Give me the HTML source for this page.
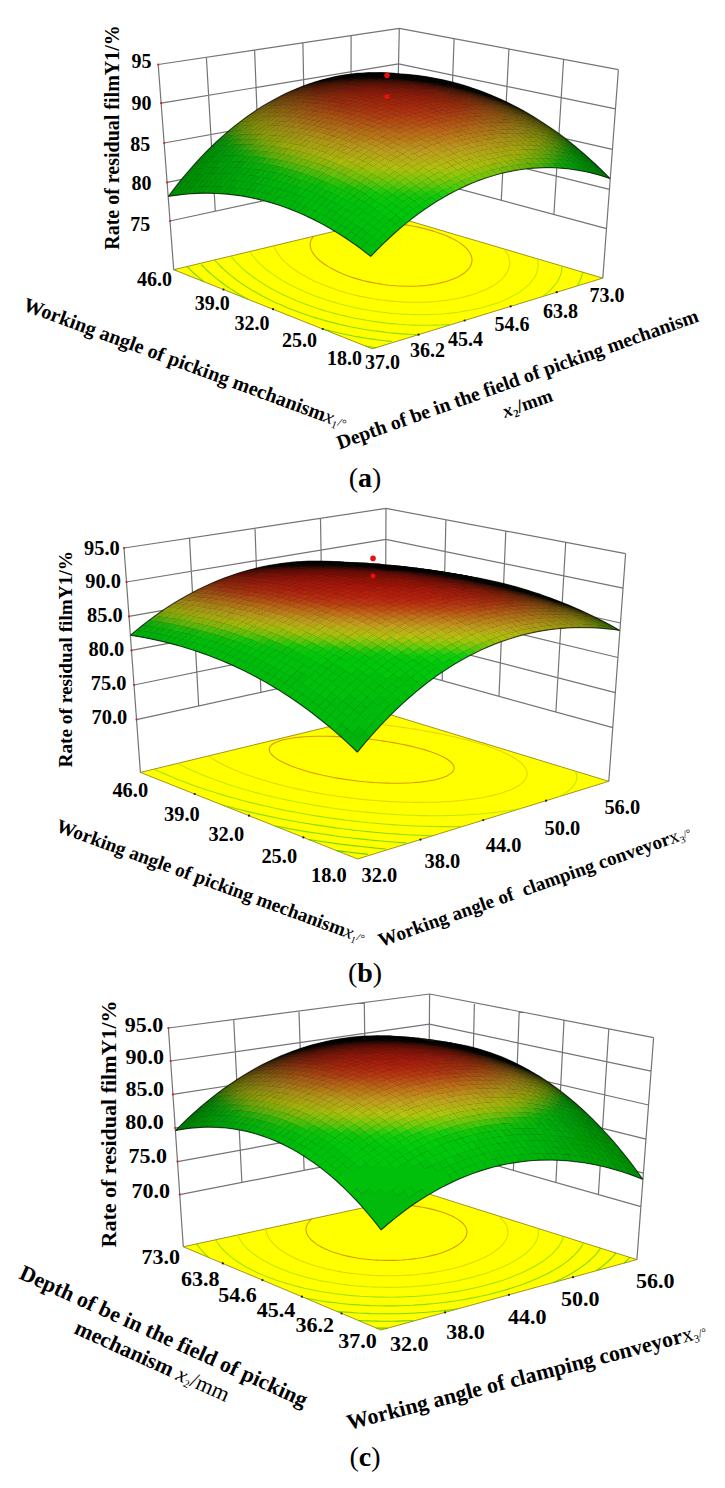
<!DOCTYPE html>
<html><head><meta charset="utf-8"><style>
html,body{margin:0;padding:0;background:#fff;}
svg{display:block;font-family:"Liberation Serif",serif;font-weight:bold;}
</style></head><body>
<svg width="725" height="1488" viewBox="0 0 725 1488">
<path d="M173.7 269.7L158.2 64.5M215.3 211.2L206.4 57.3M260.5 201.4L254.6 50.1M305.7 191.7L302.9 42.8M350.9 181.9L351.1 35.6M396.2 172.1L399.3 28.4M158.2 64.5L399.3 28.4M161.1 103.2L398.5 63.9M164.1 143L397.7 100.5M167.1 182.4L396.9 136.6M170 221L396.2 172.1M602.8 278.1L618.4 69.6M553.9 214.5L563.6 59.3M501.3 200.4L508.9 49M448.8 186.2L454.1 38.7M396.2 172.1L399.3 28.4M618.4 69.6L399.3 28.4M615.5 108.9L398.5 63.9M612.4 149.4L397.7 100.5M609.4 189.4L396.9 136.6M606.5 228.6L396.2 172.1" stroke="#747474" stroke-width="1.20" fill="none"/>
<path d="M372.4 348.8L173.7 269.7L395.2 216.8L602.8 278.1Z" fill="#ffff00" stroke="#8a7a00" stroke-width=".8"/>
<path d="M313.5 236.3L312.6 237.4L311.9 238.5L311.4 239.6L310.9 240.7L310.5 241.8L310.3 243.1L310.2 244.3L310.3 245.6L310.4 247L310.8 248.4L311.3 249.9L311.8 250.9L312.3 252L313 253.1L314.2 254.9L315.2 256.1L316.1 257.1L317.7 258.8L319.1 260L320.2 261L322.5 262.8L323.8 263.7L326.4 265.5L327.8 266.4L330.7 268.1L333.8 269.8L335.5 270.6L338.9 272.2L342.4 273.8L346.2 275.3L350.2 276.7L354.5 278.1L358.9 279.4L363.6 280.7L366.6 281.4L371.2 282.4L376.1 283.3L379.6 283.9L383.4 284.5L388.9 285.2L392.3 285.5L395.8 285.8L400 286L404.6 286.2L408.8 286.2L412.8 286.2L417.7 286L423.5 285.6L426.7 285.3L431.6 284.6L435.4 284L440.6 282.9L445.4 281.7L449.7 280.3L453.7 278.8L456.9 277.4L458.9 276.4L461.6 274.8L463.3 273.7L464.6 272.7L466.7 270.9L467.9 269.7L468.8 268.6L469.6 267.5L470.4 266.2L471.1 264.8L471.5 263.4L471.8 262.1L472 260.9L472 259.7L471.9 258.5L471.7 257.3L471.3 256L470.7 254.5L470 253L469.3 252L468.6 251L467.6 249.6L466.1 248.1L465.2 247.2L463.8 245.9L462 244.5L460.8 243.6L458.3 241.9L457 241.1L454.2 239.5L452.7 238.8L449.6 237.2L446.3 235.8L444.6 235.1L441 233.7L437.2 232.4L433.3 231.1L429.1 229.9L424.7 228.7L420 227.6L417.5 227L412.5 226L407.2 225.1L404.4 224.6L398.9 223.9L395.4 223.5L392.2 223.1L386.8 222.6L381.7 222.3L377.6 222.1L373.4 222" stroke="#cc7a00" stroke-width="1.1" stroke-opacity=".75" fill="none"/>
<path d="M274 245.7L274.4 246.8L274.8 247.9L275.3 249.2L276.1 250.8L277 252.2L277.6 253.3L278.3 254.3L279.6 256L280.7 257.4L281.6 258.4L283 259.9L284.4 261.4L285.4 262.4L287.6 264.3L288.7 265.2L290.6 266.8L292.3 268.1L294.2 269.5L296.2 270.8L298.7 272.5L300.3 273.5L303.3 275.3L304.8 276.1L307.9 277.8L311.2 279.5L314.2 280.9L316.3 281.9L319.9 283.5L323.7 285.1L327.5 286.6L331.6 288.1L335.7 289.5L340.1 290.9L344.5 292.3L347 293L351.6 294.2L356.6 295.4L359.5 296.1L364.4 297.1L368.6 297.9L372.8 298.7L376.1 299.2L381.8 300L385 300.4L388.8 300.9L394.3 301.4L398.7 301.7L402.5 301.9L406.4 302.1L410.5 302.2L414.8 302.3L419.3 302.3L424.2 302.2L429 301.9L432.6 301.7L436 301.5L442.1 300.8L445.6 300.4L450.4 299.7L454.3 299L459.7 298L464.3 296.9L467.2 296.1L471.9 294.8L476.2 293.4L478.3 292.6L482.2 291.1L485.9 289.5L487.7 288.6L491 286.8L492.6 285.9L495.5 284.1L496.9 283.1L498.8 281.7L500.6 280.1L501.8 279.1L502.8 278L504.3 276.3L505.6 274.7L506.3 273.6L507 272.4L507.6 271.3L508.2 270.1L508.7 268.8L509.1 267.5L509.4 266.2L509.6 264.9L509.7 263.7L509.7 262.4L509.6 261.1L509.4 259.7L509.1 258.3L508.7 256.8L508.2 255.6L507.7 254.6L507.2 253.5L506.5 252.3L505.5 250.7L504.6 249.5" stroke="#e0c800" stroke-width="1.1" stroke-opacity=".75" fill="none"/>
<path d="M250 251.5L250.6 252.5L251.5 254L252.8 255.7L253.5 256.7L254.4 257.7L256 259.6L257 260.8L257.9 261.8L259.9 263.8L261 264.8L262.4 266.1L264.2 267.7L265.4 268.6L267.7 270.5L268.9 271.5L271.5 273.4L272.8 274.3L275.5 276.1L276.8 277L279.7 278.8L282.6 280.6L284.1 281.5L287.2 283.2L290.4 285L292.1 285.8L295.4 287.5L298.9 289.1L302.5 290.8L305.5 292.1L308 293.2L311.9 294.7L315.9 296.2L320 297.7L324.2 299.2L326.3 299.9L330.8 301.3L335.3 302.6L340 304L343.2 304.8L347.4 305.8L352.5 307L355.1 307.6L360.5 308.7L363.2 309.3L368.9 310.3L371.9 310.8L377.5 311.6L381 312.1L384.2 312.5L389.6 313.1L394.3 313.5L397.9 313.8L401.6 314.1L405.3 314.3L409.9 314.5L414.4 314.6L418.8 314.7L422.9 314.7L427 314.6L431.5 314.5L436.7 314.3L441.9 314L445.3 313.7L448.7 313.4L455.1 312.6L458.2 312.2L464.1 311.3L467.1 310.8L472.6 309.8L476.2 309L480.5 308L485.4 306.7L490 305.3L494.5 303.9L498.7 302.4L501.1 301.5L504.7 300L508.4 298.3L510.1 297.4L513.5 295.6L515.5 294.5L518.2 292.9L519.7 291.9L522.5 289.9L523.8 288.9L525.3 287.7L527.4 285.8L528.5 284.8L529.6 283.7L530.9 282.3L532.2 280.6L533.2 279.2L534 278.1L534.7 276.9L535.4 275.7L536 274.5L536.6 273.1L537 271.7L537.4 270.4L537.7 269.1L537.9 267.8L538.1 266.5L538.1 265.3L538.1 264L538.1 262.8L537.9 261.6L537.7 260.2L537.3 258.8" stroke="#b0e000" stroke-width="1.1" stroke-opacity=".75" fill="none"/>
<path d="M230.9 256L232.1 257.6L233.4 259.1L234.2 260.2L235.5 261.6L237 263.2L238 264.2L239.7 265.9L241 267.2L242.2 268.2L244.3 270.1L245.5 271.1L247.8 273L249 274L251.5 275.9L252.8 276.8L255.4 278.7L256.8 279.6L259.5 281.5L261 282.4L263.9 284.2L266.8 286L268.4 286.9L271.5 288.7L274.7 290.4L276.3 291.3L279.7 293L283.1 294.7L286.6 296.3L290.3 298L292.1 298.8L295.9 300.4L299.7 301.9L303.7 303.5L307.8 305L312 306.5L314.9 307.5L318.4 308.7L322.9 310.1L327.5 311.5L332.2 312.8L334.6 313.4L339.5 314.7L344.6 315.9L347.2 316.5L352.5 317.7L355.2 318.3L360.7 319.3L363.6 319.8L369.4 320.8L372.4 321.3L376.4 321.9L381.8 322.6L385.1 323L388.5 323.4L394 323.9L398.8 324.3L402.5 324.5L406.2 324.8L410.1 325L414.1 325.1L418.3 325.2L422.6 325.3L426.9 325.3L431.5 325.2L436.4 325.1L441.5 324.9L446.1 324.6L449.6 324.4M562 266.1L562 267.4L561.9 268.7L561.7 270L561.5 271.3L561.2 272.6L560.9 273.9L560.5 275.1L560 276.4L559.5 277.6L558.8 278.9L558 280.4L557.1 282L556 283.5L555.2 284.7L554.3 285.8L553.4 286.9L551.8 288.6L550.3 290.2L549.1 291.3L547.9 292.4L545.5 294.4L544.2 295.4L542.7 296.6" stroke="#88d800" stroke-width="1.1" stroke-opacity=".75" fill="none"/>
<path d="M214.7 259.9L215.5 260.9L217.4 263L218.3 264L219.4 265.1L221.3 267L222.3 268L224.1 269.7L225.5 271L226.8 272.2L228.9 274L230.1 274.9L232.5 276.9L233.8 277.8L236.3 279.7L237.6 280.7L240.3 282.6L241.8 283.7L244.4 285.4L247.2 287.2L248.7 288.1L251.7 290L253.9 291.2L256.3 292.6L259.5 294.4L262.7 296.2L264.4 297L267.7 298.8L271.2 300.5L274.7 302.2L278.2 303.7L280.2 304.6L284 306.3L287.8 307.9L291.7 309.4L295.8 311L299.9 312.5L304.1 314L306.4 314.8L310.6 316.2L315.1 317.6L319.7 319L324.4 320.4L326.8 321.1L331.6 322.4L336.6 323.6L339.2 324.2L344.4 325.4L347.1 326L352.5 327.2L355.3 327.7L361 328.7L363.9 329.3L369.7 330.2L372.9 330.7L376.3 331.1L382.4 331.9L385.6 332.3L389 332.7L393.7 333.1L399 333.6L403.1 333.9L406.8 334.1L410.7 334.3L414.6 334.5L418.7 334.6M582.6 272.1L582.4 273.4L582.1 274.7L581.7 276L581.3 277.3L580.8 278.5L580.2 280L579.5 281.5L578.8 282.9L577.9 284.5L577.1 285.8" stroke="#66d000" stroke-width="1.1" stroke-opacity=".75" fill="none"/>
<path d="M321.5 328.5L325.5 329.6L330.4 330.9L333 331.5L338.2 332.7L342.4 333.7L346.2 334.5L350.9 335.5L354.5 336.2L358.6 336.9L363.2 337.7L366.2 338.2L372.3 339.1L375.4 339.5L378.6 340L384.5 340.7L388.4 341.1L391.8 341.4M600.7 277.5L600.7 277.5L600.3 278.7L600.2 278.9M247.7 299.2L245.7 298L242.6 296.2L239.5 294.4L238 293.5L235 291.7L232.9 290.3L230.7 288.9L227.9 287L226.6 286.1L223.9 284.2L222.6 283.2L220 281.3L218.7 280.3L216.3 278.4L215.1 277.4L212.7 275.4L211.6 274.4L209.4 272.5L208.3 271.5L206.7 270L205.1 268.4L204.1 267.4L202.2 265.5L201.2 264.4" stroke="#55cc00" stroke-width="1.1" stroke-opacity=".75" fill="none"/>
<path d="M365.3 346L367 346.3L370.1 346.7L371.9 347L373.2 347.2L376.4 347.6M203.9 281.7L202.4 280.5L200.4 278.9L198.9 277.6L197.3 276.2L195.5 274.6L194.4 273.6L192.2 271.6L191.2 270.6L189.5 268.9L188.1 267.5L187.2 266.5" stroke="#44c400" stroke-width="1.1" stroke-opacity=".75" fill="none"/>
<path d="M176.5 270.8L176.1 270.4L175.1 269.4" stroke="#33bc00" stroke-width="1.1" stroke-opacity=".75" fill="none"/>
<path d="M322.7 329.0h.1M273.0 309.2h.1M223.4 289.5h.1M418.5 334.7h.1M464.6 320.5h.1M510.6 306.4h.1M556.7 292.2h.1" stroke="#222" stroke-width="2.2" stroke-linecap="round"/>
<g><path fill="#1e2a10" d="M206 152L195 163.7L184.2 176.2L173.5 189.5L168.2 196.5L182.9 194.5L197.7 193.4L212.6 193.3L222.6 193.8L237.7 195.4L247.9 197.1L263.1 200.5L273.3 203.4L288.6 208.6L298.9 212.7L314.3 219.9L324.5 225.3L340 234.4L350.2 241.2L360.5 248.5L370.8 256.4L382.6 244.4L394.5 233.3L406.4 223.1L412.4 218.3L424.5 209.5L436.6 201.5L442.6 197.9L454.8 191.2L466.9 185.4L473 182.8L485.2 178.2L497.3 174.5L503.4 172.9L515.5 170.4L527.6 168.7L533.7 168.2L545.7 167.7L557.6 168L563.5 168.4L575.4 169.8L581.2 170.8L592.9 173.4L598.7 175L610.2 178.7L600.1 168.6L584.8 154.5L574.5 145.8L559 133.8L548.5 126.4L532.7 116.2L522.2 110.1L506.2 101.9L495.5 97L479.5 90.6L468.7 86.9L452.5 82.2L441.7 79.6L425.4 76.6L408.7 74.5L392 73.1L380.6 72.6L368.8 72.7L357 73.4L345.1 74.9L333.3 77.1L321.4 80.1L309.6 83.8L297.8 88.2L286 93.4L274.4 99.4L262.7 106.1L251.2 113.7L239.7 122.1L228.4 131.2L217.1 141.2Z"/><path fill="#000" d="M397.8 73.5l-5.5-.3 6.1 .7 5.5 .3zM391.8 73.1l-5.4-.3 6.2 .4 5.4 .4zM403.2 73.9l-5.5-.4 6.2 .7 5.4 .4zM385.9 72.8l-5.4-.2 6.2 .2 5.4 .3zM397.3 73.5l-5.5-.4 6.2 .4 5.4 .5zM408.6 74.5l-5.4-.5 6.1 .6 5.4 .6zM380 72.8l-5.4-.3 6.2 0 5.4 .3zM391.3 73.2l-5.4-.4 6.2 .3 5.4 .4zM414 75.1l-5.4-.6 6.1 .7 5.4 .7zM402.7 74l-5.4-.5 6.1 .5 5.4 .5zM374.1 72.9l-5.4-.2 6.1-.2 5.5 .3zM385.4 73.1l-5.4-.4 6.2 .1 5.4 .4zM419.4 75.9l-5.4-.8 6.1 .7 5.5 .9zM396.8 73.7l-5.5-.5 6.2 .3 5.4 .5zM408.1 74.6l-5.4-.6 6.1 .5 5.4 .7zM368.2 73.2l-5.4-.2 6.1-.4 5.4 .2zM379.5 73.2l-5.4-.4 6.1-.1 5.5 .4zM424.8 76.8l-5.4-.9 6.2 .7 5.4 .9zM390.9 73.6l-5.5-.5 6.2 0 5.4 .6zM413.5 75.4l-5.4-.8 6.1 .5 5.5 .8zM402.2 74.3l-5.4-.6 6.1 .2 5.4 .7zM362.3 73.6l-5.4-.2 6.1-.5 5.4 .2zM373.6 73.4l-5.4-.3 6.1-.3 5.4 .3zM384.9 73.6l-5.4-.5 6.1-.1 5.5 .5zM430.3 77.8l-5.5-1.1 6.2 .8 5.4 1zM396.3 74.1l-5.5-.6 6.2 .1 5.4 .6zM418.9 76.2l-5.4-.9 6.1 .5 5.5 1zM407.6 75l-5.4-.8 6.1 .3 5.4 .8zM356.3 74.3l-5.4-.2 6.1-.8 5.5 .2zM367.7 73.9l-5.5-.4 6.2-.5 5.4 .4zM379 73.8l-5.4-.4 6.1-.4 5.4 .5zM435.7 78.8l-5.4-1.1 6.1 .8 5.4 1.2zM390.3 74.1l-5.4-.6 6.1-.1 5.5 .7zM424.4 77.1l-5.5-1 6.2 .6 5.4 1zM401.7 74.8l-5.5-.8 6.2 .2 5.4 .7zM413 75.8l-5.4-.9 6.1 .3 5.5 1zM350.4 75.1l-5.4-.2 6.1-.9 5.4 .2zM361.7 74.5l-5.4-.3 6.1-.8 5.5 .4zM373.1 74.2l-5.5-.4 6.2-.5 5.4 .4zM441.1 80l-5.4-1.2 6.1 .8 5.4 1.3zM384.4 74.3l-5.4-.6 6.1-.3 5.4 .6zM429.8 78.2l-5.5-1.1 6.2 .5 5.4 1.2zM395.7 74.7l-5.4-.7 6.1 0 5.5 .7zM418.4 76.7l-5.4-1 6.1 .4 5.5 1zM407.1 75.5l-5.4-.8 6.1 .1 5.4 .9zM344.5 76.1l-5.4-.2 6.1-1.1 5.4 .2zM355.8 75.2l-5.4-.2 6.1-.9 5.4 .3zM367.1 74.8l-5.4-.4 6.1-.7 5.5 .4zM446.5 81.3l-5.4-1.3 6.1 .8 5.4 1.4zM378.5 74.6l-5.5-.5 6.1-.5 5.5 .6zM435.2 79.3l-5.4-1.2 6.1 .6 5.4 1.3zM389.8 74.9l-5.4-.7 6.1-.3 5.5 .8zM423.9 77.7l-5.5-1.1 6.1 .4 5.5 1.1zM401.2 75.5l-5.5-.9 6.1 0 5.5 .9zM412.5 76.4l-5.4-1 6.1 .2 5.4 1zM338.6 77.2l-5.5-.1 6.1-1.3 5.5 .1zM349.9 76.2l-5.5-.2 6.1-1.1 5.5 .2zM361.2 75.5l-5.5-.4 6.2-.8 5.4 .4zM451.9 82.8l-5.4-1.6 6.1 .9 5.4 1.6zM372.5 75.2l-5.4-.5 6.1-.7 5.4 .5zM440.6 80.6l-5.4-1.4 6.1 .7 5.4 1.4zM383.9 75.2l-5.5-.7 6.1-.4 5.5 .7zM429.3 78.8l-5.5-1.2 6.1 .4 5.5 1.3zM395.2 75.6l-5.4-.8 6.1-.3 5.5 .9zM417.9 77.4l-5.4-1.1 6.1 .2 5.5 1.1zM406.6 76.3l-5.5-.9 6.2 0 5.4 .9zM332.6 78.6l-5.4-.1 6.1-1.5 5.4 .1zM343.9 77.3l-5.4-.2 6.1-1.3 5.4 .3zM355.2 76.4l-5.4-.3 6.1-1.1 5.5 .4zM457.3 84.3l-5.4-1.6 6.1 .8 5.4 1.7zM366.6 75.9l-5.5-.5 6.1-.8 5.5 .5zM446 82l-5.4-1.5 6.1 .7 5.4 1.5zM377.9 75.7l-5.4-.6 6.1-.7 5.4 .7zM326.7 80.1l-5.4 0 6.1-1.7 5.4 0zM434.7 80.1l-5.5-1.4 6.1 .5 5.5 1.3zM389.3 75.8l-5.5-.7 6.1-.4 5.5 .8zM423.3 78.5l-5.4-1.2 6.1 .2 5.5 1.2zM400.6 76.4l-5.4-.9 6.1-.2 5.5 .9zM412 77.2l-5.5-1 6.2 0 5.4 1.1zM338 78.6l-5.4-.1 6.1-1.5 5.4 .2zM349.3 77.5l-5.5-.3 6.2-1.2 5.4 .3zM462.7 85.9l-5.4-1.7 6.1 .9 5.4 1.8zM360.6 76.8l-5.4-.5 6.1-1 5.4 .5z"/><path fill="#060000" d="M320.8 81.8l-5.4 0 6.1-1.8 5.4 0z"/><path fill="#000" d="M451.4 83.5l-5.4-1.6 6.1 .7 5.4 1.6zM371.9 76.4l-5.4-.6 6.1-.8 5.5 .6zM440.1 81.4l-5.5-1.5 6.1 .5 5.5 1.5zM383.3 76.3l-5.5-.7 6.2-.6 5.4 .7zM332 80.1l-5.4-.1 6.1-1.6 5.4 .1zM428.7 79.7l-5.4-1.3 6.1 .2 5.5 1.4zM394.7 76.6l-5.5-.9 6.1-.3 5.5 .9zM417.4 78.3l-5.5-1.2 6.2 .1 5.4 1.2zM406 77.3l-5.4-1 6.1-.2 5.5 1.1zM343.3 78.8l-5.4-.3 6.1-1.4 5.4 .3z"/><path fill="#180600" d="M314.9 83.7l-5.4 .1 6-2.1 5.4 0z"/><path fill="#000" d="M354.6 77.8l-5.4-.4 6.1-1.2 5.5 .4zM468.1 87.7l-5.4-1.9 6.1 1 5.4 1.9zM366 77.2l-5.5-.5 6.2-1 5.4 .5zM456.8 85.1l-5.4-1.7 6.1 .7 5.4 1.8z"/><path fill="#120600" d="M326.1 81.8l-5.4-.1 6.1-1.8 5.4 .1z"/><path fill="#000" d="M377.3 77l-5.4-.7 6.1-.8 5.5 .7zM445.5 82.9l-5.5-1.6 6.1 .5 5.5 1.6zM388.7 77l-5.5-.8 6.2-.6 5.4 .9zM434.1 81l-5.4-1.4 6.1 .3 5.5 1.4zM400 77.5l-5.4-1 6.1-.3 5.5 1zM422.8 79.5l-5.5-1.3 6.2 .1 5.4 1.3zM411.4 78.3l-5.4-1.1 6.1-.2 5.5 1.2z"/><path fill="#0c0000" d="M337.4 80.3l-5.4-.3 6.1-1.6 5.4 .3z"/><path fill="#2a1206" d="M308.9 85.8l-5.3 .1 6-2.3 5.4 0z"/><path fill="#000" d="M348.7 79.1l-5.4-.4 6.1-1.4 5.4 .4zM473.5 89.6l-5.4-2 6 1 5.5 2zM360 78.3l-5.4-.6 6.1-1.2 5.4 .6z"/><path fill="#240c06" d="M320.2 83.7l-5.4-.1 6.1-2 5.4 .1z"/><path fill="#000" d="M462.2 86.8l-5.4-1.8 6.1 .8 5.4 1.8zM371.4 77.8l-5.5-.7 6.1-1 5.5 .7zM450.9 84.4l-5.5-1.7 6.1 .6 5.5 1.7zM382.7 77.7l-5.4-.9 6.1-.7 5.5 .8zM439.5 82.4l-5.4-1.5 6.1 .3 5.5 1.6z"/><path fill="#1e0600" d="M331.4 81.9l-5.4-.2 6.1-1.8 5.4 .3z"/><path fill="#000" d="M394.1 77.9l-5.5-1 6.2-.5 5.4 1z"/><path fill="#361806" d="M303 88.1l-5.3 .1 6-2.4 5.4-.1z"/><path fill="#000" d="M428.2 80.7l-5.5-1.4 6.2 .2 5.4 1.4zM405.4 78.5l-5.4-1.1 6.1-.3 5.5 1.1zM416.8 79.4l-5.4-1.2 6.1-.1 5.5 1.3z"/><path fill="#180600" d="M342.7 80.5l-5.4-.3 6.1-1.6 5.4 .4z"/><path fill="#000" d="M478.9 91.6l-5.5-2.1 6.1 1 5.4 2.1z"/><path fill="#301206" d="M314.3 85.8l-5.4-.1 6-2.2 5.4 .1z"/><path fill="#120600" d="M354 79.5l-5.4-.5 6.1-1.4 5.5 .5z"/><path fill="#000" d="M467.6 88.7l-5.5-2 6.1 .8 5.5 2z"/><path fill="#060000" d="M365.4 78.8l-5.5-.6 6.2-1.2 5.4 .7z"/><path fill="#000" d="M456.3 86.1l-5.5-1.8 6.1 .6 5.5 1.9z"/><path fill="#421e06" d="M297.2 90.6l-5.4 .1 6-2.6 5.4-.1z"/><path fill="#300c06" d="M325.5 83.8l-5.4-.2 6.1-2 5.4 .2z"/><path fill="#000" d="M376.7 78.4l-5.4-.7 6.1-1 5.5 .8zM444.9 84l-5.4-1.7 6.1 .4 5.4 1.7zM388.1 78.5l-5.5-1 6.2-.7 5.4 1zM433.6 82.1l-5.5-1.5 6.1 .2 5.5 1.5zM399.5 78.8l-5.5-1 6.1-.5 5.5 1.1zM422.2 80.7l-5.5-1.4 6.2 0 5.4 1.4zM410.8 79.6l-5.4-1.2 6.1-.3 5.5 1.2z"/><path fill="#2a0c06" d="M336.8 82.2l-5.4-.4 6.1-1.7 5.4 .3z"/><path fill="#421806" d="M308.3 88l-5.3 0 6-2.4 5.4 0z"/><path fill="#000" d="M484.2 93.7l-5.4-2.3 6.1 1.1 5.4 2.3z"/><path fill="#240606" d="M348.1 80.9l-5.5-.5 6.2-1.5 5.4 .5z"/><path fill="#000" d="M472.9 90.6l-5.4-2.1 6.1 .9 5.4 2.1z"/><path fill="#4e2a0c" d="M291.3 93.3l-5.4 .1 6-2.8 5.4-.1z"/><path fill="#3c1206" d="M319.6 85.8l-5.4-.1 6-2.2 5.5 .2z"/><path fill="#1e0600" d="M359.4 80l-5.4-.6 6.1-1.4 5.4 .7z"/><path fill="#000" d="M461.6 87.9l-5.4-1.9 6.1 .6 5.4 2z"/><path fill="#180600" d="M370.7 79.4l-5.4-.7 6.1-1.1 5.5 .7z"/><path fill="#000" d="M450.3 85.6l-5.4-1.8 6.1 .4 5.4 1.9z"/><path fill="#120000" d="M382.1 79.2l-5.4-.9 6.1-.9 5.5 1z"/><path fill="#361206" d="M330.8 84l-5.4-.3 6.1-2 5.4 .3z"/><path fill="#4e2406" d="M302.4 90.5l-5.3 0 6-2.6 5.4 0z"/><path fill="#000" d="M439 83.6l-5.5-1.6 6.1 .2 5.5 1.7z"/><path fill="#060000" d="M393.5 79.4l-5.5-1 6.2-.7 5.4 1z"/><path fill="#000" d="M427.6 82l-5.5-1.4 6.2-.1 5.4 1.5zM404.9 79.9l-5.5-1.2 6.1-.4 5.5 1.2zM416.2 80.8l-5.4-1.3 6.1-.3 5.5 1.4zM489.6 95.9l-5.4-2.4 6 1.1 5.5 2.4z"/><path fill="#54360c" d="M285.4 96.1l-5.3 .2 6-3 5.3-.2z"/><path fill="#360c06" d="M342.1 82.5l-5.4-.4 6.1-1.8 5.4 .5z"/><path fill="#481806" d="M313.6 88.1l-5.3-.2 6-2.3 5.4 .1z"/><path fill="#000" d="M478.3 92.7l-5.4-2.2 6.1 .9 5.4 2.2z"/><path fill="#300c06" d="M353.4 81.4l-5.4-.6 6.1-1.5 5.5 .6z"/><path fill="#000" d="M467 89.9l-5.4-2.1 6.1 .7 5.4 2.1z"/><path fill="#542a0c" d="M296.5 93.1l-5.3 .1 6-2.8 5.4-.1z"/><path fill="#2a0606" d="M364.8 80.6l-5.5-.7 6.2-1.3 5.4 .7z"/><path fill="#481206" d="M324.9 86l-5.4-.3 6.1-2.1 5.4 .2z"/><path fill="#000" d="M455.7 87.4l-5.5-1.9 6.2 .4 5.4 2z"/><path fill="#240600" d="M376.1 80.2l-5.4-.9 6.1-1.1 5.5 .9z"/><path fill="#603c0c" d="M279.6 99.2l-5.4 .2 6-3.2 5.4-.2z"/><path fill="#000" d="M444.3 85.3l-5.4-1.8 6.1 .2 5.5 1.8zM494.9 98.3l-5.4-2.5 6.1 1.1 5.4 2.5z"/><path fill="#1e0600" d="M387.5 80.1l-5.5-1 6.2-.9 5.4 1.1z"/><path fill="#000" d="M433 83.5l-5.5-1.6 6.2 0 5.4 1.7z"/><path fill="#180600" d="M398.9 80.4l-5.5-1.1 6.2-.7 5.4 1.2z"/><path fill="#421206" d="M336.2 84.3l-5.5-.4 6.1-2 5.5 .5z"/><path fill="#060000" d="M421.6 82.1l-5.4-1.4 6.1-.2 5.5 1.4z"/><path fill="#0c0000" d="M410.2 81.1l-5.4-1.3 6.1-.4 5.5 1.3z"/><path fill="#541e0c" d="M307.7 90.5l-5.3-.1 6-2.6 5.4 .1z"/><path fill="#000" d="M483.7 94.9l-5.4-2.3 6 .9 5.5 2.3z"/><path fill="#3c0c06" d="M347.5 82.9l-5.5-.5 6.2-1.7 5.4 .5z"/><path fill="#60300c" d="M290.7 96l-5.4 .1 6-3.1 5.4 0z"/><path fill="#000" d="M472.4 91.9l-5.4-2.2 6.1 .7 5.4 2.2z"/><path fill="#4e1806" d="M318.9 88.2l-5.3-.2 6-2.4 5.4 .3z"/><path fill="#66480c" d="M273.7 102.4l-5.3 .3 6-3.4 5.3-.3z"/><path fill="#3c0c06" d="M358.8 81.9l-5.5-.6 6.2-1.5 5.4 .7z"/><path fill="#000" d="M461.1 89.3l-5.5-2 6.1 .4 5.5 2.1z"/><path fill="#360c06" d="M370.1 81.3l-5.4-.8 6.1-1.3 5.5 .9z"/><path fill="#000" d="M500.3 100.7l-5.4-2.6 6 1.2 5.4 2.6z"/><path fill="#5a2a0c" d="M301.8 93.1l-5.3-.1 6-2.7 5.4 0z"/><path fill="#4e1806" d="M330.2 86.3l-5.4-.4 6.1-2.1 5.4 .3z"/><path fill="#060000" d="M449.7 87l-5.4-1.9 6.1 .3 5.5 1.9z"/><path fill="#300606" d="M381.5 81l-5.5-.9 6.2-1.1 5.4 1z"/><path fill="#0c0600" d="M438.4 85.1l-5.5-1.7 6.2 0 5.4 1.8z"/><path fill="#2a0606" d="M392.9 81.1l-5.5-1.1 6.2-.8 5.4 1.1z"/><path fill="#180600" d="M427 83.6l-5.5-1.6 6.2-.2 5.5 1.6z"/><path fill="#240600" d="M404.2 81.6l-5.4-1.3 6.1-.6 5.5 1.3z"/><path fill="#663c0c" d="M284.8 99l-5.3 .1 6-3.2 5.3-.1z"/><path fill="#1e0600" d="M415.6 82.4l-5.4-1.4 6.1-.4 5.5 1.4z"/><path fill="#000" d="M489 97.2l-5.4-2.4 6.1 .9 5.4 2.5z"/><path fill="#481206" d="M341.5 84.7l-5.4-.5 6.1-1.9 5.4 .5z"/><path fill="#6c5412" d="M267.9 105.9l-5.3 .3 6-3.7 5.3-.2z"/><path fill="#5a1e0c" d="M313 90.6l-5.4-.2 6.1-2.6 5.4 .2z"/><path fill="#060000" d="M477.7 94.1l-5.4-2.3 6.1 .7 5.4 2.3z"/><path fill="#481206" d="M352.8 83.5l-5.4-.7 6.1-1.7 5.4 .7z"/><path fill="#66300c" d="M295.9 95.9l-5.3 0 6-3 5.4 0z"/><path fill="#0c0600" d="M466.4 91.3l-5.4-2.2 6.1 .5 5.5 2.2z"/><path fill="#060000" d="M505.6 103.3l-5.4-2.7 6.1 1.2 5.4 2.8z"/><path fill="#420c06" d="M364.1 82.6l-5.4-.8 6.1-1.4 5.5 .8z"/><path fill="#5a1806" d="M324.3 88.4l-5.4-.3 6-2.3 5.5 .3z"/><path fill="#6c4812" d="M279 102.2l-5.4 .2 6-3.4 5.3-.2z"/><path fill="#6c6012" d="M262.1 109.5l-5.3 .4 6-3.9 5.2-.3z"/><path fill="#120600" d="M455.1 88.9l-5.4-2 6.1 .3 5.4 2z"/><path fill="#3c0c06" d="M375.5 82.1l-5.4-.9 6.1-1.3 5.5 1z"/><path fill="#1e0600" d="M443.7 86.8l-5.4-1.8 6.1 0 5.5 1.9z"/><path fill="#3c0c06" d="M386.9 82l-5.5-1.1 6.2-1 5.4 1.1z"/><path fill="#0c0600" d="M494.4 99.7l-5.4-2.6 6 .9 5.4 2.7z"/><path fill="#541806" d="M335.5 86.6l-5.4-.4 6.1-2.2 5.4 .6z"/><path fill="#602a0c" d="M307.1 93.2l-5.4-.2 6.1-2.8 5.4 .2z"/><path fill="#240600" d="M432.4 85.1l-5.5-1.7 6.2-.1 5.4 1.7z"/><path fill="#360c06" d="M398.2 82.2l-5.4-1.2 6.1-.8 5.5 1.3z"/><path fill="#2a0606" d="M421 83.8l-5.5-1.5 6.2-.4 5.5 1.6z"/><path fill="#300c06" d="M409.6 82.8l-5.4-1.3 6.1-.6 5.5 1.4z"/><path fill="#541206" d="M346.8 85.2l-5.4-.6 6.1-1.9 5.5 .6z"/><path fill="#120c00" d="M483.1 96.4l-5.4-2.5 6.1 .8 5.4 2.4z"/><path fill="#6c3c0c" d="M290.1 98.9l-5.4 0 6-3.2 5.4 0z"/><path fill="#72660c" d="M256.3 113.4l-5.2 .3 5.9-4 5.2-.3z"/><path fill="#725412" d="M273.1 105.6l-5.3 .2 6-3.6 5.3-.1z"/><path fill="#601e0c" d="M318.3 90.8l-5.4-.3 6.1-2.5 5.4 .3z"/><path fill="#120c00" d="M510.9 106l-5.3-2.8 6 1.2 5.4 2.9z"/><path fill="#4e1206" d="M358.2 84.1l-5.5-.7 6.2-1.7 5.4 .8z"/><path fill="#1e0c00" d="M471.8 93.4l-5.4-2.3 6.1 .6 5.4 2.3z"/><path fill="#4e0c06" d="M369.5 83.4l-5.4-.9 6.1-1.4 5.5 .9z"/><path fill="#240c06" d="M460.5 90.8l-5.5-2.1 6.2 .4 5.4 2.1z"/><path fill="#6c300c" d="M301.2 95.9l-5.4-.1 6.1-2.9 5.4 .1z"/><path fill="#601806" d="M329.6 88.8l-5.4-.5 6.1-2.3 5.4 .5z"/><path fill="#181206" d="M499.7 102.2l-5.4-2.7 6.1 1 5.4 2.8z"/><path fill="#480c06" d="M380.9 83.1l-5.5-1.1 6.2-1.2 5.4 1.1z"/><path fill="#2a0c06" d="M449.1 88.6l-5.4-1.9 6.1 .1 5.5 2z"/><path fill="#724812" d="M284.2 102.1l-5.3 0 6-3.3 5.3-.1z"/><path fill="#72720c" d="M250.6 117.4l-5.3 .4 5.9-4.2 5.3-.4z"/><path fill="#420c06" d="M392.2 83.1l-5.4-1.2 6.1-1 5.5 1.2z"/><path fill="#300c06" d="M437.8 86.8l-5.5-1.8 6.2-.1 5.4 1.8z"/><path fill="#726012" d="M267.3 109.3l-5.3 .2 6-3.8 5.3-.2z"/><path fill="#420c06" d="M403.6 83.5l-5.4-1.4 6.1-.7 5.5 1.3z"/><path fill="#360c06" d="M426.4 85.3l-5.5-1.6 6.2-.4 5.4 1.7z"/><path fill="#3c0c06" d="M415 84.2l-5.5-1.5 6.2-.5 5.5 1.5z"/><path fill="#601806" d="M340.9 87.1l-5.5-.6 6.2-2 5.4 .6z"/><path fill="#241206" d="M488.4 98.8l-5.4-2.6 6.1 .8 5.4 2.6z"/><path fill="#66240c" d="M312.4 93.3l-5.4-.2 6.1-2.8 5.4 .3z"/><path fill="#1e1806" d="M516.3 108.9l-5.4-3 6 1.2 5.4 3.1z"/><path fill="#5a1206" d="M352.2 85.8l-5.5-.7 6.2-1.9 5.4 .8z"/><path fill="#2a1206" d="M477.2 95.7l-5.5-2.4 6.1 .5 5.5 2.5z"/><path fill="#723c0c" d="M295.3 98.9l-5.3-.1 6-3.1 5.3 .1z"/><path fill="#6c7e0c" d="M244.8 121.7l-5.2 .4 5.9-4.4 5.2-.4z"/><path fill="#661e0c" d="M323.6 91.1l-5.4-.4 6.1-2.5 5.4 .4z"/><path fill="#5a1206" d="M363.5 84.9l-5.4-.9 6.1-1.6 5.5 .9z"/><path fill="#724e12" d="M278.3 105.5l-5.3 .1 6-3.6 5.3-.1z"/><path fill="#786612" d="M261.5 113.1l-5.3 .2 6-4 5.2-.2z"/><path fill="#301206" d="M465.8 92.9l-5.4-2.2 6.1 .4 5.5 2.2z"/><path fill="#2a1806" d="M505 104.9l-5.4-2.8 6.1 1 5.4 2.9z"/><path fill="#541206" d="M374.9 84.3l-5.5-1 6.2-1.4 5.4 1.1z"/><path fill="#361206" d="M454.5 90.6l-5.5-2.1 6.2 .1 5.4 2.2z"/><path fill="#66180c" d="M334.9 89.2l-5.4-.5 6.1-2.3 5.4 .6z"/><path fill="#540c06" d="M386.2 84.1l-5.4-1.1 6.1-1.2 5.5 1.2z"/><path fill="#72300c" d="M306.5 96.1l-5.4-.3 6.1-2.9 5.3 .3z"/><path fill="#3c0c06" d="M443.1 88.6l-5.4-1.9 6.1-.1 5.5 1.9z"/><path fill="#301806" d="M493.8 101.3l-5.4-2.7 6.1 .8 5.4 2.7z"/><path fill="#4e0c06" d="M397.6 84.3l-5.4-1.3 6.1-1 5.5 1.4z"/><path fill="#420c06" d="M431.8 87l-5.5-1.8 6.2-.3 5.4 1.8z"/><path fill="#5a7e0c" d="M239.1 126.2l-5.2 .4 5.8-4.7 5.3-.4z"/><path fill="#480c06" d="M409 84.8l-5.5-1.4 6.2-.8 5.5 1.5z"/><path fill="#2a2406" d="M521.6 111.8l-5.4-3.1 6 1.3 5.4 3.2z"/><path fill="#420c06" d="M420.4 85.7l-5.5-1.6 6.2-.5 5.4 1.6z"/><path fill="#784212" d="M289.4 102.1l-5.3-.1 6-3.3 5.4 .1z"/><path fill="#661806" d="M346.2 87.7l-5.4-.7 6.1-2 5.4 .7z"/><path fill="#78720c" d="M255.7 117.1l-5.2 .3 5.9-4.2 5.3-.3z"/><path fill="#785a12" d="M272.5 109.1l-5.3 .1 6-3.8 5.3-.1z"/><path fill="#361806" d="M482.5 98l-5.4-2.5 6.1 .6 5.4 2.6z"/><path fill="#6c240c" d="M317.7 93.6l-5.4-.4 6.1-2.6 5.4 .4z"/><path fill="#601206" d="M357.5 86.6l-5.4-.9 6.1-1.8 5.5 .9z"/><path fill="#302406" d="M510.4 107.7l-5.4-3 6 1.1 5.4 3z"/><path fill="#3c1806" d="M471.2 95.2l-5.4-2.4 6.1 .4 5.4 2.4z"/><path fill="#48840c" d="M233.5 130.8l-5.2 .5 5.7-4.9 5.3-.4z"/><path fill="#78360c" d="M300.6 99l-5.4-.2 6.1-3.1 5.3 .2z"/><path fill="#601206" d="M368.9 85.8l-5.5-1 6.2-1.6 5.4 1z"/><path fill="#6c1e0c" d="M328.9 91.5l-5.4-.5 6.1-2.5 5.4 .6z"/><path fill="#421206" d="M459.9 92.6l-5.5-2.2 6.2 .2 5.4 2.3z"/><path fill="#787e0c" d="M250 121.3l-5.2 .3 5.8-4.4 5.3-.3z"/><path fill="#784e12" d="M283.6 105.4l-5.3 0 5.9-3.5 5.4 0z"/><path fill="#5a1206" d="M380.2 85.4l-5.4-1.2 6.1-1.4 5.5 1.2z"/><path fill="#362406" d="M499.1 103.9l-5.4-2.8 6.1 .9 5.4 2.8z"/><path fill="#303006" d="M526.8 114.9l-5.3-3.2 6 1.3 5.4 3.3z"/><path fill="#7e6612" d="M266.7 112.9l-5.3 .1 6-4 5.3-.1z"/><path fill="#421206" d="M448.5 90.5l-5.4-2 6.1-.1 5.5 2.1z"/><path fill="#5a1206" d="M391.6 85.3l-5.5-1.3 6.2-1.1 5.5 1.3z"/><path fill="#481206" d="M437.1 88.7l-5.4-1.9 6.1-.2 5.5 1.9z"/><path fill="#2a8a0c" d="M227.8 135.7l-5.2 .5 5.8-5.1 5.2-.5z"/><path fill="#541206" d="M403 85.6l-5.5-1.4 6.2-1 5.5 1.5z"/><path fill="#6c180c" d="M340.2 89.8l-5.4-.7 6.1-2.2 5.4 .7z"/><path fill="#4e1206" d="M425.8 87.3l-5.5-1.7 6.2-.5 5.4 1.8z"/><path fill="#541206" d="M414.4 86.3l-5.5-1.6 6.2-.7 5.4 1.6z"/><path fill="#722a0c" d="M311.8 96.3l-5.4-.3 6-2.9 5.4 .4z"/><path fill="#3c1e06" d="M487.8 100.5l-5.4-2.6 6.1 .6 5.4 2.7z"/><path fill="#3c3006" d="M515.7 110.6l-5.4-3.1 6 1.2 5.4 3.1z"/><path fill="#6c840c" d="M244.3 125.8l-5.3 .3 5.9-4.6 5.2-.3z"/><path fill="#6c1806" d="M351.5 88.4l-5.4-.8 6.1-2 5.5 .8z"/><path fill="#784212" d="M294.7 102.2l-5.4-.2 6.1-3.3 5.3 .2z"/><path fill="#421e06" d="M476.5 97.5l-5.4-2.5 6.1 .4 5.5 2.5z"/><path fill="#7e7212" d="M260.9 116.9l-5.2 .1 5.9-4.2 5.2-.1z"/><path fill="#0c8a0c" d="M222.2 140.7l-5.2 .6 5.7-5.3 5.2-.5z"/><path fill="#7e5a12" d="M277.7 109l-5.3 0 6-3.7 5.3 0z"/><path fill="#72240c" d="M323 94l-5.4-.5 6.1-2.6 5.4 .5z"/><path fill="#661206" d="M362.9 87.4l-5.5-.9 6.2-1.8 5.4 1z"/><path fill="#3c3606" d="M532.1 118.1l-5.3-3.3 6 1.3 5.3 3.4z"/><path fill="#481806" d="M465.2 94.8l-5.4-2.3 6.1 .2 5.4 2.4z"/><path fill="#422a0c" d="M504.4 106.7l-5.4-2.9 6.1 .9 5.4 2.9z"/><path fill="#661206" d="M374.2 86.8l-5.4-1.1 6.1-1.6 5.5 1.1z"/><path fill="#4e1806" d="M453.9 92.5l-5.5-2.1 6.2 0 5.4 2.2z"/><path fill="#78360c" d="M305.8 99.3l-5.3-.4 6-3 5.4 .3z"/><path fill="#5a8a0c" d="M238.6 130.4l-5.2 .3 5.8-4.8 5.2-.3z"/><path fill="#721e0c" d="M334.3 92.1l-5.5-.7 6.1-2.4 5.5 .7z"/><path fill="#661206" d="M385.6 86.5l-5.5-1.3 6.2-1.3 5.5 1.3z"/><path fill="#068a0c" d="M216.6 146l-5.2 .6 5.7-5.5 5.2-.5z"/><path fill="#541206" d="M442.5 90.6l-5.5-2 6.2-.2 5.5 2z"/><path fill="#601206" d="M397 86.6l-5.5-1.4 6.2-1.1 5.4 1.4z"/><path fill="#482a0c" d="M493.2 103.1l-5.4-2.7 6.1 .7 5.4 2.7z"/><path fill="#541206" d="M431.1 89.1l-5.4-1.9 6.1-.5 5.5 1.9z"/><path fill="#7e4e12" d="M288.8 105.5l-5.3-.1 6-3.6 5.3 .2z"/><path fill="#7e780c" d="M255.2 121.1l-5.3 .2 5.9-4.4 5.3-.2z"/><path fill="#601206" d="M408.3 87l-5.4-1.5 6.2-.9 5.4 1.6z"/><path fill="#5a1206" d="M419.7 87.9l-5.4-1.7 6.2-.7 5.4 1.7z"/><path fill="#42360c" d="M521 113.7l-5.4-3.2 6 1.1 5.4 3.3z"/><path fill="#7e6612" d="M271.9 112.8l-5.3 0 6-4 5.3 .1z"/><path fill="#72180c" d="M345.5 90.5l-5.4-.8 6.1-2.2 5.5 .8z"/><path fill="#782a0c" d="M317.1 96.7l-5.4-.4 6-2.9 5.4 .5z"/><path fill="#008a06" d="M211 151.5l-5.1 .6 5.7-5.7 5.1-.6z"/><path fill="#4e240c" d="M481.9 99.9l-5.4-2.6 6.1 .5 5.4 2.6z"/><path fill="#428a0c" d="M232.9 135.2l-5.2 .4 5.8-5 5.2-.4z"/><path fill="#424206" d="M537.4 121.5l-5.4-3.5 6.1 1.4 5.3 3.5z"/><path fill="#72180c" d="M356.9 89.2l-5.5-.9 6.2-2 5.4 1z"/><path fill="#48360c" d="M509.7 109.6l-5.3-3.1 6 1 5.4 3.1z"/><path fill="#7e4212" d="M299.9 102.4l-5.3-.3 6-3.3 5.4 .3z"/><path fill="#541e06" d="M470.6 97.1l-5.5-2.4 6.2 .2 5.4 2.5z"/><path fill="#78840c" d="M249.4 125.5l-5.2 .2 5.8-4.6 5.3-.2z"/><path fill="#721206" d="M368.2 88.4l-5.4-1.1 6.1-1.8 5.5 1.2z"/><path fill="#78240c" d="M328.3 94.5l-5.4-.6 6.1-2.6 5.4 .6z"/><path fill="#008a06" d="M205.5 157.2l-5.1 .6 5.6-5.9 5.1-.6z"/><path fill="#845a12" d="M283 109.1l-5.4-.2 6-3.7 5.4 .2z"/><path fill="#847212" d="M266.1 116.7l-5.3 .1 6-4.2 5.2 0z"/><path fill="#541806" d="M459.2 94.7l-5.4-2.3 6.1 0 5.5 2.3z"/><path fill="#1e8a0c" d="M227.3 140.3l-5.2 .4 5.7-5.3 5.2-.3z"/><path fill="#6c1206" d="M379.6 87.9l-5.5-1.2 6.2-1.6 5.4 1.3z"/><path fill="#4e300c" d="M498.5 105.9l-5.4-2.9 6.1 .7 5.4 2.9z"/><path fill="#48420c" d="M526.2 116.9l-5.3-3.4 6 1.2 5.4 3.4z"/><path fill="#5a1806" d="M447.9 92.6l-5.5-2.1 6.2-.2 5.4 2.1z"/><path fill="#6c1206" d="M390.9 87.8l-5.4-1.4 6.2-1.3 5.4 1.4z"/><path fill="#781e0c" d="M339.6 92.7l-5.4-.7 6.1-2.4 5.4 .7z"/><path fill="#008a06" d="M200 163.1l-5.1 .6 5.6-6.1 5.1-.6z"/><path fill="#601806" d="M436.5 90.9l-5.5-2 6.2-.4 5.5 2z"/><path fill="#7e360c" d="M311.1 99.6l-5.3-.4 6-3.1 5.4 .5z"/><path fill="#661206" d="M402.3 88l-5.4-1.5 6.1-1.1 5.5 1.5z"/><path fill="#601206" d="M425.1 89.6l-5.4-1.9 6.1-.6 5.5 1.9z"/><path fill="#661206" d="M413.7 88.6l-5.4-1.7 6.1-.8 5.5 1.7z"/><path fill="#668a0c" d="M243.7 130.1l-5.2 .2 5.8-4.8 5.2-.2z"/><path fill="#424806" d="M542.6 124.9l-5.3-3.6 6 1.4 5.3 3.7z"/><path fill="#542a0c" d="M487.2 102.5l-5.4-2.7 6.1 .5 5.4 2.8z"/><path fill="#0c900c" d="M221.6 145.5l-5.1 .5 5.7-5.5 5.2-.4z"/><path fill="#844812" d="M294.1 105.7l-5.4-.3 6-3.5 5.4 .3z"/><path fill="#78180c" d="M350.9 91.3l-5.4-.9 6.1-2.2 5.4 .9z"/><path fill="#7e7812" d="M260.3 120.9l-5.2 .1 5.9-4.4 5.2 0z"/><path fill="#008a06" d="M194.5 169.2l-5 .7 5.5-6.3 5.1-.7z"/><path fill="#4e3c0c" d="M515 112.6l-5.3-3.2 6 1 5.4 3.2z"/><path fill="#846012" d="M277.1 112.8l-5.3-.1 6-3.9 5.3 .1z"/><path fill="#7e2a0c" d="M322.3 97.2l-5.3-.6 6-2.8 5.4 .6z"/><path fill="#5a240c" d="M475.9 99.6l-5.4-2.6 6.1 .3 5.4 2.6z"/><path fill="#78180c" d="M362.2 90.2l-5.4-1.1 6.1-1.9 5.5 1.1z"/><path fill="#008a06" d="M189.1 175.6l-5 .6 5.5-6.5 5-.7z"/><path fill="#4e900c" d="M238 134.9l-5.2 .3 5.8-5 5.2-.3z"/><path fill="#00900c" d="M216.1 151l-5.2 .4 5.7-5.6 5.2-.5z"/><path fill="#4e480c" d="M531.5 120.2l-5.3-3.5 6 1.2 5.3 3.5z"/><path fill="#601e0c" d="M464.6 97l-5.5-2.5 6.2 .1 5.4 2.4z"/><path fill="#5a360c" d="M503.8 108.7l-5.4-3 6.1 .8 5.4 3z"/><path fill="#72180c" d="M373.6 89.5l-5.5-1.2 6.2-1.8 5.4 1.3z"/><path fill="#843c12" d="M305.2 102.7l-5.3-.4 6-3.3 5.4 .5z"/><path fill="#7e240c" d="M333.6 95.2l-5.4-.8 6.1-2.6 5.4 .8z"/><path fill="#008a06" d="M183.7 182.1l-5 .7 5.5-6.7 5-.7z"/><path fill="#601806" d="M453.2 94.7l-5.4-2.2 6.1-.2 5.5 2.3z"/><path fill="#7e840c" d="M254.6 125.3l-5.3 .1 5.9-4.6 5.3 0z"/><path fill="#425406" d="M547.9 128.5l-5.3-3.7 6 1.4 5.3 3.8z"/><path fill="#721206" d="M384.9 89.1l-5.4-1.3 6.1-1.5 5.5 1.3z"/><path fill="#845412" d="M288.2 109.2l-5.3-.2 6-3.7 5.3 .2z"/><path fill="#847212" d="M271.3 116.7l-5.3 0 6-4.2 5.3 .1z"/><path fill="#661806" d="M441.8 92.9l-5.4-2.1 6.2-.4 5.4 2.1z"/><path fill="#721206" d="M396.3 89.1l-5.4-1.5 6.1-1.2 5.5 1.5z"/><path fill="#009006" d="M210.5 156.7l-5.1 .4 5.6-5.8 5.2-.5z"/><path fill="#008a06" d="M178.4 188.9l-5 .7 5.4-7 5-.7z"/><path fill="#6c1806" d="M430.5 91.4l-5.5-2 6.2-.6 5.4 2z"/><path fill="#60300c" d="M492.5 105.2l-5.4-2.8 6.1 .5 5.4 2.9z"/><path fill="#6c1206" d="M407.7 89.5l-5.5-1.6 6.2-1.1 5.5 1.7zM419.1 90.3l-5.5-1.8 6.2-.9 5.5 1.9z"/><path fill="#30900c" d="M232.3 139.9l-5.1 .3 5.7-5.2 5.2-.3z"/><path fill="#7e1e0c" d="M344.9 93.5l-5.4-.9 6.1-2.4 5.4 .9z"/><path fill="#54480c" d="M520.3 115.8l-5.3-3.3 6 .9 5.4 3.4z"/><path fill="#84300c" d="M316.4 100.1l-5.4-.6 6.1-3 5.4 .6z"/><path fill="#008a06" d="M173 195.9l-4.9 .7 5.4-7.2 5-.7z"/><path fill="#602a0c" d="M481.2 102.1l-5.4-2.7 6.2 .3 5.4 2.7z"/><path fill="#009006" d="M205 162.5l-5.1 .6 5.6-6.1 5.1-.5z"/><path fill="#7e180c" d="M356.2 92.2l-5.4-1 6.1-2.2 5.5 1.1z"/><path fill="#728a0c" d="M248.8 129.9l-5.2 .1 5.8-4.8 5.3-.1z"/><path fill="#54540c" d="M536.8 123.6l-5.4-3.6 6.1 1.3 5.3 3.6z"/><path fill="#844812" d="M299.3 106l-5.3-.4 6-3.5 5.4 .4z"/><path fill="#60420c" d="M509.1 111.7l-5.4-3.1 6.1 .8 5.4 3.1z"/><path fill="#0c900c" d="M226.7 145.1l-5.2 .4 5.8-5.5 5.2-.3z"/><path fill="#847812" d="M265.5 120.9l-5.3-.1 5.9-4.3 5.3 .1z"/><path fill="#8a6012" d="M282.3 112.9l-5.3-.2 6-3.9 5.3 .2z"/><path fill="#842a0c" d="M327.6 97.8l-5.4-.7 6.1-2.8 5.4 .7z"/><path fill="#66240c" d="M469.9 99.4l-5.4-2.6 6.1 .1 5.5 2.6z"/><path fill="#3c5a06" d="M553.1 132.3l-5.3-3.9 6 1.5 5.3 3.9z"/><path fill="#7e180c" d="M367.5 91.2l-5.4-1.1 6.2-2 5.4 1.2z"/><path fill="#009006" d="M199.5 168.6l-5.1 .6 5.6-6.3 5.1-.5z"/><path fill="#661e0c" d="M458.6 97l-5.5-2.4 6.2-.1 5.4 2.4z"/><path fill="#78180c" d="M378.9 90.7l-5.4-1.4 6.1-1.6 5.5 1.3z"/><path fill="#663c0c" d="M497.9 108.1l-5.4-3 6.1 .5 5.4 3.1z"/><path fill="#5a4e0c" d="M525.6 119l-5.3-3.4 6 1 5.4 3.5z"/><path fill="#60900c" d="M243.1 134.7l-5.2 .1 5.8-5 5.3-.1z"/><path fill="#8a3c12" d="M310.5 103.1l-5.4-.5 6.1-3.2 5.3 .5z"/><path fill="#6c1e0c" d="M447.2 95l-5.4-2.3 6.1-.3 5.5 2.2z"/><path fill="#84240c" d="M338.9 95.9l-5.4-.8 6.1-2.6 5.4 .8z"/><path fill="#78180c" d="M390.3 90.4l-5.5-1.4 6.2-1.5 5.5 1.5z"/><path fill="#06900c" d="M221.1 150.6l-5.1 .3 5.7-5.6 5.1-.3z"/><path fill="#009006" d="M194 175l-5 .5 5.5-6.5 5.1-.5z"/><path fill="#72180c" d="M435.8 93.3l-5.4-2.1 6.2-.5 5.4 2.1z"/><path fill="#78180c" d="M401.7 90.6l-5.5-1.6 6.2-1.2 5.4 1.6z"/><path fill="#72180c" d="M424.4 92l-5.4-1.9 6.2-.8 5.4 2zM413 91.1l-5.4-1.7 6.2-1 5.4 1.8z"/><path fill="#8a5412" d="M293.4 109.5l-5.3-.4 6-3.6 5.4 .3z"/><path fill="#84840c" d="M259.7 125.2l-5.2 0 5.9-4.5 5.2 0z"/><path fill="#545a06" d="M542 127.2l-5.3-3.8 6 1.3 5.3 3.8z"/><path fill="#8a6c12" d="M276.5 116.8l-5.3-.1 6-4.1 5.3 .2z"/><path fill="#009006" d="M188.6 181.5l-5 .6 5.5-6.8 5.1-.5z"/><path fill="#66300c" d="M486.6 104.8l-5.4-2.8 6.1 .3 5.4 2.9z"/><path fill="#841e0c" d="M350.2 94.4l-5.4-1 6.1-2.4 5.4 1z"/><path fill="#366006" d="M558.3 136.1l-5.3-4 6 1.5 5.3 4.1z"/><path fill="#8a300c" d="M321.7 100.6l-5.4-.6 6.1-3 5.4 .6z"/><path fill="#009006" d="M215.5 156.2l-5.1 .4 5.7-5.9 5.1-.3z"/><path fill="#60480c" d="M514.4 114.8l-5.4-3.2 6.1 .8 5.4 3.3z"/><path fill="#42900c" d="M237.4 139.7l-5.1 .1 5.7-5.1 5.3-.2z"/><path fill="#009006" d="M183.3 188.2l-5 .6 5.4-6.9 5-.6z"/><path fill="#6c2a0c" d="M475.2 101.9l-5.4-2.7 6.2 .1 5.4 2.7z"/><path fill="#84180c" d="M361.5 93.2l-5.4-1.1 6.2-2.2 5.4 1.2z"/><path fill="#009006" d="M177.9 195.2l-4.9 .6 5.4-7.2 5-.6z"/><path fill="#8a4812" d="M304.6 106.4l-5.4-.5 6.1-3.4 5.3 .5z"/><path fill="#7e900c" d="M254 129.8l-5.3 0 5.9-4.7 5.3 0z"/><path fill="#60540c" d="M530.9 122.4l-5.4-3.5 6.1 1 5.3 3.6z"/><path fill="#72240c" d="M463.9 99.3l-5.4-2.5 6.1-.1 5.5 2.6z"/><path fill="#84180c" d="M372.9 92.4l-5.4-1.3 6.1-1.9 5.5 1.3z"/><path fill="#009006" d="M210 162.1l-5.1 .4 5.6-6.1 5.1-.4z"/><path fill="#8a2a0c" d="M332.9 98.5l-5.4-.8 6.1-2.8 5.5 .9z"/><path fill="#66420c" d="M503.2 111l-5.4-3.1 6.1 .6 5.4 3.1z"/><path fill="#8a6012" d="M287.6 113.1l-5.4-.3 6-3.8 5.4 .3z"/><path fill="#8a7812" d="M270.7 120.9l-5.3-.1 5.9-4.3 5.3 .2z"/><path fill="#1e960c" d="M231.8 144.9l-5.2 .2 5.8-5.4 5.2-.2z"/><path fill="#721e0c" d="M452.5 97.2l-5.4-2.4 6.2-.3 5.4 2.4z"/><path fill="#7e180c" d="M384.2 92l-5.4-1.5 6.2-1.6 5.4 1.4z"/><path fill="#546006" d="M547.2 130.9l-5.3-3.9 6 1.3 5.3 3.9z"/><path fill="#2a6006" d="M563.5 140.1l-5.3-4.1 6 1.5 5.3 4.2z"/><path fill="#7e180c" d="M395.6 91.9l-5.4-1.6 6.2-1.4 5.4 1.6z"/><path fill="#781e0c" d="M441.2 95.4l-5.5-2.2 6.2-.6 5.5 2.3z"/><path fill="#009006" d="M204.5 168.2l-5.1 .4 5.6-6.3 5.1-.4z"/><path fill="#7e180c" d="M407 92.2l-5.4-1.7 6.1-1.2 5.5 1.7z"/><path fill="#78180c" d="M429.8 93.9l-5.5-2 6.2-.8 5.5 2.1z"/><path fill="#8a240c" d="M344.2 96.7l-5.4-.9 6.1-2.6 5.5 1z"/><path fill="#78180c" d="M418.4 92.9l-5.4-1.9 6.1-1 5.5 1.9z"/><path fill="#6c3c0c" d="M491.9 107.6l-5.4-3 6.1 .4 5.4 3z"/><path fill="#8a3612" d="M315.8 103.6l-5.4-.6 6.1-3.2 5.3 .7z"/><path fill="#665412" d="M519.7 118.1l-5.4-3.4 6.1 .8 5.3 3.5z"/><path fill="#6c900c" d="M248.3 134.5l-5.3 .1 5.9-5 5.2 0z"/><path fill="#0c960c" d="M226.2 150.3l-5.2 .2 5.7-5.6 5.2-.2z"/><path fill="#904e12" d="M298.7 109.8l-5.4-.4 6.1-3.7 5.3 .5z"/><path fill="#009006" d="M199 174.4l-5 .5 5.5-6.5 5.1-.4z"/><path fill="#8a1e0c" d="M355.5 95.3l-5.4-1 6.2-2.4 5.4 1.2z"/><path fill="#72300c" d="M480.6 104.5l-5.4-2.8 6.1 .2 5.4 2.8z"/><path fill="#8a8412" d="M264.9 125.3l-5.3-.2 5.9-4.5 5.3 .2z"/><path fill="#906c12" d="M281.7 117l-5.3-.3 6-4 5.3 .3z"/><path fill="#60600c" d="M536.1 126l-5.3-3.7 6 1.1 5.4 3.7z"/><path fill="#8a300c" d="M327 101.3l-5.4-.8 6.1-2.9 5.4 .8z"/><path fill="#6c4812" d="M508.5 114.1l-5.4-3.2 6.1 .6 5.3 3.3z"/><path fill="#841e0c" d="M366.9 94.3l-5.5-1.2 6.2-2.1 5.4 1.3z"/><path fill="#009006" d="M193.6 180.9l-5.1 .5 5.6-6.7 5-.4z"/><path fill="#782a0c" d="M469.2 101.8l-5.4-2.6 6.2-.1 5.4 2.7z"/><path fill="#486606" d="M552.5 134.7l-5.3-4 6 1.3 5.3 4.1z"/><path fill="#186606" d="M568.7 144.2l-5.3-4.3 6 1.6 5.2 4.4z"/><path fill="#00960c" d="M220.6 155.9l-5.2 .3 5.7-5.9 5.2-.2z"/><path fill="#54960c" d="M242.6 139.5l-5.2 .1 5.8-5.2 5.2 0z"/><path fill="#84180c" d="M378.2 93.7l-5.4-1.4 6.2-1.9 5.4 1.4z"/><path fill="#78240c" d="M457.9 99.5l-5.4-2.5 6.1-.3 5.5 2.5z"/><path fill="#904212" d="M309.8 106.9l-5.3-.6 6-3.4 5.4 .6z"/><path fill="#009006" d="M188.2 187.7l-5 .5 5.5-7 5-.4z"/><path fill="#8a2a0c" d="M338.2 99.3l-5.4-.9 6.2-2.7 5.4 .9z"/><path fill="#84180c" d="M389.6 93.4l-5.4-1.6 6.1-1.6 5.5 1.6z"/><path fill="#724212" d="M497.2 110.5l-5.4-3.1 6.1 .4 5.4 3.1z"/><path fill="#781e0c" d="M446.5 97.5l-5.4-2.3 6.2-.5 5.4 2.4z"/><path fill="#6c5a12" d="M524.9 121.4l-5.3-3.5 6.1 .9 5.3 3.6z"/><path fill="#848a0c" d="M259.1 129.8l-5.2-.1 5.9-4.7 5.2 .1z"/><path fill="#905a12" d="M292.8 113.5l-5.3-.4 6-3.9 5.3 .5z"/><path fill="#84180c" d="M401 93.5l-5.5-1.7 6.2-1.4 5.5 1.7z"/><path fill="#009006" d="M182.8 194.6l-5 .5 5.5-7.1 5-.5z"/><path fill="#7e1e0c" d="M435.1 96l-5.4-2.2 6.2-.7 5.4 2.2z"/><path fill="#907818" d="M275.9 121.1l-5.3-.2 5.9-4.3 5.4 .3z"/><path fill="#009606" d="M215 161.7l-5.1 .3 5.7-6 5.1-.3z"/><path fill="#84180c" d="M412.4 93.9l-5.5-1.8 6.2-1.2 5.5 1.9z"/><path fill="#7e180c" d="M423.8 94.8l-5.5-2 6.2-1 5.4 2z"/><path fill="#30960c" d="M236.9 144.7l-5.2 .1 5.8-5.4 5.2-.1z"/><path fill="#8a240c" d="M349.5 97.7l-5.4-1.1 6.2-2.5 5.4 1.1z"/><path fill="#60660c" d="M541.4 129.6l-5.4-3.8 6.1 1.1 5.3 3.9z"/><path fill="#78360c" d="M485.9 107.3l-5.4-2.9 6.1 .1 5.4 3z"/><path fill="#903612" d="M321 104.3l-5.3-.7 6-3.2 5.4 .8z"/><path fill="#0c6c06" d="M573.9 148.5l-5.3-4.4 6 1.6 5.2 4.5z"/><path fill="#426c06" d="M557.7 138.6l-5.3-4.1 6 1.4 5.2 4.1z"/><path fill="#725412" d="M513.7 117.3l-5.3-3.4 6.1 .7 5.3 3.4z"/><path fill="#009606" d="M209.5 167.8l-5.1 .3 5.6-6.3 5.1-.3z"/><path fill="#8a1e0c" d="M360.9 96.5l-5.5-1.3 6.2-2.2 5.4 1.2z"/><path fill="#78960c" d="M253.4 134.5l-5.2 0 5.8-5 5.3 .1z"/><path fill="#78300c" d="M474.6 104.4l-5.4-2.7 6.1-.1 5.4 2.8z"/><path fill="#904e12" d="M303.9 110.3l-5.3-.6 6-3.6 5.4 .6z"/><path fill="#0c960c" d="M231.3 150.1l-5.2 .1 5.7-5.6 5.2-.1z"/><path fill="#908412" d="M270.1 125.4l-5.3-.2 5.9-4.5 5.3 .3z"/><path fill="#902a0c" d="M332.3 102.1l-5.4-.9 6.1-2.9 5.4 .9z"/><path fill="#906618" d="M286.9 117.3l-5.3-.4 6-4 5.3 .4z"/><path fill="#8a1e0c" d="M372.2 95.6l-5.4-1.4 6.1-2 5.5 1.3z"/><path fill="#009606" d="M204 174l-5.1 .4 5.6-6.5 5.1-.3z"/><path fill="#6c600c" d="M530.2 124.9l-5.3-3.6 6 .9 5.4 3.7z"/><path fill="#7e2a0c" d="M463.2 101.9l-5.4-2.5 6.2-.3 5.4 2.6z"/><path fill="#784812" d="M502.5 113.5l-5.4-3.2 6.1 .5 5.4 3.2z"/><path fill="#8a180c" d="M383.6 95.1l-5.5-1.5 6.2-1.9 5.4 1.6z"/><path fill="#7e240c" d="M451.9 99.8l-5.5-2.4 6.2-.5 5.4 2.5z"/><path fill="#606c06" d="M546.6 133.4l-5.3-3.9 6 1.1 5.3 4z"/><path fill="#066c06" d="M579 152.9l-5.2-4.6 5.9 1.7 5.2 4.6z"/><path fill="#8a180c" d="M394.9 94.9l-5.4-1.6 6.2-1.6 5.4 1.7z"/><path fill="#009006" d="M198.6 180.5l-5.1 .4 5.5-6.7 5.1-.3z"/><path fill="#60960c" d="M247.7 139.5l-5.2-.1 5.8-5.1 5.2 .1z"/><path fill="#841e0c" d="M440.5 98.1l-5.4-2.3 6.1-.7 5.5 2.3z"/><path fill="#307206" d="M562.8 142.7l-5.2-4.2 6 1.4 5.2 4.3z"/><path fill="#902a0c" d="M343.6 100.2l-5.5-1 6.2-2.7 5.4 1.1z"/><path fill="#904212" d="M315.1 107.5l-5.4-.7 6.1-3.4 5.4 .8z"/><path fill="#06960c" d="M225.6 155.7l-5.1 .1 5.7-5.8 5.2-.1z"/><path fill="#8a180c" d="M406.3 95.2l-5.4-1.8 6.2-1.4 5.4 1.8z"/><path fill="#841e0c" d="M429.1 96.8l-5.4-2.2 6.2-.9 5.4 2.2z"/><path fill="#84180c" d="M417.7 95.8l-5.4-2 6.2-1.1 5.4 2z"/><path fill="#784212" d="M491.2 110.2l-5.4-3.1 6.1 .2 5.4 3.1z"/><path fill="#725a12" d="M519 120.6l-5.3-3.5 6 .7 5.4 3.6z"/><path fill="#009006" d="M193.1 187.2l-5 .4 5.5-6.9 5.1-.4z"/><path fill="#8a8a0c" d="M264.3 129.9l-5.3-.2 5.9-4.7 5.3 .3z"/><path fill="#965a12" d="M298 113.9l-5.3-.5 6-3.8 5.4 .6z"/><path fill="#967818" d="M281.1 121.4l-5.3-.4 6-4.2 5.3 .4z"/><path fill="#90240c" d="M354.9 98.8l-5.5-1.2 6.2-2.5 5.4 1.2z"/><path fill="#7e360c" d="M479.9 107.2l-5.4-2.9 6.1 0 5.4 2.9z"/><path fill="#00960c" d="M220.1 161.5l-5.2 .2 5.7-6 5.2-.2z"/><path fill="#009006" d="M187.8 194.1l-5 .4 5.4-7.1 5.1-.4z"/><path fill="#903612" d="M326.3 105.1l-5.4-.9 6.1-3.1 5.4 .8z"/><path fill="#429c0c" d="M242 144.6l-5.2 0 5.8-5.3 5.2 0z"/><path fill="#6c6c0c" d="M535.4 128.6l-5.3-3.8 6.1 .9 5.3 3.8z"/><path fill="#901e0c" d="M366.2 97.7l-5.4-1.4 6.1-2.2 5.4 1.3z"/><path fill="#007206" d="M584.1 157.4l-5.2-4.7 5.9 1.7 5.2 4.7z"/><path fill="#785412" d="M507.8 116.7l-5.4-3.3 6.1 .5 5.4 3.3z"/><path fill="#84300c" d="M468.6 104.5l-5.5-2.7 6.2-.2 5.4 2.7z"/><path fill="#547206" d="M551.8 137.3l-5.3-4.1 6 1.2 5.3 4.2z"/><path fill="#1e7206" d="M568 146.9l-5.2-4.4 5.9 1.5 5.3 4.4z"/><path fill="#964e12" d="M309.2 110.9l-5.4-.7 6.1-3.6 5.3 .7z"/><path fill="#009606" d="M214.5 167.5l-5.1 .2 5.6-6.2 5.2-.2z"/><path fill="#901e0c" d="M377.5 96.9l-5.4-1.4 6.2-2.1 5.4 1.5z"/><path fill="#84960c" d="M258.6 134.6l-5.3-.1 5.9-4.9 5.2 .2z"/><path fill="#962a0c" d="M337.6 103l-5.4-1 6.1-2.9 5.4 1z"/><path fill="#84240c" d="M457.2 102.3l-5.4-2.6 6.2-.4 5.4 2.6z"/><path fill="#966618" d="M292.2 117.8l-5.4-.5 6-4.1 5.4 .6z"/><path fill="#907e12" d="M275.3 125.7l-5.3-.4 5.9-4.4 5.3 .3z"/><path fill="#901e0c" d="M388.9 96.6l-5.4-1.6 6.1-1.8 5.5 1.6z"/><path fill="#189c0c" d="M236.3 150l-5.1 0 5.7-5.6 5.2 0z"/><path fill="#84240c" d="M445.8 100.4l-5.4-2.4 6.2-.7 5.4 2.4z"/><path fill="#7e4812" d="M496.5 113.2l-5.4-3.2 6.2 .3 5.3 3.2z"/><path fill="#786612" d="M524.3 124.1l-5.4-3.6 6.1 .7 5.3 3.7z"/><path fill="#901e0c" d="M400.3 96.6l-5.5-1.8 6.2-1.6 5.5 1.9z"/><path fill="#8a1e0c" d="M434.4 98.9l-5.4-2.3 6.2-.9 5.4 2.3z"/><path fill="#009606" d="M209 173.7l-5.1 .3 5.6-6.5 5.1-.2z"/><path fill="#8a1e0c" d="M411.7 97l-5.5-2 6.2-1.3 5.5 2zM423.1 97.7l-5.5-2 6.2-1.2 5.5 2.2z"/><path fill="#962a0c" d="M348.9 101.3l-5.4-1.2 6.1-2.6 5.4 1.1z"/><path fill="#007206" d="M589.2 162l-5.1-4.8 5.9 1.8 5.1 4.8z"/><path fill="#964212" d="M320.4 108.2l-5.4-.8 6.1-3.3 5.4 .8z"/><path fill="#6c720c" d="M540.7 132.3l-5.3-3.9 6 1 5.3 3.9z"/><path fill="#843c12" d="M485.2 110l-5.4-3 6.2 0 5.4 3.1z"/><path fill="#6c960c" d="M252.8 139.5l-5.2-.1 5.8-5.1 5.3 .2z"/><path fill="#0c7806" d="M573.2 151.3l-5.3-4.5 6 1.5 5.2 4.5z"/><path fill="#487806" d="M557 141.4l-5.3-4.2 6 1.2 5.3 4.3z"/><path fill="#069c0c" d="M230.7 155.6l-5.2 0 5.8-5.8 5.2 0z"/><path fill="#009606" d="M203.5 180.2l-5 .3 5.5-6.7 5.1-.2z"/><path fill="#7e5a12" d="M513.1 120l-5.4-3.4 6.1 .5 5.4 3.5z"/><path fill="#96240c" d="M360.2 100l-5.4-1.3 6.1-2.5 5.4 1.3z"/><path fill="#965a12" d="M303.3 114.5l-5.4-.7 6.1-3.7 5.3 .6z"/><path fill="#908a12" d="M269.5 130.2l-5.3-.4 5.9-4.6 5.3 .3z"/><path fill="#967218" d="M286.3 121.8l-5.3-.5 6-4.2 5.3 .5z"/><path fill="#84360c" d="M473.9 107.2l-5.4-2.8 6.1-.2 5.4 2.9z"/><path fill="#963612" d="M331.6 105.9l-5.4-.9 6.1-3.2 5.4 1.1z"/><path fill="#009606" d="M198.1 186.9l-5 .3 5.5-6.9 5-.3z"/><path fill="#961e0c" d="M371.5 99l-5.4-1.4 6.2-2.3 5.4 1.5z"/><path fill="#009c0c" d="M225.1 161.3l-5.1 .1 5.7-6 5.1 0z"/><path fill="#007206" d="M594.3 166.8l-5.1-4.9 5.9 1.7 5.1 5.1z"/><path fill="#786c12" d="M529.5 127.7l-5.3-3.8 6.1 .8 5.3 3.8z"/><path fill="#8a2a0c" d="M462.5 104.8l-5.4-2.7 6.2-.4 5.4 2.7z"/><path fill="#4e9c0c" d="M247.1 144.7l-5.2-.1 5.8-5.4 5.2 .2z"/><path fill="#845412" d="M501.8 116.3l-5.4-3.3 6.1 .3 5.4 3.3z"/><path fill="#009606" d="M192.7 193.8l-5 .3 5.5-7.1 5-.3z"/><path fill="#961e0c" d="M382.9 98.4l-5.5-1.6 6.2-2 5.5 1.7z"/><path fill="#8a240c" d="M451.2 102.8l-5.5-2.6 6.2-.6 5.4 2.6z"/><path fill="#964812" d="M314.4 111.6l-5.3-.8 6-3.5 5.4 .8z"/><path fill="#66780c" d="M545.9 136.2l-5.3-4 6 1 5.3 4.1z"/><path fill="#067806" d="M578.3 155.8l-5.2-4.7 6 1.5 5.2 4.7z"/><path fill="#962a0c" d="M342.9 104l-5.4-1.1 6.1-2.9 5.4 1.2z"/><path fill="#901e0c" d="M394.2 98.2l-5.4-1.7 6.2-1.8 5.4 1.8z"/><path fill="#90240c" d="M439.8 101.1l-5.4-2.4 6.1-.8 5.5 2.4z"/><path fill="#367806" d="M562.2 145.6l-5.3-4.4 6 1.3 5.3 4.4z"/><path fill="#8a960c" d="M263.7 134.8l-5.2-.2 5.8-4.9 5.3 .3z"/><path fill="#901e0c" d="M405.6 98.4l-5.4-1.9 6.2-1.6 5.4 2zM428.4 99.8l-5.4-2.2 6.2-1.1 5.4 2.3zM417 98.9l-5.4-2 6.2-1.4 5.4 2.1z"/><path fill="#009c0c" d="M219.6 167.3l-5.2 .1 5.7-6.2 5.1 0z"/><path fill="#966618" d="M297.4 118.3l-5.3-.6 6-4 5.3 .6z"/><path fill="#844812" d="M490.5 113l-5.4-3.1 6.2 0 5.4 3.2z"/><path fill="#967e18" d="M280.5 126l-5.3-.4 5.9-4.4 5.3 .4z"/><path fill="#7e6612" d="M518.3 123.5l-5.3-3.6 6.1 .5 5.3 3.6z"/><path fill="#2a9c0c" d="M241.4 150l-5.2-.1 5.8-5.5 5.2 .1z"/><path fill="#962a0c" d="M354.2 102.5l-5.4-1.3 6.1-2.7 5.4 1.3z"/><path fill="#007806" d="M599.4 171.8l-5.1-5.1 5.9 1.8 5.1 5.1z"/><path fill="#9c3c12" d="M325.7 109.1l-5.4-1 6.1-3.3 5.3 1z"/><path fill="#8a3c12" d="M479.2 110l-5.4-2.9 6.2-.2 5.4 3z"/><path fill="#009606" d="M214 173.6l-5.1 .1 5.6-6.4 5.2-.1z"/><path fill="#78720c" d="M534.8 131.4l-5.4-3.9 6.1 .8 5.3 4z"/><path fill="#96240c" d="M365.5 101.3l-5.4-1.4 6.1-2.5 5.5 1.5z"/><path fill="#007806" d="M583.4 160.4l-5.2-4.8 6 1.6 5.2 4.8z"/><path fill="#789c0c" d="M258 139.7l-5.3-.2 5.9-5.1 5.2 .3z"/><path fill="#9c5412" d="M308.5 115.2l-5.3-.8 6-3.7 5.4 .8z"/><path fill="#845a12" d="M507.1 119.6l-5.4-3.4 6.1 .3 5.4 3.4z"/><path fill="#5a7e0c" d="M551.1 140.2l-5.3-4.2 6 1.1 5.3 4.2z"/><path fill="#8a300c" d="M467.9 107.5l-5.5-2.8 6.2-.4 5.4 2.8z"/><path fill="#0c9c0c" d="M235.8 155.6l-5.2-.1 5.8-5.8 5.2 .1z"/><path fill="#1e7e0c" d="M567.3 149.9l-5.2-4.5 6 1.3 5.2 4.5z"/><path fill="#009606" d="M208.5 180l-5.1 .1 5.6-6.6 5.1-.1z"/><path fill="#96240c" d="M376.8 100.5l-5.4-1.6 6.2-2.2 5.4 1.6z"/><path fill="#968a12" d="M274.7 130.5l-5.3-.4 5.9-4.7 5.3 .5z"/><path fill="#9c3012" d="M336.9 106.9l-5.4-1.1 6.1-3 5.4 1.1z"/><path fill="#9c7218" d="M291.5 122.3l-5.3-.6 6-4.2 5.3 .7z"/><path fill="#007806" d="M604.5 176.8l-5.2-5.2 5.9 1.8 5.1 5.3z"/><path fill="#902a0c" d="M456.5 105.3l-5.4-2.7 6.2-.6 5.4 2.7z"/><path fill="#961e0c" d="M388.2 100l-5.4-1.7 6.2-1.9 5.4 1.7z"/><path fill="#90240c" d="M445.1 103.5l-5.4-2.5 6.2-.8 5.4 2.5z"/><path fill="#009606" d="M203.1 186.6l-5.1 .2 5.6-6.8 5-.2z"/><path fill="#8a4e12" d="M495.8 116.1l-5.4-3.3 6.2 .1 5.3 3.3z"/><path fill="#7e6c12" d="M523.6 127l-5.4-3.7 6.1 .6 5.4 3.7z"/><path fill="#961e0c" d="M399.6 100l-5.5-1.9 6.2-1.7 5.5 1.9z"/><path fill="#90240c" d="M433.7 102l-5.4-2.3 6.2-1.1 5.4 2.4z"/><path fill="#5a9c0c" d="M252.2 144.8l-5.2-.2 5.8-5.3 5.3 .3z"/><path fill="#009c0c" d="M230.2 161.3l-5.2 0 5.7-6 5.2 .1z"/><path fill="#961e0c" d="M411 100.3l-5.5-2 6.2-1.5 5.5 2z"/><path fill="#9c2a0c" d="M348.2 105.1l-5.4-1.2 6.1-2.8 5.4 1.2z"/><path fill="#961e0c" d="M422.4 101l-5.5-2.2 6.2-1.3 5.4 2.2z"/><path fill="#9c4812" d="M319.7 112.4l-5.4-.9 6.1-3.5 5.4 .9z"/><path fill="#007e06" d="M588.5 165.2l-5.1-5 5.9 1.6 5.2 5z"/><path fill="#009606" d="M197.7 193.5l-5.1 .2 5.5-7.1 5.1-.1z"/><path fill="#787e0c" d="M540 135.3l-5.3-4 6 .8 5.3 4z"/><path fill="#90960c" d="M268.9 135.2l-5.3-.4 5.9-4.9 5.3 .4z"/><path fill="#8a4812" d="M484.5 113l-5.4-3.1 6.2-.1 5.4 3.1z"/><path fill="#9c6018" d="M302.6 119l-5.3-.8 6-3.9 5.4 .7z"/><path fill="#0c7e0c" d="M572.5 154.3l-5.2-4.6 5.9 1.4 5.3 4.6z"/><path fill="#4e7e0c" d="M556.3 144.4l-5.3-4.3 6 1 5.3 4.4z"/><path fill="#9c2a0c" d="M359.5 103.7l-5.4-1.3 6.1-2.7 5.4 1.4z"/><path fill="#9c7e18" d="M285.7 126.5l-5.3-.5 5.9-4.4 5.4 .6z"/><path fill="#009c0c" d="M224.6 167.3l-5.1 0 5.6-6.2 5.2 0z"/><path fill="#846612" d="M512.3 123l-5.3-3.6 6.1 .4 5.4 3.6z"/><path fill="#9c3c12" d="M330.9 110l-5.3-1 6-3.3 5.4 1.1z"/><path fill="#36a20c" d="M246.6 150.1l-5.3-.2 5.8-5.5 5.3 .3z"/><path fill="#903c12" d="M473.2 110.3l-5.4-3 6.1-.3 5.4 3z"/><path fill="#9c240c" d="M370.8 102.7l-5.4-1.5 6.2-2.4 5.4 1.5z"/><path fill="#007e06" d="M593.6 170.1l-5.1-5.1 5.9 1.6 5.1 5.1z"/><path fill="#90300c" d="M461.8 107.9l-5.4-2.7 6.2-.6 5.4 2.8z"/><path fill="#7e7812" d="M528.8 130.7l-5.3-3.8 6.1 .6 5.3 3.8z"/><path fill="#009c0c" d="M219.1 173.5l-5.2 0 5.7-6.4 5.1 0z"/><path fill="#9c240c" d="M382.2 102l-5.5-1.6 6.2-2.2 5.4 1.7z"/><path fill="#9c5412" d="M313.8 116l-5.4-.9 6.1-3.7 5.3 .9z"/><path fill="#8a5a12" d="M501.1 119.3l-5.4-3.3 6.2 .1 5.3 3.4z"/><path fill="#849c0c" d="M263.1 140l-5.2-.3 5.8-5.1 5.3 .4z"/><path fill="#9c3012" d="M342.2 108l-5.4-1.2 6.1-3 5.4 1.2z"/><path fill="#962a0c" d="M450.5 106l-5.5-2.7 6.2-.8 5.4 2.7z"/><path fill="#9c240c" d="M393.5 101.8l-5.4-1.9 6.2-1.9 5.4 1.9z"/><path fill="#068406" d="M577.6 158.9l-5.2-4.7 6 1.3 5.2 4.8z"/><path fill="#6c840c" d="M545.2 139.3l-5.3-4.2 6.1 .9 5.2 4.2z"/><path fill="#9c7218" d="M296.8 122.9l-5.4-.7 6-4.1 5.4 .7z"/><path fill="#12a20c" d="M240.9 155.7l-5.2-.2 5.8-5.7 5.2 .2z"/><path fill="#968a12" d="M279.9 131l-5.3-.6 5.9-4.6 5.3 .6z"/><path fill="#962a0c" d="M439.1 104.4l-5.5-2.5 6.2-1 5.5 2.5z"/><path fill="#36840c" d="M561.5 148.7l-5.3-4.5 6 1.1 5.3 4.5z"/><path fill="#9c240c" d="M404.9 101.8l-5.4-1.9 6.2-1.8 5.4 2.1z"/><path fill="#96240c" d="M427.7 103.1l-5.4-2.3 6.2-1.2 5.4 2.3z"/><path fill="#009c06" d="M213.5 179.9l-5.1 0 5.6-6.6 5.2 0z"/><path fill="#96240c" d="M416.3 102.3l-5.4-2.1 6.2-1.5 5.4 2.2z"/><path fill="#904e12" d="M489.8 116.1l-5.4-3.2 6.2-.1 5.3 3.2z"/><path fill="#9c300c" d="M353.5 106.4l-5.4-1.4 6.1-2.8 5.4 1.4z"/><path fill="#8a6c12" d="M517.6 126.5l-5.3-3.7 6.1 .4 5.3 3.7z"/><path fill="#9c4812" d="M325 113.4l-5.4-1.1 6.1-3.5 5.4 1.1z"/><path fill="#007e06" d="M598.7 175.1l-5.1-5.2 5.9 1.6 5.1 5.3z"/><path fill="#66a20c" d="M257.4 145.1l-5.3-.3 5.9-5.3 5.2 .4z"/><path fill="#009606" d="M208.1 186.5l-5.1 .1 5.6-6.8 5.1-.1z"/><path fill="#06a20c" d="M235.3 161.4l-5.2-.1 5.7-6 5.2 .2z"/><path fill="#964212" d="M478.5 113.2l-5.4-3.1 6.1-.3 5.4 3.1z"/><path fill="#9c2a0c" d="M364.8 105.1l-5.4-1.5 6.1-2.6 5.5 1.6z"/><path fill="#9c6018" d="M307.9 119.7l-5.4-.8 6.1-4 5.3 .9z"/><path fill="#7e7e0c" d="M534 134.5l-5.3-4 6.1 .7 5.3 4z"/><path fill="#969612" d="M274.1 135.6l-5.3-.5 5.9-4.8 5.3 .5z"/><path fill="#008406" d="M582.7 163.7l-5.2-4.9 6 1.4 5.2 4.9z"/><path fill="#009606" d="M202.6 193.4l-5 .1 5.5-7.1 5.1-.1z"/><path fill="#9c7e18" d="M290.9 127.1l-5.3-.6 6-4.4 5.3 .7z"/><path fill="#8a6012" d="M506.4 122.7l-5.4-3.5 6.1 .2 5.4 3.5z"/><path fill="#a23c12" d="M336.2 111.1l-5.4-1.2 6.1-3.2 5.4 1.2z"/><path fill="#60840c" d="M550.4 143.4l-5.3-4.3 6.1 .9 5.2 4.3z"/><path fill="#963612" d="M467.1 110.7l-5.4-2.9 6.2-.6 5.4 3z"/><path fill="#1e840c" d="M566.6 153.1l-5.2-4.6 6 1.2 5.2 4.6z"/><path fill="#9c240c" d="M376.1 104.3l-5.4-1.7 6.2-2.4 5.4 1.7z"/><path fill="#009c0c" d="M229.7 167.4l-5.2-.2 5.7-6.1 5.2 .1z"/><path fill="#48a20c" d="M251.7 150.4l-5.2-.3 5.8-5.5 5.2 .3z"/><path fill="#96300c" d="M455.8 108.6l-5.4-2.8 6.1-.7 5.5 2.7z"/><path fill="#9c240c" d="M387.5 103.7l-5.4-1.8 6.2-2.1 5.4 1.8z"/><path fill="#9c2a0c" d="M444.4 106.8l-5.4-2.6 6.2-1 5.4 2.7z"/><path fill="#9c240c" d="M398.9 103.6l-5.5-2 6.2-1.9 5.5 2z"/><path fill="#a25412" d="M319 116.9l-5.3-1 6-3.7 5.4 1z"/><path fill="#905a12" d="M495.1 119.3l-5.4-3.4 6.2 0 5.3 3.4z"/><path fill="#8a7812" d="M522.9 130.2l-5.4-3.8 6.1 .4 5.4 3.8z"/><path fill="#a23012" d="M347.5 109.3l-5.4-1.4 6.1-3 5.4 1.4z"/><path fill="#9c2a0c" d="M433 105.4l-5.4-2.4 6.2-1.2 5.4 2.5z"/><path fill="#9c240c" d="M410.2 103.8l-5.4-2.1 6.2-1.6 5.4 2.1zM421.6 104.5l-5.4-2.3 6.2-1.5 5.4 2.3z"/><path fill="#8a9c0c" d="M268.3 140.4l-5.3-.5 5.9-5 5.3 .5z"/><path fill="#009c0c" d="M224.1 173.5l-5.1-.1 5.6-6.3 5.2 .1z"/><path fill="#008406" d="M587.8 168.5l-5.2-5 6 1.4 5.2 5.1z"/><path fill="#a26c18" d="M302 123.7l-5.3-.8 6-4.2 5.3 .9z"/><path fill="#9c8a18" d="M285.1 131.5l-5.3-.6 5.9-4.6 5.3 .7z"/><path fill="#7e840c" d="M539.3 138.5l-5.3-4.1 6 .6 5.3 4.2z"/><path fill="#1ea20c" d="M246 155.9l-5.2-.3 5.8-5.7 5.2 .3z"/><path fill="#964e12" d="M483.8 116.2l-5.4-3.1 6.2-.3 5.3 3.2z"/><path fill="#a2300c" d="M358.8 107.8l-5.4-1.5 6.1-2.8 5.4 1.5z"/><path fill="#0c8a0c" d="M571.8 157.7l-5.3-4.8 6 1.2 5.2 4.8z"/><path fill="#4e8a0c" d="M555.6 147.6l-5.3-4.4 6 .9 5.3 4.5z"/><path fill="#a24812" d="M330.3 114.4l-5.4-1.1 6.1-3.5 5.4 1.2z"/><path fill="#009c06" d="M218.6 179.9l-5.2-.1 5.7-6.6 5.1 .1z"/><path fill="#906c12" d="M511.6 126.2l-5.3-3.6 6.1 .2 5.3 3.6z"/><path fill="#a22a0c" d="M370.1 106.7l-5.4-1.7 6.2-2.5 5.4 1.6z"/><path fill="#9c4212" d="M472.4 113.6l-5.4-3.1 6.2-.5 5.4 3.1z"/><path fill="#72a20c" d="M262.5 145.5l-5.2-.5 5.8-5.2 5.3 .5z"/><path fill="#a26018" d="M313.1 120.6l-5.3-1 6-3.9 5.4 1z"/><path fill="#0ca20c" d="M240.3 161.6l-5.1-.3 5.7-5.9 5.2 .3z"/><path fill="#009c06" d="M213.1 186.5l-5.1 0 5.6-6.8 5.1 0z"/><path fill="#008406" d="M592.9 173.5l-5.2-5.2 6 1.5 5.1 5.2z"/><path fill="#a22a0c" d="M381.5 105.9l-5.5-1.8 6.2-2.3 5.4 1.8z"/><path fill="#9c3612" d="M461.1 111.3l-5.4-2.9 6.2-.7 5.4 2.9z"/><path fill="#847e12" d="M528.1 134l-5.3-4 6.1 .5 5.3 4z"/><path fill="#969612" d="M279.2 136.1l-5.2-.6 5.9-4.8 5.3 .7z"/><path fill="#a23c12" d="M341.5 112.3l-5.4-1.3 6.1-3.2 5.4 1.3z"/><path fill="#a27e18" d="M296.1 127.9l-5.3-.8 6-4.4 5.3 .8z"/><path fill="#906012" d="M500.4 122.6l-5.4-3.5 6.1 0 5.4 3.5z"/><path fill="#a2240c" d="M392.8 105.6l-5.4-2 6.2-2.1 5.4 2z"/><path fill="#9c300c" d="M449.7 109.4l-5.4-2.7 6.2-1 5.4 2.8z"/><path fill="#068a0c" d="M576.9 162.3l-5.2-4.8 6 1.2 5.2 4.9z"/><path fill="#009c06" d="M207.6 193.3l-5.1 0 5.6-7 5.1 0z"/><path fill="#728a0c" d="M544.5 142.6l-5.3-4.3 6 .7 5.3 4.3z"/><path fill="#a2240c" d="M404.2 105.6l-5.4-2.1 6.2-1.9 5.4 2.1z"/><path fill="#9c2a0c" d="M438.3 107.9l-5.4-2.6 6.2-1.2 5.4 2.6z"/><path fill="#368a0c" d="M560.7 152l-5.2-4.5 6 .9 5.2 4.6z"/><path fill="#a2240c" d="M415.6 106l-5.4-2.3 6.1-1.6 5.5 2.2z"/><path fill="#a22a0c" d="M427 106.7l-5.5-2.4 6.2-1.4 5.5 2.4z"/><path fill="#00a20c" d="M234.7 167.5l-5.1-.2 5.7-6.1 5.2 .2z"/><path fill="#54a20c" d="M256.8 150.7l-5.2-.4 5.8-5.4 5.2 .4z"/><path fill="#a23612" d="M352.8 110.6l-5.4-1.4 6.1-3 5.4 1.4z"/><path fill="#a25412" d="M324.3 117.9l-5.4-1.1 6.1-3.7 5.4 1.2z"/><path fill="#965412" d="M489.1 119.4l-5.4-3.3 6.1-.3 5.4 3.4z"/><path fill="#907818" d="M516.9 129.8l-5.4-3.7 6.2 .2 5.3 3.8z"/><path fill="#909c0c" d="M273.4 141l-5.2-.6 5.9-5 5.3 .6z"/><path fill="#a26c18" d="M307.2 124.5l-5.3-.9 6-4.1 5.4 1z"/><path fill="#a23012" d="M364.1 109.3l-5.4-1.6 6.1-2.8 5.4 1.6z"/><path fill="#9c8a18" d="M290.3 132.2l-5.3-.7 5.9-4.6 5.3 .8z"/><path fill="#00a20c" d="M229.1 173.7l-5.1-.2 5.7-6.4 5.1 .2z"/><path fill="#9c4812" d="M477.7 116.6l-5.4-3.2 6.2-.4 5.4 3.2z"/><path fill="#84840c" d="M533.3 137.9l-5.3-4.1 6.1 .5 5.3 4.1z"/><path fill="#008a06" d="M582 167.2l-5.2-5 6 1.2 5.2 5.1z"/><path fill="#2aa20c" d="M251.1 156.2l-5.2-.4 5.8-5.7 5.2 .5z"/><path fill="#a24812" d="M335.5 115.6l-5.3-1.3 6.1-3.4 5.3 1.3z"/><path fill="#a22a0c" d="M375.4 108.3l-5.4-1.8 6.2-2.5 5.4 1.8z"/><path fill="#966c18" d="M505.6 126.1l-5.3-3.6 6.1 0 5.4 3.6z"/><path fill="#60900c" d="M549.6 146.8l-5.2-4.4 6 .8 5.3 4.4z"/><path fill="#18900c" d="M565.9 156.6l-5.3-4.7 6.1 1 5.2 4.7z"/><path fill="#9c4212" d="M466.4 114.2l-5.4-3 6.2-.7 5.4 3z"/><path fill="#009c0c" d="M223.6 180l-5.1-.2 5.6-6.5 5.2 .2z"/><path fill="#a22a0c" d="M386.8 107.7l-5.4-1.9 6.1-2.3 5.5 1.9z"/><path fill="#a23612" d="M455 112.1l-5.4-2.8 6.2-1 5.4 2.9z"/><path fill="#a26018" d="M318.4 121.6l-5.4-1.1 6.1-3.9 5.3 1.2z"/><path fill="#7ea20c" d="M267.7 146l-5.3-.6 5.9-5.2 5.3 .6z"/><path fill="#a23c12" d="M346.8 113.6l-5.4-1.4 6.1-3.2 5.4 1.5z"/><path fill="#a22a0c" d="M398.1 107.5l-5.4-2.1 6.2-2 5.4 2z"/><path fill="#a23012" d="M443.7 110.4l-5.5-2.7 6.2-1.1 5.5 2.7z"/><path fill="#0ca20c" d="M245.4 161.9l-5.2-.4 5.8-5.9 5.2 .4z"/><path fill="#966018" d="M494.3 122.7l-5.3-3.4 6.1-.2 5.4 3.4z"/><path fill="#907e12" d="M522.1 133.6l-5.3-3.9 6.1 .2 5.3 4z"/><path fill="#a27818" d="M301.3 128.7l-5.3-.9 6-4.4 5.3 1z"/><path fill="#9c9012" d="M284.4 136.8l-5.3-.7 6-4.8 5.3 .8z"/><path fill="#a22a0c" d="M409.5 107.7l-5.4-2.3 6.2-1.8 5.4 2.2zM432.3 109.1l-5.4-2.5 6.2-1.4 5.4 2.6z"/><path fill="#009c06" d="M218.1 186.6l-5.1-.1 5.6-6.8 5.1 .2z"/><path fill="#a22a0c" d="M420.9 108.2l-5.4-2.4 6.2-1.6 5.4 2.4z"/><path fill="#008a06" d="M587.1 172.1l-5.2-5.1 6 1.3 5.1 5.2z"/><path fill="#a83612" d="M358.1 112.1l-5.4-1.6 6.1-3 5.4 1.6z"/><path fill="#84900c" d="M538.5 142l-5.3-4.3 6.1 .6 5.3 4.2z"/><path fill="#0c900c" d="M571 161.2l-5.2-4.8 6 1 5.2 4.9z"/><path fill="#009c06" d="M212.6 193.4l-5.1-.1 5.6-7 5.1 .1z"/><path fill="#a85412" d="M329.6 119.1l-5.4-1.3 6.1-3.6 5.4 1.2z"/><path fill="#9c5412" d="M483 119.7l-5.4-3.2 6.2-.5 5.4 3.3z"/><path fill="#4e900c" d="M554.8 151.2l-5.2-4.6 6 .8 5.3 4.6z"/><path fill="#60a80c" d="M261.9 151.2l-5.2-.5 5.9-5.5 5.2 .6z"/><path fill="#00a20c" d="M239.8 167.8l-5.2-.3 5.8-6.1 5.2 .3z"/><path fill="#967218" d="M510.9 129.7l-5.4-3.8 6.2 .1 5.3 3.8z"/><path fill="#a83012" d="M369.4 110.9l-5.4-1.7 6.1-2.8 5.5 1.8z"/><path fill="#a26c18" d="M312.5 125.5l-5.4-1 6.1-4.1 5.3 1.1z"/><path fill="#a24812" d="M471.7 117.1l-5.4-3.1 6.2-.7 5.4 3.2z"/><path fill="#969c0c" d="M278.6 141.6l-5.3-.7 6-5 5.3 .7z"/><path fill="#a28a18" d="M295.5 133l-5.3-.9 5.9-4.5 5.4 .9z"/><path fill="#a84812" d="M340.8 116.9l-5.4-1.4 6.1-3.4 5.4 1.4z"/><path fill="#a83012" d="M380.7 110.1l-5.4-1.9 6.2-2.5 5.4 1.9z"/><path fill="#00a20c" d="M234.2 173.9l-5.2-.3 5.7-6.3 5.2 .3z"/><path fill="#a23c12" d="M460.3 114.9l-5.4-2.9 6.2-.9 5.4 3z"/><path fill="#8a8412" d="M527.3 137.5l-5.3-4.1 6.1 .3 5.3 4.1z"/><path fill="#9c6618" d="M499.6 126.2l-5.4-3.6 6.2-.2 5.4 3.6z"/><path fill="#36a80c" d="M256.2 156.7l-5.2-.5 5.8-5.7 5.3 .5z"/><path fill="#a82a0c" d="M392.1 109.6l-5.4-2 6.2-2.3 5.4 2.1z"/><path fill="#06900c" d="M576.1 166l-5.2-5 6 1.1 5.2 5z"/><path fill="#a23612" d="M449 113.1l-5.4-2.8 6.2-1.1 5.4 2.8z"/><path fill="#72900c" d="M543.7 146.1l-5.3-4.3 6.1 .5 5.3 4.4z"/><path fill="#a82a0c" d="M403.5 109.5l-5.5-2.1 6.2-2.1 5.5 2.2z"/><path fill="#30900c" d="M560 155.7l-5.3-4.7 6.1 .8 5.2 4.7z"/><path fill="#a23012" d="M437.6 111.6l-5.4-2.6 6.2-1.4 5.4 2.7z"/><path fill="#a86018" d="M323.6 122.7l-5.3-1.2 6-3.8 5.4 1.2z"/><path fill="#a82a0c" d="M414.8 109.9l-5.4-2.4 6.2-1.8 5.4 2.4z"/><path fill="#a83012" d="M426.2 110.6l-5.4-2.5 6.2-1.6 5.4 2.5z"/><path fill="#a83c12" d="M352.1 115.1l-5.4-1.6 6.1-3.1 5.4 1.5z"/><path fill="#00a20c" d="M228.6 180.3l-5.1-.3 5.7-6.6 5.1 .4z"/><path fill="#84a20c" d="M272.8 146.6l-5.2-.7 5.9-5.2 5.2 .7z"/><path fill="#9c6018" d="M488.3 123l-5.4-3.4 6.2-.4 5.4 3.4z"/><path fill="#a27818" d="M306.6 129.6l-5.4-1 6-4.3 5.4 1.1z"/><path fill="#967e18" d="M516.1 133.4l-5.3-3.9 6.1 .1 5.3 3.9z"/><path fill="#9c9012" d="M289.6 137.6l-5.3-.9 6-4.7 5.3 .9z"/><path fill="#12a80c" d="M250.5 162.3l-5.2-.5 5.8-5.8 5.2 .5z"/><path fill="#a83612" d="M363.4 113.6l-5.4-1.6 6.1-3 5.4 1.7z"/><path fill="#00a206" d="M223.1 186.8l-5.1-.2 5.6-6.8 5.1 .3z"/><path fill="#a25412" d="M477 120.3l-5.4-3.3 6.2-.6 5.4 3.3z"/><path fill="#a85412" d="M334.8 120.3l-5.3-1.3 6.1-3.7 5.3 1.4z"/><path fill="#009006" d="M581.2 171l-5.2-5.2 6 1.1 5.2 5.2z"/><path fill="#8a900c" d="M532.5 141.5l-5.3-4.2 6.2 .4 5.2 4.2z"/><path fill="#a83012" d="M374.7 112.6l-5.4-1.8 6.2-2.7 5.4 1.8z"/><path fill="#66a80c" d="M267.1 151.8l-5.3-.7 5.9-5.4 5.3 .7z"/><path fill="#12960c" d="M565.1 160.3l-5.2-4.8 6 .8 5.2 4.9z"/><path fill="#009c06" d="M217.6 193.6l-5.1-.2 5.6-7 5.1 .2z"/><path fill="#60960c" d="M548.9 150.5l-5.3-4.5 6.1 .6 5.3 4.5z"/><path fill="#9c7218" d="M504.9 129.7l-5.4-3.7 6.2-.1 5.3 3.7z"/><path fill="#a24812" d="M465.6 117.9l-5.4-3.1 6.2-.9 5.4 3.2z"/><path fill="#06a80c" d="M244.9 168.2l-5.2-.4 5.8-6.1 5.2 .5z"/><path fill="#a86c18" d="M317.7 126.6l-5.3-1.2 6-4 5.4 1.2z"/><path fill="#a83012" d="M386 111.9l-5.4-2 6.2-2.4 5.4 2z"/><path fill="#969c12" d="M283.8 142.3l-5.3-.8 6-4.9 5.3 .8z"/><path fill="#a83c12" d="M454.3 115.9l-5.4-2.9 6.2-1.1 5.4 2.9z"/><path fill="#a84812" d="M346.1 118.3l-5.4-1.5 6.1-3.4 5.4 1.5z"/><path fill="#a28a18" d="M300.7 133.9l-5.3-1 6-4.5 5.3 1.1z"/><path fill="#a83012" d="M397.4 111.6l-5.4-2.1 6.2-2.2 5.4 2.1z"/><path fill="#a83612" d="M442.9 114.3l-5.4-2.8 6.2-1.3 5.4 2.8z"/><path fill="#a83012" d="M408.8 111.7l-5.4-2.3 6.2-2 5.4 2.4z"/><path fill="#968412" d="M521.3 137.3l-5.3-4 6.2 .1 5.3 4z"/><path fill="#9c6618" d="M493.6 126.4l-5.4-3.5 6.2-.4 5.3 3.6z"/><path fill="#a83012" d="M431.5 113.1l-5.4-2.7 6.2-1.5 5.4 2.6zM420.2 112.2l-5.5-2.5 6.2-1.7 5.5 2.5z"/><path fill="#00a20c" d="M239.3 174.3l-5.2-.4 5.7-6.3 5.2 .4z"/><path fill="#42a80c" d="M261.4 157.2l-5.3-.6 5.9-5.6 5.2 .6z"/><path fill="#a84212" d="M357.4 116.6l-5.4-1.6 6.1-3.2 5.4 1.7z"/><path fill="#a86018" d="M328.9 124l-5.4-1.4 6.1-3.8 5.4 1.4z"/><path fill="#84960c" d="M537.7 145.7l-5.2-4.3 6.1 .3 5.2 4.4z"/><path fill="#0c960c" d="M570.2 165l-5.2-4.9 6.1 .9 5.2 5z"/><path fill="#a25a18" d="M482.3 123.5l-5.4-3.4 6.2-.6 5.4 3.4z"/><path fill="#48960c" d="M554 154.9l-5.2-4.6 6.1 .6 5.2 4.7z"/><path fill="#8aa80c" d="M278 147.3l-5.3-.8 5.9-5.1 5.3 .8z"/><path fill="#a87818" d="M311.8 130.7l-5.3-1.2 6-4.2 5.3 1.2z"/><path fill="#00a20c" d="M233.7 180.6l-5.2-.4 5.7-6.5 5.2 .4z"/><path fill="#a83612" d="M368.7 115.4l-5.4-1.9 6.1-2.9 5.4 1.9z"/><path fill="#9c7e18" d="M510.1 133.4l-5.3-3.8 6.1-.1 5.4 3.8z"/><path fill="#a29018" d="M294.8 138.5l-5.3-1 6-4.7 5.3 1z"/><path fill="#a84e12" d="M470.9 121l-5.4-3.3 6.2-.8 5.4 3.3z"/><path fill="#12a80c" d="M255.7 162.9l-5.3-.6 5.8-5.9 5.3 .7z"/><path fill="#a85418" d="M340.1 121.7l-5.4-1.5 6.1-3.6 5.4 1.5z"/><path fill="#a83612" d="M380 114.5l-5.4-2 6.2-2.7 5.4 2z"/><path fill="#00a20c" d="M228.1 187.2l-5.1-.4 5.6-6.8 5.2 .4z"/><path fill="#a84812" d="M459.6 118.8l-5.4-3 6.2-1.1 5.4 3.1z"/><path fill="#909012" d="M526.6 141.3l-5.3-4.2 6.1 .2 5.3 4.1z"/><path fill="#ae3012" d="M391.4 113.9l-5.5-2.1 6.2-2.4 5.4 2.1z"/><path fill="#a27218" d="M498.8 130l-5.3-3.7 6.2-.4 5.3 3.7z"/><path fill="#00960c" d="M575.3 170l-5.1-5.1 6 .9 5.2 5.1z"/><path fill="#a83c12" d="M448.2 117.1l-5.4-3 6.2-1.2 5.4 2.9z"/><path fill="#72a80c" d="M272.2 152.5l-5.2-.8 5.9-5.3 5.2 .8z"/><path fill="#a86c18" d="M322.9 127.8l-5.3-1.3 6.1-4 5.3 1.3z"/><path fill="#72960c" d="M542.9 150l-5.2-4.5 6.1 .4 5.2 4.5z"/><path fill="#ae3012" d="M402.7 113.8l-5.4-2.3 6.2-2.2 5.4 2.3z"/><path fill="#ae4812" d="M351.4 119.8l-5.4-1.6 6.1-3.4 5.4 1.7z"/><path fill="#2a960c" d="M559.2 159.5l-5.2-4.7 6 .6 5.2 4.8z"/><path fill="#a83612" d="M436.8 115.7l-5.4-2.8 6.2-1.5 5.5 2.8z"/><path fill="#00a206" d="M222.6 193.9l-5.1-.3 5.6-7 5.1 .4z"/><path fill="#06a80c" d="M250 168.7l-5.2-.5 5.8-6.1 5.2 .6z"/><path fill="#ae3012" d="M414.1 114l-5.4-2.4 6.2-2 5.4 2.5z"/><path fill="#a83612" d="M425.5 114.7l-5.4-2.6 6.2-1.8 5.4 2.6z"/><path fill="#9c9c12" d="M289 143.2l-5.3-.9 6-5 5.3 1z"/><path fill="#a88a18" d="M305.9 135l-5.3-1.1 6-4.5 5.3 1.1z"/><path fill="#a26618" d="M487.5 126.9l-5.3-3.5 6.2-.6 5.3 3.5z"/><path fill="#9c8418" d="M515.3 137.3l-5.3-4 6.2-.1 5.3 4z"/><path fill="#ae4212" d="M362.7 118.3l-5.4-1.8 6.1-3.1 5.4 1.8z"/><path fill="#a86018" d="M334.1 125.3l-5.3-1.4 6.1-3.8 5.3 1.5z"/><path fill="#00a80c" d="M244.3 174.8l-5.1-.6 5.7-6.2 5.2 .6z"/><path fill="#4ea80c" d="M266.5 157.9l-5.2-.7 5.8-5.6 5.3 .7z"/><path fill="#a85a18" d="M476.2 124.2l-5.4-3.4 6.2-.8 5.4 3.4z"/><path fill="#90960c" d="M531.8 145.4l-5.3-4.3 6.1 .2 5.3 4.3z"/><path fill="#ae3c12" d="M374 117.2l-5.4-2 6.1-2.8 5.4 1.9z"/><path fill="#a87818" d="M317 131.9l-5.3-1.3 6-4.2 5.4 1.3z"/><path fill="#0c9c0c" d="M564.3 164.3l-5.2-4.9 6.1 .6 5.2 5z"/><path fill="#96a80c" d="M283.2 148.2l-5.3-1 5.9-5.1 5.3 1z"/><path fill="#5a9c0c" d="M548.1 154.4l-5.3-4.6 6.1 .4 5.3 4.7z"/><path fill="#a27e18" d="M504.1 133.6l-5.4-3.8 6.2-.3 5.3 3.8z"/><path fill="#a84e12" d="M464.9 121.9l-5.4-3.2 6.2-1 5.4 3.2z"/><path fill="#a29018" d="M300 139.5l-5.3-1.1 6-4.7 5.3 1.1z"/><path fill="#ae3612" d="M385.3 116.4l-5.4-2.1 6.2-2.6 5.4 2.1z"/><path fill="#00a80c" d="M238.7 181.1l-5.1-.5 5.7-6.5 5.2 .5z"/><path fill="#ae5418" d="M345.4 123.2l-5.4-1.6 6.1-3.6 5.4 1.7z"/><path fill="#ae4812" d="M453.5 120l-5.4-3.1 6.2-1.2 5.4 3z"/><path fill="#1ea80c" d="M260.8 163.5l-5.2-.7 5.8-5.8 5.2 .7z"/><path fill="#ae3612" d="M396.7 116.1l-5.4-2.3 6.1-2.4 5.5 2.3z"/><path fill="#ae4212" d="M442.1 118.4l-5.4-2.9 6.3-1.5 5.4 2.9z"/><path fill="#ae3612" d="M408 116.1l-5.4-2.4 6.2-2.2 5.4 2.4z"/><path fill="#969012" d="M520.6 141.2l-5.3-4.1 6.1-.1 5.3 4.2z"/><path fill="#ae3c12" d="M430.8 117.2l-5.4-2.7 6.2-1.7 5.4 2.8z"/><path fill="#a27218" d="M492.8 130.4l-5.4-3.7 6.2-.5 5.4 3.7z"/><path fill="#ae3612" d="M419.4 116.5l-5.4-2.6 6.2-1.9 5.4 2.5z"/><path fill="#00a20c" d="M233.2 187.6l-5.2-.5 5.7-6.7 5.2 .5z"/><path fill="#ae6c18" d="M328.2 129.1l-5.4-1.4 6.1-4 5.4 1.5z"/><path fill="#ae4e12" d="M356.7 121.5l-5.4-1.8 6.1-3.3 5.4 1.8z"/><path fill="#78a80c" d="M277.4 153.3l-5.3-.9 5.9-5.3 5.3 .9z"/><path fill="#7e9c0c" d="M537 149.7l-5.3-4.5 6.1 .2 5.3 4.5z"/><path fill="#069c0c" d="M569.4 169.1l-5.2-5 6.1 .7 5.2 5.1z"/><path fill="#a88a18" d="M311.1 136.1l-5.3-1.2 6-4.4 5.4 1.2z"/><path fill="#0ca80c" d="M255.1 169.4l-5.2-.7 5.8-6.1 5.2 .8z"/><path fill="#9c9c12" d="M294.2 144.2l-5.3-1.1 6-4.9 5.3 1.1z"/><path fill="#429c0c" d="M553.3 159l-5.3-4.8 6.1 .5 5.2 4.8z"/><path fill="#a86618" d="M481.5 127.5l-5.4-3.5 6.2-.7 5.4 3.5z"/><path fill="#00a206" d="M227.6 194.3l-5.1-.4 5.6-7 5.2 .5z"/><path fill="#ae4212" d="M367.9 120.1l-5.3-1.9 6.1-3.1 5.4 1.9z"/><path fill="#a28a18" d="M509.3 137.4l-5.3-3.9 6.2-.3 5.3 4z"/><path fill="#ae6018" d="M339.4 126.8l-5.4-1.6 6.1-3.7 5.4 1.6z"/><path fill="#ae5a18" d="M470.2 125.1l-5.4-3.4 6.2-1 5.4 3.4z"/><path fill="#ae3c12" d="M379.3 119.1l-5.4-2 6.1-2.9 5.4 2.1z"/><path fill="#5aae0c" d="M271.6 158.7l-5.2-.9 5.9-5.5 5.2 .9z"/><path fill="#00a80c" d="M249.4 175.4l-5.1-.7 5.7-6.2 5.2 .7z"/><path fill="#ae4e12" d="M458.8 123l-5.4-3.2 6.2-1.2 5.4 3.2z"/><path fill="#969612" d="M525.8 145.3l-5.3-4.2 6.1-.1 5.3 4.3z"/><path fill="#ae7818" d="M322.3 133.2l-5.4-1.4 6.1-4.2 5.3 1.4z"/><path fill="#ae3c12" d="M390.6 118.5l-5.4-2.2 6.2-2.6 5.4 2.2z"/><path fill="#a27818" d="M498.1 134l-5.4-3.8 6.2-.5 5.3 3.8z"/><path fill="#9ca80c" d="M288.4 149.1l-5.3-1 5.9-5.1 5.3 1z"/><path fill="#ae5418" d="M350.7 124.8l-5.4-1.7 6.1-3.5 5.4 1.7z"/><path fill="#ae4812" d="M447.4 121.3l-5.3-3 6.2-1.5 5.4 3z"/><path fill="#a89618" d="M305.2 140.6l-5.3-1.2 6-4.7 5.4 1.3z"/><path fill="#ae3c12" d="M402 118.3l-5.4-2.4 6.2-2.3 5.4 2.4z"/><path fill="#6c9c0c" d="M542.1 154.1l-5.2-4.6 6.1 .2 5.2 4.6z"/><path fill="#1e9c0c" d="M558.4 163.7l-5.2-4.9 6 .5 5.3 4.9z"/><path fill="#ae4212" d="M436.1 120l-5.4-2.9 6.2-1.7 5.4 2.9z"/><path fill="#ae3c12" d="M413.3 118.5l-5.4-2.5 6.2-2.2 5.4 2.6zM424.7 119l-5.4-2.7 6.2-1.9 5.4 2.7z"/><path fill="#00a80c" d="M243.8 181.7l-5.2-.7 5.8-6.4 5.2 .6z"/><path fill="#2aae0c" d="M265.9 164.3l-5.2-.8 5.8-5.8 5.3 .8z"/><path fill="#a87218" d="M486.8 131l-5.4-3.6 6.2-.8 5.3 3.7z"/><path fill="#ae4e12" d="M361.9 123.2l-5.4-1.8 6.2-3.3 5.4 1.9z"/><path fill="#9c9012" d="M514.6 141.4l-5.4-4.1 6.2-.3 5.3 4.1z"/><path fill="#ae6c18" d="M333.5 130.6l-5.4-1.6 6.1-3.9 5.3 1.5z"/><path fill="#00a80c" d="M238.2 188.2l-5.1-.7 5.7-6.6 5.1 .6z"/><path fill="#7ea80c" d="M282.6 154.3l-5.3-1 5.9-5.4 5.3 1.1z"/><path fill="#ae6618" d="M475.4 128.4l-5.3-3.5 6.2-.9 5.3 3.4z"/><path fill="#ae8a18" d="M316.4 137.4l-5.4-1.3 6.1-4.5 5.3 1.4z"/><path fill="#ae4812" d="M373.2 122l-5.4-2 6.2-3.1 5.4 2.1z"/><path fill="#90a20c" d="M531 149.6l-5.3-4.4 6.1 0 5.3 4.4z"/><path fill="#a29c12" d="M299.4 145.3l-5.3-1.2 6-4.8 5.3 1.2z"/><path fill="#0cae0c" d="M260.2 170.1l-5.2-.8 5.8-6 5.2 .8z"/><path fill="#0c9c0c" d="M563.5 168.5l-5.2-5 6.1 .5 5.2 5.1z"/><path fill="#54a20c" d="M547.3 158.6l-5.2-4.7 6.1 .3 5.2 4.7z"/><path fill="#a28418" d="M503.3 137.8l-5.3-3.9 6.1-.5 5.4 3.9z"/><path fill="#ae6618" d="M344.7 128.4l-5.4-1.7 6.1-3.7 5.4 1.7z"/><path fill="#ae5a18" d="M464.1 126.1l-5.4-3.3 6.2-1.2 5.4 3.4z"/><path fill="#00a20c" d="M232.7 194.9l-5.2-.6 5.7-6.9 5.1 .6z"/><path fill="#ae4212" d="M384.6 121.2l-5.4-2.2 6.1-2.8 5.4 2.2z"/><path fill="#ae5412" d="M452.7 124.3l-5.4-3.2 6.3-1.4 5.3 3.2z"/><path fill="#b44212" d="M395.9 120.7l-5.4-2.3 6.2-2.6 5.4 2.4z"/><path fill="#60ae0c" d="M276.8 159.6l-5.3-1 5.9-5.5 5.3 1z"/><path fill="#ae4812" d="M441.4 122.8l-5.4-3 6.2-1.6 5.4 3z"/><path fill="#b44212" d="M407.3 120.7l-5.4-2.5 6.2-2.4 5.4 2.6z"/><path fill="#ae7818" d="M327.5 134.6l-5.3-1.5 6-4.2 5.4 1.5z"/><path fill="#00a80c" d="M254.5 176.1l-5.2-.8 5.8-6.2 5.2 .8z"/><path fill="#b44212" d="M430 121.7l-5.4-2.8 6.2-1.9 5.4 2.9zM418.6 121l-5.4-2.6 6.2-2.2 5.4 2.7z"/><path fill="#9c9612" d="M519.8 145.4l-5.3-4.2 6.1-.2 5.3 4.2z"/><path fill="#ae5a18" d="M355.9 126.6l-5.3-1.9 6.1-3.5 5.4 1.9z"/><path fill="#a87818" d="M492 134.6l-5.3-3.7 6.1-.7 5.4 3.7z"/><path fill="#9ca80c" d="M293.5 150.2l-5.2-1.1 5.9-5.1 5.3 1.2z"/><path fill="#a89618" d="M310.5 141.9l-5.4-1.4 6.1-4.6 5.3 1.4z"/><path fill="#78a20c" d="M536.2 153.9l-5.3-4.5 6.1 0 5.3 4.6z"/><path fill="#36a20c" d="M552.4 163.3l-5.2-4.9 6.1 .3 5.2 4.9z"/><path fill="#b45412" d="M367.2 125.1l-5.4-2 6.2-3.2 5.4 2z"/><path fill="#ae6c18" d="M480.7 131.8l-5.4-3.6 6.2-.9 5.4 3.6z"/><path fill="#00a80c" d="M248.9 182.4l-5.2-.8 5.8-6.4 5.2 .8z"/><path fill="#ae7218" d="M338.7 132.2l-5.4-1.7 6.1-3.9 5.4 1.6z"/><path fill="#30ae0c" d="M271 165.2l-5.2-1 5.9-5.7 5.2 1z"/><path fill="#a29018" d="M508.5 141.7l-5.3-4.1 6.2-.4 5.3 4.1z"/><path fill="#b44e12" d="M378.5 124.1l-5.4-2.2 6.2-3 5.4 2.2z"/><path fill="#ae6618" d="M469.4 129.4l-5.4-3.4 6.2-1.2 5.4 3.5z"/><path fill="#ae8a18" d="M321.6 138.8l-5.3-1.5 6-4.4 5.3 1.5z"/><path fill="#84ae0c" d="M287.7 155.3l-5.2-1.1 5.9-5.3 5.3 1.2z"/><path fill="#00a80c" d="M243.3 188.9l-5.2-.8 5.7-6.7 5.2 .8z"/><path fill="#a29c12" d="M304.6 146.5l-5.3-1.3 6-4.8 5.3 1.3z"/><path fill="#b44812" d="M389.9 123.4l-5.4-2.3 6.1-2.8 5.4 2.3z"/><path fill="#b45a18" d="M458 127.4l-5.4-3.3 6.3-1.4 5.3 3.3z"/><path fill="#96a20c" d="M525 149.6l-5.3-4.3 6.1-.2 5.3 4.4z"/><path fill="#ae6618" d="M349.9 130.1l-5.3-1.8 6.1-3.7 5.4 1.8z"/><path fill="#a88418" d="M497.3 138.4l-5.4-3.9 6.2-.7 5.3 3.9z"/><path fill="#0cae0c" d="M265.3 171l-5.2-1 5.8-5.9 5.3 .9z"/><path fill="#b44812" d="M401.2 123.1l-5.4-2.5 6.2-2.5 5.4 2.5z"/><path fill="#b45418" d="M446.7 125.8l-5.4-3.1 6.2-1.7 5.4 3.2z"/><path fill="#66a20c" d="M541.3 158.4l-5.2-4.6 6.1 0 5.2 4.7z"/><path fill="#12a20c" d="M557.6 168.1l-5.2-5 6 .3 5.3 5.1z"/><path fill="#b44812" d="M412.6 123.2l-5.4-2.6 6.2-2.4 5.4 2.7z"/><path fill="#b44e12" d="M435.3 124.5l-5.4-2.9 6.2-1.9 5.4 3z"/><path fill="#b44812" d="M423.9 123.7l-5.4-2.8 6.2-2.1 5.4 2.8z"/><path fill="#00a80c" d="M237.7 195.5l-5.1-.7 5.6-6.9 5.2 .8z"/><path fill="#b45a18" d="M361.2 128.4l-5.4-1.9 6.2-3.5 5.4 2z"/><path fill="#ae7e18" d="M332.8 136.1l-5.4-1.6 6.1-4.1 5.3 1.6z"/><path fill="#ae7818" d="M486 135.4l-5.4-3.7 6.2-.9 5.4 3.7z"/><path fill="#66ae0c" d="M281.9 160.7l-5.2-1.2 5.9-5.5 5.3 1.2z"/><path fill="#a29612" d="M513.7 145.7l-5.3-4.2 6.2-.4 5.3 4.3z"/><path fill="#06ae0c" d="M259.6 177l-5.2-.9 5.8-6.2 5.2 .9z"/><path fill="#a89618" d="M315.7 143.2l-5.3-1.4 6-4.6 5.3 1.5z"/><path fill="#9ca80c" d="M298.7 151.4l-5.3-1.3 6-5 5.3 1.3z"/><path fill="#b45418" d="M372.5 127.1l-5.4-2.1 6.2-3.2 5.4 2.1z"/><path fill="#ae7218" d="M474.6 132.8l-5.3-3.5 6.2-1.2 5.3 3.6z"/><path fill="#8aa20c" d="M530.2 154l-5.3-4.5 6.1-.2 5.3 4.5z"/><path fill="#b47218" d="M344 133.8l-5.4-1.7 6.1-4 5.4 1.9z"/><path fill="#48a80c" d="M546.5 163.1l-5.3-4.8 6.1 .1 5.3 4.8z"/><path fill="#b44e12" d="M383.8 126.2l-5.4-2.3 6.2-2.9 5.4 2.3z"/><path fill="#a89018" d="M502.5 142.2l-5.3-4 6.1-.6 5.4 4z"/><path fill="#b46618" d="M463.3 130.7l-5.4-3.4 6.2-1.4 5.4 3.4z"/><path fill="#00a80c" d="M254 183.2l-5.2-.9 5.8-6.4 5.2 .9z"/><path fill="#3cae0c" d="M276.2 166.2l-5.3-1.1 5.9-5.7 5.3 1.1z"/><path fill="#b44e12" d="M395.2 125.7l-5.4-2.4 6.1-2.8 5.4 2.5z"/><path fill="#b45a18" d="M451.9 128.9l-5.3-3.3 6.2-1.6 5.4 3.3z"/><path fill="#ae8a18" d="M326.8 140.3l-5.3-1.6 6-4.3 5.4 1.6z"/><path fill="#8aae0c" d="M292.9 156.5l-5.3-1.3 6-5.2 5.3 1.3z"/><path fill="#b44e12" d="M406.5 125.6l-5.4-2.6 6.2-2.6 5.4 2.7z"/><path fill="#b46618" d="M355.2 131.9l-5.4-1.9 6.2-3.7 5.3 2z"/><path fill="#b45418" d="M440.6 127.5l-5.4-3.1 6.2-1.8 5.4 3.1z"/><path fill="#a8a212" d="M309.8 147.9l-5.3-1.4 6-4.9 5.3 1.5z"/><path fill="#b44e12" d="M417.9 125.8l-5.4-2.7 6.2-2.3 5.4 2.7zM429.2 126.4l-5.4-2.9 6.2-2 5.4 2.9z"/><path fill="#9ca212" d="M519 149.9l-5.3-4.3 6.1-.4 5.3 4.4z"/><path fill="#ae8418" d="M491.2 139.1l-5.3-3.8 6.2-.9 5.3 3.9z"/><path fill="#00a80c" d="M248.4 189.6l-5.2-.8 5.7-6.7 5.2 .9z"/><path fill="#12ae0c" d="M270.5 172l-5.3-1.1 5.9-5.9 5.2 1z"/><path fill="#72a80c" d="M535.3 158.4l-5.2-4.6 6.1-.1 5.3 4.7z"/><path fill="#b46018" d="M366.5 130.4l-5.4-2.1 6.2-3.4 5.3 2.1z"/><path fill="#24a80c" d="M551.6 167.9l-5.2-5 6.1 .1 5.2 5z"/><path fill="#ae7e18" d="M338 137.8l-5.3-1.8 6-4.1 5.4 1.8z"/><path fill="#ae7818" d="M479.9 136.4l-5.4-3.7 6.2-1.1 5.4 3.7z"/><path fill="#00a80c" d="M242.8 196.3l-5.2-.8 5.7-6.9 5.2 .9z"/><path fill="#66ae0c" d="M287.1 161.8l-5.3-1.2 6-5.5 5.2 1.2z"/><path fill="#a29618" d="M507.7 146.2l-5.3-4.1 6.2-.6 5.3 4.2z"/><path fill="#b45a18" d="M377.8 129.3l-5.4-2.3 6.2-3.2 5.4 2.3z"/><path fill="#ae9618" d="M320.9 144.7l-5.3-1.5 6-4.6 5.4 1.6z"/><path fill="#a2a812" d="M303.9 152.7l-5.3-1.4 6-5 5.3 1.4z"/><path fill="#b47218" d="M468.6 134l-5.4-3.5 6.2-1.3 5.4 3.5z"/><path fill="#06ae0c" d="M264.8 177.9l-5.3-1 5.8-6.2 5.3 1.1z"/><path fill="#b47218" d="M349.2 135.7l-5.3-1.9 6.1-3.9 5.3 1.9z"/><path fill="#b45418" d="M389.1 128.5l-5.4-2.4 6.2-3 5.4 2.5z"/><path fill="#b46618" d="M457.2 132.1l-5.4-3.4 6.3-1.5 5.3 3.4z"/><path fill="#96a80c" d="M524.1 154.2l-5.2-4.5 6.1-.3 5.3 4.5z"/><path fill="#ae9018" d="M496.4 143l-5.3-4 6.2-.9 5.3 4z"/><path fill="#b45418" d="M400.4 128.1l-5.4-2.5 6.2-2.7 5.4 2.5z"/><path fill="#b46018" d="M445.9 130.5l-5.4-3.2 6.2-1.8 5.4 3.3z"/><path fill="#5aa80c" d="M540.5 163.1l-5.3-4.8 6.2-.1 5.2 4.8z"/><path fill="#b45418" d="M411.8 128.2l-5.4-2.8 6.2-2.5 5.4 2.8z"/><path fill="#42b40c" d="M281.3 167.3l-5.2-1.2 5.9-5.7 5.2 1.2z"/><path fill="#b45a18" d="M434.5 129.4l-5.4-3.1 6.2-2 5.4 3.1z"/><path fill="#00ae0c" d="M259.1 184.1l-5.2-1 5.8-6.4 5.2 1.1z"/><path fill="#b45418" d="M423.1 128.6l-5.3-2.9 6.2-2.3 5.4 2.9z"/><path fill="#ae8a18" d="M332.1 142l-5.4-1.8 6.1-4.3 5.3 1.8z"/><path fill="#b46c18" d="M360.5 133.9l-5.4-2.1 6.1-3.6 5.4 2.1z"/><path fill="#8aae0c" d="M298.1 157.8l-5.3-1.4 6-5.2 5.3 1.4z"/><path fill="#a8a212" d="M315 149.3l-5.3-1.5 6-4.8 5.3 1.6z"/><path fill="#ae8418" d="M485.1 140.1l-5.3-3.9 6.2-1 5.3 3.8z"/><path fill="#a2a212" d="M512.9 150.4l-5.3-4.3 6.2-.6 5.3 4.3z"/><path fill="#00a80c" d="M253.4 190.6l-5.1-1 5.7-6.6 5.2 1z"/><path fill="#b46618" d="M371.8 132.5l-5.4-2.2 6.1-3.4 5.4 2.2z"/><path fill="#12ae0c" d="M275.6 173.1l-5.2-1.2 5.8-5.9 5.3 1.2z"/><path fill="#b47818" d="M473.8 137.6l-5.3-3.7 6.2-1.3 5.3 3.7z"/><path fill="#b47e18" d="M343.3 139.6l-5.4-1.9 6.1-4.1 5.4 1.9z"/><path fill="#7ea80c" d="M529.3 158.7l-5.2-4.6 6.1-.4 5.3 4.7z"/><path fill="#b46018" d="M383.1 131.5l-5.4-2.3 6.2-3.2 5.3 2.4z"/><path fill="#36a80c" d="M545.6 167.8l-5.2-4.9 6.1-.1 5.3 5z"/><path fill="#a89618" d="M501.7 146.9l-5.4-4.1 6.2-.8 5.3 4.2z"/><path fill="#00a80c" d="M247.8 197.2l-5.1-.9 5.7-6.9 5.2 1z"/><path fill="#b47218" d="M462.5 135.4l-5.4-3.4 6.2-1.6 5.4 3.5z"/><path fill="#6cb40c" d="M292.3 163.1l-5.3-1.4 5.9-5.4 5.3 1.3z"/><path fill="#ae9618" d="M326.1 146.3l-5.3-1.7 6-4.5 5.4 1.7z"/><path fill="#b45a18" d="M394.4 130.9l-5.4-2.5 6.2-2.9 5.4 2.5z"/><path fill="#a2a812" d="M309.1 154.2l-5.3-1.6 6-5 5.3 1.6z"/><path fill="#b46c18" d="M451.1 133.7l-5.3-3.3 6.2-1.8 5.4 3.4z"/><path fill="#b47818" d="M354.5 137.6l-5.4-2 6.1-3.9 5.4 2.1z"/><path fill="#06ae0c" d="M269.9 179l-5.2-1.1 5.8-6.2 5.2 1.2z"/><path fill="#ba5a18" d="M405.7 130.7l-5.4-2.7 6.2-2.7 5.4 2.7z"/><path fill="#ba6018" d="M439.8 132.4l-5.4-3.2 6.2-2 5.4 3.2z"/><path fill="#ba5a18" d="M417.1 130.9l-5.4-2.9 6.2-2.4 5.4 2.9z"/><path fill="#ba6018" d="M428.4 131.4l-5.4-3 6.3-2.2 5.3 3z"/><path fill="#9ca80c" d="M518.1 154.7l-5.3-4.5 6.2-.5 5.3 4.4z"/><path fill="#ae9018" d="M490.4 143.9l-5.4-4 6.2-1 5.4 4z"/><path fill="#b47218" d="M365.7 136l-5.3-2.2 6.1-3.6 5.4 2.2z"/><path fill="#b49018" d="M337.3 143.7l-5.3-1.8 6-4.3 5.4 1.8z"/><path fill="#66ae0c" d="M534.5 163.2l-5.3-4.7 6.2-.3 5.2 4.8z"/><path fill="#48b40c" d="M286.5 168.6l-5.3-1.3 5.9-5.7 5.3 1.3z"/><path fill="#00ae0c" d="M264.2 185.2l-5.2-1.1 5.8-6.4 5.2 1.2z"/><path fill="#b48418" d="M479.1 141.2l-5.4-3.8 6.2-1.3 5.4 3.9z"/><path fill="#a8a212" d="M320.2 150.9l-5.3-1.6 6-4.8 5.4 1.7z"/><path fill="#90ae0c" d="M303.3 159.2l-5.3-1.5 6-5.2 5.3 1.5z"/><path fill="#b46c18" d="M377 134.8l-5.3-2.4 6.1-3.4 5.4 2.4z"/><path fill="#a2a212" d="M506.9 151l-5.3-4.2 6.2-.8 5.3 4.3z"/><path fill="#b47e18" d="M467.7 138.9l-5.3-3.6 6.2-1.5 5.4 3.7z"/><path fill="#b48418" d="M348.5 141.5l-5.4-2 6.2-4.1 5.3 2.1z"/><path fill="#00ae0c" d="M258.5 191.6l-5.2-1.1 5.8-6.6 5.2 1.1z"/><path fill="#ba6618" d="M388.3 133.9l-5.3-2.5 6.1-3.1 5.4 2.5z"/><path fill="#18b40c" d="M280.7 174.3l-5.2-1.3 5.9-5.9 5.2 1.3z"/><path fill="#8aae0c" d="M523.3 159.1l-5.3-4.6 6.2-.5 5.3 4.6z"/><path fill="#ba7218" d="M456.4 137.1l-5.4-3.5 6.3-1.7 5.3 3.4z"/><path fill="#ba6018" d="M399.7 133.5l-5.4-2.7 6.2-2.9 5.4 2.7z"/><path fill="#ae9618" d="M495.6 147.8l-5.3-4.1 6.2-1 5.3 4.1z"/><path fill="#ae9c18" d="M331.4 148.1l-5.4-1.8 6.1-4.6 5.3 1.9z"/><path fill="#ba6c18" d="M445.1 135.6l-5.4-3.3 6.2-2 5.4 3.3z"/><path fill="#48ae0c" d="M539.6 168l-5.2-4.9 6.1-.3 5.3 4.9z"/><path fill="#ba6018" d="M411 133.4l-5.4-2.8 6.2-2.7 5.4 2.9z"/><path fill="#72b40c" d="M297.5 164.5l-5.3-1.5 5.9-5.4 5.3 1.5z"/><path fill="#ba6618" d="M433.7 134.5l-5.4-3.2 6.2-2.2 5.4 3.2zM422.4 133.7l-5.4-2.9 6.2-2.5 5.4 3z"/><path fill="#b47818" d="M359.7 139.7l-5.3-2.2 6.1-3.8 5.4 2.2z"/><path fill="#00a80c" d="M252.9 198.2l-5.2-1.1 5.8-6.8 5.2 1.1z"/><path fill="#a2ae12" d="M314.3 155.7l-5.3-1.6 6-5 5.4 1.7z"/><path fill="#06b40c" d="M275 180.2l-5.2-1.2 5.8-6.2 5.3 1.3z"/><path fill="#b49018" d="M484.3 145l-5.3-3.9 6.2-1.3 5.3 4z"/><path fill="#a2a812" d="M512.1 155.3l-5.3-4.4 6.2-.8 5.3 4.5z"/><path fill="#ba7218" d="M371 138.2l-5.4-2.3 6.2-3.6 5.4 2.3z"/><path fill="#b49018" d="M342.5 145.6l-5.3-2 6.1-4.2 5.3 2z"/><path fill="#b48418" d="M473 142.6l-5.3-3.8 6.2-1.5 5.3 3.8z"/><path fill="#48b40c" d="M291.7 169.9l-5.3-1.4 5.9-5.7 5.3 1.5z"/><path fill="#72ae0c" d="M528.5 163.6l-5.3-4.7 6.2-.5 5.2 4.8z"/><path fill="#ba6c18" d="M382.3 137.1l-5.4-2.4 6.2-3.4 5.4 2.5z"/><path fill="#a8a212" d="M325.4 152.6l-5.3-1.8 6.1-4.7 5.3 1.8z"/><path fill="#00ae0c" d="M269.3 186.4l-5.2-1.3 5.8-6.3 5.2 1.3z"/><path fill="#90b40c" d="M308.5 160.8l-5.3-1.7 6-5.2 5.3 1.7z"/><path fill="#a8a212" d="M500.8 151.9l-5.3-4.2 6.2-1 5.3 4.3z"/><path fill="#ba7e18" d="M461.7 140.5l-5.4-3.6 6.2-1.7 5.4 3.6z"/><path fill="#ba6c18" d="M393.6 136.4l-5.4-2.6 6.2-3.1 5.4 2.7z"/><path fill="#b48418" d="M353.8 143.5l-5.4-2.1 6.1-4 5.4 2.1z"/><path fill="#ba7818" d="M450.3 138.9l-5.3-3.5 6.2-1.9 5.3 3.5z"/><path fill="#ba6c18" d="M404.9 136.2l-5.3-2.8 6.2-2.9 5.3 2.8z"/><path fill="#ba7218" d="M439 137.6l-5.4-3.3 6.2-2.1 5.4 3.3z"/><path fill="#ba6c18" d="M416.3 136.2l-5.4-2.9 6.2-2.6 5.4 2.9z"/><path fill="#00ae0c" d="M263.6 192.8l-5.2-1.3 5.8-6.5 5.2 1.2z"/><path fill="#ba6c18" d="M427.6 136.7l-5.3-3.1 6.2-2.4 5.3 3.1z"/><path fill="#18b40c" d="M285.9 175.6l-5.3-1.4 5.9-5.9 5.3 1.5z"/><path fill="#90ae0c" d="M517.3 159.7l-5.3-4.6 6.2-.7 5.2 4.6z"/><path fill="#ae9c18" d="M489.5 148.9l-5.3-4.1 6.2-1.2 5.3 4.1zM336.6 149.9l-5.3-1.9 6-4.5 5.4 2z"/><path fill="#b47e18" d="M365 141.8l-5.4-2.2 6.2-3.8 5.3 2.3z"/><path fill="#72b40c" d="M302.6 166l-5.2-1.6 5.9-5.4 5.3 1.6z"/><path fill="#5aae0c" d="M533.6 168.3l-5.2-4.8 6.1-.5 5.3 4.9z"/><path fill="#a2ae12" d="M319.5 157.4l-5.3-1.7 6.1-5 5.3 1.8z"/><path fill="#00ae0c" d="M258 199.4l-5.2-1.2 5.8-6.8 5.1 1.2z"/><path fill="#b4901e" d="M478.2 146.3l-5.3-3.9 6.2-1.4 5.4 3.9z"/><path fill="#ba7818" d="M376.3 140.5l-5.4-2.4 6.2-3.6 5.3 2.5z"/><path fill="#0cb40c" d="M280.1 181.6l-5.2-1.4 5.9-6.1 5.2 1.4z"/><path fill="#a2a812" d="M506 156.1l-5.3-4.3 6.2-1 5.3 4.4z"/><path fill="#b4961e" d="M347.8 147.6l-5.4-2.1 6.1-4.2 5.4 2.1z"/><path fill="#ba8a18" d="M466.9 144.1l-5.3-3.7 6.2-1.7 5.3 3.8z"/><path fill="#ba7218" d="M387.6 139.6l-5.4-2.6 6.2-3.3 5.3 2.6z"/><path fill="#4eb40c" d="M296.8 171.4l-5.2-1.5 5.9-5.7 5.3 1.6z"/><path fill="#78ae0c" d="M522.4 164.2l-5.2-4.7 6.1-.7 5.3 4.7z"/><path fill="#a8a812" d="M330.7 154.5l-5.4-1.9 6.1-4.8 5.3 2z"/><path fill="#ba8418" d="M455.6 142.3l-5.4-3.6 6.2-1.9 5.4 3.6z"/><path fill="#ba7218" d="M398.9 139.1l-5.4-2.8 6.2-3.1 5.4 2.8z"/><path fill="#90b40c" d="M313.7 162.4l-5.3-1.7 6-5.2 5.3 1.8z"/><path fill="#aea218" d="M494.8 153l-5.4-4.2 6.2-1.2 5.4 4.2z"/><path fill="#00b40c" d="M274.4 187.7l-5.2-1.4 5.8-6.3 5.3 1.4z"/><path fill="#ba7818" d="M444.2 140.9l-5.3-3.4 6.2-2.2 5.4 3.5z"/><path fill="#b48a18" d="M359 145.7l-5.4-2.3 6.2-4 5.3 2.3z"/><path fill="#ba7218" d="M410.2 139l-5.4-3 6.2-2.8 5.4 2.9z"/><path fill="#ba7818" d="M432.9 139.8l-5.4-3.2 6.2-2.4 5.4 3.3z"/><path fill="#ba7218" d="M421.6 139.2l-5.4-3.1 6.2-2.6 5.4 3.1z"/><path fill="#b49c18" d="M483.5 150.2l-5.4-4 6.3-1.4 5.3 4z"/><path fill="#ba8418" d="M370.3 144.2l-5.4-2.5 6.1-3.7 5.4 2.4z"/><path fill="#ae9c18" d="M341.8 151.9l-5.3-2.1 6.1-4.4 5.3 2.1z"/><path fill="#1eb40c" d="M291 177.1l-5.2-1.5 5.9-5.9 5.2 1.6z"/><path fill="#9cae0c" d="M511.2 160.5l-5.3-4.5 6.2-.9 5.3 4.5z"/><path fill="#00ae0c" d="M268.7 194l-5.2-1.3 5.8-6.6 5.2 1.4z"/><path fill="#a8ae12" d="M324.8 159.2l-5.4-1.9 6.1-4.9 5.3 1.9z"/><path fill="#72b40c" d="M307.8 167.6l-5.3-1.7 6-5.4 5.3 1.8z"/><path fill="#ba961e" d="M472.2 147.8l-5.4-3.8 6.2-1.7 5.4 3.9z"/><path fill="#60b40c" d="M527.6 168.9l-5.2-4.9 6.1-.6 5.3 4.8z"/><path fill="#ba7e18" d="M381.5 143l-5.3-2.6 6.1-3.5 5.4 2.6z"/><path fill="#00ae0c" d="M263.1 200.6l-5.2-1.3 5.7-6.8 5.3 1.4z"/><path fill="#b4961e" d="M353 149.8l-5.3-2.3 6.1-4.2 5.3 2.3z"/><path fill="#a8a812" d="M500 157.2l-5.3-4.4 6.2-1.1 5.3 4.3z"/><path fill="#ba8a1e" d="M460.8 145.9l-5.3-3.7 6.2-1.9 5.4 3.7z"/><path fill="#ba7818" d="M392.8 142.2l-5.3-2.7 6.1-3.3 5.4 2.8z"/><path fill="#0cb40c" d="M285.3 183l-5.3-1.5 5.9-6.1 5.3 1.5z"/><path fill="#ba841e" d="M449.5 144.3l-5.4-3.6 6.3-2.1 5.3 3.6z"/><path fill="#ba7818" d="M404.2 141.9l-5.4-2.9 6.2-3.1 5.4 2.9z"/><path fill="#ba7e18" d="M438.2 143.1l-5.4-3.4 6.2-2.3 5.4 3.4z"/><path fill="#ba7818" d="M415.5 141.9l-5.4-3.1 6.2-2.8 5.4 3.1z"/><path fill="#aea812" d="M335.9 156.4l-5.3-2 6-4.7 5.4 2.1z"/><path fill="#ba7e18" d="M426.8 142.3l-5.3-3.2 6.2-2.6 5.3 3.2z"/><path fill="#4eba0c" d="M302 173.1l-5.3-1.7 6-5.6 5.2 1.7z"/><path fill="#84b40c" d="M516.4 165l-5.3-4.7 6.2-.9 5.3 4.7z"/><path fill="#ba901e" d="M364.3 148l-5.4-2.4 6.1-4 5.4 2.4z"/><path fill="#aea218" d="M488.7 154.2l-5.3-4.1 6.2-1.4 5.3 4.2z"/><path fill="#90b40c" d="M318.9 164.2l-5.3-1.9 6-5.1 5.3 1.9z"/><path fill="#00b40c" d="M279.5 189.1l-5.2-1.5 5.9-6.3 5.2 1.5z"/><path fill="#ba8a1e" d="M375.5 146.6l-5.3-2.6 6.1-3.7 5.4 2.6z"/><path fill="#b49c18" d="M477.4 151.7l-5.3-4 6.2-1.6 5.3 4z"/><path fill="#b4a218" d="M347.1 154l-5.4-2.2 6.1-4.4 5.4 2.2z"/><path fill="#a2b40c" d="M505.2 161.5l-5.3-4.5 6.2-1.1 5.3 4.5z"/><path fill="#1eb40c" d="M296.2 178.7l-5.3-1.7 5.9-5.8 5.3 1.7z"/><path fill="#00ae0c" d="M273.8 195.4l-5.2-1.4 5.8-6.6 5.3 1.5z"/><path fill="#ba8418" d="M386.8 145.6l-5.4-2.7 6.2-3.5 5.4 2.7z"/><path fill="#ba961e" d="M466.1 149.6l-5.4-3.9 6.3-1.8 5.3 3.8z"/><path fill="#a8b412" d="M330 161.2l-5.3-2.1 6-4.9 5.3 2.1z"/><path fill="#72ba0c" d="M313 169.4l-5.3-1.9 6-5.3 5.3 1.8z"/><path fill="#6cb40c" d="M521.6 169.6l-5.3-4.8 6.2-.8 5.2 4.8z"/><path fill="#ba8418" d="M398.1 145l-5.4-2.9 6.2-3.2 5.4 2.8z"/><path fill="#ba901e" d="M454.8 147.8l-5.4-3.7 6.2-2 5.4 3.7z"/><path fill="#b49c18" d="M358.3 152l-5.4-2.3 6.1-4.2 5.4 2.3z"/><path fill="#a8ae12" d="M493.9 158.4l-5.3-4.3 6.2-1.4 5.3 4.4z"/><path fill="#ba7e18" d="M409.4 144.8l-5.3-3.1 6.1-3 5.4 3.1z"/><path fill="#ba8a1e" d="M443.4 146.5l-5.3-3.5 6.2-2.4 5.3 3.6z"/><path fill="#00ae0c" d="M268.2 202l-5.2-1.5 5.8-6.7 5.2 1.5z"/><path fill="#ba8418" d="M420.7 144.9l-5.3-3.1 6.2-2.8 5.4 3.2z"/><path fill="#ba841e" d="M432.1 145.5l-5.4-3.3 6.2-2.6 5.4 3.4z"/><path fill="#0cb40c" d="M290.4 184.6l-5.2-1.7 5.9-6 5.2 1.6z"/><path fill="#aea812" d="M341.1 158.5l-5.3-2.2 6.1-4.6 5.3 2.2z"/><path fill="#ba961e" d="M369.5 150.4l-5.4-2.5 6.2-4 5.3 2.6z"/><path fill="#aea818" d="M482.6 155.7l-5.3-4.1 6.2-1.6 5.3 4.1z"/><path fill="#4eba0c" d="M307.2 174.8l-5.3-1.8 5.9-5.6 5.3 1.8z"/><path fill="#8ab40c" d="M510.4 166l-5.3-4.7 6.2-1.1 5.2 4.7z"/><path fill="#90b40c" d="M324.1 166.1l-5.3-2 6-5.1 5.3 2z"/><path fill="#ba901e" d="M380.8 149.2l-5.4-2.7 6.2-3.7 5.3 2.7z"/><path fill="#00b40c" d="M284.7 190.6l-5.3-1.6 5.9-6.2 5.2 1.6z"/><path fill="#b4a218" d="M471.3 153.4l-5.3-4 6.2-1.8 5.3 4zM352.3 156.3l-5.3-2.4 6-4.4 5.4 2.4z"/><path fill="#ba8a1e" d="M392.1 148.3l-5.4-2.8 6.2-3.5 5.3 2.9z"/><path fill="#a2b40c" d="M499.1 162.7l-5.3-4.5 6.2-1.3 5.3 4.5z"/><path fill="#ba9c1e" d="M460 151.5l-5.3-3.8 6.2-2.1 5.3 3.9z"/><path fill="#1eba0c" d="M301.4 180.4l-5.3-1.8 5.9-5.8 5.3 1.8z"/><path fill="#a8b40c" d="M335.2 163.2l-5.3-2.1 6-4.9 5.3 2.2z"/><path fill="#ba8a1e" d="M403.4 147.9l-5.4-3 6.2-3.3 5.4 3z"/><path fill="#ba961e" d="M448.7 150l-5.4-3.7 6.2-2.3 5.4 3.7z"/><path fill="#00b40c" d="M279 197l-5.3-1.6 5.9-6.5 5.2 1.6z"/><path fill="#72ba0c" d="M318.2 171.3l-5.3-2 6-5.3 5.3 2z"/><path fill="#ba8a1e" d="M414.7 147.8l-5.4-3.2 6.2-3 5.4 3.2z"/><path fill="#ba901e" d="M437.3 148.9l-5.3-3.5 6.2-2.5 5.4 3.5z"/><path fill="#b4a218" d="M363.5 154.4l-5.3-2.5 6.1-4.2 5.3 2.6z"/><path fill="#ba8a1e" d="M426 148.1l-5.4-3.3 6.3-2.7 5.3 3.3z"/><path fill="#72b40c" d="M515.5 170.6l-5.2-4.8 6.1-1.1 5.3 4.8z"/><path fill="#aeae12" d="M487.8 159.8l-5.3-4.2 6.2-1.6 5.3 4.3z"/><path fill="#00ae0c" d="M273.3 203.5l-5.2-1.6 5.8-6.7 5.2 1.6z"/><path fill="#0cb40c" d="M295.6 186.3l-5.3-1.8 5.9-6 5.3 1.7z"/><path fill="#ba9c1e" d="M374.7 152.9l-5.3-2.6 6.1-3.9 5.4 2.6z"/><path fill="#aeae12" d="M346.3 160.7l-5.3-2.3 6.1-4.6 5.3 2.3z"/><path fill="#b4a818" d="M476.5 157.4l-5.3-4.1 6.2-1.8 5.4 4.1z"/><path fill="#48ba0c" d="M312.3 176.7l-5.2-2 5.9-5.6 5.3 2z"/><path fill="#8aba0c" d="M329.3 168.1l-5.3-2.1 6-5.1 5.3 2.2z"/><path fill="#90ba0c" d="M504.3 167.1l-5.3-4.6 6.2-1.2 5.3 4.6z"/><path fill="#ba961e" d="M386 151.9l-5.3-2.9 6.1-3.6 5.4 2.8z"/><path fill="#baa218" d="M465.2 155.3l-5.3-3.9 6.2-2.1 5.4 4z"/><path fill="#b4a818" d="M357.5 158.6l-5.3-2.4 6.1-4.4 5.3 2.5z"/><path fill="#ba901e" d="M397.3 151.2l-5.4-3 6.2-3.5 5.4 3z"/><path fill="#00b40c" d="M289.8 192.3l-5.2-1.7 5.8-6.3 5.3 1.8z"/><path fill="#ba9c1e" d="M453.9 153.6l-5.3-3.8 6.2-2.2 5.3 3.8z"/><path fill="#ba901e" d="M408.6 150.9l-5.3-3.2 6.2-3.2 5.3 3.2z"/><path fill="#a8b40c" d="M493 164.1l-5.3-4.4 6.2-1.5 5.3 4.4z"/><path fill="#ba961e" d="M442.6 152.3l-5.4-3.6 6.3-2.5 5.3 3.7z"/><path fill="#ba901e" d="M419.9 151l-5.3-3.3 6.2-3 5.3 3.3z"/><path fill="#c0961e" d="M431.3 151.5l-5.4-3.5 6.2-2.7 5.4 3.4z"/><path fill="#a8ba0c" d="M340.4 165.4l-5.3-2.3 6-4.8 5.4 2.3z"/><path fill="#18ba0c" d="M306.5 182.3l-5.2-2 5.9-5.7 5.3 1.9z"/><path fill="#b4a218" d="M368.7 156.9l-5.3-2.6 6.1-4.1 5.4 2.6z"/><path fill="#6cba0c" d="M323.4 173.3l-5.3-2.1 6-5.3 5.3 2.1z"/><path fill="#00b40c" d="M284.1 198.6l-5.2-1.7 5.8-6.5 5.2 1.7z"/><path fill="#aeae12" d="M481.8 161.5l-5.4-4.3 6.3-1.7 5.3 4.2z"/><path fill="#72ba0c" d="M509.5 171.7l-5.3-4.7 6.2-1.3 5.3 4.8z"/><path fill="#baa218" d="M380 155.6l-5.4-2.8 6.2-3.9 5.4 2.8z"/><path fill="#aeb412" d="M351.6 163.1l-5.4-2.5 6.1-4.6 5.4 2.5z"/><path fill="#b4ae18" d="M470.5 159.2l-5.4-4 6.3-2 5.3 4.1z"/><path fill="#0cba0c" d="M300.7 188.1l-5.2-1.9 5.9-6 5.2 1.9z"/><path fill="#00b40c" d="M278.4 205.1l-5.2-1.7 5.8-6.7 5.2 1.7z"/><path fill="#ba9c1e" d="M391.3 154.7l-5.4-3 6.2-3.6 5.3 2.9z"/><path fill="#8aba0c" d="M334.5 170.3l-5.3-2.2 6-5.1 5.3 2.3z"/><path fill="#90ba0c" d="M498.2 168.5l-5.3-4.5 6.2-1.5 5.3 4.5z"/><path fill="#48ba0c" d="M317.5 178.6l-5.3-2 6-5.6 5.3 2.1z"/><path fill="#baa818" d="M459.1 157.4l-5.3-3.9 6.2-2.2 5.4 3.9z"/><path fill="#ba9c1e" d="M402.6 154.1l-5.4-3.1 6.2-3.4 5.4 3.1z"/><path fill="#baa21e" d="M447.8 156l-5.3-3.8 6.2-2.5 5.3 3.8z"/><path fill="#aeae12" d="M362.8 161.1l-5.4-2.6 6.1-4.3 5.4 2.6z"/><path fill="#ba9c1e" d="M413.9 154l-5.4-3.3 6.2-3.1 5.4 3.2z"/><path fill="#c09c1e" d="M436.5 154.9l-5.3-3.6 6.2-2.7 5.3 3.6zM425.2 154.3l-5.4-3.5 6.2-2.9 5.4 3.4z"/><path fill="#00b40c" d="M295 194.1l-5.3-1.9 5.9-6.2 5.2 1.9z"/><path fill="#a8ba0c" d="M487 165.7l-5.3-4.4 6.2-1.7 5.3 4.4z"/><path fill="#a2ba0c" d="M345.6 167.7l-5.3-2.4 6.1-4.8 5.3 2.4z"/><path fill="#b4a818" d="M374 159.6l-5.4-2.8 6.2-4.1 5.3 2.8z"/><path fill="#18ba0c" d="M311.7 184.2l-5.3-2 6-5.8 5.3 2.1z"/><path fill="#6cba0c" d="M328.6 175.4l-5.3-2.2 6-5.3 5.3 2.3z"/><path fill="#aeb412" d="M475.7 163.3l-5.3-4.2 6.2-2 5.3 4.3z"/><path fill="#00b40c" d="M289.2 200.4l-5.2-1.9 5.8-6.4 5.3 1.8z"/><path fill="#baa218" d="M385.2 158.4l-5.3-2.9 6.1-3.9 5.4 2.9z"/><path fill="#78ba0c" d="M503.4 173.1l-5.3-4.7 6.2-1.5 5.3 4.7z"/><path fill="#b4ae18" d="M464.4 161.3l-5.4-4 6.3-2.2 5.3 4z"/><path fill="#aeb412" d="M356.8 165.5l-5.3-2.5 6.1-4.6 5.3 2.6z"/><path fill="#baa218" d="M396.5 157.6l-5.3-3 6.1-3.7 5.4 3.1z"/><path fill="#baa818" d="M453.1 159.7l-5.4-3.9 6.2-2.4 5.4 3.9z"/><path fill="#0cba0c" d="M305.9 190l-5.3-2 5.9-6 5.3 2.1z"/><path fill="#baa21e" d="M407.8 157.3l-5.3-3.3 6.1-3.4 5.4 3.3z"/><path fill="#00b40c" d="M283.5 206.9l-5.2-1.9 5.8-6.6 5.2 1.8z"/><path fill="#84ba0c" d="M339.7 172.6l-5.3-2.4 6-5 5.3 2.4z"/><path fill="#90ba0c" d="M492.1 170.1l-5.2-4.5 6.2-1.7 5.3 4.5z"/><path fill="#baa818" d="M441.7 158.5l-5.3-3.7 6.2-2.7 5.4 3.8z"/><path fill="#baa21e" d="M419.1 157.3l-5.3-3.4 6.2-3.2 5.3 3.4z"/><path fill="#42ba0c" d="M322.7 180.8l-5.3-2.2 6-5.6 5.3 2.3z"/><path fill="#baa218" d="M430.4 157.7l-5.3-3.6 6.2-2.9 5.3 3.6z"/><path fill="#aeae12" d="M368 163.7l-5.3-2.7 6.1-4.3 5.3 2.7z"/><path fill="#a8ba0c" d="M480.9 167.5l-5.3-4.3 6.2-2 5.3 4.4z"/><path fill="#00ba0c" d="M300.1 196l-5.3-2 5.9-6.2 5.3 2z"/><path fill="#b4ae18" d="M379.2 162.3l-5.3-2.8 6.1-4.1 5.4 2.9z"/><path fill="#9cba0c" d="M350.8 170.2l-5.3-2.6 6.1-4.8 5.3 2.6z"/><path fill="#12ba0c" d="M316.9 186.3l-5.3-2.2 5.9-5.7 5.3 2.2z"/><path fill="#aeb412" d="M469.6 165.4l-5.3-4.2 6.2-2.2 5.3 4.2z"/><path fill="#66c00c" d="M333.8 177.7l-5.3-2.4 6-5.2 5.3 2.3z"/><path fill="#b4a818" d="M390.5 161.3l-5.4-3 6.2-3.9 5.3 3.1z"/><path fill="#78c00c" d="M497.3 174.6l-5.3-4.7 6.3-1.6 5.2 4.7z"/><path fill="#b4b412" d="M458.3 163.6l-5.3-4 6.2-2.4 5.3 4z"/><path fill="#00b40c" d="M294.3 202.3l-5.2-2 5.9-6.4 5.2 2z"/><path fill="#baa818" d="M401.8 160.7l-5.4-3.2 6.2-3.6 5.3 3.2z"/><path fill="#a8ba0c" d="M362 168.1l-5.3-2.7 6.1-4.5 5.3 2.7z"/><path fill="#baae18" d="M447 162.2l-5.4-3.8 6.3-2.7 5.3 3.9z"/><path fill="#baa818" d="M413 160.5l-5.3-3.4 6.2-3.3 5.3 3.4zM435.7 161.3l-5.4-3.7 6.2-2.9 5.4 3.7zM424.4 160.7l-5.4-3.5 6.2-3.2 5.4 3.6z"/><path fill="#06ba0c" d="M311 192.1l-5.2-2.2 5.9-5.9 5.3 2.1z"/><path fill="#7eba0c" d="M344.9 175l-5.3-2.5 6-5 5.4 2.5z"/><path fill="#90c00c" d="M486.1 171.9l-5.3-4.5 6.2-1.9 5.3 4.5z"/><path fill="#aeb412" d="M373.2 166.5l-5.3-2.9 6.1-4.3 5.4 2.9z"/><path fill="#3cc00c" d="M327.9 183l-5.3-2.3 6-5.5 5.3 2.3z"/><path fill="#00b40c" d="M288.6 208.7l-5.2-1.9 5.8-6.7 5.3 2z"/><path fill="#a8c00c" d="M474.8 169.6l-5.3-4.4 6.2-2.1 5.3 4.3z"/><path fill="#b4b412" d="M384.5 165.2l-5.4-3 6.2-4 5.3 3z"/><path fill="#96ba0c" d="M356 172.7l-5.3-2.6 6.1-4.8 5.3 2.7z"/><path fill="#00ba0c" d="M305.2 198.1l-5.2-2.2 5.9-6.1 5.3 2.1z"/><path fill="#aeba12" d="M463.5 167.6l-5.3-4.1 6.2-2.4 5.3 4.2z"/><path fill="#b4ae18" d="M395.7 164.4l-5.3-3.2 6.1-3.8 5.4 3.2z"/><path fill="#60c00c" d="M339 180.1l-5.3-2.5 6-5.2 5.3 2.5z"/><path fill="#12ba0c" d="M322 188.5l-5.2-2.3 5.9-5.7 5.3 2.3z"/><path fill="#b4b412" d="M452.2 166.1l-5.3-4 6.2-2.6 5.3 4z"/><path fill="#b4ae18" d="M407 163.9l-5.3-3.3 6.1-3.6 5.4 3.4z"/><path fill="#b4b412" d="M440.9 165l-5.3-3.9 6.2-2.8 5.3 3.8z"/><path fill="#78c00c" d="M491.3 176.4l-5.3-4.7 6.2-1.8 5.3 4.6z"/><path fill="#b4ae18" d="M418.3 163.9l-5.4-3.5 6.2-3.4 5.4 3.6z"/><path fill="#a2ba0c" d="M367.2 170.9l-5.3-2.9 6.1-4.5 5.4 2.9z"/><path fill="#b4ae18" d="M429.6 164.2l-5.4-3.6 6.3-3.1 5.3 3.6z"/><path fill="#00b40c" d="M299.5 204.3l-5.3-2.1 5.9-6.4 5.3 2.1z"/><path fill="#78c00c" d="M350.1 177.6l-5.3-2.7 6.1-5 5.3 2.7z"/><path fill="#90c00c" d="M480 173.9l-5.3-4.5 6.2-2.1 5.3 4.5z"/><path fill="#aeba12" d="M378.4 169.4l-5.3-3 6.1-4.3 5.4 3z"/><path fill="#06ba0c" d="M316.2 194.3l-5.3-2.3 6-5.9 5.3 2.3z"/><path fill="#36c00c" d="M333.1 185.4l-5.3-2.5 6-5.5 5.3 2.5z"/><path fill="#00b40c" d="M293.7 210.7l-5.2-2 5.9-6.7 5.2 2.1z"/><path fill="#a2c00c" d="M468.7 171.8l-5.3-4.3 6.2-2.4 5.3 4.4z"/><path fill="#aeba12" d="M389.7 168.3l-5.3-3.2 6.1-4 5.4 3.2z"/><path fill="#8ac00c" d="M361.3 175.4l-5.4-2.8 6.1-4.7 5.4 2.8z"/><path fill="#aec012" d="M457.4 170.1l-5.3-4.1 6.2-2.6 5.3 4.1z"/><path fill="#b4b412" d="M400.9 167.6l-5.3-3.3 6.2-3.8 5.3 3.3z"/><path fill="#00ba0c" d="M310.4 200.2l-5.3-2.2 6-6.2 5.2 2.3z"/><path fill="#b4ba12" d="M446.1 168.8l-5.3-4 6.2-2.8 5.3 4z"/><path fill="#b4b412" d="M412.2 167.3l-5.3-3.5 6.2-3.5 5.3 3.5z"/><path fill="#5ac00c" d="M344.2 182.6l-5.3-2.6 6-5.2 5.3 2.6z"/><path fill="#b4ba12" d="M434.8 167.9l-5.3-3.8 6.2-3.1 5.3 3.8z"/><path fill="#b4b412" d="M423.5 167.4l-5.3-3.6 6.2-3.4 5.3 3.7z"/><path fill="#12c00c" d="M327.2 190.9l-5.3-2.5 6-5.6 5.3 2.4z"/><path fill="#9cc00c" d="M372.5 173.7l-5.4-2.9 6.1-4.5 5.4 2.9z"/><path fill="#78c00c" d="M485.2 178.3l-5.3-4.6 6.2-2.1 5.3 4.7z"/><path fill="#00ba0c" d="M304.6 206.4l-5.2-2.2 5.9-6.4 5.2 2.3z"/><path fill="#a8c00c" d="M383.7 172.4l-5.4-3.1 6.2-4.3 5.3 3.1z"/><path fill="#8ac00c" d="M473.9 176.1l-5.3-4.5 6.2-2.3 5.3 4.5z"/><path fill="#72c00c" d="M355.3 180.2l-5.3-2.7 6.1-5 5.3 2.8z"/><path fill="#06ba0c" d="M321.4 196.6l-5.3-2.4 6-5.9 5.2 2.4z"/><path fill="#2ac00c" d="M338.3 187.9l-5.3-2.6 6-5.5 5.3 2.7z"/><path fill="#aec012" d="M394.9 171.4l-5.3-3.2 6.1-4 5.4 3.3z"/><path fill="#9cc00c" d="M462.6 174.2l-5.3-4.3 6.2-2.5 5.3 4.3z"/><path fill="#00b40c" d="M298.9 212.9l-5.3-2.2 5.9-6.7 5.2 2.3z"/><path fill="#aeba12" d="M406.2 170.9l-5.4-3.4 6.2-3.8 5.4 3.5z"/><path fill="#a8c00c" d="M451.3 172.8l-5.3-4.1 6.2-2.8 5.3 4.1z"/><path fill="#84c00c" d="M366.5 178.3l-5.3-3 6.1-4.7 5.3 3z"/><path fill="#aeba12" d="M417.5 170.8l-5.4-3.6 6.2-3.6 5.4 3.7z"/><path fill="#aec012" d="M440 171.7l-5.3-3.9 6.2-3.1 5.4 4zM428.7 171l-5.3-3.7 6.2-3.3 5.4 3.8z"/><path fill="#00ba0c" d="M315.5 202.5l-5.2-2.3 5.9-6.2 5.3 2.4z"/><path fill="#4ec00c" d="M349.4 185.3l-5.3-2.8 6-5.2 5.3 2.8z"/><path fill="#0cc00c" d="M332.4 193.3l-5.3-2.5 6-5.7 5.3 2.6z"/><path fill="#90c00c" d="M377.7 176.7l-5.4-3.1 6.2-4.5 5.3 3.1z"/><path fill="#72c60c" d="M479.1 180.5l-5.3-4.6 6.2-2.3 5.3 4.6z"/><path fill="#9cc00c" d="M388.9 175.5l-5.3-3.2 6.1-4.3 5.3 3.3z"/><path fill="#84c60c" d="M467.8 178.5l-5.3-4.4 6.2-2.6 5.3 4.5z"/><path fill="#00ba0c" d="M309.8 208.7l-5.3-2.3 5.9-6.4 5.3 2.4z"/><path fill="#66c00c" d="M360.5 183l-5.3-2.9 6.1-4.9 5.3 2.9z"/><path fill="#a2c00c" d="M400.1 174.7l-5.3-3.4 6.2-4 5.3 3.5z"/><path fill="#96c60c" d="M456.5 176.9l-5.3-4.3 6.2-2.8 5.4 4.3z"/><path fill="#06ba0c" d="M326.5 199l-5.2-2.5 5.9-5.9 5.3 2.6z"/><path fill="#1ec00c" d="M343.5 190.5l-5.3-2.7 6-5.4 5.3 2.7z"/><path fill="#a8c00c" d="M411.4 174.4l-5.3-3.6 6.2-3.8 5.3 3.7z"/><path fill="#a2c00c" d="M445.2 175.6l-5.3-4 6.2-3.1 5.4 4.1z"/><path fill="#a8c00c" d="M422.7 174.4l-5.3-3.7 6.1-3.5 5.4 3.7zM434 174.8l-5.4-3.9 6.2-3.2 5.4 3.9z"/><path fill="#78c00c" d="M371.7 181.2l-5.3-3 6.1-4.7 5.3 3.1z"/><path fill="#00b40c" d="M304 215.1l-5.2-2.3 5.8-6.6 5.3 2.4z"/><path fill="#42c00c" d="M354.6 188l-5.3-2.8 6-5.2 5.3 2.9z"/><path fill="#84c00c" d="M382.9 179.8l-5.3-3.2 6.1-4.5 5.3 3.3z"/><path fill="#00ba0c" d="M320.7 205l-5.3-2.5 6-6.1 5.3 2.5z"/><path fill="#6cc60c" d="M473 182.9l-5.3-4.6 6.2-2.5 5.3 4.6z"/><path fill="#0cc00c" d="M337.6 195.9l-5.3-2.6 6-5.7 5.3 2.7z"/><path fill="#90c00c" d="M394.1 178.8l-5.3-3.4 6.1-4.2 5.4 3.4z"/><path fill="#7ec60c" d="M461.7 181.1l-5.3-4.4 6.3-2.7 5.3 4.4z"/><path fill="#5ac00c" d="M365.7 186l-5.3-3.1 6.1-4.9 5.3 3.1z"/><path fill="#96c00c" d="M405.4 178.2l-5.4-3.6 6.2-3.9 5.3 3.5z"/><path fill="#8ac60c" d="M450.5 179.7l-5.4-4.2 6.3-3 5.3 4.3z"/><path fill="#00ba0c" d="M314.9 211.1l-5.2-2.5 5.9-6.3 5.2 2.5z"/><path fill="#96c00c" d="M416.6 178l-5.3-3.7 6.2-3.8 5.3 3.8z"/><path fill="#90c60c" d="M439.2 178.7l-5.3-4 6.2-3.2 5.3 4z"/><path fill="#96c60c" d="M427.9 178.1l-5.3-3.8 6.2-3.5 5.3 3.9z"/><path fill="#12c00c" d="M348.6 193.2l-5.2-2.8 6-5.4 5.3 2.9z"/><path fill="#00c00c" d="M331.7 201.6l-5.3-2.6 6-5.9 5.3 2.7z"/><path fill="#6cc60c" d="M376.9 184.3l-5.3-3.2 6.1-4.6 5.3 3.2z"/><path fill="#00ba0c" d="M309.1 217.5l-5.2-2.5 5.9-6.5 5.2 2.5z"/><path fill="#78c60c" d="M388.1 183.1l-5.3-3.4 6.1-4.4 5.3 3.4z"/><path fill="#30c00c" d="M359.8 190.9l-5.3-3 6-5.1 5.3 3z"/><path fill="#66c60c" d="M466.9 185.5l-5.3-4.5 6.2-2.7 5.3 4.5z"/><path fill="#00ba0c" d="M325.9 207.5l-5.3-2.6 6-6.1 5.2 2.7z"/><path fill="#0cc00c" d="M342.7 198.7l-5.2-2.8 6-5.7 5.3 2.9z"/><path fill="#7ec60c" d="M399.3 182.2l-5.3-3.5 6.2-4.2 5.3 3.6z"/><path fill="#72c60c" d="M455.6 183.9l-5.3-4.3 6.3-3 5.3 4.4z"/><path fill="#84c60c" d="M410.6 181.7l-5.3-3.6 6.1-4 5.4 3.7z"/><path fill="#7ec60c" d="M444.4 182.8l-5.3-4.2 6.2-3.2 5.3 4.2z"/><path fill="#48c60c" d="M370.9 189l-5.3-3.1 6.1-4.9 5.3 3.2z"/><path fill="#84c60c" d="M421.8 181.7l-5.3-3.9 6.2-3.6 5.3 3.8zM433.1 182l-5.3-4 6.2-3.4 5.3 4z"/><path fill="#00ba0c" d="M320 213.7l-5.2-2.7 5.9-6.3 5.3 2.7z"/><path fill="#12c00c" d="M353.8 196.1l-5.3-2.9 6.1-5.4 5.3 3z"/><path fill="#00c00c" d="M336.9 204.3l-5.3-2.8 6-5.8 5.3 2.8z"/><path fill="#5ac60c" d="M382.1 187.5l-5.3-3.3 6.1-4.6 5.3 3.3z"/><path fill="#66c60c" d="M393.3 186.4l-5.3-3.4 6.1-4.4 5.4 3.5z"/><path fill="#00ba0c" d="M314.3 220l-5.3-2.6 5.9-6.5 5.3 2.6z"/><path fill="#1ec00c" d="M365 194l-5.3-3.2 6-5.1 5.3 3.2z"/><path fill="#5ac60c" d="M460.8 188.3l-5.3-4.5 6.3-2.9 5.3 4.5z"/><path fill="#72c60c" d="M404.5 185.7l-5.3-3.6 6.2-4.2 5.3 3.7z"/><path fill="#00ba0c" d="M331 210.2l-5.2-2.8 5.9-6 5.3 2.8z"/><path fill="#66c60c" d="M449.6 187l-5.3-4.3 6.2-3.2 5.3 4.3z"/><path fill="#06c00c" d="M347.9 201.5l-5.3-2.9 6.1-5.6 5.3 3z"/><path fill="#72c60c" d="M415.8 185.5l-5.3-3.9 6.1-3.9 5.4 3.9zM438.3 186.1l-5.3-4.2 6.2-3.4 5.3 4.2zM427 185.6l-5.3-4 6.2-3.7 5.3 4z"/><path fill="#36c60c" d="M376.1 192.2l-5.3-3.3 6.1-4.8 5.3 3.3z"/><path fill="#00ba0c" d="M325.2 216.3l-5.3-2.7 6-6.3 5.2 2.8z"/><path fill="#0cc00c" d="M359 199.2l-5.3-3.2 6.1-5.3 5.3 3.2z"/><path fill="#48c60c" d="M387.3 190.9l-5.3-3.5 6.1-4.6 5.3 3.5z"/><path fill="#00c00c" d="M342 207.2l-5.2-3 6-5.8 5.3 3z"/><path fill="#54c60c" d="M398.5 190l-5.3-3.7 6.2-4.3 5.3 3.6z"/><path fill="#48cc0c" d="M454.8 191.3l-5.3-4.5 6.2-3.1 5.3 4.5z"/><path fill="#5ac60c" d="M409.7 189.4l-5.3-3.8 6.2-4.1 5.3 3.8z"/><path fill="#12c60c" d="M370.2 197.2l-5.3-3.3 6-5.1 5.3 3.3z"/><path fill="#00ba0c" d="M319.4 222.7l-5.2-2.8 5.9-6.5 5.2 2.8z"/><path fill="#54cc0c" d="M443.5 190.2l-5.3-4.3 6.2-3.4 5.3 4.4z"/><path fill="#60c60c" d="M421 189.3l-5.3-4 6.2-3.8 5.3 3.9z"/><path fill="#5ac60c" d="M432.2 189.6l-5.3-4.2 6.2-3.6 5.3 4.2z"/><path fill="#06c00c" d="M353.1 204.5l-5.3-3 6.1-5.6 5.2 3.1z"/><path fill="#00ba0c" d="M336.2 213l-5.3-2.9 6-6 5.3 2.9z"/><path fill="#24c60c" d="M381.3 195.6l-5.3-3.5 6.1-4.8 5.3 3.5z"/><path fill="#30c60c" d="M392.5 194.4l-5.3-3.6 6.1-4.6 5.3 3.6z"/><path fill="#0cc00c" d="M364.2 202.3l-5.3-3.2 6.1-5.3 5.3 3.2z"/><path fill="#00ba0c" d="M330.3 219.1l-5.2-2.9 5.9-6.2 5.3 2.9z"/><path fill="#00c00c" d="M347.2 210.2l-5.3-3.1 6-5.8 5.3 3.1z"/><path fill="#3cc60c" d="M403.7 193.6l-5.3-3.7 6.2-4.4 5.3 3.8z"/><path fill="#36cc0c" d="M448.7 194.5l-5.3-4.4 6.2-3.4 5.3 4.5z"/><path fill="#42c60c" d="M414.9 193.2l-5.3-3.9 6.2-4.1 5.3 4z"/><path fill="#3cc60c" d="M437.4 193.7l-5.3-4.3 6.2-3.6 5.3 4.3z"/><path fill="#42c60c" d="M426.2 193.3l-5.3-4.1 6.2-3.9 5.3 4.1z"/><path fill="#0cc60c" d="M375.3 200.5l-5.3-3.4 6.1-5.1 5.3 3.4z"/><path fill="#00ba0c" d="M324.5 225.4l-5.2-2.8 5.9-6.5 5.3 2.9z"/><path fill="#00c00c" d="M358.3 207.7l-5.3-3.2 6-5.6 5.3 3.3zM341.3 216l-5.2-3 6-6.1 5.2 3.1z"/><path fill="#12c60c" d="M386.5 199.1l-5.3-3.6 6.1-4.8 5.3 3.6z"/><path fill="#18c60c" d="M397.7 198l-5.3-3.7 6.1-4.6 5.3 3.8z"/><path fill="#06c00c" d="M369.4 205.6l-5.3-3.4 6.1-5.3 5.3 3.4z"/><path fill="#24c60c" d="M408.9 197.4l-5.3-3.9 6.2-4.3 5.3 3.9z"/><path fill="#00ba0c" d="M335.5 222.1l-5.3-3.1 6-6.2 5.3 3z"/><path fill="#00c00c" d="M352.4 213.3l-5.3-3.2 6-5.8 5.3 3.2z"/><path fill="#24c60c" d="M420.1 197.2l-5.3-4.1 6.2-4 5.3 4.1z"/><path fill="#1ecc12" d="M442.6 198l-5.3-4.4 6.2-3.6 5.3 4.4z"/><path fill="#24c60c" d="M431.4 197.4l-5.3-4.3 6.2-3.8 5.3 4.3z"/><path fill="#0cc60c" d="M380.5 203.9l-5.3-3.5 6.1-5.1 5.3 3.6z"/><path fill="#00ba0c" d="M329.7 228.3l-5.3-3 6-6.4 5.2 3z"/><path fill="#00c00c" d="M363.5 210.9l-5.3-3.3 6-5.5 5.3 3.4z"/><path fill="#0cc60c" d="M391.7 202.7l-5.3-3.8 6.1-4.7 5.3 3.7z"/><path fill="#00c00c" d="M346.5 219.1l-5.3-3.2 6-6 5.3 3.2z"/><path fill="#12c60c" d="M402.9 201.8l-5.3-3.9 6.1-4.5 5.3 3.9zM414.1 201.3l-5.3-4 6.2-4.3 5.3 4.1z"/><path fill="#00c60c" d="M374.6 209l-5.3-3.5 6.1-5.3 5.3 3.6z"/><path fill="#12c60c" d="M425.3 201.3l-5.3-4.2 6.2-4.1 5.3 4.3zM436.6 201.6l-5.3-4.3 6.2-3.8 5.2 4.4z"/><path fill="#00ba0c" d="M340.6 225.1l-5.2-3.1 6-6.2 5.2 3.1z"/><path fill="#00c00c" d="M357.5 216.5l-5.2-3.3 6-5.8 5.3 3.4z"/><path fill="#06c60c" d="M385.7 207.5l-5.3-3.7 6.1-5 5.3 3.7zM396.9 206.4l-5.3-3.8 6.1-4.8 5.3 3.9z"/><path fill="#00c00c" d="M368.6 214.3l-5.3-3.5 6.1-5.4 5.3 3.5z"/><path fill="#00ba0c" d="M334.8 231.4l-5.2-3.1 5.9-6.5 5.3 3.2z"/><path fill="#00c00c" d="M351.7 222.3l-5.3-3.3 6-6 5.3 3.4z"/><path fill="#0cc60c" d="M408.1 205.7l-5.3-4 6.1-4.5 5.3 4zM419.3 205.4l-5.3-4.2 6.2-4.2 5.3 4.2zM430.5 205.5l-5.3-4.3 6.2-4 5.3 4.3z"/><path fill="#00c60c" d="M379.7 212.6l-5.2-3.7 6.1-5.2 5.2 3.7z"/><path fill="#00c00c" d="M362.7 219.9l-5.3-3.5 6.1-5.7 5.3 3.5z"/><path fill="#00ba0c" d="M345.8 228.3l-5.3-3.3 6-6.2 5.3 3.4z"/><path fill="#00c60c" d="M390.9 211.2l-5.3-3.8 6.1-5 5.3 3.9z"/><path fill="#06c60c" d="M402.1 210.3l-5.3-4 6.1-4.7 5.3 4z"/><path fill="#00c00c" d="M373.8 217.9l-5.3-3.7 6.1-5.4 5.3 3.7z"/><path fill="#06c60c" d="M413.3 209.8l-5.3-4.2 6.1-4.5 5.3 4.2z"/><path fill="#00ba0c" d="M339.9 234.6l-5.2-3.3 6-6.4 5.2 3.3z"/><path fill="#06c60c" d="M424.5 209.6l-5.3-4.3 6.1-4.2 5.3 4.3z"/><path fill="#00c00c" d="M356.8 225.7l-5.3-3.5 6.1-5.9 5.2 3.4z"/><path fill="#00c60c" d="M384.9 216.3l-5.3-3.8 6.1-5.2 5.3 3.8z"/><path fill="#00c00c" d="M367.9 223.4l-5.3-3.6 6-5.7 5.3 3.6z"/><path fill="#00c60c" d="M396.1 215.1l-5.3-4 6.1-4.9 5.3 4z"/><path fill="#00ba0c" d="M350.9 231.7l-5.2-3.5 6-6.1 5.2 3.4z"/><path fill="#00c60c" d="M407.2 214.3l-5.2-4.1 6.1-4.7 5.3 4.1zM418.4 213.9l-5.3-4.3 6.2-4.4 5.3 4.3z"/><path fill="#00c00c" d="M379 221.6l-5.3-3.8 6.1-5.5 5.2 3.8z"/><path fill="#00ba0c" d="M345.1 237.9l-5.3-3.4 6-6.4 5.3 3.4z"/><path fill="#00c00c" d="M362 229.1l-5.3-3.5 6-5.9 5.3 3.6z"/><path fill="#00c60c" d="M390.1 220.1l-5.3-3.9 6.1-5.2 5.3 4zM401.2 219.1l-5.2-4.1 6.1-4.9 5.3 4.1z"/><path fill="#00c00c" d="M373 227.1l-5.2-3.8 6-5.7 5.3 3.8z"/><path fill="#00ba0c" d="M356.1 235.1l-5.3-3.5 6-6.2 5.3 3.6z"/><path fill="#00c60c" d="M412.4 218.5l-5.3-4.3 6.2-4.7 5.3 4.3z"/><path fill="#00c00c" d="M384.1 225.4l-5.2-3.9 6-5.5 5.3 4zM367.1 232.8l-5.2-3.7 6-5.9 5.3 3.7z"/><path fill="#00ba0c" d="M350.2 241.3l-5.2-3.5 6-6.4 5.2 3.6z"/><path fill="#00c00c" d="M395.3 224.1l-5.3-4.1 6.1-5.1 5.3 4.1z"/><path fill="#00c60c" d="M406.4 223.2l-5.3-4.2 6.2-4.9 5.2 4.2z"/><path fill="#00c00c" d="M378.2 230.8l-5.3-3.8 6.1-5.7 5.3 3.9z"/><path fill="#00ba0c" d="M361.2 238.7l-5.2-3.7 6-6.1 5.2 3.7z"/><path fill="#00c00c" d="M389.3 229.3l-5.3-4 6.1-5.4 5.3 4.1zM372.3 236.5l-5.3-3.8 6-5.9 5.3 3.9zM400.4 228.2l-5.3-4.2 6.2-5.1 5.2 4.2z"/><path fill="#00ba0c" d="M355.4 244.9l-5.3-3.7 6-6.3 5.3 3.7z"/><path fill="#00c00c" d="M383.3 234.8l-5.2-4.1 6-5.6 5.3 4.1z"/><path fill="#00ba0c" d="M366.4 242.5l-5.3-3.9 6-6.1 5.3 3.9z"/><path fill="#00c00c" d="M394.4 233.4l-5.2-4.2 6.1-5.3 5.2 4.2zM377.4 240.4l-5.2-4 6-5.8 5.3 4z"/><path fill="#00ba0c" d="M360.5 248.6l-5.3-3.8 6-6.3 5.3 3.8z"/><path fill="#00c00c" d="M388.5 238.8l-5.3-4.1 6.1-5.6 5.3 4.2z"/><path fill="#00ba0c" d="M371.5 246.4l-5.2-4 6-6.1 5.2 4z"/><path fill="#00c00c" d="M382.6 244.5l-5.3-4.2 6.1-5.8 5.2 4.2z"/><path fill="#00ba0c" d="M365.6 252.5l-5.2-4 6-6.3 5.2 4zM376.6 250.4l-5.2-4.1 6-6.1 5.3 4.2zM370.8 256.5l-5.3-4.1 6-6.3 5.3 4.1z"/><path d="M370.8 256.4L365.6 252.4L360.5 248.5L355.4 244.8L350.2 241.2L345.1 237.8L340 234.4L334.8 231.3L329.7 228.2L324.5 225.3L319.4 222.5L314.3 219.9L309.1 217.4L304 215L298.9 212.7L293.7 210.6L288.6 208.6L283.5 206.7L278.4 205L273.3 203.4L268.2 201.9L263.1 200.5L258 199.2L252.9 198.1L247.9 197.1L242.8 196.2L237.7 195.4L232.7 194.8L227.7 194.2L222.6 193.8L217.6 193.5L212.6 193.3L207.6 193.2L202.6 193.2L197.7 193.4L192.7 193.6L187.8 194L182.9 194.5L177.9 195.1L173.1 195.7L168.2 196.5M168.2 196.5L173.5 189.5L178.8 182.7L184.2 176.2L189.6 169.8L195 163.7L200.5 157.7L206 152L211.5 146.5L217.1 141.2L222.7 136.1L228.4 131.2L234 126.5L239.7 122.1L245.4 117.8L251.2 113.7L256.9 109.8L262.7 106.1L268.5 102.7L274.4 99.4L280.2 96.3L286 93.4L291.9 90.7L297.8 88.2L303.7 85.9L309.6 83.8L315.5 81.8L321.4 80.1L327.3 78.5L333.3 77.1L339.2 75.9L345.1 74.9L351 74.1L357 73.4L362.9 73L368.8 72.7L374.7 72.5L380.6 72.6L386.5 72.8L392.4 73.2L398.3 73.8M398.3 73.8L403.7 74.2L409.2 74.6L414.6 75.2L420 75.9L425.4 76.6L430.9 77.5L436.3 78.5L441.7 79.6L447.1 80.9L452.5 82.2L457.9 83.6L463.3 85.2L468.7 86.9L474.1 88.7L479.5 90.6L484.8 92.6L490.2 94.7L495.5 97L500.9 99.4L506.2 101.9L511.6 104.5L516.9 107.3L522.2 110.1L527.5 113.1L532.7 116.2L538 119.5L543.3 122.9L548.5 126.4L553.8 130L559 133.8L564.2 137.6L569.4 141.7L574.5 145.8L579.7 150.1L584.8 154.5L589.9 159.1L595 163.8L600.1 168.6L605.2 173.6L610.2 178.7M610.2 178.7L604.5 176.7L598.7 175L592.9 173.4L587.1 172L581.2 170.8L575.4 169.8L569.5 169L563.5 168.4L557.6 168L551.6 167.7L545.7 167.7L539.7 167.8L533.7 168.2L527.6 168.7L521.6 169.5L515.5 170.4L509.5 171.6L503.4 172.9L497.3 174.5L491.3 176.3L485.2 178.2L479.1 180.4L473 182.8L466.9 185.4L460.9 188.2L454.8 191.2L448.7 194.4L442.6 197.9L436.6 201.5L430.5 205.4L424.5 209.5L418.4 213.8L412.4 218.3L406.4 223.1L400.4 228.1L394.5 233.3L388.5 238.7L382.6 244.4L376.6 250.3L370.8 256.4" fill="none" stroke="#000" stroke-width="1.20" stroke-opacity="0.60"/></g>
<path d="M158.2 64.5h.1M161.1 103.2h.1M164.1 143.0h.1M167.1 182.4h.1M170.0 221.0h.1" stroke="#d22" stroke-width="2.2" stroke-linecap="round"/>
<circle cx="387.0" cy="75.5" r="2.8" fill="#e81010"/>
<circle cx="387.0" cy="96.5" r="2.6" fill="#e81010"/>
<text x="131.6" y="67.7" font-size="20.0">95</text>
<text x="131.6" y="110.0" font-size="20.0">90</text>
<text x="130.3" y="150.5" font-size="20.0">85</text>
<text x="131.6" y="190.2" font-size="20.0">80</text>
<text x="130.3" y="231.2" font-size="20.0">75</text>
<text x="172.0" y="285.5" font-size="20.0" text-anchor="end">46.0</text>
<text x="229.7" y="309.8" font-size="20.0" text-anchor="end">39.0</text>
<text x="269.6" y="329.8" font-size="20.0" text-anchor="end">32.0</text>
<text x="317.0" y="347.3" font-size="20.0" text-anchor="end">25.0</text>
<text x="362.0" y="364.8" font-size="20.0" text-anchor="end">18.0</text>
<text x="365.0" y="369.0" font-size="20.0">37.0</text>
<text x="410.0" y="357.0" font-size="20.0">36.2</text>
<text x="448.0" y="346.0" font-size="20.0">45.4</text>
<text x="494.5" y="331.0" font-size="20.0">54.6</text>
<text x="543.0" y="318.0" font-size="20.0">63.8</text>
<text x="589.5" y="302.0" font-size="20.0">73.0</text>
<text x="119.2" y="249.8" font-size="20.0" transform="rotate(-90.00 119.2 249.8)">Rate of residual filmY1/%</text>
<text x="22.0" y="310.0" font-size="20.2" transform="rotate(20.30 22.0 310.0)">Working angle of picking mechanism<tspan font-style="italic" font-weight="normal">x</tspan><tspan font-size="11" font-weight="normal" dy="3">1</tspan><tspan font-size="12" font-weight="normal" dy="-4">/°</tspan></text>
<text x="339.5" y="449.5" font-size="19.8" transform="rotate(-19.60 339.5 449.5)">Depth of be in the field of picking mechanism</text>
<text x="505.0" y="418.0" font-size="19.0" transform="rotate(-19.60 505.0 418.0)"><tspan font-style="italic">x</tspan><tspan font-size="11" dy="3">2</tspan><tspan dy="-3">/mm</tspan></text>
<text x="365" y="487" font-size="28" text-anchor="middle" font-weight="normal">(<tspan font-weight="bold">a</tspan>)</text>
<path d="M140.4 772.4L124 548M198.7 705.9L189.5 538.1M260.9 692.3L255 528.2M323.1 678.6L320.5 518.3M385.3 664.9L386 508.4M124 548L386 508.4M126.5 582L385.9 539.4M129 616.4L385.7 570.8M131.5 650.4L385.6 601.8M134 685L385.5 633.4M136.5 719.6L385.3 664.9M608.8 781.3L625.6 553.6M555.9 712L565.7 542.3M499 696.3L505.8 531M442.2 680.6L445.9 519.7M385.3 664.9L386 508.4M625.6 553.6L386 508.4M623.1 588.1L385.9 539.4M620.5 623L385.7 570.8M617.9 657.5L385.6 601.8M615.3 692.6L385.5 633.4M612.8 727.7L385.3 664.9" stroke="#747474" stroke-width="1.20" fill="none"/>
<path d="M357.6 859L140.4 772.4L385.1 713.1L608.8 781.3Z" fill="#ffff00" stroke="#8a7a00" stroke-width=".8"/>
<path d="M429.6 780.8L435.3 779.7L440.5 778.3L445 776.7L446.9 775.9L450.3 773.9L451.6 772.8L452.9 771.5L453.8 769.9L454.1 768.4L454 767.1L453.7 765.8L452.7 764.1L451.3 762.5L450.2 761.5L447.6 759.5L446.1 758.6L442.9 756.8L441.1 755.9L437.5 754.3L433.5 752.8L429.2 751.3L424.8 749.9L420 748.5L415.1 747.2L410.7 746.1L407.3 745.4L401.7 744.2L397.9 743.5L393.1 742.6L388.2 741.8L383.8 741.1L379.9 740.5L374 739.7L370.6 739.3L365.7 738.7L359.9 738.2L356.2 737.8L352.3 737.5L347.8 737.2L342.5 736.9L337.5 736.6L332.6 736.4L328 736.3L323.6 736.3L319.4 736.3L315.3 736.3L309.5 736.5L304.1 736.8L300.7 737.1L294.3 737.8L291.3 738.2L285.8 739.2L281 740.4L276.8 741.9L275 742.7L272.3 744.3L270.9 745.6L270 746.8L269.5 748L269.3 749.4L269.5 751L270.3 752.8L271.2 753.9L272.1 755L274.4 757.1L275.8 758.1L278.7 760L280.4 761L283.9 762.8L287.7 764.5L291.7 766.2L296 767.8L300.6 769.3L305.4 770.8L310.4 772.2L315.6 773.6L318.3 774.2L323.9 775.5L327.9 776.3L332.7 777.3L337.1 778.1L342 778.9L345.2 779.4L352 780.3L355.4 780.7L359 781.2L365 781.8L370.2 782.2L374.2 782.5L378.3 782.7L382.5 783L386.9 783.1L391.5 783.2L396.4 783.2L401.5 783.2L407.1 783L412.5 782.7L416.2 782.4L420.2 782.1L426.4 781.3L429.6 780.8" stroke="#cc7a00" stroke-width="1.1" stroke-opacity=".75" fill="none"/>
<path d="M208.5 755.9L211.4 757.9L212.9 758.9L216 760.8L219.4 762.7L221.1 763.6L224.7 765.5L228.5 767.2L232.4 769L235.3 770.2L238.6 771.6L242.9 773.2L247.3 774.9L251.9 776.4L254.2 777.2L258.9 778.8L263.8 780.3L268.8 781.8L273.9 783.2L276.5 783.9L281.8 785.3L287.3 786.7L290 787.3L295.7 788.6L299.3 789.4L304.4 790.5L309 791.4L313.4 792.3L317.8 793.1L322.7 793.9L325.9 794.5L332.3 795.5L335.6 796L340.8 796.8L345.8 797.4L349.2 797.9L354.3 798.5L359.9 799.1L363.6 799.5L367.3 799.9L372.7 800.3L378.4 800.8L382.8 801.1L386.9 801.4L391 801.6L395.2 801.8L399.7 802L404.7 802.2L409.6 802.3L414.3 802.4L419 802.4L423.5 802.4L427.9 802.3L432.9 802.2L438.3 802.1L444 801.8L448.6 801.5L452.4 801.2L456.6 800.9L463.5 800.2L467 799.8L471.7 799.2L477 798.5L481.7 797.7L486.3 796.8L492 795.6L497.4 794.2L502.5 792.7L507.1 791.1L511.4 789.4L514.8 787.8L517.1 786.5L519.5 785L521.7 783.4L522.9 782.2L524.2 780.8L525.5 779.1L526.3 777.5L526.8 776L527.1 774.5L527.1 773.2L526.9 771.9L526.5 770.6L526.1 769.4L525.1 767.7L523.9 766L523 764.9L521.7 763.6L519.7 761.9L518.5 760.9L515.8 759L514.4 758.1L511.3 756.3L509.7 755.4L506.4 753.7L502.9 752.1L501 751.3L497.3 749.7L493.3 748.2L489.2 746.7L485 745.3L480.6 743.9L476.1 742.5L471.4 741.2L466.7 739.9L461.8 738.7L456.7 737.5L452.8 736.5L449 735.7L443.6 734.5L438.2 733.4L435.4 732.9L429.7 731.8L426.2 731.2L421 730.3L416.1 729.4L412 728.8L407 728L402.7 727.4L398.6 726.8L393 726L389.8 725.6L383.3 724.8L379.7 724.3L376.2 723.9L369.6 723.2L365.6 722.8L362 722.4L356.9 722L350.9 721.4" stroke="#e0c800" stroke-width="1.1" stroke-opacity=".75" fill="none"/>
<path d="M177.8 763.3L180.4 764.8L183.1 766.2L186.8 768L190.6 769.8L194.6 771.6L198 773.1L200.7 774.2L204.9 775.9L209.2 777.6L213.6 779.3L218.2 780.9L220.5 781.7L225.2 783.3L229.9 784.9L234.8 786.5L239.8 788L244.2 789.3L247.4 790.2L252.6 791.7L257.9 793.1L260.6 793.8L266.1 795.2L271.1 796.4L274.4 797.2L280.1 798.5L283 799.1L288.9 800.4L291.9 801L297.9 802.2L300.9 802.8L307.1 803.9L310.3 804.5L316.6 805.6L319.8 806.1L324.4 806.9L329.7 807.7L333.1 808.2L338.7 809L343.3 809.6L346.8 810L352 810.7L357.5 811.3L361.1 811.7L364.8 812.1L370.6 812.6L376.1 813.1L380 813.4L383.9 813.7L387.9 814L393.3 814.4L398.7 814.7L403.9 815L408.6 815.2L412.9 815.3L417.3 815.5L421.8 815.6L426.4 815.6L431.1 815.7L435.9 815.7L440.8 815.7L445.8 815.6L451 815.5L455.5 815.3L459.7 815.2L463.8 815L467.9 814.8L473.6 814.4L479.6 814L483.4 813.6L487.1 813.3L493.6 812.6L497.9 812.1L501.5 811.6L508.1 810.7L511.3 810.1L517.6 809L521.7 808.2M575.3 771.1L576 772.8L576.5 774.5L576.7 776L576.8 777.4L576.7 778.8L576.4 780.3L575.9 781.8L575.2 783.3L574.4 784.6L573.5 785.9L572.5 787.1L570.7 788.9L568.7 790.6L567.3 791.7L564.4 793.6L562.3 794.9L558.5 796.8M381.5 714L384.7 714.3L385 714.4L388.4 714.8L391.8 715.2L391.9 715.2" stroke="#b0e000" stroke-width="1.1" stroke-opacity=".75" fill="none"/>
<path d="M154.3 769L158.1 770.9L162 772.7L166 774.5L170.1 776.3L172.2 777.1L176.4 778.9L180.7 780.6L185.1 782.3L189.1 783.8L191.9 784.8L196.5 786.5L201.2 788.1L206 789.7L210.9 791.3L215.8 792.8L218.3 793.6L223.4 795.1L228.5 796.6L233.5 798L236.4 798.8L241.8 800.3L246.6 801.5L249.9 802.4L255.5 803.7L258.3 804.4L264 805.8L268.4 806.8L272.7 807.7L278 808.8L281.6 809.6L287 810.7L290.7 811.4L295.6 812.3L300 813.2L303.7 813.8L309.6 814.8L312.8 815.4L319 816.4L322.6 816.9L326.3 817.5L332.7 818.4L336.1 818.9L340.1 819.4L346.6 820.3L350.1 820.7L353.7 821.1L359.5 821.8L364.6 822.3L368.4 822.7L372.1 823L377.6 823.5L383.4 824L387.5 824.3L391.5 824.6L395.5 824.9L400.1 825.2L405.4 825.5L410.7 825.8L415.8 826L420.6 826.2L425 826.3L429.4 826.4L434 826.5L438.6 826.6L443.2 826.6L448 826.6L452.9 826.6L457.9 826.5L462.9 826.4" stroke="#88d800" stroke-width="1.1" stroke-opacity=".75" fill="none"/>
<path d="M222 804.9L225.8 806L231.3 807.4L234.5 808.2L239.5 809.5L245.2 810.9L248 811.6L253.7 812.9L256.6 813.6L262.4 814.9L265.6 815.6L271.4 816.8L274.7 817.5L280.5 818.7L283.5 819.3L289.7 820.5L292.9 821L299.2 822.2L302.4 822.7L307.2 823.5L312.2 824.4L315.4 824.9L321.9 825.9L325.5 826.4L328.9 826.9L335.7 827.9L339.2 828.3L342.7 828.8L349 829.5L353.4 830.1L357 830.5L361.6 831L367.7 831.6L371.7 832L375.5 832.4L379.6 832.7L385.4 833.2L391 833.7L394.9 833.9L398.9 834.2L403 834.5L407.5 834.8L412.9 835L418.1 835.3L423.3 835.5L428.2 835.7L432.6 835.8" stroke="#66d000" stroke-width="1.1" stroke-opacity=".75" fill="none"/>
<path d="M274.4 825.8L278.4 826.6L282.7 827.4L287.8 828.4L291 829L297.4 830.1L300.6 830.7L306 831.6L310.4 832.3L313.7 832.8L320.4 833.8L323.8 834.3L327.4 834.8L334.1 835.8L337.6 836.2L341.1 836.7L347.4 837.5L351.7 838L355.4 838.4L360 838.9L366.2 839.6L370.1 840L373.8 840.4L378.2 840.8L384 841.3L389.1 841.7L393 842L397 842.3L401 842.6L406.4 842.9" stroke="#55cc00" stroke-width="1.1" stroke-opacity=".75" fill="none"/>
<path d="M308.9 839.6L313.6 840.3L317 840.8L323 841.7L327.2 842.3L330.7 842.8L336.5 843.6L341.1 844.2L344.7 844.6L349.5 845.2L355.4 845.9L359.1 846.3L362.7 846.7L368.2 847.3L373.9 847.9L377.7 848.2L381.5 848.6L385.9 849" stroke="#44c400" stroke-width="1.1" stroke-opacity=".75" fill="none"/>
<path d="M336.6 850.6L342.5 851.4L346 851.8L349.6 852.3L355.8 853L360.5 853.5L364.2 853.9L368.2 854.3" stroke="#33bc00" stroke-width="1.1" stroke-opacity=".75" fill="none"/>
<path d="M303.3 837.4h.1M249.0 815.7h.1M194.7 794.0h.1M420.4 839.6h.1M483.2 820.1h.1M546.0 800.7h.1" stroke="#222" stroke-width="2.2" stroke-linecap="round"/>
<g><path fill="#1e2a10" d="M161.1 611.5L148.8 620.4L142.6 625.2L130.4 635.2L147.3 638.2L164.4 641.9L181.4 646.5L192.8 650L209.9 656L221.3 660.5L238.5 668.1L249.9 673.7L267 683L278.4 689.8L295.4 701L306.7 709L323.7 722.2L335 731.6L346.2 741.6L357.4 752.2L370.3 736.8L383.3 722.6L396.3 709.5L402.8 703.4L416 691.9L429.1 681.4L435.7 676.6L448.9 667.7L462.2 659.7L468.8 656.1L482.1 649.5L495.3 643.9L502 641.4L515.2 637.1L528.5 633.6L535.1 632.2L548.3 629.9L561.4 628.4L568 627.9L581.1 627.5L587.6 627.6L600.6 628.2L607 628.8L619.9 630.4L608.5 624.1L591.2 615.3L579.6 609.9L562.2 602.5L550.6 598.1L533 592L521.3 588.4L503.6 583.6L479.5 578.2L461.3 574.6L443 571.5L424.8 568.7L400 565.7L381.8 563.9L363.5 562.6L345.3 561.7L314.7 561.1L301.7 561.5L295.3 561.9L282.3 563.3L269.4 565.4L256.4 568.2L250 569.8L237.1 573.6L224.3 578.1L211.5 583.3L205.2 586.2L192.5 592.5L179.9 599.5L167.4 607.3Z"/><path fill="#060600" d="M385.2 568.3l-6 .1 6.6 1.8 5.9-.2z"/><path fill="#000" d="M391 568.4l-5.9 0 6.5 1.7 6 0zM378.7 566.9l-5.9 .1 6.6 1.6 5.9-.1zM396.9 568.5l-5.9 0 6.5 1.7 6 0zM372.3 565.6l-6 .1 6.6 1.4 6-.1zM384.6 567l-6 0 6.6 1.6 6-.1zM365.8 564.5l-5.9 .1 6.6 1.2 5.9 0zM402.8 568.7l-6-.1 6.6 1.7 6 .1zM378.2 565.7l-6 0 6.6 1.4 6 0zM390.5 567.1l-6 0 6.6 1.5 6 0zM359.4 563.5l-6 .1 6.7 1.1 5.9-.1zM408.7 569l-6-.2 6.6 1.7 6 .1zM371.7 564.6l-5.9 0 6.6 1.2 5.9 0zM396.4 567.3l-6-.1 6.6 1.5 6 .1zM384 565.8l-5.9 0 6.6 1.4 5.9 0zM352.9 562.7l-5.9 .1 6.6 .9 5.9 0zM414.6 569.3l-6-.2 6.6 1.6 6 .3zM365.2 563.6l-5.9 0 6.6 1.1 6 0zM402.3 567.6l-6-.2 6.6 1.5 6 .2zM377.6 564.7l-6 0 6.7 1.2 5.9 .1zM389.9 566.1l-5.9-.2 6.6 1.4 5.9 .1zM346.4 562.1l-5.9 0 6.7 .8 5.9-.1zM420.5 569.7l-6-.3 6.6 1.6 6 .4zM358.8 562.8l-6 0 6.7 .9 5.9 0zM408.1 567.9l-5.9-.2 6.6 1.5 6 .2zM371.1 563.8l-5.9-.1 6.6 1.1 6 .1zM395.8 566.3l-5.9-.2 6.6 1.4 5.9 .2zM383.5 565l-6-.2 6.7 1.3 5.9 .1zM339.9 561.6l-5.9 0 6.7 .6 5.9 0zM352.3 562.2l-5.9 0 6.6 .7 6 0zM426.4 570.2l-6-.4 6.6 1.6 6 .4zM364.6 563l-5.9-.1 6.7 .9 5.9 .1zM414 568.4l-5.9-.4 6.6 1.5 6 .3zM377 564l-5.9-.1 6.6 1 5.9 .2zM401.7 566.7l-6-.3 6.7 1.4 5.9 .2zM389.3 565.3l-5.9-.2 6.6 1.2 6 .2zM333.4 561.3l-5.8 0 6.7 .4 5.8 0zM345.8 561.7l-5.9 0 6.7 .5 5.9 .1zM432.3 570.8l-6-.5 6.6 1.6 6 .5zM358.1 562.4l-5.9-.1 6.7 .7 5.9 .1zM419.9 568.9l-5.9-.5 6.6 1.5 6 .4zM370.5 563.3l-5.9-.2 6.7 .9 5.9 .1zM407.6 567.1l-6-.3 6.7 1.3 5.9 .4zM382.9 564.4l-6-.3 6.7 1.1 5.9 .2zM395.2 565.6l-5.9-.2 6.6 1.1 6 .3zM326.9 561.1l-5.8 0 6.7 .2 5.9 0zM339.3 561.4l-5.9-.1 6.7 .4 5.9 .1zM438.2 571.4l-6-.5 6.6 1.6 6 .5zM351.6 561.9l-5.8-.1 6.7 .5 5.8 .2zM425.8 569.4l-5.9-.5 6.6 1.5 6 .5zM364 562.7l-5.9-.2 6.7 .7 5.9 .2zM413.5 567.7l-6-.5 6.7 1.4 5.9 .4zM376.4 563.6l-5.9-.3 6.6 .9 6 .2zM401.1 566.1l-5.9-.4 6.6 1.2 6 .4zM388.7 564.7l-5.9-.3 6.7 1 5.9 .3zM320.4 561.1l-5.8-.1 6.7 .1 5.9 .1zM332.8 561.3l-5.9-.1 6.8 .1 5.8 .2zM444.1 572.1l-6-.6 6.6 1.6 6 .6zM345.1 561.7l-5.8-.2 6.7 .3 5.9 .2zM431.7 570.1l-5.9-.6 6.6 1.5 6 .5zM357.5 562.2l-5.9-.2 6.7 .5 5.9 .2zM419.4 568.2l-6-.5 6.7 1.3 5.9 .5zM369.9 563l-5.9-.3 6.7 .7 5.9 .3zM407 566.6l-5.9-.4 6.6 1.1 6 .5zM382.2 564l-5.9-.3 6.7 .8 5.9 .3zM394.6 565.2l-5.9-.4 6.7 1 5.9 .4zM314 561.3l-5.9-.1 6.7-.2 5.9 .1zM326.3 561.3l-5.9-.2 6.8 0 5.8 .2zM338.7 561.5l-5.9-.2 6.7 .2 5.9 .2zM450 572.9l-6-.7 6.6 1.6 6 .7zM351 561.9l-5.9-.2 6.8 .3 5.8 .3zM437.6 570.8l-5.9-.6 6.6 1.4 6 .7zM363.4 562.6l-5.9-.3 6.7 .5 5.9 .3zM425.3 568.9l-6-.6 6.7 1.3 5.9 .6zM375.8 563.4l-5.9-.4 6.7 .7 5.9 .4zM412.9 567.2l-5.9-.5 6.6 1.1 6 .6zM388.1 564.5l-5.9-.5 6.7 .9 5.9 .4zM400.5 565.7l-5.9-.4 6.7 .9 5.9 .5zM307.5 561.6l-5.9-.1 6.7-.4 5.9 .2zM319.8 561.5l-5.8-.2 6.7-.2 5.8 .2zM332.2 561.6l-5.9-.3 6.7 0 5.9 .2zM455.9 573.8l-6-.8 6.7 1.6 5.9 .8zM344.5 561.8l-5.8-.3 6.7 .2 5.9 .3zM443.5 571.6l-5.9-.7 6.6 1.4 6 .7zM356.9 562.3l-5.9-.4 6.7 .4 5.9 .3zM431.1 569.7l-5.9-.7 6.7 1.3 5.9 .6zM369.3 563l-5.9-.4 6.7 .5 5.9 .4zM418.8 567.9l-5.9-.6 6.6 1.1 6 .6zM381.6 563.9l-5.9-.5 6.8 .7 5.9 .4zM406.4 566.4l-5.9-.6 6.7 1 5.9 .5zM394 565l-5.9-.5 6.7 .8 5.9 .5zM301 562.1l-5.9-.2 6.7-.5 5.9 .2zM313.3 561.8l-5.8-.2 6.7-.4 5.8 .2zM325.7 561.8l-5.9-.4 6.7-.2 5.9 .3zM461.8 574.8l-6-.9 6.7 1.5 5.9 .9zM338 561.9l-5.8-.4 6.7 0 5.9 .3zM449.4 572.5l-5.9-.8 6.6 1.4 6 .8zM350.4 562.2l-5.9-.4 6.7 .1 5.9 .4zM437 570.5l-5.9-.8 6.7 1.3 5.9 .7zM362.8 562.8l-5.9-.5 6.7 .3 5.9 .4zM424.7 568.7l-5.9-.7 6.6 1.1 6 .7zM375.1 563.5l-5.8-.5 6.7 .4 5.9 .5zM412.3 567.1l-5.9-.7 6.7 .9 5.9 .7zM387.5 564.5l-5.9-.6 6.8 .6 5.8 .6zM399.9 565.7l-5.9-.6 6.7 .7 5.9 .6zM294.5 562.8l-5.8-.2 6.6-.8 5.9 .2zM306.9 562.3l-5.9-.2 6.7-.6 5.9 .3zM319.2 562.1l-5.9-.3 6.7-.4 5.9 .3zM467.6 575.8l-5.9-1 6.7 1.6 5.9 .9zM331.5 562.1l-5.8-.4 6.7-.3 5.9 .4zM455.3 573.5l-5.9-.9 6.6 1.4 6 .9zM343.9 562.3l-5.9-.5 6.7-.1 5.9 .5zM442.9 571.4l-5.9-.9 6.7 1.3 5.9 .8zM356.3 562.7l-5.9-.5 6.7 .1 5.9 .4zM288.1 563.6l-5.9-.3 6.7-.8 5.8 .2zM430.6 569.5l-5.9-.8 6.7 1.1 5.9 .8zM368.6 563.3l-5.8-.6 6.7 .3 5.9 .5zM418.2 567.8l-5.9-.7 6.7 .9 5.9 .7zM381 564.1l-5.9-.6 6.8 .4 5.9 .6zM405.8 566.4l-5.9-.7 6.7 .7 5.9 .7zM393.4 565.1l-5.9-.6 6.7 .6 5.9 .6zM300.4 563l-5.9-.3 6.7-.7 5.9 .2zM312.7 562.6l-5.9-.3 6.7-.6 5.9 .3zM325.1 562.4l-5.9-.4 6.7-.4 5.9 .4zM473.5 576.9l-5.9-1 6.7 1.5 5.9 1zM337.4 562.5l-5.9-.5 6.7-.3 5.9 .5zM461.2 574.6l-5.9-1.1 6.7 1.4 5.9 1zM281.6 564.6l-5.9-.3 6.7-1.1 5.9 .3zM349.8 562.7l-5.9-.5 6.7-.1 5.9 .5zM448.8 572.4l-5.9-1 6.7 1.2 5.9 1zM362.2 563.2l-5.9-.6 6.7 .1 5.9 .5zM436.5 570.4l-5.9-.9 6.7 1.1 5.9 .9zM374.5 563.9l-5.9-.7 6.8 .3 5.9 .6zM424.1 568.7l-5.9-.8 6.7 .8 5.9 .9zM386.9 564.8l-5.9-.7 6.8 .4 5.8 .6zM293.9 563.8l-5.9-.3 6.7-.9 5.9 .3zM411.7 567.2l-5.9-.8 6.7 .7 5.9 .8zM399.3 565.9l-5.9-.8 6.7 .6 5.9 .7zM306.2 563.3l-5.9-.4 6.7-.7 5.9 .3zM318.6 563l-5.9-.5 6.7-.6 5.9 .5zM479.4 578.1l-5.9-1.1 6.7 1.5 5.9 1.1zM330.9 562.8l-5.9-.4 6.7-.5 5.9 .5zM275.1 565.7l-5.9-.3 6.7-1.2 5.9 .3zM467.1 575.7l-5.9-1.1 6.7 1.3 5.9 1.1zM343.3 563l-5.9-.6 6.7-.3 5.9 .6zM454.7 573.5l-5.9-1.1 6.7 1.2 5.9 1zM355.7 563.3l-5.9-.6 6.7-.2 5.9 .6zM287.4 564.8l-5.9-.3 6.7-1.1 5.9 .3zM442.3 571.5l-5.8-1.1 6.7 1.1 5.9 1zM368 563.8l-5.9-.7 6.8 .1 5.9 .6zM430 569.7l-5.9-1 6.7 .8 5.9 1zM380.4 564.5l-5.9-.7 6.7 .2 5.9 .7zM417.6 568.1l-5.9-.9 6.7 .6 5.9 .9zM392.8 565.5l-5.9-.8 6.7 .4 5.9 .7zM405.2 566.7l-5.9-.9 6.7 .5 5.9 .9zM299.7 564.1l-5.9-.4 6.7-.9 5.9 .4zM312.1 563.7l-5.9-.5 6.7-.8 5.9 .5zM268.7 567l-5.9-.3 6.6-1.4 5.9 .3zM485.3 579.4l-5.9-1.2 6.7 1.4 5.9 1.3zM324.4 563.4l-5.9-.5 6.7-.6 5.9 .5zM473 576.9l-5.9-1.2 6.7 1.3 5.9 1.2zM336.8 563.3l-5.9-.5 6.7-.5 5.9 .6zM281 566l-5.9-.4 6.6-1.2 5.9 .3zM460.6 574.6l-5.9-1.1 6.7 1.1 5.9 1.2zM349.2 563.5l-6-.6 6.8-.3 5.9 .6zM448.2 572.5l-5.9-1.1 6.8 1 5.9 1.1zM361.5 563.9l-5.9-.7 6.7-.2 6 .7zM435.9 570.7l-5.9-1.1 6.7 .8 5.9 1.1zM293.3 565.1l-5.9-.4 6.6-1.1 5.9 .4zM373.9 564.5l-5.9-.8 6.7 0 5.9 .8zM423.5 569l-5.9-1 6.7 .7 5.9 .9zM386.3 565.3l-5.9-.8 6.7 .1 5.9 .9zM411.1 567.6l-5.9-1 6.7 .5 5.9 .9zM398.7 566.3l-5.9-.9 6.7 .4 5.9 .8zM305.6 564.5l-5.9-.5 6.7-.9 5.9 .4z"/><path fill="#120000" d="M262.2 568.5l-5.9-.3 6.6-1.6 5.9 .3z"/><path fill="#000" d="M491.2 580.8l-5.9-1.4 6.7 1.5 5.9 1.3zM317.9 564.1l-5.9-.5 6.7-.8 5.9 .5z"/><path fill="#060000" d="M274.5 567.3l-5.9-.4 6.6-1.4 5.9 .4z"/><path fill="#000" d="M478.9 578.2l-5.9-1.3 6.7 1.3 5.9 1.3zM330.3 563.9l-5.9-.6 6.7-.6 5.9 .5zM466.5 575.9l-5.9-1.3 6.7 1.1 5.9 1.3zM342.7 563.9l-6-.7 6.7-.4 6 .6zM286.8 566.3l-5.9-.4 6.6-1.3 5.9 .4zM454.1 573.7l-5.9-1.2 6.8 1 5.9 1.2zM355 564.1l-5.9-.7 6.7-.3 5.9 .7zM441.8 571.8l-5.9-1.2 6.7 .8 5.9 1.1zM367.4 564.6l-5.9-.8 6.7-.2 5.9 .8zM429.4 570l-5.9-1.1 6.7 .7 5.9 1.1zM379.8 565.2l-5.9-.8 6.7 0 5.9 .8z"/><path fill="#2a0606" d="M255.8 570.2l-5.9-.4 6.6-1.7 5.9 .3z"/><path fill="#000" d="M417 568.5l-5.9-1 6.7 .5 5.9 1zM392.2 566.1l-5.9-.9 6.7 .2 5.9 .9zM299.1 565.5l-5.9-.5 6.7-1.1 5.9 .5zM404.6 567.2l-5.9-1 6.7 .3 5.9 1zM311.4 565l-5.9-.6 6.7-1 5.9 .6zM497.1 582.3l-5.9-1.5 6.7 1.4 5.9 1.4z"/><path fill="#240600" d="M268 568.8l-5.9-.4 6.7-1.6 5.8 .4z"/><path fill="#000" d="M323.8 564.6l-5.9-.6 6.7-.8 5.9 .6zM484.8 579.6l-5.9-1.4 6.7 1.2 5.8 1.4z"/><path fill="#180000" d="M280.3 567.7l-5.9-.5 6.6-1.4 5.9 .4z"/><path fill="#000" d="M336.2 564.5l-6-.7 6.7-.7 5.9 .7zM472.4 577.2l-5.9-1.4 6.7 1.1 5.9 1.4zM348.5 564.5l-5.9-.7 6.7-.5 5.9 .7z"/><path fill="#420c06" d="M249.3 572l-5.9-.4 6.6-1.9 5.9 .3z"/><path fill="#000" d="M460 575l-5.9-1.3 6.7 .9 5.9 1.3zM360.9 564.8l-5.9-.8 6.7-.3 5.9 .8z"/><path fill="#060000" d="M292.6 566.7l-5.9-.5 6.7-1.3 5.9 .5z"/><path fill="#000" d="M447.7 573l-5.9-1.3 6.7 .8 5.9 1.2zM373.3 565.3l-5.9-.8 6.7-.2 5.9 .9zM435.3 571.1l-5.9-1.1 6.7 .6 5.9 1.1zM385.7 566.1l-5.9-1 6.7 0 5.9 .9zM422.9 569.6l-5.9-1.2 6.7 .5 5.9 1.1zM398.1 567l-5.9-1 6.7 .2 5.9 .9zM410.5 568.2l-5.9-1.1 6.7 .3 5.9 1.1z"/><path fill="#360606" d="M261.6 570.5l-5.9-.4 6.6-1.8 5.9 .4z"/><path fill="#000" d="M304.9 566l-5.9-.6 6.7-1.1 5.9 .5zM503 583.8l-5.9-1.6 6.7 1.4 5.8 1.5zM317.3 565.5l-5.9-.6 6.6-1 6 .6zM490.6 581.1l-5.8-1.5 6.6 1.2 5.9 1.5z"/><path fill="#300600" d="M273.8 569.2l-5.9-.5 6.7-1.6 5.9 .4z"/><path fill="#000" d="M329.6 565.2l-5.9-.7 6.7-.8 5.9 .7z"/><path fill="#540c06" d="M242.9 574l-5.9-.4 6.6-2.1 5.9 .4z"/><path fill="#000" d="M478.3 578.6l-5.9-1.5 6.7 1.1 5.9 1.4zM342 565.1l-5.9-.7 6.7-.7 5.9 .7z"/><path fill="#240600" d="M286.1 568.1l-5.9-.5 6.7-1.5 5.9 .5z"/><path fill="#000" d="M465.9 576.3l-5.9-1.4 6.7 .9 5.9 1.4zM354.4 565.3l-5.9-.9 6.7-.5 5.9 .8zM453.6 574.2l-5.9-1.3 6.7 .7 5.9 1.3z"/><path fill="#480c06" d="M255.1 572.4l-5.9-.5 6.6-2 5.9 .5z"/><path fill="#000" d="M366.8 565.6l-5.9-.9 6.7-.3 5.9 .9zM441.2 572.3l-5.9-1.2 6.7 .5 5.9 1.3z"/><path fill="#180000" d="M298.5 567.2l-6-.6 6.7-1.3 5.9 .6z"/><path fill="#000" d="M379.2 566.2l-5.9-1 6.7-.2 5.9 1zM428.8 570.7l-5.9-1.2 6.7 .4 5.9 1.2zM391.6 567l-5.9-1 6.7-.1 5.9 1zM416.4 569.2l-5.9-1.1 6.7 .3 5.9 1.1zM404 568l-5.9-1.1 6.7 .1 5.9 1.1zM508.9 585.4l-5.9-1.6 6.6 1.3 5.9 1.6z"/><path fill="#0c0000" d="M310.8 566.6l-5.9-.7 6.6-1.2 6 .7z"/><path fill="#420c06" d="M267.4 570.9l-5.9-.5 6.6-1.8 5.9 .5z"/><path fill="#601206" d="M236.5 576.2l-5.9-.4 6.6-2.3 5.8 .4z"/><path fill="#000" d="M496.5 582.7l-5.9-1.7 6.7 1.2 5.9 1.6zM323.1 566.1l-5.9-.7 6.7-1 5.9 .7zM484.2 580.1l-5.9-1.6 6.7 1 5.9 1.6z"/><path fill="#3c0606" d="M279.7 569.6l-5.9-.5 6.6-1.7 5.9 .6z"/><path fill="#000" d="M335.5 565.9l-5.9-.8 6.7-.8 5.9 .7z"/><path fill="#5a0c06" d="M248.7 574.4l-5.9-.5 6.6-2.1 5.9 .4z"/><path fill="#000" d="M471.8 577.7l-5.9-1.5 6.7 .9 5.9 1.5zM347.9 565.9l-5.9-.9 6.6-.7 6 .9z"/><path fill="#300600" d="M292 568.6l-5.9-.6 6.6-1.5 5.9 .6z"/><path fill="#000" d="M459.5 575.6l-6-1.5 6.7 .7 6 1.5zM360.3 566.1l-6-.9 6.7-.6 6 .9zM447.1 573.6l-5.9-1.4 6.7 .6 5.9 1.4zM372.7 566.5l-6-1 6.7-.4 6 1zM434.7 571.9l-5.9-1.3 6.7 .4 5.9 1.3zM385.1 567.1l-6-1 6.7-.2 6 1z"/><path fill="#540c06" d="M260.9 572.8l-5.9-.5 6.6-2 5.9 .5z"/><path fill="#6c1806" d="M230 578.6l-5.8-.5 6.5-2.4 5.9 .4z"/><path fill="#000" d="M514.7 587.2l-5.8-1.8 6.6 1.2 5.9 1.8zM422.3 570.4l-5.9-1.3 6.7 .3 5.9 1.2zM397.5 568l-6-1.1 6.8-.1 5.9 1.1zM409.9 569.1l-5.9-1.2 6.7 .1 5.9 1.2z"/><path fill="#2a0600" d="M304.3 567.8l-5.9-.7 6.6-1.3 6 .6z"/><path fill="#000" d="M502.4 584.3l-5.9-1.7 6.7 1.1 5.9 1.7z"/><path fill="#1e0600" d="M316.6 567.2l-5.9-.8 6.7-1.1 5.9 .7z"/><path fill="#4e0c06" d="M273.2 571.4l-5.9-.6 6.6-1.8 5.9 .5z"/><path fill="#661206" d="M242.2 576.6l-5.8-.5 6.5-2.3 5.9 .5z"/><path fill="#000" d="M490.1 581.6l-5.9-1.6 6.6 1 6 1.6z"/><path fill="#120000" d="M329 566.8l-5.9-.8 6.6-1 6 .8z"/><path fill="#000" d="M477.7 579.2l-5.9-1.6 6.7 .9 5.9 1.5z"/><path fill="#480606" d="M285.5 570.2l-5.9-.7 6.6-1.6 5.9 .6z"/><path fill="#000" d="M341.4 566.6l-6-.8 6.7-.9 6 .8z"/><path fill="#781e0c" d="M223.7 581.1l-5.9-.4 6.5-2.7 5.9 .4z"/><path fill="#000" d="M465.4 577l-6-1.5 6.7 .6 5.9 1.6zM353.8 566.7l-6-1 6.7-.7 6 1z"/><path fill="#601206" d="M254.5 574.8l-5.9-.5 6.6-2.2 5.9 .5z"/><path fill="#000" d="M453 575l-6-1.5 6.7 .5 6 1.5zM366.2 566.9l-6-1 6.7-.5 6 1z"/><path fill="#3c0606" d="M297.8 569.2l-5.9-.7 6.6-1.5 6 .7z"/><path fill="#000" d="M520.6 588.9l-5.9-1.8 6.7 1.2 5.9 1.9zM440.6 573.2l-6-1.4 6.7 .4 6 1.3zM378.6 567.4l-6-1 6.7-.4 6 1zM428.2 571.6l-6-1.3 6.7 .2 6 1.3zM391 568.1l-6-1.1 6.7-.2 6 1.1zM415.8 570.2l-6-1.2 6.7 0 6 1.3zM403.4 569.1l-6-1.2 6.7-.1 6 1.2z"/><path fill="#5a0c06" d="M266.7 573.3l-5.9-.6 6.6-2 5.9 .5z"/><path fill="#360600" d="M310.1 568.4l-5.9-.7 6.7-1.4 5.9 .8z"/><path fill="#72180c" d="M235.8 579l-5.8-.5 6.5-2.5 5.9 .5z"/><path fill="#000" d="M508.3 586l-5.9-1.8 6.7 1.1 5.9 1.8z"/><path fill="#2a0600" d="M322.5 567.9l-5.9-.8 6.6-1.2 6 .8z"/><path fill="#000" d="M496 583.3l-5.9-1.8 6.6 1 5.9 1.7z"/><path fill="#7e240c" d="M217.3 583.8l-5.9-.4 6.5-2.9 5.9 .5z"/><path fill="#540c06" d="M279 571.9l-5.9-.6 6.6-1.9 5.9 .6z"/><path fill="#1e0600" d="M334.9 567.6l-6-.9 6.7-1.1 5.9 .9z"/><path fill="#6c1206" d="M248 577.1l-5.8-.6 6.5-2.3 5.9 .5z"/><path fill="#000" d="M483.6 580.8l-5.9-1.7 6.7 .8 5.9 1.7z"/><path fill="#120000" d="M347.2 567.5l-5.9-1 6.7-.9 5.9 1z"/><path fill="#000" d="M471.2 578.5l-5.9-1.6 6.7 .6 5.9 1.6z"/><path fill="#4e0c06" d="M291.3 570.8l-5.9-.7 6.6-1.7 6 .7z"/><path fill="#000" d="M526.5 590.8l-5.9-2 6.6 1.3 5.9 1.9z"/><path fill="#060000" d="M359.6 567.6l-5.9-1 6.7-.8 5.9 1z"/><path fill="#000" d="M458.9 576.4l-6-1.5 6.7 .5 6 1.5z"/><path fill="#7e1e0c" d="M229.4 581.6l-5.8-.6 6.5-2.7 5.9 .5z"/><path fill="#6c1206" d="M260.3 575.3l-5.9-.6 6.6-2.2 5.9 .6z"/><path fill="#000" d="M372 567.9l-5.9-1.1 6.7-.5 5.9 1zM446.5 574.5l-6-1.4 6.7 .3 6 1.5z"/><path fill="#480606" d="M303.6 569.9l-5.9-.8 6.7-1.5 5.9 .7z"/><path fill="#000" d="M384.4 568.5l-5.9-1.2 6.7-.4 5.9 1.1zM434.1 572.9l-6-1.4 6.7 .2 6 1.4zM396.8 569.2l-5.9-1.2 6.7-.2 6 1.2zM421.7 571.4l-6-1.3 6.7 .1 6 1.3zM409.3 570.2l-6-1.2 6.7-.1 6 1.2zM514.2 587.8l-5.9-1.9 6.6 1.1 5.9 1.9z"/><path fill="#84300c" d="M210.9 586.7l-5.8-.5 6.5-3 5.8 .5z"/><path fill="#420606" d="M316 569.2l-5.9-.9 6.6-1.3 6 .8z"/><path fill="#660c06" d="M272.5 573.8l-5.9-.6 6.7-2.1 5.9 .7z"/><path fill="#78180c" d="M241.6 579.5l-5.9-.6 6.6-2.5 5.9 .5z"/><path fill="#000" d="M501.8 585l-5.9-1.8 6.7 .9 5.9 1.9z"/><path fill="#360606" d="M328.3 568.7l-5.9-.9 6.7-1.2 5.9 .8z"/><path fill="#000" d="M489.5 582.5l-5.9-1.8 6.6 .8 6 1.7z"/><path fill="#600c06" d="M284.8 572.5l-5.9-.7 6.7-1.9 5.9 .8z"/><path fill="#84240c" d="M223 584.3l-5.8-.6 6.5-2.8 5.9 .5z"/><path fill="#300600" d="M340.7 568.4l-5.9-.9 6.7-1.1 5.9 .9z"/><path fill="#721206" d="M253.8 577.6l-5.9-.6 6.6-2.4 5.9 .6z"/><path fill="#000" d="M477.1 580.1l-5.9-1.7 6.7 .6 5.9 1.7zM532.4 592.8l-5.9-2.1 6.6 1.2 5.9 2.1z"/><path fill="#240600" d="M353.1 568.4l-5.9-1.1 6.7-.9 5.9 1.1z"/><path fill="#8a3c12" d="M204.5 589.8l-5.8-.5 6.5-3.2 5.8 .5z"/><path fill="#000" d="M464.8 577.9l-6-1.6 6.7 .5 5.9 1.6z"/><path fill="#5a0c06" d="M297.1 571.5l-5.9-.8 6.7-1.7 5.9 .7z"/><path fill="#180000" d="M365.5 568.5l-5.9-1 6.7-.8 5.9 1.1z"/><path fill="#000" d="M452.4 576l-6-1.6 6.7 .4 6 1.5z"/><path fill="#0c0000" d="M377.9 568.9l-5.9-1.1 6.7-.6 5.9 1.2z"/><path fill="#000" d="M520 589.7l-5.9-2 6.7 1.1 5.9 2zM440 574.3l-6-1.5 6.7 .2 6 1.4z"/><path fill="#7e1e0c" d="M235.2 582.1l-5.9-.6 6.6-2.7 5.9 .5z"/><path fill="#721206" d="M266.1 575.9l-5.9-.7 6.6-2.2 5.9 .7z"/><path fill="#000" d="M390.3 569.6l-5.9-1.3 6.7-.4 5.9 1.2zM427.6 572.8l-6-1.5 6.7 .1 6 1.4zM402.7 570.4l-5.9-1.3 6.7-.2 5.9 1.2zM415.1 571.5l-5.9-1.4 6.7-.1 5.9 1.4z"/><path fill="#540c06" d="M309.5 570.6l-5.9-.8 6.6-1.6 5.9 .8z"/><path fill="#000" d="M507.7 586.8l-5.9-1.9 6.7 .9 5.9 2z"/><path fill="#8a300c" d="M216.7 587.2l-5.9-.5 6.5-3.1 5.9 .6z"/><path fill="#4e0606" d="M321.8 570l-5.9-.9 6.7-1.4 5.9 .9z"/><path fill="#6c0c06" d="M278.4 574.5l-5.9-.8 6.6-2 5.9 .7z"/><path fill="#7e180c" d="M247.4 580l-5.9-.6 6.6-2.6 5.9 .7z"/><path fill="#000" d="M495.4 584.2l-5.9-1.9 6.6 .8 5.9 1.9z"/><path fill="#904e12" d="M198.2 593.1l-5.8-.6 6.4-3.4 5.9 .6z"/><path fill="#420606" d="M334.2 569.5l-5.9-.9 6.6-1.3 6 1z"/><path fill="#000" d="M538.2 594.8l-5.9-2.2 6.6 1.2 5.9 2.2zM483 581.8l-5.9-1.8 6.7 .6 5.9 1.8z"/><path fill="#660c06" d="M290.7 573.3l-6-.9 6.7-1.8 5.9 .7z"/><path fill="#3c0606" d="M346.6 569.3l-6-1 6.7-1.1 6 1.1z"/><path fill="#8a240c" d="M228.8 584.9l-5.9-.7 6.6-2.9 5.8 .6z"/><path fill="#000" d="M470.6 579.5l-5.9-1.7 6.7 .5 5.9 1.7z"/><path fill="#781206" d="M259.6 578.2l-5.9-.7 6.6-2.4 5.9 .7z"/><path fill="#300600" d="M359 569.4l-6-1.1 6.7-1 6 1.1z"/><path fill="#000" d="M525.9 591.7l-5.9-2.1 6.6 1 5.9 2.1zM458.2 577.5l-5.9-1.6 6.7 .3 5.9 1.6z"/><path fill="#2a0600" d="M371.4 569.6l-6-1.2 6.7-.7 6 1.1z"/><path fill="#600c06" d="M303 572.2l-5.9-.8 6.6-1.8 5.9 .9z"/><path fill="#903c12" d="M210.3 590.4l-5.9-.7 6.5-3.2 5.9 .6z"/><path fill="#000" d="M445.8 575.7l-5.9-1.6 6.7 .2 5.9 1.6z"/><path fill="#1e0600" d="M383.8 570.1l-6-1.3 6.7-.6 6 1.3z"/><path fill="#000" d="M433.4 574.2l-5.9-1.6 6.7 .1 5.9 1.5z"/><path fill="#120000" d="M396.2 570.8l-6-1.3 6.8-.5 5.9 1.3z"/><path fill="#966012" d="M191.9 596.6l-5.8-.6 6.4-3.6 5.8 .6z"/><path fill="#000" d="M421 572.8l-5.9-1.4 6.7-.2 5.9 1.5z"/><path fill="#060000" d="M408.6 571.7l-5.9-1.4 6.7-.3 5.9 1.4z"/><path fill="#000" d="M513.6 588.8l-5.9-2.1 6.6 .9 5.9 2z"/><path fill="#781206" d="M271.9 576.6l-5.9-.8 6.6-2.2 5.9 .8z"/><path fill="#841e0c" d="M241 582.7l-5.9-.7 6.6-2.8 5.8 .7z"/><path fill="#5a0c06" d="M315.3 571.4l-5.9-.9 6.7-1.6 5.9 .9z"/><path fill="#000" d="M501.2 586l-5.9-1.9 6.7 .7 5.9 2z"/><path fill="#540c06" d="M327.7 570.9l-5.9-1 6.6-1.5 6 1z"/><path fill="#902a0c" d="M222.4 587.8l-5.8-.6 6.5-3.1 5.8 .6z"/><path fill="#720c06" d="M284.2 575.2l-5.9-.8 6.6-2.1 5.9 .8z"/><path fill="#000" d="M544.1 596.9l-5.9-2.2 6.6 1.2 5.9 2.2z"/><path fill="#84180c" d="M253.2 580.7l-5.9-.8 6.6-2.5 5.9 .7z"/><path fill="#000" d="M488.9 583.5l-5.9-1.9 6.6 .7 6 1.8z"/><path fill="#4e0606" d="M340.1 570.5l-6-1.1 6.7-1.2 5.9 1z"/><path fill="#964e12" d="M204 593.7l-5.9-.7 6.5-3.4 5.8 .6z"/><path fill="#967218" d="M185.6 600.2l-5.8-.6 6.4-3.8 5.8 .6z"/><path fill="#000" d="M476.5 581.2l-5.9-1.8 6.7 .5 5.9 1.8z"/><path fill="#480606" d="M352.4 570.4l-5.9-1.2 6.7-1.1 5.9 1.2z"/><path fill="#6c0c06" d="M296.5 574l-5.9-.8 6.6-2 5.9 .9z"/><path fill="#000" d="M531.8 593.7l-5.9-2.1 6.6 1 5.9 2.2zM464.1 579.2l-5.9-1.8 6.7 .3 5.9 1.8z"/><path fill="#3c0606" d="M364.8 570.4l-5.9-1.1 6.7-1 5.9 1.2z"/><path fill="#8a240c" d="M234.6 585.5l-5.9-.7 6.5-3 5.9 .7z"/><path fill="#7e1206" d="M265.4 578.9l-5.9-.8 6.6-2.4 5.9 .8z"/><path fill="#000" d="M451.7 577.3l-5.9-1.7 6.7 .2 5.9 1.6z"/><path fill="#360600" d="M377.3 570.8l-6-1.3 6.7-.8 6 1.3z"/><path fill="#6c0c06" d="M308.8 573.1l-5.9-1 6.6-1.7 6 .9z"/><path fill="#000" d="M439.3 575.6l-5.9-1.6 6.7 .1 5.9 1.5z"/><path fill="#2a0600" d="M389.7 571.3l-6-1.3 6.7-.7 6 1.4z"/><path fill="#000" d="M519.4 590.8l-5.9-2.2 6.7 .9 5.9 2.1z"/><path fill="#0c0000" d="M426.9 574.2l-5.9-1.5 6.7-.2 5.9 1.6z"/><path fill="#240600" d="M402.1 572l-6-1.4 6.7-.4 6 1.4z"/><path fill="#180000" d="M414.5 573l-6-1.4 6.7-.3 6 1.4z"/><path fill="#903c12" d="M216.1 591l-5.9-.7 6.5-3.3 5.9 .7z"/><path fill="#966018" d="M197.6 597.2l-5.8-.7 6.4-3.6 5.9 .6z"/><path fill="#660c06" d="M321.2 572.4l-6-1.1 6.7-1.6 5.9 1z"/><path fill="#7e1206" d="M277.7 577.4l-5.9-.9 6.6-2.2 5.9 .8z"/><path fill="#000" d="M507.1 588l-5.9-2.1 6.6 .7 6 2.1z"/><path fill="#968418" d="M179.3 604.1l-5.8-.7 6.4-4 5.8 .7z"/><path fill="#8a180c" d="M246.8 583.3l-5.9-.7 6.6-2.8 5.8 .8z"/><path fill="#000" d="M549.9 599.2l-5.9-2.4 6.6 1.2 5.9 2.3z"/><path fill="#600c06" d="M333.5 571.8l-5.9-1.1 6.7-1.4 5.9 1.1z"/><path fill="#000" d="M494.8 585.4l-6-2 6.7 .6 5.9 2z"/><path fill="#902a0c" d="M228.2 588.5l-5.9-.8 6.5-3.1 5.9 .7z"/><path fill="#780c06" d="M290 576l-5.9-.9 6.6-2.1 5.9 .9z"/><path fill="#5a0c06" d="M345.9 571.5l-5.9-1.1 6.7-1.3 5.9 1.1z"/><path fill="#000" d="M537.6 595.9l-5.9-2.3 6.6 1 5.9 2.3zM482.4 583l-6-1.9 6.7 .5 6 1.8z"/><path fill="#8a180c" d="M259 581.4l-5.9-.8 6.6-2.6 5.9 .8z"/><path fill="#964e12" d="M209.7 594.3l-5.8-.7 6.4-3.5 5.9 .7z"/><path fill="#540606" d="M358.3 571.5l-5.9-1.3 6.7-1.1 5.9 1.2z"/><path fill="#000" d="M470 580.9l-5.9-1.9 6.6 .3 6 1.8z"/><path fill="#780c06" d="M302.3 574.9l-5.9-1 6.6-1.9 6 1z"/><path fill="#9c7218" d="M191.3 600.8l-5.8-.7 6.4-3.8 5.9 .7z"/><path fill="#969012" d="M173.1 608.1l-5.8-.7 6.3-4.2 5.8 .7z"/><path fill="#480606" d="M370.7 571.6l-5.9-1.3 6.7-.9 5.9 1.2z"/><path fill="#060000" d="M457.6 578.9l-5.9-1.7 6.7 .1 5.9 1.8z"/><path fill="#000" d="M525.3 592.8l-5.9-2.2 6.6 .9 5.9 2.2z"/><path fill="#420606" d="M383.1 572l-5.9-1.4 6.7-.7 5.9 1.3z"/><path fill="#120000" d="M445.2 577.2l-5.9-1.7 6.6 0 6 1.7z"/><path fill="#90240c" d="M240.4 586.2l-5.9-.8 6.5-3 5.9 .8z"/><path fill="#841206" d="M271.3 579.7l-5.9-.9 6.6-2.4 5.9 .8z"/><path fill="#3c0606" d="M395.5 572.6l-5.9-1.4 6.7-.7 5.9 1.4z"/><path fill="#1e0600" d="M432.8 575.7l-6-1.6 6.7-.2 6 1.7z"/><path fill="#300600" d="M408 573.4l-6-1.5 6.7-.4 6 1.4z"/><path fill="#2a0600" d="M420.4 574.5l-6-1.6 6.7-.3 6 1.5z"/><path fill="#720c06" d="M314.7 574l-6-1 6.7-1.8 5.9 1z"/><path fill="#000" d="M513 590l-6-2.2 6.7 .7 5.9 2.2zM555.7 601.5l-5.9-2.5 6.7 1.2 5.8 2.4z"/><path fill="#963612" d="M221.8 591.7l-5.8-.8 6.5-3.3 5.8 .7z"/><path fill="#6c0c06" d="M327 573.3l-5.9-1.1 6.7-1.6 5.9 1.1z"/><path fill="#841206" d="M283.5 578.2l-5.9-.9 6.6-2.3 6 .9z"/><path fill="#9c5a18" d="M203.4 597.8l-5.9-.7 6.5-3.7 5.8 .8z"/><path fill="#000" d="M500.6 587.3l-5.9-2 6.7 .5 5.9 2.1z"/><path fill="#90a20c" d="M166.8 612.3l-5.8-.8 6.4-4.3 5.8 .7z"/><path fill="#90180c" d="M252.6 584.1l-5.9-.9 6.5-2.7 5.9 .8z"/><path fill="#9c8418" d="M185 604.7l-5.8-.7 6.4-4 5.9 .7z"/><path fill="#660c06" d="M339.4 572.9l-5.9-1.2 6.6-1.4 6 1.1z"/><path fill="#000" d="M543.4 598.1l-5.8-2.3 6.6 .9 5.9 2.4zM488.2 584.9l-5.9-2 6.7 .4 5.9 2z"/><path fill="#7e0c06" d="M295.8 576.9l-5.9-1 6.7-2.1 5.9 1z"/><path fill="#600c06" d="M351.8 572.7l-6-1.3 6.7-1.3 6 1.3z"/><path fill="#962a0c" d="M234 589.2l-5.9-.8 6.5-3.2 5.9 .8z"/><path fill="#0c0000" d="M475.9 582.7l-6-2 6.7 .3 6 1.9z"/><path fill="#90180c" d="M264.8 582.2l-5.9-.9 6.6-2.6 5.9 .9z"/><path fill="#000" d="M531.1 595l-5.9-2.3 6.7 .8 5.9 2.3z"/><path fill="#5a0c06" d="M364.2 572.7l-6-1.4 6.7-1.1 6 1.3z"/><path fill="#180600" d="M463.5 580.7l-6-1.9 6.7 .1 6 1.9z"/><path fill="#9c4812" d="M215.5 595l-5.9-.8 6.5-3.5 5.9 .8z"/><path fill="#540c06" d="M376.6 572.9l-6-1.4 6.7-1 6 1.4z"/><path fill="#7e0c06" d="M308.2 575.9l-6-1.1 6.7-1.9 5.9 1z"/><path fill="#72a20c" d="M160.6 616.7l-5.8-.8 6.4-4.5 5.8 .7z"/><path fill="#240600" d="M451.1 578.9l-6-1.8 6.7 0 6 1.7z"/><path fill="#9c6c18" d="M197.1 601.6l-5.9-.8 6.5-3.9 5.8 .8z"/><path fill="#4e0606" d="M389 573.3l-6-1.4 6.7-.8 6 1.4z"/><path fill="#969012" d="M178.8 608.8l-5.8-.8 6.3-4.2 5.9 .8z"/><path fill="#2a0600" d="M438.7 577.3l-6-1.7 6.7-.2 6 1.7z"/><path fill="#000" d="M561.5 603.9l-5.8-2.6 6.6 1.1 5.9 2.6z"/><path fill="#480606" d="M401.4 574l-5.9-1.5 6.7-.7 5.9 1.5z"/><path fill="#360600" d="M426.2 576l-5.9-1.7 6.7-.3 6 1.6z"/><path fill="#000" d="M518.8 592.1l-5.9-2.3 6.7 .7 5.9 2.3z"/><path fill="#3c0606" d="M413.8 574.9l-5.9-1.6 6.7-.5 5.9 1.6z"/><path fill="#96240c" d="M246.2 587l-5.9-.9 6.5-3 5.9 .9z"/><path fill="#8a120c" d="M277.1 580.6l-5.9-1 6.6-2.5 5.9 1z"/><path fill="#780c06" d="M320.5 575l-5.9-1.1 6.6-1.8 6 1.1z"/><path fill="#0c0000" d="M506.5 589.4l-5.9-2.2 6.6 .5 5.9 2.2z"/><path fill="#9c3612" d="M227.6 592.4l-5.9-.8 6.5-3.4 5.9 .9z"/><path fill="#000" d="M549.3 600.5l-5.9-2.5 6.6 1 5.9 2.4z"/><path fill="#720c06" d="M332.9 574.4l-6-1.2 6.7-1.6 5.9 1.2z"/><path fill="#48a80c" d="M154.4 621.3l-5.8-.8 6.3-4.8 5.8 .8z"/><path fill="#8a1206" d="M289.4 579.1l-6-1 6.7-2.3 5.9 1z"/><path fill="#120600" d="M494.1 586.9l-5.9-2.1 6.7 .4 5.9 2z"/><path fill="#96180c" d="M258.4 584.9l-5.9-.9 6.5-2.8 5.9 .9z"/><path fill="#9c5a18" d="M209.1 598.6l-5.8-.8 6.4-3.7 5.9 .8z"/><path fill="#96a20c" d="M172.5 613l-5.8-.8 6.4-4.4 5.8 .8z"/><path fill="#6c0c06" d="M345.3 574l-6-1.2 6.7-1.5 5.9 1.2z"/><path fill="#a28418" d="M190.8 605.5l-5.9-.9 6.5-4 5.8 .8z"/><path fill="#1e0600" d="M481.7 584.6l-5.9-2.1 6.7 .3 5.9 2z"/><path fill="#060600" d="M537 597.3l-5.9-2.4 6.6 .8 5.9 2.4z"/><path fill="#6c0c06" d="M357.6 573.9l-5.9-1.4 6.7-1.3 5.9 1.3z"/><path fill="#841206" d="M301.7 577.9l-6-1.1 6.7-2.1 5.9 1.1z"/><path fill="#2a0600" d="M469.3 582.5l-5.9-2 6.7 .1 5.9 2z"/><path fill="#9c2a0c" d="M239.7 590l-5.8-.9 6.5-3.1 5.9 .8z"/><path fill="#660c06" d="M370 573.9l-5.9-1.4 6.7-1.1 5.9 1.4z"/><path fill="#060600" d="M567.4 606.4l-5.9-2.7 6.6 1.1 5.9 2.6z"/><path fill="#90180c" d="M270.6 583.1l-5.9-1 6.6-2.6 5.9 .9z"/><path fill="#300606" d="M456.9 580.6l-5.9-1.8 6.7-.1 5.9 1.9z"/><path fill="#12a80c" d="M148.3 626.1l-5.8-.9 6.3-4.9 5.7 .8z"/><path fill="#600c06" d="M382.4 574.2l-5.9-1.4 6.7-1 6 1.4z"/><path fill="#120600" d="M524.7 594.3l-5.9-2.4 6.6 .7 5.9 2.3z"/><path fill="#3c0606" d="M444.5 579l-5.9-1.8 6.7-.2 5.9 1.8z"/><path fill="#840c06" d="M314 576.9l-5.9-1.1 6.6-2 6 1.1z"/><path fill="#5a0c06" d="M394.9 574.7l-6-1.5 6.7-.8 6 1.5z"/><path fill="#9c4812" d="M221.2 595.8l-5.8-.9 6.5-3.5 5.8 .9z"/><path fill="#420606" d="M432.1 577.6l-5.9-1.7 6.7-.4 5.9 1.7z"/><path fill="#540c06" d="M407.3 575.5l-6-1.6 6.7-.7 6 1.6z"/><path fill="#480606" d="M419.7 576.4l-6-1.7 6.8-.5 5.9 1.7z"/><path fill="#78a80c" d="M166.3 617.5l-5.8-.9 6.3-4.5 5.9 .8z"/><path fill="#a26c18" d="M202.8 602.4l-5.8-.9 6.4-3.9 5.8 .9z"/><path fill="#9c9012" d="M184.5 609.6l-5.8-.9 6.4-4.2 5.8 .8z"/><path fill="#1e0600" d="M512.3 591.5l-5.9-2.3 6.7 .6 5.9 2.2z"/><path fill="#120c00" d="M555.1 602.9l-5.9-2.6 6.6 1 5.9 2.5z"/><path fill="#90120c" d="M282.9 581.5l-5.9-1 6.6-2.5 5.9 1z"/><path fill="#7e0c06" d="M326.4 576.1l-6-1.2 6.7-1.8 5.9 1.2z"/><path fill="#9c240c" d="M251.9 587.8l-5.8-.9 6.5-3 5.9 .9z"/><path fill="#06a80c" d="M142.1 631.1l-5.7-1 6.2-5.1 5.8 .9z"/><path fill="#240c06" d="M500 588.9l-6-2.2 6.7 .4 5.9 2.2z"/><path fill="#780c06" d="M338.7 575.6l-5.9-1.3 6.7-1.6 5.9 1.2z"/><path fill="#9c3612" d="M233.4 593.3l-5.9-1 6.5-3.3 5.9 .9z"/><path fill="#901206" d="M295.2 580.2l-5.9-1.2 6.6-2.3 5.9 1.1z"/><path fill="#181206" d="M542.8 599.6l-5.9-2.5 6.6 .8 5.9 2.5z"/><path fill="#300c06" d="M487.6 586.5l-5.9-2.1 6.6 .3 6 2.1z"/><path fill="#4ea80c" d="M160.1 622.1l-5.8-.9 6.3-4.7 5.8 .8z"/><path fill="#780c06" d="M351.1 575.3l-5.9-1.4 6.6-1.5 6 1.4z"/><path fill="#961e0c" d="M264.2 585.9l-5.9-1.1 6.5-2.8 6 1z"/><path fill="#a25a18" d="M214.9 599.4l-5.9-.9 6.5-3.7 5.9 .9z"/><path fill="#181806" d="M573.2 609l-5.9-2.8 6.6 1.1 5.9 2.7z"/><path fill="#96a20c" d="M178.2 613.9l-5.8-.9 6.4-4.5 5.8 .9z"/><path fill="#360c06" d="M475.2 584.4l-5.9-2 6.7 .1 5.9 2z"/><path fill="#a28418" d="M196.5 606.3l-5.8-.9 6.4-4.1 5.8 .9z"/><path fill="#720c06" d="M363.5 575.2l-5.9-1.4 6.6-1.4 6 1.4z"/><path fill="#00a80c" d="M136 636.3l-5.7-1 6.2-5.3 5.7 .9z"/><path fill="#8a1206" d="M307.5 579l-5.9-1.2 6.6-2.2 5.9 1.2z"/><path fill="#241206" d="M530.5 596.6l-5.9-2.5 6.6 .7 5.9 2.4z"/><path fill="#420c06" d="M462.8 582.5l-5.9-2 6.7-.1 5.9 2z"/><path fill="#6c0c06" d="M375.9 575.3l-5.9-1.5 6.7-1.2 5.9 1.5z"/><path fill="#9c2a0c" d="M245.5 590.9l-5.9-1 6.6-3.2 5.9 1z"/><path fill="#480c06" d="M450.4 580.8l-5.9-1.9 6.7-.2 5.9 1.8z"/><path fill="#660c06" d="M388.3 575.6l-5.9-1.5 6.7-1 5.9 1.5z"/><path fill="#96180c" d="M276.4 584.1l-5.9-1.1 6.6-2.7 5.9 1.1z"/><path fill="#4e0c06" d="M438 579.3l-6-1.8 6.7-.4 6 1.8z"/><path fill="#600c06" d="M400.7 576.2l-5.9-1.6 6.7-.8 5.9 1.5z"/><path fill="#540c06" d="M425.6 578.1l-6-1.8 6.7-.5 6 1.7z"/><path fill="#5a0c06" d="M413.2 577l-6-1.7 6.7-.7 6 1.7z"/><path fill="#241806" d="M560.9 605.4l-5.9-2.6 6.6 .9 5.9 2.6z"/><path fill="#8a1206" d="M319.8 578.1l-5.9-1.3 6.7-2 5.9 1.2z"/><path fill="#18ae0c" d="M153.9 627l-5.7-1 6.2-4.9 5.8 .9z"/><path fill="#2a1206" d="M518.2 593.7l-5.9-2.4 6.6 .6 5.9 2.3z"/><path fill="#a24812" d="M227 596.7l-5.9-1 6.5-3.5 5.9 .9z"/><path fill="#7ea80c" d="M172 618.4l-5.8-1 6.3-4.6 5.9 .9z"/><path fill="#a26c18" d="M208.5 603.2l-5.8-.9 6.4-3.9 5.9 .9z"/><path fill="#840c06" d="M332.2 577.3l-5.9-1.3 6.6-1.8 6 1.3z"/><path fill="#360c06" d="M505.8 591.1l-5.9-2.3 6.7 .3 5.9 2.3z"/><path fill="#96180c" d="M288.7 582.6l-5.9-1.2 6.6-2.5 5.9 1.1z"/><path fill="#a29012" d="M190.2 610.4l-5.8-.9 6.4-4.3 5.8 1z"/><path fill="#9c240c" d="M257.7 588.8l-5.9-1.1 6.6-3 5.9 1z"/><path fill="#2a1806" d="M548.6 602.1l-5.9-2.6 6.7 .8 5.9 2.5z"/><path fill="#7e0c06" d="M344.6 576.9l-6-1.4 6.7-1.7 6 1.4z"/><path fill="#3c0c06" d="M493.4 588.6l-5.9-2.2 6.7 .2 5.9 2.2z"/><path fill="#2a2406" d="M579 611.6l-5.9-2.8 6.6 1 5.8 2.8z"/><path fill="#06ae0c" d="M147.8 632l-5.8-1 6.3-5.1 5.8 .9z"/><path fill="#901206" d="M301 581.2l-5.9-1.2 6.6-2.3 5.9 1.2z"/><path fill="#a23612" d="M239.1 594.2l-5.8-1 6.5-3.4 5.9 1z"/><path fill="#7e0c06" d="M357 576.6l-6-1.4 6.7-1.6 6 1.5z"/><path fill="#420c06" d="M481.1 586.4l-6-2.1 6.7 0 6 2.2z"/><path fill="#301806" d="M536.3 598.9l-5.9-2.5 6.7 .6 5.9 2.5z"/><path fill="#9c1e0c" d="M270 586.9l-5.9-1.1 6.6-2.9 5.9 1.1z"/><path fill="#54ae0c" d="M165.8 623.1l-5.8-1 6.3-4.8 5.8 .9z"/><path fill="#780c06" d="M369.4 576.6l-6-1.5 6.7-1.4 6 1.5z"/><path fill="#4e0c06" d="M468.7 584.4l-6-2 6.7-.1 6 2z"/><path fill="#a25a18" d="M220.6 600.4l-5.8-1.1 6.5-3.7 5.8 1z"/><path fill="#9ca212" d="M183.9 614.8l-5.8-1 6.4-4.5 5.8 1z"/><path fill="#a28418" d="M202.2 607.2l-5.8-1 6.4-4.1 5.9 1z"/><path fill="#720c06" d="M381.8 576.7l-6-1.5 6.7-1.2 6 1.5z"/><path fill="#901206" d="M313.3 580.1l-5.9-1.2 6.7-2.2 5.9 1.2z"/><path fill="#302a06" d="M566.7 608l-5.9-2.7 6.7 .9 5.8 2.7z"/><path fill="#540c06" d="M456.3 582.6l-6-1.9 6.7-.3 6 2z"/><path fill="#3c1806" d="M524 596l-5.9-2.4 6.7 .4 5.9 2.5z"/><path fill="#720c06" d="M394.2 577.2l-6-1.7 6.7-1 6 1.6z"/><path fill="#5a0c06" d="M443.9 581.1l-6-1.9 6.7-.4 6 1.9z"/><path fill="#00ae0c" d="M141.7 637.3l-5.8-1.1 6.2-5.4 5.8 1.1z"/><path fill="#6c0c06" d="M406.6 577.8l-6-1.7 6.8-.9 5.9 1.7z"/><path fill="#600c06" d="M431.4 579.8l-5.9-1.9 6.7-.5 5.9 1.8z"/><path fill="#660c06" d="M419 578.7l-5.9-1.8 6.7-.7 5.9 1.7z"/><path fill="#a22a0c" d="M251.3 591.9l-5.9-1.1 6.6-3.2 5.9 1.1z"/><path fill="#9c180c" d="M282.2 585.2l-5.9-1.2 6.6-2.7 5.9 1.1z"/><path fill="#8a1206" d="M325.7 579.3l-6-1.4 6.7-2 5.9 1.3z"/><path fill="#421206" d="M511.7 593.3l-6-2.4 6.7 .4 5.9 2.3z"/><path fill="#362406" d="M554.4 604.6l-5.8-2.7 6.6 .8 5.9 2.6z"/><path fill="#1eae0c" d="M159.6 627.9l-5.8-1 6.3-5 5.8 1z"/><path fill="#a24812" d="M232.8 597.7l-5.9-1.1 6.5-3.6 5.9 1.1z"/><path fill="#363606" d="M584.7 614.4l-5.8-2.9 6.6 1 5.8 2.9z"/><path fill="#8a1206" d="M338 578.6l-5.9-1.4 6.7-1.8 5.9 1.3z"/><path fill="#96180c" d="M294.5 583.7l-5.9-1.2 6.6-2.6 6 1.2z"/><path fill="#7ea80c" d="M177.7 619.3l-5.8-1 6.4-4.7 5.8 1z"/><path fill="#481206" d="M499.3 590.8l-5.9-2.3 6.7 .2 5.9 2.3z"/><path fill="#a86c18" d="M214.3 604.2l-5.9-1.1 6.5-3.9 5.9 1z"/><path fill="#a2240c" d="M263.5 589.8l-5.9-1.1 6.6-3.1 5.9 1.1z"/><path fill="#a29618" d="M195.9 611.4l-5.8-1 6.4-4.3 5.9 1z"/><path fill="#840c06" d="M350.4 578.2l-5.9-1.5 6.7-1.7 5.9 1.5z"/><path fill="#422406" d="M542.1 601.4l-5.8-2.6 6.6 .6 5.9 2.6z"/><path fill="#4e1206" d="M486.9 588.5l-5.9-2.2 6.7 0 5.9 2.2z"/><path fill="#840c06" d="M362.8 578l-5.9-1.5 6.7-1.6 5.9 1.5z"/><path fill="#96120c" d="M306.8 582.4l-5.9-1.3 6.6-2.3 6 1.2z"/><path fill="#06ae0c" d="M153.5 633l-5.8-1.1 6.3-5.2 5.7 1.1z"/><path fill="#3c3606" d="M572.5 610.7l-5.9-2.8 6.6 .8 5.9 2.9z"/><path fill="#540c06" d="M474.5 586.4l-5.9-2.1 6.7-.1 5.9 2.1z"/><path fill="#a23612" d="M244.9 595.2l-5.9-1.1 6.6-3.4 5.9 1.1z"/><path fill="#7e0c06" d="M375.2 578l-5.9-1.6 6.7-1.3 5.9 1.5z"/><path fill="#a21e0c" d="M275.8 588l-5.9-1.2 6.6-2.9 5.9 1.1z"/><path fill="#481e06" d="M529.8 598.4l-5.9-2.5 6.7 .4 5.9 2.5z"/><path fill="#5a0c06" d="M462.1 584.6l-5.9-2.1 6.7-.2 5.9 2z"/><path fill="#780c06" d="M387.6 578.3l-5.9-1.7 6.7-1.2 5.9 1.6z"/><path fill="#5aae0c" d="M171.5 624.1l-5.8-1.1 6.3-4.9 5.8 1.1z"/><path fill="#a85a18" d="M226.4 601.4l-5.9-1.1 6.5-3.8 5.9 1.1z"/><path fill="#600c06" d="M449.7 583l-5.9-2 6.7-.4 5.9 1.9z"/><path fill="#961206" d="M319.2 581.4l-6-1.4 6.7-2.2 5.9 1.3z"/><path fill="#780c06" d="M400 578.8l-5.9-1.8 6.7-1 6 1.7z"/><path fill="#660c06" d="M437.3 581.6l-5.9-2 6.7-.5 5.9 1.9z"/><path fill="#720c06" d="M412.5 579.5l-6-1.8 6.7-.9 6 1.8z"/><path fill="#6c0c06" d="M424.9 580.4l-6-1.8 6.7-.8 6 1.9z"/><path fill="#9ca212" d="M189.7 615.8l-5.9-1.1 6.4-4.5 5.9 1.1z"/><path fill="#a88418" d="M208 608.2l-5.9-1.1 6.5-4.1 5.8 1z"/><path fill="#42300c" d="M560.2 607.2l-5.8-2.7 6.6 .7 5.9 2.7z"/><path fill="#4e1806" d="M517.5 595.6l-5.9-2.4 6.6 .3 6 2.4z"/><path fill="#3c4206" d="M590.5 617.3l-5.8-3 6.6 .9 5.8 3z"/><path fill="#00ae0c" d="M147.3 638.3l-5.7-1.1 6.2-5.4 5.8 1.1z"/><path fill="#a22a0c" d="M257.1 593l-5.9-1.2 6.6-3.2 5.9 1.1z"/><path fill="#9c180c" d="M288 586.3l-5.9-1.2 6.6-2.8 6 1.3z"/><path fill="#901206" d="M331.5 580.6l-5.9-1.4 6.7-2.1 5.9 1.4z"/><path fill="#541806" d="M505.1 593.1l-5.9-2.4 6.7 .1 5.9 2.4z"/><path fill="#901206" d="M343.9 580l-5.9-1.5 6.6-1.9 6 1.5z"/><path fill="#4e300c" d="M548 604l-5.9-2.7 6.6 .5 5.9 2.7z"/><path fill="#1eae0c" d="M165.3 629l-5.8-1.1 6.3-5.1 5.8 1.1z"/><path fill="#a84812" d="M238.5 598.8l-5.9-1.2 6.6-3.6 5.8 1.1z"/><path fill="#9c180c" d="M300.3 584.9l-5.9-1.3 6.7-2.6 5.9 1.3z"/><path fill="#5a1206" d="M492.8 590.7l-6-2.3 6.7 0 5.9 2.3z"/><path fill="#484206" d="M578.3 613.5l-5.9-2.9 6.6 .8 5.9 2.9z"/><path fill="#a87218" d="M220 605.2l-5.8-1.1 6.5-4 5.8 1.1z"/><path fill="#a2240c" d="M269.3 591l-5.9-1.3 6.6-3.1 5.9 1.2z"/><path fill="#84ae0c" d="M183.4 620.4l-5.8-1.2 6.4-4.7 5.8 1.1z"/><path fill="#8a1206" d="M356.3 579.6l-6-1.5 6.7-1.7 6 1.5z"/><path fill="#a29618" d="M201.7 612.4l-5.9-1.1 6.5-4.3 5.8 1.1z"/><path fill="#601206" d="M480.4 588.6l-6-2.3 6.7-.1 6 2.2z"/><path fill="#542a0c" d="M535.6 600.9l-5.9-2.6 6.7 .4 5.9 2.6z"/><path fill="#8a1206" d="M368.7 579.5l-6-1.6 6.7-1.6 6 1.6z"/><path fill="#9c120c" d="M312.7 583.7l-6-1.4 6.7-2.4 5.9 1.4z"/><path fill="#661206" d="M468 586.7l-6-2.2 6.7-.3 6 2.1z"/><path fill="#840c06" d="M381.1 579.6l-6-1.7 6.7-1.4 6 1.7z"/><path fill="#a83612" d="M250.7 596.3l-5.9-1.2 6.6-3.4 5.8 1.2z"/><path fill="#06ae0c" d="M159.1 634.1l-5.7-1.1 6.2-5.3 5.8 1.1z"/><path fill="#6c1206" d="M455.6 585l-6-2.1 6.7-.5 6 2.1z"/><path fill="#4e420c" d="M566 610l-5.8-2.9 6.6 .7 5.9 2.8z"/><path fill="#424e06" d="M596.3 620.2l-5.9-3.1 6.6 1 5.8 3z"/><path fill="#840c06" d="M393.5 579.9l-6-1.7 6.7-1.3 6 1.8z"/><path fill="#a21e0c" d="M281.6 589.2l-5.9-1.3 6.6-3 5.9 1.3z"/><path fill="#720c06" d="M443.2 583.5l-6-2 6.7-.6 6 2z"/><path fill="#5a240c" d="M523.3 598l-5.9-2.5 6.7 .3 5.9 2.5z"/><path fill="#7e0c06" d="M405.9 580.5l-5.9-1.9 6.7-1 5.9 1.8z"/><path fill="#780c06" d="M430.7 582.3l-5.9-2 6.7-.8 6 2zM418.3 581.3l-5.9-1.9 6.7-1 5.9 1.9z"/><path fill="#961206" d="M325 582.7l-5.9-1.4 6.6-2.3 6 1.5z"/><path fill="#a86018" d="M232.2 602.5l-5.9-1.2 6.5-3.8 5.9 1.1z"/><path fill="#5aae0c" d="M177.2 625.2l-5.8-1.2 6.3-4.9 5.8 1.1z"/><path fill="#a88418" d="M213.7 609.3l-5.8-1.2 6.4-4.1 5.9 1.1z"/><path fill="#9ca212" d="M195.4 616.9l-5.8-1.2 6.4-4.5 5.8 1.1z"/><path fill="#601e06" d="M511 595.4l-5.9-2.5 6.6 .2 5.9 2.4z"/><path fill="#543c0c" d="M553.8 606.6l-5.9-2.8 6.6 .6 5.9 2.8z"/><path fill="#961206" d="M337.4 582l-6-1.5 6.7-2.1 5.9 1.5z"/><path fill="#a2180c" d="M293.9 587.6l-5.9-1.4 6.6-2.7 5.9 1.3z"/><path fill="#a82a12" d="M262.9 594.2l-5.9-1.3 6.6-3.3 5.9 1.2z"/><path fill="#00ae0c" d="M153 639.5l-5.8-1.3 6.3-5.4 5.8 1.2z"/><path fill="#4e4e06" d="M584.1 616.4l-5.9-3 6.6 .8 5.9 3z"/><path fill="#661806" d="M498.6 593l-5.9-2.4 6.7 0 5.9 2.4z"/><path fill="#961206" d="M349.7 581.5l-5.9-1.6 6.7-1.9 5.9 1.5z"/><path fill="#a84812" d="M244.3 599.9l-5.9-1.2 6.5-3.7 5.9 1.2z"/><path fill="#5a360c" d="M541.5 603.5l-5.9-2.7 6.6 .4 5.9 2.7z"/><path fill="#a2180c" d="M306.2 586.2l-6-1.4 6.7-2.6 5.9 1.4z"/><path fill="#1eb40c" d="M171 630.1l-5.8-1.2 6.3-5.1 5.8 1.2z"/><path fill="#6c1206" d="M486.2 590.8l-5.9-2.4 6.7-.1 5.9 2.3z"/><path fill="#901206" d="M362.1 581.2l-5.9-1.7 6.7-1.7 5.9 1.6z"/><path fill="#a8240c" d="M275.1 592.2l-5.9-1.3 6.6-3.2 5.9 1.3z"/><path fill="#425a06" d="M602 623.3l-5.8-3.2 6.6 .9 5.8 3.2z"/><path fill="#a87218" d="M225.8 606.4l-5.9-1.3 6.5-4 5.9 1.2z"/><path fill="#84ae0c" d="M189.1 621.5l-5.8-1.2 6.4-4.8 5.8 1.2z"/><path fill="#6c1206" d="M473.8 588.8l-5.9-2.3 6.7-.3 5.9 2.3z"/><path fill="#5a4e0c" d="M571.8 612.8l-5.8-3 6.6 .7 5.8 2.9z"/><path fill="#901206" d="M374.5 581.1l-5.9-1.7 6.7-1.6 5.9 1.7z"/><path fill="#a89618" d="M207.4 613.6l-5.8-1.2 6.4-4.4 5.8 1.2z"/><path fill="#721206" d="M461.4 587l-5.9-2.2 6.7-.4 5.9 2.2z"/><path fill="#602a0c" d="M529.1 600.6l-5.9-2.7 6.7 .3 5.9 2.6z"/><path fill="#9c180c" d="M318.5 585.1l-5.9-1.5 6.6-2.4 5.9 1.4z"/><path fill="#8a1206" d="M386.9 581.3l-5.9-1.8 6.7-1.4 5.9 1.7z"/><path fill="#781206" d="M449 585.5l-5.9-2.1 6.7-.6 5.9 2.1z"/><path fill="#8a1206" d="M399.3 581.6l-5.9-1.8 6.7-1.3 5.9 1.9z"/><path fill="#7e1206" d="M436.6 584.2l-5.9-2.1 6.7-.7 5.9 2z"/><path fill="#841206" d="M411.8 582.3l-6-2 6.7-1 6 1.8z"/><path fill="#a83c12" d="M256.5 597.5l-5.9-1.2 6.5-3.5 5.9 1.2z"/><path fill="#7e0c06" d="M424.2 583.1l-6-2 6.7-.9 6 2z"/><path fill="#a81e0c" d="M287.4 590.4l-5.9-1.3 6.6-3 5.9 1.3z"/><path fill="#06b40c" d="M164.8 635.3l-5.8-1.2 6.3-5.3 5.8 1.2z"/><path fill="#60480c" d="M559.5 609.4l-5.8-2.9 6.6 .5 5.9 2.9z"/><path fill="#9c120c" d="M330.8 584.2l-5.9-1.6 6.7-2.3 5.9 1.6z"/><path fill="#66240c" d="M516.8 597.9l-5.9-2.6 6.7 .1 5.9 2.6z"/><path fill="#545a06" d="M589.8 619.4l-5.8-3.1 6.6 .7 5.8 3.1z"/><path fill="#ae6018" d="M237.9 603.6l-5.9-1.2 6.6-3.9 5.8 1.3z"/><path fill="#60b40c" d="M182.9 626.3l-5.8-1.2 6.3-5 5.9 1.2z"/><path fill="#9c1206" d="M343.2 583.5l-5.9-1.6 6.6-2.1 6 1.5z"/><path fill="#a88418" d="M219.5 610.5l-5.9-1.3 6.5-4.2 5.8 1.2z"/><path fill="#6c1e0c" d="M504.4 595.4l-5.9-2.6 6.7 0 5.9 2.5z"/><path fill="#a2a812" d="M201.1 618l-5.8-1.2 6.4-4.6 5.8 1.2z"/><path fill="#a2180c" d="M299.7 588.9l-5.9-1.4 6.6-2.8 5.9 1.4z"/><path fill="#a83012" d="M268.7 595.4l-5.9-1.3 6.6-3.4 5.9 1.4z"/><path fill="#663c0c" d="M547.3 606.2l-5.9-2.9 6.6 .4 5.9 2.8z"/><path fill="#3c6006" d="M607.7 626.4l-5.8-3.3 6.6 .9 5.8 3.3z"/><path fill="#00ae0c" d="M158.7 640.7l-5.8-1.3 6.3-5.5 5.7 1.3z"/><path fill="#961206" d="M355.6 583l-6-1.7 6.7-1.9 6 1.6z"/><path fill="#72180c" d="M492 593.1l-5.9-2.5 6.7-.1 5.9 2.4z"/><path fill="#605a0c" d="M577.6 615.7l-5.9-3.1 6.7 .7 5.8 3z"/><path fill="#961206" d="M368 582.8l-6-1.8 6.7-1.7 6 1.7z"/><path fill="#a2180c" d="M312 587.6l-5.9-1.5 6.6-2.6 5.9 1.4z"/><path fill="#78180c" d="M479.7 591l-6-2.3 6.7-.4 6 2.4z"/><path fill="#ae4e12" d="M250.1 601.1l-5.9-1.3 6.5-3.7 5.9 1.3z"/><path fill="#6c360c" d="M534.9 603.2l-5.9-2.8 6.7 .3 5.9 2.7z"/><path fill="#24b40c" d="M176.7 631.4l-5.8-1.3 6.3-5.2 5.8 1.3z"/><path fill="#a8240c" d="M280.9 593.5l-5.9-1.4 6.6-3.2 5.9 1.4z"/><path fill="#901206" d="M380.4 582.8l-6-1.8 6.7-1.6 6 1.7z"/><path fill="#781206" d="M467.3 589.2l-6-2.3 6.7-.5 6 2.3z"/><path fill="#ae7218" d="M231.6 607.6l-5.9-1.3 6.5-4.1 5.9 1.3z"/><path fill="#901206" d="M392.8 583l-6-1.9 6.7-1.4 6 1.8z"/><path fill="#8aae0c" d="M194.9 622.7l-5.9-1.3 6.4-4.8 5.8 1.3z"/><path fill="#7e1206" d="M454.9 587.6l-6-2.2 6.7-.7 6 2.2z"/><path fill="#a89618" d="M213.1 614.8l-5.8-1.3 6.4-4.4 5.9 1.2z"/><path fill="#546606" d="M595.6 622.5l-5.9-3.3 6.6 .8 5.9 3.2z"/><path fill="#665412" d="M565.3 612.2l-5.8-3 6.6 .5 5.9 3z"/><path fill="#a2180c" d="M324.3 586.5l-5.9-1.5 6.6-2.5 6 1.5z"/><path fill="#901206" d="M405.2 583.5l-6-2 6.8-1.3 5.9 2z"/><path fill="#841206" d="M442.4 586.2l-5.9-2.1 6.7-.8 6 2.1z"/><path fill="#8a1206" d="M417.6 584.2l-5.9-2.1 6.7-1.1 5.9 2z"/><path fill="#841206" d="M430 585.1l-5.9-2.1 6.7-1 5.9 2.1z"/><path fill="#6c2a0c" d="M522.6 600.4l-5.9-2.7 6.7 .1 5.9 2.7z"/><path fill="#ae3c12" d="M262.3 598.8l-5.9-1.4 6.5-3.5 5.9 1.4z"/><path fill="#a81e0c" d="M293.2 591.8l-5.9-1.5 6.6-3 5.9 1.5z"/><path fill="#a2120c" d="M336.7 585.7l-6-1.7 6.7-2.3 5.9 1.6z"/><path fill="#06b40c" d="M170.5 636.6l-5.8-1.4 6.3-5.3 5.8 1.3z"/><path fill="#72240c" d="M510.2 597.8l-5.9-2.6 6.7 0 5.9 2.6z"/><path fill="#306c06" d="M613.5 629.7l-5.8-3.4 6.5 .8 5.8 3.4z"/><path fill="#6c4812" d="M553 609l-5.8-3 6.6 .4 5.9 2.9z"/><path fill="#ae6018" d="M243.7 604.9l-5.9-1.4 6.5-3.8 5.9 1.3z"/><path fill="#66600c" d="M583.3 618.7l-5.8-3.1 6.6 .6 5.9 3.1z"/><path fill="#9c1206" d="M349 585l-5.9-1.7 6.7-2.1 5.9 1.7z"/><path fill="#60b40c" d="M188.6 627.6l-5.8-1.4 6.4-4.9 5.8 1.3z"/><path fill="#781e0c" d="M497.9 595.5l-5.9-2.6 6.7-.1 5.9 2.5z"/><path fill="#a81e0c" d="M305.5 590.3l-5.9-1.5 6.6-2.8 5.9 1.5z"/><path fill="#ae8a18" d="M225.2 611.7l-5.8-1.3 6.4-4.3 5.9 1.3z"/><path fill="#a2a812" d="M206.9 619.3l-5.9-1.3 6.4-4.7 5.9 1.3z"/><path fill="#ae3012" d="M274.5 596.8l-5.9-1.5 6.6-3.3 5.9 1.4z"/><path fill="#9c1206" d="M361.4 584.6l-5.9-1.7 6.7-2 5.9 1.8z"/><path fill="#724212" d="M540.7 605.9l-5.8-2.9 6.6 .3 5.9 2.8z"/><path fill="#7e180c" d="M485.5 593.4l-5.9-2.5 6.7-.4 5.9 2.5z"/><path fill="#00b40c" d="M164.4 642.1l-5.8-1.5 6.2-5.5 5.8 1.3z"/><path fill="#9c1206" d="M373.8 584.5l-5.9-1.8 6.7-1.8 5.9 1.8z"/><path fill="#4e6c06" d="M601.3 625.6l-5.8-3.3 6.6 .7 5.8 3.3z"/><path fill="#84180c" d="M473.1 591.5l-5.9-2.4 6.7-.5 5.9 2.3z"/><path fill="#a8180c" d="M317.8 589.1l-5.9-1.6 6.6-2.7 6 1.6z"/><path fill="#6c6012" d="M571.1 615.2l-5.9-3.1 6.7 .5 5.8 3z"/><path fill="#ae4e12" d="M255.9 602.5l-5.9-1.5 6.5-3.7 5.9 1.4z"/><path fill="#961206" d="M386.2 584.6l-5.9-1.9 6.7-1.7 5.9 1.9z"/><path fill="#84120c" d="M460.7 589.8l-5.9-2.3 6.7-.7 5.9 2.3z"/><path fill="#78360c" d="M528.4 603l-5.9-2.7 6.7 0 5.9 2.8z"/><path fill="#ae2a0c" d="M286.7 594.9l-5.9-1.5 6.6-3.2 5.9 1.5z"/><path fill="#961206" d="M398.6 584.8l-5.9-1.9 6.7-1.5 5.9 2z"/><path fill="#1eb40c" d="M182.4 632.7l-5.8-1.4 6.3-5.2 5.8 1.3z"/><path fill="#8a1206" d="M448.3 588.3l-5.9-2.2 6.7-.8 5.9 2.2z"/><path fill="#901206" d="M411 585.4l-5.9-2.1 6.7-1.3 6 2z"/><path fill="#8a1206" d="M435.9 587.1l-6-2.2 6.8-.9 5.9 2.1z"/><path fill="#901206" d="M423.5 586.1l-6-2.1 6.7-1.1 6 2.1z"/><path fill="#ae7818" d="M237.3 608.9l-5.8-1.4 6.4-4.1 5.9 1.4z"/><path fill="#a8180c" d="M330.2 588.1l-6-1.7 6.7-2.5 5.9 1.6z"/><path fill="#8aae0c" d="M200.6 624l-5.9-1.4 6.4-4.8 5.9 1.4z"/><path fill="#a89c18" d="M218.9 616.1l-5.9-1.4 6.5-4.5 5.8 1.4z"/><path fill="#725412" d="M558.8 611.8l-5.8-3 6.6 .3 5.9 3z"/><path fill="#782a0c" d="M516.1 600.4l-5.9-2.7 6.7-.1 5.9 2.7z"/><path fill="#666c0c" d="M589.1 621.8l-5.8-3.2 6.6 .6 5.8 3.2z"/><path fill="#ae3c12" d="M268.1 600.2l-5.9-1.5 6.5-3.5 5.9 1.4z"/><path fill="#ae1e0c" d="M299 593.3l-5.9-1.6 6.6-3 5.9 1.5z"/><path fill="#a2180c" d="M342.5 587.3l-5.9-1.7 6.6-2.4 6 1.7z"/><path fill="#7e240c" d="M503.7 598l-5.9-2.6 6.7-.3 5.9 2.6z"/><path fill="#06b40c" d="M176.2 638l-5.8-1.5 6.3-5.4 5.8 1.4z"/><path fill="#a2120c" d="M354.9 586.7l-6-1.8 6.7-2.1 6 1.7z"/><path fill="#784812" d="M546.5 608.7l-5.8-3 6.6 .2 5.9 3z"/><path fill="#ae6618" d="M249.5 606.3l-5.9-1.5 6.5-3.9 5.9 1.4z"/><path fill="#427206" d="M607 628.9l-5.8-3.4 6.6 .7 5.8 3.4z"/><path fill="#841e0c" d="M491.3 595.8l-5.9-2.6 6.7-.3 5.9 2.5z"/><path fill="#a81e0c" d="M311.3 591.8l-5.9-1.6 6.6-2.8 6 1.6z"/><path fill="#60b40c" d="M194.3 628.9l-5.8-1.4 6.4-5 5.8 1.4z"/><path fill="#72660c" d="M576.9 618.2l-5.9-3.2 6.7 .5 5.8 3.1z"/><path fill="#a2120c" d="M367.3 586.4l-6-1.9 6.7-2 6 1.9z"/><path fill="#ae8a18" d="M231 613.1l-5.9-1.5 6.5-4.2 5.9 1.4z"/><path fill="#ae3012" d="M280.3 598.2l-5.9-1.5 6.6-3.4 5.9 1.5z"/><path fill="#a2a812" d="M212.6 620.7l-5.9-1.5 6.5-4.6 5.8 1.3z"/><path fill="#8a180c" d="M478.9 593.8l-5.9-2.5 6.7-.5 5.9 2.5z"/><path fill="#9c1206" d="M379.7 586.3l-6-1.9 6.7-1.9 6 1.9z"/><path fill="#7e4212" d="M534.2 605.8l-5.9-2.9 6.7 0 5.9 2.9z"/><path fill="#8a180c" d="M466.5 592.1l-5.9-2.4 6.7-.7 5.9 2.4z"/><path fill="#a8180c" d="M323.6 590.7l-5.9-1.7 6.7-2.7 5.9 1.6z"/><path fill="#9c1206" d="M392.1 586.4l-6-2 6.7-1.6 6 1.9z"/><path fill="#00b40c" d="M170 643.5l-5.8-1.5 6.3-5.6 5.8 1.4z"/><path fill="#90180c" d="M454.1 590.6l-5.9-2.4 6.7-.8 5.9 2.3z"/><path fill="#9c1206" d="M404.5 586.8l-6-2.1 6.7-1.5 6 2.1z"/><path fill="#ae5412" d="M261.6 603.9l-5.8-1.5 6.5-3.8 5.9 1.5z"/><path fill="#90120c" d="M441.7 589.3l-5.9-2.3 6.7-1 5.9 2.2z"/><path fill="#961206" d="M416.9 587.4l-6-2.1 6.8-1.4 5.9 2.1z"/><path fill="#607806" d="M594.8 625l-5.8-3.3 6.6 .5 5.8 3.4z"/><path fill="#786012" d="M564.6 614.8l-5.9-3.1 6.7 .3 5.8 3.1z"/><path fill="#96120c" d="M429.3 588.2l-5.9-2.2 6.7-1.2 5.9 2.2z"/><path fill="#ae2a12" d="M292.5 596.4l-5.9-1.6 6.6-3.2 6 1.5z"/><path fill="#7e360c" d="M521.9 603.1l-5.9-2.8 6.7-.1 5.9 2.7z"/><path fill="#1eb40c" d="M188.1 634.1l-5.8-1.5 6.3-5.2 5.9 1.4z"/><path fill="#a8180c" d="M336 589.7l-5.9-1.7 6.6-2.6 6 1.7z"/><path fill="#ae7818" d="M243.1 610.3l-5.9-1.5 6.5-4.1 5.9 1.4z"/><path fill="#84b40c" d="M206.3 625.4l-5.8-1.5 6.4-4.8 5.8 1.4z"/><path fill="#a89c18" d="M224.6 617.5l-5.8-1.5 6.4-4.5 5.9 1.4z"/><path fill="#842a0c" d="M509.5 600.6l-5.9-2.7 6.7-.3 5.9 2.7z"/><path fill="#a8180c" d="M348.3 589l-5.9-1.8 6.7-2.4 5.9 1.8z"/><path fill="#7e5412" d="M552.3 611.6l-5.9-3 6.7 .1 5.9 3z"/><path fill="#ae240c" d="M304.8 594.8l-5.9-1.6 6.6-3.1 6 1.6z"/><path fill="#ae4212" d="M273.9 601.7l-5.9-1.6 6.5-3.6 5.9 1.5z"/><path fill="#72720c" d="M582.6 621.4l-5.8-3.3 6.6 .4 5.8 3.3z"/><path fill="#8a240c" d="M497.1 598.3l-5.9-2.6 6.7-.4 5.9 2.6z"/><path fill="#a8180c" d="M360.7 588.5l-5.9-1.9 6.7-2.2 5.9 1.9z"/><path fill="#06b40c" d="M181.9 639.4l-5.8-1.5 6.3-5.5 5.8 1.5z"/><path fill="#b46618" d="M255.2 607.7l-5.8-1.5 6.5-4 5.9 1.5z"/><path fill="#8a1e0c" d="M484.8 596.3l-6-2.6 6.8-.6 5.9 2.6z"/><path fill="#844e12" d="M540 608.6l-5.9-3 6.7 .1 5.9 2.9z"/><path fill="#ae1e0c" d="M317.1 593.5l-5.9-1.8 6.7-2.9 5.9 1.7z"/><path fill="#a2120c" d="M373.1 588.2l-5.9-1.9 6.7-2.1 5.9 2z"/><path fill="#5ab40c" d="M200 630.4l-5.8-1.5 6.4-5.1 5.8 1.5z"/><path fill="#547e0c" d="M600.5 628.4l-5.8-3.5 6.7 .5 5.8 3.4z"/><path fill="#ae3612" d="M286.1 599.7l-5.9-1.6 6.6-3.4 5.9 1.5z"/><path fill="#90180c" d="M472.4 594.5l-6-2.6 6.8-.7 5.9 2.5z"/><path fill="#ae9018" d="M236.7 614.5l-5.8-1.5 6.4-4.3 5.9 1.5z"/><path fill="#a2120c" d="M385.5 588.2l-5.9-2 6.7-1.9 5.9 2z"/><path fill="#7e6c12" d="M570.3 617.9l-5.8-3.2 6.7 .2 5.8 3.2z"/><path fill="#a2ae12" d="M218.3 622.1l-5.8-1.5 6.4-4.7 5.9 1.4z"/><path fill="#96180c" d="M460 592.9l-6-2.5 6.8-.8 5.9 2.4z"/><path fill="#a2120c" d="M397.9 588.4l-5.9-2.1 6.7-1.7 5.9 2.1z"/><path fill="#844212" d="M527.7 605.8l-5.9-2.9 6.7-.1 5.9 2.9z"/><path fill="#ae1e0c" d="M329.5 592.3l-6-1.7 6.7-2.8 5.9 1.8z"/><path fill="#96180c" d="M447.5 591.5l-5.9-2.4 6.7-1 6 2.4z"/><path fill="#9c120c" d="M410.3 588.8l-5.9-2.1 6.7-1.6 5.9 2.2z"/><path fill="#96180c" d="M435.1 590.4l-5.9-2.3 6.7-1.2 6 2.3z"/><path fill="#9c180c" d="M422.7 589.5l-5.9-2.2 6.7-1.4 5.9 2.2z"/><path fill="#00b40c" d="M175.7 645l-5.8-1.6 6.3-5.7 5.8 1.6z"/><path fill="#b45418" d="M267.4 605.4l-5.9-1.6 6.6-3.8 5.9 1.5z"/><path fill="#ae2a12" d="M298.4 598l-6-1.7 6.7-3.3 5.9 1.7z"/><path fill="#8a360c" d="M515.3 603.3l-5.9-2.9 6.7-.2 5.9 2.8z"/><path fill="#846012" d="M558.1 614.6l-5.9-3.1 6.7 .1 5.8 3.1z"/><path fill="#ae180c" d="M341.8 591.4l-5.9-1.8 6.7-2.6 5.9 1.9z"/><path fill="#727e0c" d="M588.3 624.6l-5.8-3.4 6.7 .4 5.8 3.4z"/><path fill="#18b40c" d="M193.8 635.6l-5.8-1.6 6.3-5.3 5.9 1.5z"/><path fill="#b47e18" d="M248.9 611.8l-5.9-1.6 6.5-4.2 5.9 1.6z"/><path fill="#902a0c" d="M503 600.9l-5.9-2.7 6.7-.4 5.9 2.7z"/><path fill="#84b40c" d="M212 626.9l-5.8-1.6 6.4-4.9 5.9 1.5z"/><path fill="#ae9c18" d="M230.4 619l-5.9-1.6 6.5-4.5 5.9 1.5z"/><path fill="#a8180c" d="M354.2 590.8l-6-1.9 6.7-2.4 6 1.9z"/><path fill="#ae240c" d="M310.6 596.4l-5.9-1.7 6.7-3.1 5.9 1.7z"/><path fill="#b44812" d="M279.6 603.2l-5.9-1.6 6.6-3.7 5.9 1.7z"/><path fill="#845a12" d="M545.8 611.5l-5.9-3 6.7 0 5.9 3z"/><path fill="#90240c" d="M490.6 598.8l-5.9-2.7 6.7-.5 5.9 2.6z"/><path fill="#a8180c" d="M366.5 590.3l-5.9-1.9 6.7-2.2 5.9 1.9z"/><path fill="#7e7812" d="M576.1 621.1l-5.8-3.4 6.6 .3 5.8 3.3z"/><path fill="#961e0c" d="M478.2 597l-5.9-2.7 6.7-.7 5.9 2.6z"/><path fill="#a8180c" d="M378.9 590.2l-5.9-2.1 6.7-2 5.9 2z"/><path fill="#ae1e0c" d="M323 595.2l-6-1.9 6.7-2.9 5.9 1.8z"/><path fill="#b46c18" d="M261 609.3l-5.9-1.7 6.6-4 5.9 1.6z"/><path fill="#06b40c" d="M187.6 641l-5.8-1.7 6.3-5.5 5.8 1.6z"/><path fill="#8a4e12" d="M533.5 608.7l-5.9-3 6.7-.2 5.8 3z"/><path fill="#961e0c" d="M465.8 595.3l-5.9-2.6 6.7-.9 5.9 2.6z"/><path fill="#a8180c" d="M391.3 590.2l-5.9-2.1 6.7-1.9 5.9 2.1z"/><path fill="#b43612" d="M291.9 601.3l-5.9-1.7 6.6-3.5 5.9 1.7z"/><path fill="#a2180c" d="M403.7 590.5l-5.9-2.2 6.7-1.7 6 2.1z"/><path fill="#9c180c" d="M453.4 593.9l-5.9-2.5 6.7-1.1 5.9 2.5z"/><path fill="#b49018" d="M242.5 616.1l-5.9-1.7 6.5-4.3 5.9 1.6z"/><path fill="#5aba0c" d="M205.8 631.9l-5.9-1.6 6.4-5.1 5.9 1.6z"/><path fill="#a2180c" d="M416.1 591l-5.9-2.3 6.7-1.5 6 2.2z"/><path fill="#9c180c" d="M441 592.7l-6-2.4 6.8-1.3 5.9 2.4z"/><path fill="#a2180c" d="M428.6 591.7l-6-2.3 6.8-1.4 5.9 2.3z"/><path fill="#a2ae12" d="M224.1 623.6l-5.9-1.6 6.5-4.7 5.8 1.5z"/><path fill="#6c840c" d="M594.1 627.9l-5.8-3.5 6.6 .4 5.8 3.5z"/><path fill="#847212" d="M563.8 617.7l-5.8-3.2 6.7 .1 5.8 3.2z"/><path fill="#ae1e0c" d="M335.3 594.1l-5.9-1.9 6.6-2.7 6 1.8z"/><path fill="#903c12" d="M521.1 606.1l-5.9-3 6.7-.3 5.9 2.9z"/><path fill="#b45a18" d="M273.2 607l-5.9-1.7 6.6-3.9 5.9 1.7z"/><path fill="#00b40c" d="M181.4 646.6l-5.8-1.7 6.3-5.7 5.8 1.6z"/><path fill="#b43012" d="M304.2 599.6l-5.9-1.7 6.6-3.3 5.9 1.7z"/><path fill="#ae1e0c" d="M347.6 593.3l-5.9-2 6.7-2.6 5.9 2z"/><path fill="#90300c" d="M508.8 603.7l-5.9-2.9 6.7-.4 5.9 2.8z"/><path fill="#8a6612" d="M551.5 614.6l-5.8-3.2 6.7 0 5.8 3.1z"/><path fill="#b47e18" d="M254.6 613.4l-5.8-1.7 6.5-4.2 5.8 1.6z"/><path fill="#7e840c" d="M581.8 624.3l-5.8-3.4 6.7 .2 5.8 3.4z"/><path fill="#18ba0c" d="M199.5 637.2l-5.8-1.7 6.4-5.3 5.8 1.6z"/><path fill="#ae180c" d="M360 592.7l-5.9-2 6.7-2.5 5.9 2z"/><path fill="#962a0c" d="M496.4 601.5l-5.9-2.8 6.7-.6 5.9 2.8z"/><path fill="#aea218" d="M236.1 620.6l-5.8-1.7 6.5-4.6 5.8 1.6z"/><path fill="#84b40c" d="M217.8 628.5l-5.9-1.7 6.4-4.9 5.9 1.6z"/><path fill="#b42a12" d="M316.5 598.2l-6-1.9 6.7-3.1 5.9 1.8z"/><path fill="#b44812" d="M285.4 604.9l-5.9-1.8 6.6-3.6 5.9 1.7z"/><path fill="#ae180c" d="M372.4 592.3l-5.9-2.1 6.6-2.2 6 2z"/><path fill="#96240c" d="M484 599.5l-5.9-2.7 6.7-.8 5.9 2.7z"/><path fill="#905a12" d="M539.2 611.7l-5.8-3.1 6.7-.2 5.8 3.1z"/><path fill="#a8180c" d="M384.8 592.2l-6-2.2 6.7-2 6 2.1z"/><path fill="#9c1e0c" d="M471.6 597.8l-5.9-2.6 6.7-1 5.9 2.7z"/><path fill="#8a7812" d="M569.6 620.9l-5.9-3.3 6.7 0 5.8 3.4z"/><path fill="#b4240c" d="M328.8 597l-5.9-1.9 6.6-3 5.9 1.9z"/><path fill="#a8180c" d="M397.2 592.3l-6-2.2 6.7-1.9 6 2.1z"/><path fill="#9c1e0c" d="M459.2 596.3l-5.9-2.6 6.7-1.1 5.9 2.6z"/><path fill="#b47218" d="M266.8 610.9l-5.9-1.7 6.6-4.1 5.8 1.7z"/><path fill="#a8180c" d="M409.6 592.6l-6-2.3 6.8-1.7 5.9 2.2z"/><path fill="#06ba0c" d="M193.3 642.6l-5.8-1.7 6.3-5.6 5.8 1.7z"/><path fill="#a21e0c" d="M446.8 595l-5.9-2.5 6.7-1.2 5.9 2.5z"/><path fill="#904e12" d="M526.9 609l-5.9-3.1 6.7-.3 5.9 3z"/><path fill="#a8180c" d="M422 593.2l-5.9-2.4 6.7-1.5 5.9 2.3z"/><path fill="#a2180c" d="M434.4 594l-5.9-2.4 6.7-1.4 5.9 2.4z"/><path fill="#b43c12" d="M297.7 603l-5.9-1.8 6.6-3.5 5.9 1.8z"/><path fill="#b4961e" d="M248.3 617.7l-5.9-1.7 6.5-4.4 5.9 1.6z"/><path fill="#54ba0c" d="M211.5 633.6l-5.8-1.7 6.4-5.2 5.8 1.6z"/><path fill="#b41e0c" d="M341.1 596l-5.9-2 6.6-2.8 6 1.9z"/><path fill="#a2b40c" d="M229.8 625.3l-5.8-1.8 6.4-4.8 5.9 1.7z"/><path fill="#963c12" d="M514.5 606.5l-5.8-3 6.7-.4 5.9 2.9z"/><path fill="#907218" d="M557.3 617.7l-5.8-3.3 6.6 0 5.9 3.2z"/><path fill="#7e8a0c" d="M587.6 627.7l-5.9-3.5 6.7 .2 5.8 3.5z"/><path fill="#b41e0c" d="M353.5 595.2l-6-2 6.7-2.7 5.9 2z"/><path fill="#b46018" d="M279 608.7l-5.9-1.8 6.6-3.9 5.9 1.8z"/><path fill="#b43012" d="M310 601.4l-5.9-1.9 6.6-3.3 5.9 1.9z"/><path fill="#00b40c" d="M187.1 648.3l-5.8-1.8 6.3-5.8 5.8 1.8z"/><path fill="#9c3012" d="M502.2 604.2l-5.9-2.8 6.7-.7 5.9 2.9z"/><path fill="#ae1e0c" d="M365.8 594.7l-5.9-2.1 6.7-2.5 5.9 2.1z"/><path fill="#906612" d="M545 614.7l-5.9-3.2 6.7-.2 5.9 3.2z"/><path fill="#b48418" d="M260.4 615.1l-5.9-1.8 6.5-4.3 5.9 1.8z"/><path fill="#9c2a0c" d="M489.8 602.2l-5.9-2.8 6.7-.8 5.9 2.8z"/><path fill="#12ba0c" d="M205.2 638.9l-5.8-1.8 6.4-5.4 5.8 1.7z"/><path fill="#b42a12" d="M322.3 600l-5.9-1.9 6.6-3.2 5.9 1.9z"/><path fill="#8a8412" d="M575.3 624.2l-5.8-3.4 6.7 0 5.8 3.4z"/><path fill="#ae1e0c" d="M378.2 594.4l-5.9-2.2 6.7-2.3 5.9 2.2z"/><path fill="#aea812" d="M241.9 622.2l-5.9-1.7 6.5-4.7 5.9 1.8z"/><path fill="#7eba0c" d="M223.5 630.2l-5.8-1.8 6.4-5 5.8 1.7z"/><path fill="#a2240c" d="M477.4 600.4l-5.9-2.7 6.7-1 5.9 2.7z"/><path fill="#b44e12" d="M291.2 606.7l-5.9-1.9 6.6-3.7 5.9 1.8z"/><path fill="#ae1e0c" d="M390.6 594.3l-5.9-2.2 6.7-2.1 5.9 2.2z"/><path fill="#965a12" d="M532.7 612l-5.9-3.2 6.7-.3 5.9 3.1z"/><path fill="#a21e0c" d="M465 598.8l-5.9-2.6 6.7-1.1 6 2.6z"/><path fill="#ae1e0c" d="M403 594.5l-5.9-2.3 6.7-2 5.9 2.3z"/><path fill="#a21e0c" d="M452.6 597.5l-5.9-2.6 6.7-1.3 5.9 2.6z"/><path fill="#b42412" d="M334.6 598.9l-5.9-2 6.6-3 5.9 1.9z"/><path fill="#a81e0c" d="M415.4 594.9l-5.9-2.4 6.7-1.8 5.9 2.4zM440.2 596.4l-5.9-2.5 6.7-1.5 5.9 2.5zM427.8 595.5l-5.9-2.4 6.7-1.6 5.9 2.4z"/><path fill="#b47218" d="M272.6 612.7l-5.9-1.9 6.5-4.1 5.9 1.8z"/><path fill="#907e12" d="M563 621l-5.8-3.4 6.7-.1 5.8 3.3z"/><path fill="#9c4812" d="M520.3 609.4l-5.8-3 6.7-.6 5.8 3.1z"/><path fill="#b44212" d="M303.5 604.9l-5.9-2 6.6-3.5 5.9 1.9z"/><path fill="#06ba0c" d="M199 644.4l-5.8-1.9 6.3-5.6 5.9 1.8z"/><path fill="#b4240c" d="M346.9 597.9l-5.9-2 6.7-2.9 5.9 2.1z"/><path fill="#b49c18" d="M254 619.4l-5.9-1.8 6.6-4.4 5.8 1.7z"/><path fill="#48ba0c" d="M217.2 635.3l-5.8-1.8 6.4-5.2 5.8 1.7z"/><path fill="#a2b40c" d="M235.6 627l-5.9-1.8 6.5-4.9 5.8 1.8z"/><path fill="#9c3c12" d="M508 607.1l-5.9-3 6.7-.7 5.9 3z"/><path fill="#b41e0c" d="M359.3 597.2l-5.9-2.1 6.6-2.7 6 2.1z"/><path fill="#967218" d="M550.8 617.9l-5.9-3.3 6.7-.2 5.8 3.2z"/><path fill="#b43612" d="M315.8 603.3l-5.9-2 6.6-3.3 5.9 1.9z"/><path fill="#ba6618" d="M284.8 610.5l-5.9-1.9 6.6-3.9 5.9 1.8z"/><path fill="#84900c" d="M581 627.6l-5.8-3.5 6.7 0 5.8 3.5z"/><path fill="#a23612" d="M495.6 605l-5.9-2.9 6.7-.8 5.9 2.8z"/><path fill="#b41e0c" d="M371.7 596.8l-6-2.2 6.7-2.5 5.9 2.1z"/><path fill="#00ba0c" d="M192.8 650.1l-5.8-1.9 6.3-5.8 5.8 1.8z"/><path fill="#a22a0c" d="M483.2 603.1l-5.9-2.8 6.8-1 5.9 2.8z"/><path fill="#b48a18" d="M266.2 616.9l-5.9-1.9 6.5-4.3 5.9 1.8z"/><path fill="#9c6618" d="M538.4 615.1l-5.8-3.3 6.7-.4 5.8 3.2z"/><path fill="#b41e0c" d="M384 596.5l-5.9-2.2 6.7-2.4 5.9 2.3z"/><path fill="#b43012" d="M328.1 602l-5.9-2.1 6.6-3.2 5.9 2z"/><path fill="#12ba0c" d="M211 640.7l-5.9-1.9 6.4-5.5 5.8 1.9z"/><path fill="#a82a0c" d="M470.8 601.5l-5.9-2.8 6.8-1.1 5.9 2.7z"/><path fill="#ae1e0c" d="M396.4 596.5l-5.9-2.3 6.7-2.2 5.9 2.4z"/><path fill="#aea812" d="M247.7 624l-5.9-1.8 6.5-4.7 5.8 1.8z"/><path fill="#ba5418" d="M297 608.5l-5.9-1.9 6.6-3.8 5.9 1.9z"/><path fill="#78ba0c" d="M229.2 632l-5.8-1.9 6.4-5.1 5.9 1.8z"/><path fill="#908412" d="M568.8 624.3l-5.8-3.5 6.6-.1 5.9 3.4z"/><path fill="#a8240c" d="M458.4 600.1l-5.9-2.7 6.8-1.3 5.9 2.6z"/><path fill="#ae1e0c" d="M408.8 596.8l-5.9-2.4 6.7-2 5.9 2.4z"/><path fill="#a81e0c" d="M446 598.9l-5.9-2.6 6.7-1.5 6 2.6z"/><path fill="#ae1e0c" d="M421.2 597.2l-5.9-2.4 6.7-1.8 5.9 2.4zM433.6 598l-5.9-2.6 6.7-1.6 6 2.5z"/><path fill="#9c5a18" d="M526.1 612.5l-5.9-3.2 6.8-.6 5.8 3.2z"/><path fill="#b42a12" d="M340.4 600.9l-5.9-2.1 6.6-3.1 6 2.1z"/><path fill="#ba7818" d="M278.4 614.5l-5.9-1.9 6.5-4.2 5.9 1.9z"/><path fill="#ba4812" d="M309.3 606.8l-5.9-2 6.6-3.6 5.9 2z"/><path fill="#a24e12" d="M513.8 610.1l-5.9-3.1 6.7-.7 5.9 3z"/><path fill="#967e18" d="M556.5 621.2l-5.8-3.4 6.7-.3 5.8 3.4z"/><path fill="#b42412" d="M352.7 600l-5.9-2.2 6.7-2.8 5.9 2.1z"/><path fill="#00ba0c" d="M204.7 646.2l-5.8-1.9 6.4-5.7 5.8 1.9z"/><path fill="#b49c18" d="M259.8 621.3l-5.9-1.9 6.5-4.6 5.9 1.9z"/><path fill="#42ba0c" d="M223 637.1l-5.9-1.9 6.4-5.3 5.9 1.9z"/><path fill="#a24212" d="M501.4 607.9l-5.9-3 6.7-.9 5.9 3z"/><path fill="#9cba0c" d="M241.3 628.8l-5.8-1.9 6.4-4.9 5.9 1.9z"/><path fill="#b4240c" d="M365.1 599.4l-5.9-2.3 6.7-2.7 5.9 2.2z"/><path fill="#ba3c12" d="M321.6 605.3l-5.9-2.1 6.6-3.4 5.9 2z"/><path fill="#9c7218" d="M544.2 618.3l-5.9-3.4 6.8-.4 5.8 3.3z"/><path fill="#ba6c18" d="M290.6 612.4l-5.9-2 6.6-4 5.9 2z"/><path fill="#a83612" d="M489 606l-5.9-3 6.8-1 5.8 2.9z"/><path fill="#b4240c" d="M377.5 599l-6-2.4 6.7-2.5 6 2.3z"/><path fill="#90900c" d="M574.5 627.7l-5.8-3.5 6.7-.2 5.8 3.5z"/><path fill="#00ba0c" d="M198.5 652l-5.8-2 6.3-5.9 5.8 2z"/><path fill="#a83012" d="M476.6 604.2l-5.9-2.8 6.8-1.2 5.9 2.8z"/><path fill="#b41e0c" d="M389.9 598.8l-6-2.4 6.7-2.3 6 2.3z"/><path fill="#ba3612" d="M333.9 604l-5.9-2.1 6.6-3.3 5.9 2.1z"/><path fill="#b4901e" d="M271.9 618.8l-5.8-2 6.5-4.4 5.9 2z"/><path fill="#a82a0c" d="M464.2 602.8l-5.9-2.8 6.8-1.4 5.9 2.8z"/><path fill="#b41e0c" d="M402.2 598.9l-5.9-2.5 6.7-2.2 6 2.5z"/><path fill="#a26618" d="M531.9 615.6l-5.9-3.3 6.7-.6 5.9 3.3z"/><path fill="#ae240c" d="M451.8 601.5l-5.9-2.7 6.8-1.5 5.9 2.7z"/><path fill="#b41e0c" d="M414.6 599.2l-5.9-2.5 6.7-2.1 6 2.5z"/><path fill="#0cba0c" d="M216.7 642.5l-5.8-1.9 6.3-5.5 5.9 1.9z"/><path fill="#ae240c" d="M439.4 600.5l-5.9-2.7 6.8-1.6 5.9 2.6z"/><path fill="#ae1e0c" d="M427 599.7l-5.9-2.6 6.8-1.8 5.9 2.5z"/><path fill="#ba5a18" d="M302.8 610.5l-5.9-2.1 6.6-3.8 5.9 2z"/><path fill="#aeae12" d="M253.4 625.9l-5.9-2 6.5-4.7 5.9 1.9z"/><path fill="#72ba0c" d="M235 633.8l-5.9-1.9 6.5-5.1 5.8 1.9z"/><path fill="#968a12" d="M562.2 624.6l-5.8-3.6 6.7-.3 5.8 3.5z"/><path fill="#ba3012" d="M346.2 603l-5.9-2.3 6.7-3 5.9 2.2z"/><path fill="#a25a18" d="M519.5 613.1l-5.8-3.2 6.7-.7 5.9 3.2z"/><path fill="#ba7e18" d="M284.1 616.4l-5.9-2 6.6-4.2 5.9 2z"/><path fill="#ba4e18" d="M315.1 608.8l-5.9-2.1 6.6-3.6 5.9 2z"/><path fill="#ba2a12" d="M358.6 602.2l-6-2.3 6.7-2.9 5.9 2.2z"/><path fill="#a84e12" d="M507.2 610.9l-5.9-3.1 6.7-.9 5.9 3.1z"/><path fill="#9c7e18" d="M549.9 621.6l-5.8-3.5 6.7-.4 5.8 3.4z"/><path fill="#00ba0c" d="M210.4 648.2l-5.8-2.1 6.4-5.7 5.8 2z"/><path fill="#b4a218" d="M265.5 623.2l-5.8-2 6.5-4.6 5.9 2z"/><path fill="#ba2a12" d="M370.9 601.6l-5.9-2.4 6.7-2.7 5.9 2.3z"/><path fill="#a84212" d="M494.8 608.9l-5.9-3.1 6.8-1 5.8 3z"/><path fill="#36ba0c" d="M228.7 639.1l-5.9-2.1 6.5-5.3 5.8 2z"/><path fill="#96ba0c" d="M247.1 630.8l-5.9-2.1 6.5-4.9 5.8 2z"/><path fill="#ba4212" d="M327.4 607.3l-5.9-2.1 6.6-3.5 5.9 2.2z"/><path fill="#b42412" d="M383.3 601.2l-5.9-2.4 6.7-2.5 5.9 2.4z"/><path fill="#a83612" d="M482.4 607.1l-5.9-3 6.8-1.2 5.9 2.9z"/><path fill="#ba7218" d="M296.4 614.4l-5.9-2.1 6.5-4 5.9 2z"/><path fill="#a27218" d="M537.6 618.8l-5.8-3.4 6.7-.6 5.8 3.4z"/><path fill="#b4240c" d="M395.7 601.2l-5.9-2.5 6.7-2.4 5.9 2.4z"/><path fill="#ae3012" d="M470 605.5l-5.9-2.9 6.8-1.3 5.9 2.8z"/><path fill="#b4240c" d="M408.1 601.3l-6-2.6 6.8-2.2 5.9 2.6z"/><path fill="#ae3012" d="M457.6 604.2l-5.9-2.8 6.8-1.6 5.9 2.9z"/><path fill="#969612" d="M567.9 628l-5.8-3.6 6.7-.3 5.8 3.6z"/><path fill="#00ba0c" d="M204.2 654l-5.8-2.1 6.3-5.9 5.9 2z"/><path fill="#ba3c12" d="M339.7 606.1l-5.9-2.2 6.6-3.3 5.9 2.2z"/><path fill="#b4240c" d="M420.5 601.7l-6-2.7 6.8-2 5.9 2.6z"/><path fill="#ae2a12" d="M445.2 603.1l-5.9-2.7 6.8-1.7 5.9 2.7z"/><path fill="#b42a0c" d="M432.8 602.3l-5.9-2.7 6.8-1.9 5.9 2.7z"/><path fill="#ba961e" d="M277.7 620.7l-5.9-2 6.6-4.4 5.9 2z"/><path fill="#a86618" d="M525.3 616.3l-5.9-3.3 6.8-.8 5.8 3.3z"/><path fill="#ba6618" d="M308.6 612.5l-5.9-2.1 6.6-3.9 5.9 2.2z"/><path fill="#0cba0c" d="M222.4 644.5l-5.8-2.1 6.4-5.5 5.8 2z"/><path fill="#a8b412" d="M259.2 627.9l-5.9-2.1 6.5-4.8 5.9 2.1z"/><path fill="#ba3612" d="M352 605.2l-5.9-2.4 6.7-3 5.9 2.2z"/><path fill="#66ba0c" d="M240.7 635.8l-5.8-2.1 6.4-5.1 5.9 2z"/><path fill="#a85a18" d="M512.9 614l-5.8-3.3 6.7-.9 5.9 3.2z"/><path fill="#9c8a18" d="M555.7 625l-5.9-3.6 6.7-.5 5.9 3.6z"/><path fill="#ba3012" d="M364.4 604.4l-5.9-2.4 6.6-2.9 6 2.4z"/><path fill="#ba8418" d="M289.9 618.5l-5.9-2.2 6.6-4.2 5.9 2.1z"/><path fill="#ba5a18" d="M320.9 610.9l-5.9-2.2 6.6-3.7 5.9 2.2z"/><path fill="#a84e12" d="M500.6 611.9l-5.9-3.2 6.7-1 5.9 3.1z"/><path fill="#ba3012" d="M376.7 603.9l-5.9-2.4 6.7-2.8 5.9 2.4z"/><path fill="#a28418" d="M543.4 622.2l-5.9-3.5 6.7-.7 5.9 3.5z"/><path fill="#00ba0c" d="M216.1 650.2l-5.8-2.1 6.4-5.8 5.8 2.1z"/><path fill="#ae4212" d="M488.2 610l-5.9-3 6.8-1.3 5.8 3.1z"/><path fill="#b4a818" d="M271.3 625.2l-5.9-2.1 6.6-4.6 5.8 2.1z"/><path fill="#ba2a12" d="M389.1 603.6l-5.9-2.5 6.7-2.5 5.9 2.4z"/><path fill="#ba4e12" d="M333.2 609.5l-5.9-2.3 6.6-3.4 5.9 2.2z"/><path fill="#2ac00c" d="M234.4 641.1l-5.8-2.1 6.4-5.4 5.9 2.1z"/><path fill="#8aba0c" d="M252.8 632.8l-5.8-2.1 6.4-5 5.9 2z"/><path fill="#ae3c12" d="M475.8 608.4l-5.9-3 6.8-1.4 5.9 3z"/><path fill="#ba7818" d="M302.1 616.5l-5.9-2.2 6.6-4.1 5.9 2.2z"/><path fill="#ba2a12" d="M401.5 603.6l-5.9-2.6 6.7-2.4 5.9 2.6z"/><path fill="#ae3612" d="M463.4 607l-5.9-2.9 6.8-1.6 5.9 2.9z"/><path fill="#a87818" d="M531 619.6l-5.8-3.5 6.7-.7 5.9 3.3z"/><path fill="#b42a12" d="M413.9 603.8l-5.9-2.6 6.7-2.3 5.9 2.7z"/><path fill="#b43012" d="M451 605.9l-5.8-2.9 6.7-1.7 5.9 2.8z"/><path fill="#b42a12" d="M426.3 604.3l-5.9-2.8 6.7-2 5.9 2.7z"/><path fill="#b43012" d="M438.7 605l-5.9-2.8 6.7-1.9 5.9 2.7z"/><path fill="#ba4212" d="M345.5 608.4l-5.9-2.4 6.6-3.3 6 2.3z"/><path fill="#00ba0c" d="M209.9 656.1l-5.8-2.2 6.4-6 5.8 2.1z"/><path fill="#ba9c1e" d="M283.5 622.8l-5.9-2.2 6.6-4.4 5.8 2.1z"/><path fill="#9c9612" d="M561.4 628.5l-5.8-3.7 6.7-.5 5.8 3.6z"/><path fill="#a86c18" d="M518.7 617.2l-5.8-3.4 6.7-.9 5.8 3.3z"/><path fill="#ba6c18" d="M314.4 614.7l-5.9-2.3 6.6-3.8 5.9 2.2z"/><path fill="#ba3c12" d="M357.8 607.5l-5.9-2.5 6.7-3.1 5.9 2.4z"/><path fill="#0cba0c" d="M228.1 646.6l-5.8-2.2 6.4-5.6 5.8 2.1z"/><path fill="#a8b412" d="M264.9 630l-5.8-2.2 6.5-4.8 5.8 2.1z"/><path fill="#60c00c" d="M246.5 637.9l-5.9-2.2 6.5-5.2 5.8 2.1z"/><path fill="#ae6018" d="M506.4 615l-5.9-3.2 6.7-1.2 5.9 3.3z"/><path fill="#ba3612" d="M370.2 606.8l-5.9-2.5 6.6-3 6 2.5z"/><path fill="#a29018" d="M549.1 625.6l-5.8-3.6 6.7-.7 5.8 3.6z"/><path fill="#ba6018" d="M326.7 613.1l-5.9-2.3 6.6-3.7 5.9 2.3z"/><path fill="#ba901e" d="M295.7 620.6l-5.9-2.2 6.6-4.3 5.9 2.2z"/><path fill="#ae5418" d="M494 613.1l-5.9-3.2 6.8-1.3 5.8 3.2z"/><path fill="#ba3612" d="M382.5 606.4l-5.9-2.6 6.7-2.8 5.9 2.5z"/><path fill="#ae4812" d="M481.6 611.4l-5.9-3.1 6.8-1.4 5.9 3z"/><path fill="#ba3012" d="M394.9 606.2l-5.9-2.7 6.7-2.6 5.9 2.6z"/><path fill="#aeae12" d="M277.1 627.4l-5.9-2.3 6.5-4.6 5.9 2.2z"/><path fill="#a88418" d="M536.8 622.9l-5.8-3.5 6.7-.8 5.8 3.5z"/><path fill="#00ba0c" d="M221.9 652.3l-5.9-2.2 6.4-5.8 5.9 2.2z"/><path fill="#ba5418" d="M339 611.8l-5.9-2.4 6.6-3.5 5.9 2.3z"/><path fill="#b44212" d="M469.2 609.9l-5.9-3 6.8-1.6 5.9 3z"/><path fill="#ba3012" d="M407.3 606.2l-5.9-2.7 6.7-2.4 5.9 2.6z"/><path fill="#84ba0c" d="M258.6 634.9l-5.9-2.2 6.5-5.1 5.9 2.2z"/><path fill="#1ec00c" d="M240.1 643.2l-5.8-2.2 6.4-5.4 5.9 2.1z"/><path fill="#b43c12" d="M456.8 608.7l-5.8-3 6.7-1.7 5.9 2.9z"/><path fill="#ba3012" d="M419.7 606.5l-5.9-2.8 6.7-2.3 5.9 2.8z"/><path fill="#ba7e18" d="M307.9 618.7l-5.9-2.3 6.6-4.1 5.9 2.2z"/><path fill="#b43612" d="M444.5 607.7l-5.9-2.9 6.7-1.9 5.9 2.9z"/><path fill="#ba3612" d="M432.1 607l-5.9-2.9 6.7-2.1 5.9 2.8z"/><path fill="#ae7818" d="M524.5 620.5l-5.9-3.5 6.7-.9 5.9 3.4z"/><path fill="#ba4e12" d="M351.3 610.7l-5.9-2.4 6.6-3.4 6 2.4z"/><path fill="#b4a218" d="M289.3 625l-5.9-2.3 6.5-4.4 5.9 2.2z"/><path fill="#00ba0c" d="M215.6 658.3l-5.8-2.3 6.4-6 5.8 2.2z"/><path fill="#ae6c18" d="M512.1 618.3l-5.8-3.4 6.7-1.2 5.8 3.4z"/><path fill="#ba7218" d="M320.2 616.9l-5.9-2.3 6.6-3.9 5.9 2.3z"/><path fill="#a29612" d="M554.8 629.2l-5.8-3.7 6.7-.7 5.8 3.6z"/><path fill="#ba4212" d="M363.6 609.9l-5.9-2.5 6.7-3.2 5.9 2.5z"/><path fill="#a2ba0c" d="M270.7 632.2l-5.9-2.3 6.5-4.9 5.9 2.2z"/><path fill="#06c00c" d="M233.9 648.8l-5.9-2.3 6.4-5.6 5.9 2.2z"/><path fill="#4ec00c" d="M252.2 640.1l-5.8-2.3 6.4-5.3 5.9 2.3z"/><path fill="#ae6018" d="M499.8 616.3l-5.9-3.3 6.7-1.3 5.9 3.2z"/><path fill="#ba4212" d="M376 609.3l-5.9-2.6 6.7-3 5.9 2.5z"/><path fill="#c06c18" d="M332.5 615.4l-5.9-2.4 6.6-3.7 5.9 2.4z"/><path fill="#a89018" d="M542.5 626.4l-5.8-3.6 6.7-.9 5.8 3.6z"/><path fill="#b45a18" d="M487.4 614.5l-5.9-3.2 6.8-1.5 5.8 3.2z"/><path fill="#ba961e" d="M301.5 622.9l-5.9-2.4 6.6-4.3 5.9 2.3z"/><path fill="#ba3c12" d="M388.3 608.9l-5.9-2.7 6.7-2.8 5.9 2.6z"/><path fill="#b44e12" d="M475 613l-5.9-3.2 6.8-1.6 5.9 3.1z"/><path fill="#ba3c12" d="M400.7 608.8l-5.9-2.8 6.7-2.6 5.9 2.7z"/><path fill="#b44812" d="M462.6 611.7l-5.9-3.1 6.8-1.8 5.9 3z"/><path fill="#ba3c12" d="M413.1 608.9l-5.9-2.8 6.7-2.5 5.9 2.7z"/><path fill="#aeb412" d="M282.8 629.6l-5.8-2.3 6.5-4.7 5.9 2.3z"/><path fill="#c06018" d="M344.8 614.2l-5.9-2.5 6.6-3.6 5.9 2.5z"/><path fill="#ae8418" d="M530.2 623.9l-5.8-3.6 6.7-1 5.8 3.5z"/><path fill="#ba4212" d="M450.2 610.6l-5.8-3 6.7-2 5.9 3z"/><path fill="#ba3c12" d="M425.5 609.2l-5.9-2.9 6.7-2.3 5.9 2.9z"/><path fill="#00ba0c" d="M227.6 654.6l-5.8-2.3 6.3-5.9 5.9 2.2z"/><path fill="#ba3c12" d="M437.9 609.8l-5.9-2.9 6.7-2.2 5.9 2.9z"/><path fill="#78c00c" d="M264.3 637.1l-5.9-2.3 6.5-5.1 5.9 2.3z"/><path fill="#ba8a1e" d="M313.7 621l-5.9-2.4 6.6-4.2 5.9 2.4z"/><path fill="#12c00c" d="M245.9 645.5l-5.9-2.4 6.5-5.4 5.8 2.2z"/><path fill="#c05418" d="M357.1 613.2l-5.9-2.6 6.7-3.4 5.9 2.5z"/><path fill="#ae7818" d="M517.9 621.6l-5.9-3.5 6.8-1.2 5.8 3.5z"/><path fill="#b4a818" d="M295 627.3l-5.9-2.4 6.6-4.5 5.9 2.3z"/><path fill="#c04e18" d="M369.4 612.4l-5.9-2.6 6.7-3.2 5.9 2.5z"/><path fill="#c07e18" d="M326 619.3l-5.9-2.5 6.6-3.9 5.9 2.4z"/><path fill="#b47218" d="M505.5 619.5l-5.8-3.4 6.7-1.3 5.9 3.4z"/><path fill="#00ba0c" d="M221.3 660.6l-5.8-2.4 6.4-6.1 5.8 2.3z"/><path fill="#a29c12" d="M548.2 630l-5.8-3.7 6.7-.9 5.9 3.7z"/><path fill="#96ba0c" d="M276.4 634.4l-5.8-2.3 6.5-5 5.9 2.4z"/><path fill="#c04812" d="M381.8 611.8l-5.9-2.7 6.7-3 5.9 2.7z"/><path fill="#b46618" d="M493.2 617.7l-5.9-3.3 6.7-1.5 5.9 3.3z"/><path fill="#00c00c" d="M239.6 651.1l-5.9-2.4 6.5-5.7 5.8 2.3z"/><path fill="#42c00c" d="M257.9 642.4l-5.8-2.4 6.5-5.3 5.8 2.3z"/><path fill="#c07218" d="M338.2 617.9l-5.8-2.6 6.6-3.7 5.9 2.5z"/><path fill="#c04812" d="M394.1 611.5l-5.9-2.7 6.7-2.9 5.9 2.7z"/><path fill="#b46018" d="M480.8 616.1l-5.9-3.3 6.8-1.6 5.8 3.2z"/><path fill="#ba9c1e" d="M307.2 625.2l-5.8-2.4 6.5-4.4 5.9 2.4z"/><path fill="#ae9618" d="M535.9 627.4l-5.8-3.6 6.7-1.1 5.9 3.6z"/><path fill="#ba4812" d="M406.5 611.5l-5.9-2.9 6.7-2.6 5.9 2.7z"/><path fill="#ba5418" d="M468.4 614.7l-5.9-3.2 6.8-1.8 5.9 3.2z"/><path fill="#ba4812" d="M418.9 611.6l-5.9-2.9 6.7-2.5 5.9 2.9z"/><path fill="#ba4e12" d="M456 613.6l-5.9-3.1 6.8-2 5.9 3.1z"/><path fill="#ba4812" d="M431.3 612.1l-5.9-3 6.7-2.4 5.9 3zM443.6 612.7l-5.8-3 6.7-2.2 5.9 3z"/><path fill="#c06c18" d="M350.6 616.7l-5.9-2.6 6.6-3.6 5.9 2.5z"/><path fill="#aeba12" d="M288.6 632l-5.9-2.5 6.6-4.7 5.9 2.4z"/><path fill="#ae8a18" d="M523.6 625.1l-5.8-3.6 6.7-1.3 5.8 3.6z"/><path fill="#00ba0c" d="M233.3 657l-5.8-2.5 6.4-5.9 5.8 2.3z"/><path fill="#ba901e" d="M319.5 623.4l-5.9-2.5 6.6-4.2 5.9 2.5z"/><path fill="#6cc00c" d="M270.1 639.5l-5.9-2.4 6.5-5.2 5.9 2.4z"/><path fill="#0cc00c" d="M251.6 647.8l-5.8-2.4 6.4-5.6 5.9 2.4z"/><path fill="#c06018" d="M362.9 615.7l-5.9-2.6 6.7-3.5 5.9 2.7z"/><path fill="#b47e18" d="M511.3 622.9l-5.9-3.5 6.8-1.4 5.8 3.5z"/><path fill="#c05a18" d="M375.2 615l-5.9-2.7 6.7-3.3 5.9 2.7z"/><path fill="#b4ae18" d="M300.8 629.7l-5.9-2.5 6.6-4.6 5.9 2.5z"/><path fill="#c08a1e" d="M331.7 621.8l-5.8-2.6 6.6-4 5.9 2.5z"/><path fill="#b47818" d="M498.9 621l-5.8-3.4 6.7-1.6 5.9 3.4z"/><path fill="#00ba0c" d="M227 663l-5.8-2.5 6.4-6.1 5.8 2.4z"/><path fill="#c05418" d="M387.6 614.5l-5.9-2.8 6.7-3 5.9 2.7z"/><path fill="#a8a212" d="M541.6 631.1l-5.8-3.8 6.8-1.1 5.8 3.7z"/><path fill="#b46c18" d="M486.5 619.3l-5.8-3.3 6.7-1.7 5.9 3.3z"/><path fill="#8ac00c" d="M282.2 636.8l-5.9-2.5 6.6-4.9 5.8 2.4z"/><path fill="#00c00c" d="M245.3 653.5l-5.8-2.5 6.4-5.8 5.8 2.5z"/><path fill="#c05418" d="M399.9 614.3l-5.9-2.9 6.7-2.9 5.9 2.9z"/><path fill="#30c00c" d="M263.7 644.8l-5.9-2.5 6.5-5.4 5.9 2.4z"/><path fill="#ba6618" d="M474.2 617.9l-5.9-3.3 6.8-1.9 5.8 3.3z"/><path fill="#c07e18" d="M344 620.4l-5.9-2.6 6.7-3.8 5.9 2.6z"/><path fill="#c05418" d="M412.3 614.3l-5.9-2.9 6.7-2.8 5.9 2.9z"/><path fill="#ba6018" d="M461.8 616.7l-5.9-3.2 6.8-2.1 5.8 3.2z"/><path fill="#baa218" d="M313 627.7l-5.9-2.6 6.6-4.4 5.9 2.6z"/><path fill="#ba5418" d="M424.7 614.5l-5.9-3 6.7-2.5 5.9 2.9z"/><path fill="#ba5a18" d="M449.4 615.7l-5.9-3.1 6.8-2.2 5.9 3.1z"/><path fill="#ba5418" d="M437 615l-5.8-3.1 6.7-2.3 5.9 3z"/><path fill="#ae9618" d="M529.3 628.6l-5.8-3.7 6.7-1.2 5.9 3.6z"/><path fill="#c07818" d="M356.3 619.3l-5.9-2.7 6.7-3.7 5.9 2.7z"/><path fill="#a8ba0c" d="M294.4 634.4l-5.9-2.5 6.5-4.8 5.9 2.5z"/><path fill="#b49018" d="M517 626.4l-5.8-3.6 6.7-1.4 5.8 3.6z"/><path fill="#00ba0c" d="M239 659.4l-5.8-2.5 6.4-6 5.8 2.5z"/><path fill="#ba9c1e" d="M325.3 625.9l-5.9-2.6 6.6-4.2 5.9 2.6z"/><path fill="#c06c18" d="M368.7 618.4l-5.9-2.8 6.6-3.5 5.9 2.8z"/><path fill="#60c00c" d="M275.8 641.9l-5.9-2.5 6.6-5.2 5.8 2.5z"/><path fill="#0cc00c" d="M257.3 650.3l-5.8-2.6 6.5-5.6 5.8 2.5z"/><path fill="#b48418" d="M504.7 624.4l-5.9-3.5 6.8-1.6 5.8 3.5z"/><path fill="#c06618" d="M381 617.7l-5.9-2.8 6.7-3.3 5.9 2.8z"/><path fill="#c0901e" d="M337.5 624.4l-5.9-2.7 6.7-4.1 5.9 2.7z"/><path fill="#aeb412" d="M306.6 632.2l-5.9-2.6 6.6-4.6 5.8 2.6z"/><path fill="#ba7e18" d="M492.3 622.7l-5.9-3.5 6.8-1.7 5.8 3.4z"/><path fill="#c06618" d="M393.3 617.3l-5.8-2.9 6.7-3.1 5.9 2.9z"/><path fill="#ba7218" d="M479.9 621.2l-5.8-3.4 6.7-1.9 5.9 3.3z"/><path fill="#00ba0c" d="M232.7 665.6l-5.8-2.6 6.4-6.3 5.8 2.6z"/><path fill="#c06018" d="M405.7 617.2l-5.9-3 6.7-3 5.9 3z"/><path fill="#7ec00c" d="M287.9 639.3l-5.8-2.6 6.5-5 5.9 2.6z"/><path fill="#a8a212" d="M535 632.3l-5.8-3.8 6.8-1.3 5.8 3.8z"/><path fill="#ba6c18" d="M467.6 619.9l-5.9-3.3 6.7-2.1 5.9 3.3z"/><path fill="#c06018" d="M418.1 617.2l-5.9-3 6.7-2.8 5.9 3z"/><path fill="#c08a1e" d="M349.8 623.1l-5.9-2.8 6.7-3.9 5.9 2.8z"/><path fill="#00c00c" d="M251 656l-5.8-2.6 6.4-5.8 5.9 2.5z"/><path fill="#ba6618" d="M455.2 618.9l-5.9-3.3 6.8-2.2 5.8 3.2z"/><path fill="#18c00c" d="M269.4 647.3l-5.8-2.6 6.5-5.4 5.8 2.5z"/><path fill="#c06018" d="M430.4 617.5l-5.8-3.1 6.7-2.6 5.9 3.1z"/><path fill="#c06618" d="M442.8 618.1l-5.9-3.2 6.8-2.4 5.9 3.1z"/><path fill="#b4ae18" d="M318.8 630.3l-5.9-2.7 6.6-4.4 5.9 2.6z"/><path fill="#b49c18" d="M522.7 630l-5.8-3.7 6.7-1.5 5.9 3.7z"/><path fill="#c07e1e" d="M362.1 622l-5.9-2.8 6.7-3.7 5.9 2.8z"/><path fill="#9cc00c" d="M300.1 637l-5.9-2.7 6.6-4.8 5.9 2.6z"/><path fill="#b4961e" d="M510.4 628l-5.8-3.7 6.7-1.6 5.8 3.6z"/><path fill="#baa218" d="M331 628.5l-5.9-2.7 6.7-4.3 5.9 2.7z"/><path fill="#c07818" d="M374.4 621.2l-5.8-2.9 6.6-3.5 5.9 2.8z"/><path fill="#00ba0c" d="M244.7 662l-5.8-2.7 6.4-6 5.9 2.6z"/><path fill="#48c00c" d="M281.5 644.5l-5.8-2.7 6.5-5.2 5.9 2.6z"/><path fill="#06c00c" d="M263.1 652.8l-5.9-2.6 6.5-5.7 5.9 2.6z"/><path fill="#ba8a1e" d="M498 626.2l-5.8-3.6 6.7-1.8 5.9 3.5z"/><path fill="#c07218" d="M386.8 620.6l-5.9-3 6.7-3.3 5.9 2.9z"/><path fill="#ba8418" d="M485.7 624.6l-5.9-3.5 6.8-2 5.8 3.5z"/><path fill="#c09c1e" d="M343.3 627.1l-5.9-2.8 6.7-4.1 5.8 2.7z"/><path fill="#c07218" d="M399.1 620.2l-5.9-3 6.8-3.1 5.8 2.9z"/><path fill="#aeba12" d="M312.3 634.8l-5.9-2.7 6.6-4.6 5.9 2.6z"/><path fill="#ba7e18" d="M473.3 623.2l-5.8-3.4 6.7-2.1 5.9 3.4z"/><path fill="#c07218" d="M411.5 620.1l-5.9-3.1 6.7-2.9 5.9 3z"/><path fill="#ba7818" d="M461 622.1l-5.9-3.3 6.7-2.3 5.9 3.3z"/><path fill="#c07218" d="M423.8 620.3l-5.8-3.2 6.7-2.8 5.9 3.1z"/><path fill="#00ba0c" d="M238.5 668.2l-5.9-2.7 6.4-6.3 5.9 2.6z"/><path fill="#c07218" d="M448.6 621.3l-5.9-3.3 6.8-2.5 5.8 3.3zM436.2 620.7l-5.9-3.3 6.8-2.6 5.9 3.2z"/><path fill="#6cc00c" d="M293.7 642l-5.9-2.8 6.6-5 5.8 2.6z"/><path fill="#c0961e" d="M355.6 625.8l-5.9-2.8 6.7-4 5.8 2.9z"/><path fill="#aea812" d="M528.4 633.7l-5.8-3.8 6.8-1.5 5.8 3.8z"/><path fill="#00c00c" d="M256.7 658.6l-5.8-2.7 6.5-5.9 5.8 2.7z"/><path fill="#12c00c" d="M275.2 649.9l-5.9-2.7 6.5-5.5 5.9 2.7z"/><path fill="#b4b412" d="M324.5 632.9l-5.8-2.7 6.6-4.5 5.9 2.7z"/><path fill="#c08a1e" d="M367.9 624.8l-5.9-2.9 6.7-3.7 5.9 2.8z"/><path fill="#b4a218" d="M516.1 631.6l-5.8-3.8 6.7-1.6 5.9 3.7z"/><path fill="#8ac00c" d="M305.9 639.7l-5.9-2.8 6.6-4.9 5.8 2.7z"/><path fill="#c0841e" d="M380.2 624l-5.9-2.9 6.7-3.6 5.9 3z"/><path fill="#ba9c1e" d="M503.8 629.7l-5.9-3.7 6.8-1.8 5.8 3.7z"/><path fill="#baae18" d="M336.8 631.3l-5.9-2.9 6.6-4.3 5.9 2.8z"/><path fill="#00ba0c" d="M250.4 664.7l-5.8-2.8 6.4-6.1 5.9 2.7z"/><path fill="#30c60c" d="M287.3 647.2l-5.9-2.8 6.6-5.3 5.8 2.7z"/><path fill="#c0841e" d="M392.5 623.5l-5.8-3 6.7-3.4 5.9 3z"/><path fill="#ba901e" d="M491.4 628.1l-5.8-3.7 6.7-1.9 5.9 3.6z"/><path fill="#00c00c" d="M268.8 655.5l-5.8-2.7 6.4-5.8 5.9 2.7z"/><path fill="#c07e1e" d="M404.9 623.3l-5.9-3.2 6.7-3.2 5.9 3.1z"/><path fill="#ba8a1e" d="M479.1 626.7l-5.9-3.6 6.8-2.1 5.8 3.5z"/><path fill="#baa818" d="M349.1 629.9l-5.9-2.9 6.6-4.2 5.9 2.9z"/><path fill="#a2c00c" d="M318.1 637.6l-5.9-2.9 6.6-4.7 5.9 2.8z"/><path fill="#c07e1e" d="M417.2 623.2l-5.8-3.2 6.7-3 5.9 3.2z"/><path fill="#ba841e" d="M466.7 625.5l-5.9-3.5 6.8-2.3 5.9 3.4z"/><path fill="#c07e1e" d="M429.6 623.4l-5.9-3.3 6.8-2.8 5.8 3.2z"/><path fill="#c0841e" d="M454.3 624.6l-5.8-3.5 6.7-2.5 5.9 3.4z"/><path fill="#c07e1e" d="M442 623.9l-5.9-3.4 6.7-2.6 5.9 3.3z"/><path fill="#c0a21e" d="M361.4 628.7l-5.9-3 6.6-3.9 5.9 2.9z"/><path fill="#00ba0c" d="M244.2 671l-5.9-2.9 6.4-6.3 5.9 2.7z"/><path fill="#5ac60c" d="M299.4 644.7l-5.8-2.8 6.5-5.2 5.9 2.8z"/><path fill="#aeae12" d="M521.8 635.4l-5.8-3.9 6.8-1.7 5.8 3.8z"/><path fill="#00c00c" d="M262.5 661.4l-5.9-2.8 6.5-6 5.8 2.8z"/><path fill="#0cc00c" d="M280.9 652.6l-5.8-2.8 6.5-5.5 5.8 2.7z"/><path fill="#aeba12" d="M330.3 635.7l-5.9-2.9 6.6-4.5 5.9 2.8z"/><path fill="#c0961e" d="M373.7 627.7l-5.9-3 6.7-3.8 5.8 3z"/><path fill="#b4a818" d="M509.5 633.4l-5.8-3.8 6.7-1.9 5.8 3.8z"/><path fill="#c0901e" d="M386 627l-5.9-3.1 6.7-3.6 5.9 3.1z"/><path fill="#78c60c" d="M311.6 642.4l-5.8-2.8 6.5-5 5.9 2.8z"/><path fill="#baa218" d="M497.1 631.7l-5.8-3.8 6.8-2 5.8 3.7z"/><path fill="#b4b412" d="M342.6 634.1l-5.9-2.9 6.6-4.4 5.9 2.9z"/><path fill="#c0901e" d="M398.3 626.6l-5.9-3.2 6.8-3.4 5.8 3.1z"/><path fill="#ba9c1e" d="M484.8 630.2l-5.8-3.7 6.7-2.2 5.9 3.7z"/><path fill="#00ba0c" d="M256.2 667.5l-5.9-2.9 6.5-6.2 5.8 2.8z"/><path fill="#18c60c" d="M293 650l-5.8-2.9 6.5-5.4 5.9 2.8z"/><path fill="#c08a1e" d="M410.7 626.4l-5.9-3.3 6.7-3.2 5.9 3.2z"/><path fill="#00c00c" d="M274.5 658.3l-5.8-2.9 6.5-5.7 5.8 2.8z"/><path fill="#ba961e" d="M472.4 629l-5.8-3.6 6.8-2.4 5.8 3.6z"/><path fill="#c08a1e" d="M423 626.4l-5.9-3.3 6.8-3.1 5.8 3.3z"/><path fill="#baae18" d="M354.8 632.8l-5.8-3 6.6-4.2 5.9 3z"/><path fill="#c0901e" d="M460.1 628l-5.9-3.6 6.8-2.5 5.8 3.5z"/><path fill="#c08a1e" d="M435.4 626.7l-5.9-3.4 6.7-2.9 5.9 3.4z"/><path fill="#c0901e" d="M447.7 627.2l-5.8-3.5 6.7-2.7 5.9 3.5z"/><path fill="#90c00c" d="M323.8 640.4l-5.8-2.9 6.6-4.8 5.8 2.9z"/><path fill="#baa818" d="M367.1 631.7l-5.9-3.1 6.7-4 5.9 3z"/><path fill="#42c60c" d="M305.2 647.5l-5.9-2.9 6.6-5.2 5.8 2.9z"/><path fill="#00ba0c" d="M249.9 673.8l-5.8-2.9 6.4-6.5 5.8 2.9z"/><path fill="#aeb412" d="M515.2 637.2l-5.8-3.9 6.7-1.9 5.9 3.9z"/><path fill="#a8c00c" d="M336.1 638.6l-5.9-3 6.6-4.6 5.9 3z"/><path fill="#06c00c" d="M286.6 655.5l-5.8-3 6.5-5.6 5.9 2.9z"/><path fill="#00c00c" d="M268.2 664.2l-5.8-2.9 6.4-6 5.9 2.9z"/><path fill="#c0a21e" d="M379.4 630.8l-5.8-3.2 6.6-3.8 5.9 3.1z"/><path fill="#b4ae18" d="M502.9 635.4l-5.9-3.8 6.8-2.1 5.8 3.8z"/><path fill="#c0a21e" d="M391.7 630.2l-5.8-3.3 6.7-3.6 5.9 3.2z"/><path fill="#baa818" d="M490.5 633.9l-5.8-3.8 6.8-2.3 5.8 3.8z"/><path fill="#66c60c" d="M317.4 645.3l-5.9-3 6.6-5 5.9 3z"/><path fill="#b4ba12" d="M348.3 637.1l-5.9-3.1 6.7-4.4 5.9 3z"/><path fill="#c09c1e" d="M404.1 629.8l-5.9-3.3 6.7-3.5 5.9 3.3z"/><path fill="#baa218" d="M478.2 632.6l-5.9-3.8 6.8-2.4 5.8 3.7z"/><path fill="#c09c1e" d="M416.4 629.6l-5.8-3.3 6.7-3.3 5.8 3.3z"/><path fill="#c0a21e" d="M465.8 631.5l-5.8-3.7 6.7-2.5 5.9 3.6z"/><path fill="#12c60c" d="M298.8 652.9l-5.9-3 6.6-5.5 5.8 3z"/><path fill="#00ba0c" d="M261.9 670.4l-5.9-3 6.5-6.3 5.8 3z"/><path fill="#c09c1e" d="M428.8 629.7l-5.9-3.4 6.7-3.1 5.9 3.4zM453.5 630.7l-5.9-3.6 6.8-2.8 5.8 3.6zM441.1 630.1l-5.8-3.5 6.7-3 5.9 3.5z"/><path fill="#00c00c" d="M280.3 661.2l-5.9-3 6.5-5.8 5.9 2.9z"/><path fill="#b4b412" d="M360.6 635.8l-5.9-3.1 6.7-4.3 5.9 3.1z"/><path fill="#7ec60c" d="M329.6 643.4l-5.9-3.1 6.6-4.8 5.9 3z"/><path fill="#baae18" d="M372.9 634.8l-5.9-3.2 6.7-4.1 5.9 3.2z"/><path fill="#24c60c" d="M310.9 650.5l-5.8-3.1 6.5-5.2 5.9 3z"/><path fill="#00ba0c" d="M255.6 676.8l-5.8-3.1 6.4-6.5 5.8 3z"/><path fill="#aeba12" d="M508.6 639.3l-5.8-4 6.7-2.1 5.8 3.9z"/><path fill="#96c00c" d="M341.8 641.7l-5.8-3.2 6.6-4.6 5.8 3.1z"/><path fill="#baae18" d="M385.2 633.9l-5.9-3.2 6.7-3.9 5.9 3.2z"/><path fill="#00c00c" d="M292.4 658.4l-5.9-3 6.5-5.7 5.9 3zM273.9 667.2l-5.8-3.1 6.5-6 5.8 3z"/><path fill="#b4b412" d="M496.2 637.6l-5.8-3.9 6.8-2.2 5.8 3.8z"/><path fill="#baa818" d="M397.5 633.4l-5.9-3.4 6.7-3.6 5.9 3.2z"/><path fill="#b4ae18" d="M483.9 636.3l-5.8-3.9 6.7-2.4 5.9 3.8z"/><path fill="#c0a818" d="M409.8 633.1l-5.8-3.4 6.7-3.6 5.9 3.4z"/><path fill="#a8c00c" d="M354.1 640.2l-5.9-3.2 6.7-4.5 5.8 3.2z"/><path fill="#48c60c" d="M323.1 648.3l-5.8-3.1 6.5-5 5.9 3z"/><path fill="#baae18" d="M471.6 635.1l-5.9-3.7 6.8-2.7 5.8 3.8z"/><path fill="#c0a818" d="M422.2 633l-5.9-3.5 6.7-3.3 5.9 3.4z"/><path fill="#baa818" d="M459.2 634.2l-5.8-3.7 6.7-2.8 5.9 3.7z"/><path fill="#c0a818" d="M434.5 633.2l-5.8-3.6 6.7-3.1 5.9 3.5z"/><path fill="#baa818" d="M446.9 633.6l-5.9-3.7 6.8-2.9 5.8 3.5z"/><path fill="#0cc60c" d="M304.5 655.9l-5.8-3.1 6.5-5.5 5.9 3z"/><path fill="#00ba0c" d="M267.6 673.4l-5.8-3.1 6.4-6.3 5.8 3.1z"/><path fill="#aec012" d="M366.3 639l-5.8-3.3 6.6-4.3 5.9 3.2z"/><path fill="#00c00c" d="M286 664.2l-5.8-3.1 6.5-5.9 5.8 3.1z"/><path fill="#6cc60c" d="M335.3 646.5l-5.8-3.2 6.6-4.9 5.8 3.1z"/><path fill="#b4ba12" d="M378.6 638l-5.8-3.4 6.7-4.1 5.8 3.3z"/><path fill="#12c60c" d="M316.7 653.6l-5.9-3.2 6.6-5.3 5.8 3.1z"/><path fill="#a8c00c" d="M501.9 641.5l-5.8-4 6.8-2.3 5.8 4z"/><path fill="#b4b412" d="M390.9 637.2l-5.8-3.4 6.7-3.9 5.8 3.4z"/><path fill="#00ba0c" d="M261.3 679.9l-5.8-3.2 6.4-6.5 5.8 3.1z"/><path fill="#7ec60c" d="M347.6 644.8l-5.9-3.2 6.6-4.7 5.9 3.2z"/><path fill="#00c00c" d="M298.1 661.5l-5.8-3.2 6.5-5.7 5.8 3.1zM279.6 670.3l-5.8-3.2 6.5-6.1 5.8 3.1z"/><path fill="#aeba12" d="M489.6 640.1l-5.8-4 6.8-2.5 5.8 3.9z"/><path fill="#bab418" d="M403.3 636.7l-5.9-3.4 6.7-3.8 5.9 3.4z"/><path fill="#b4ba12" d="M477.3 638.9l-5.8-3.9 6.7-2.7 5.8 3.9z"/><path fill="#bab418" d="M415.6 636.5l-5.9-3.6 6.7-3.5 5.9 3.5z"/><path fill="#90c60c" d="M359.8 643.4l-5.8-3.3 6.6-4.5 5.9 3.2z"/><path fill="#b4b412" d="M464.9 637.9l-5.8-3.8 6.8-2.8 5.8 3.7z"/><path fill="#bab418" d="M427.9 636.5l-5.8-3.6 6.7-3.4 5.8 3.5z"/><path fill="#2ac60c" d="M328.8 651.5l-5.8-3.3 6.6-5.1 5.9 3.2z"/><path fill="#bab418" d="M452.6 637.2l-5.8-3.8 6.7-3 5.8 3.7zM440.3 636.7l-5.9-3.7 6.8-3.2 5.8 3.7z"/><path fill="#9cc60c" d="M372.1 642.2l-5.9-3.4 6.7-4.3 5.9 3.3z"/><path fill="#06c60c" d="M310.2 659l-5.8-3.2 6.5-5.6 5.9 3.2z"/><path fill="#00ba0c" d="M273.3 676.6l-5.8-3.3 6.4-6.3 5.8 3.1z"/><path fill="#00c00c" d="M291.7 667.4l-5.8-3.3 6.5-5.9 5.8 3.2z"/><path fill="#4ec60c" d="M341.1 649.6l-5.9-3.3 6.6-4.9 5.9 3.3z"/><path fill="#aec00c" d="M384.4 641.3l-5.9-3.4 6.7-4.2 5.9 3.4z"/><path fill="#b4c012" d="M396.7 640.6l-5.9-3.5 6.7-4 5.9 3.5z"/><path fill="#9cc00c" d="M495.3 644l-5.8-4 6.8-2.6 5.8 4z"/><path fill="#0cc60c" d="M322.4 656.7l-5.8-3.2 6.5-5.4 5.9 3.2z"/><path fill="#66c60c" d="M353.3 648l-5.9-3.3 6.7-4.8 5.8 3.4z"/><path fill="#00ba0c" d="M267 683.1l-5.8-3.3 6.4-6.6 5.8 3.2z"/><path fill="#b4c012" d="M409 640.2l-5.9-3.6 6.8-3.8 5.8 3.5z"/><path fill="#a8c00c" d="M483 642.7l-5.8-4 6.7-2.7 5.8 4z"/><path fill="#00c00c" d="M303.8 664.7l-5.8-3.3 6.5-5.8 5.9 3.3zM285.3 673.5l-5.8-3.3 6.5-6.2 5.8 3.2z"/><path fill="#b4ba12" d="M421.3 640l-5.8-3.7 6.7-3.6 5.8 3.6z"/><path fill="#aec012" d="M470.7 641.7l-5.9-3.9 6.8-2.9 5.8 3.9z"/><path fill="#b4ba12" d="M433.6 640.1l-5.8-3.8 6.7-3.4 5.9 3.7z"/><path fill="#b4c012" d="M458.3 640.9l-5.8-3.8 6.7-3.1 5.9 3.8z"/><path fill="#b4ba12" d="M446 640.4l-5.9-3.8 6.8-3.3 5.8 3.8z"/><path fill="#78c60c" d="M365.6 646.7l-5.9-3.4 6.7-4.6 5.8 3.4z"/><path fill="#12c60c" d="M334.6 654.7l-5.9-3.3 6.6-5.2 5.9 3.3z"/><path fill="#84c60c" d="M377.8 645.6l-5.8-3.5 6.7-4.4 5.8 3.5z"/><path fill="#00c60c" d="M316 662.3l-5.9-3.4 6.6-5.6 5.8 3.3z"/><path fill="#00ba0c" d="M279 679.9l-5.8-3.4 6.4-6.5 5.9 3.3z"/><path fill="#00c00c" d="M297.4 670.6l-5.8-3.3 6.5-6 5.8 3.3z"/><path fill="#2ac60c" d="M346.8 653l-5.8-3.5 6.6-4.9 5.8 3.3z"/><path fill="#90c60c" d="M390.1 644.7l-5.8-3.5 6.7-4.2 5.8 3.5z"/><path fill="#9cc60c" d="M402.4 644.1l-5.8-3.6 6.7-4 5.8 3.6z"/><path fill="#8ac60c" d="M488.7 646.7l-5.8-4.1 6.7-2.7 5.8 4z"/><path fill="#06c60c" d="M328.1 660.1l-5.8-3.5 6.6-5.4 5.8 3.4z"/><path fill="#48c60c" d="M359 651.4l-5.8-3.5 6.6-4.8 5.9 3.5z"/><path fill="#a2c60c" d="M414.7 643.8l-5.8-3.7 6.7-3.9 5.8 3.7z"/><path fill="#96c60c" d="M476.4 645.6l-5.9-4 6.8-3 5.8 4z"/><path fill="#00ba0c" d="M272.7 686.5l-5.8-3.5 6.4-6.7 5.8 3.4z"/><path fill="#a2c60c" d="M427 643.6l-5.8-3.7 6.7-3.7 5.9 3.7z"/><path fill="#9cc60c" d="M464 644.8l-5.8-4 6.8-3.1 5.8 3.9z"/><path fill="#a2c60c" d="M439.4 643.8l-5.9-3.9 6.8-3.4 5.8 3.7z"/><path fill="#00c00c" d="M309.5 668l-5.8-3.4 6.5-5.8 5.9 3.3z"/><path fill="#a2c60c" d="M451.7 644.1l-5.8-3.9 6.7-3.3 5.9 3.9z"/><path fill="#00c00c" d="M291 676.8l-5.8-3.4 6.5-6.3 5.8 3.4z"/><path fill="#60c60c" d="M371.3 650.1l-5.9-3.5 6.7-4.6 5.9 3.5z"/><path fill="#0cc60c" d="M340.3 658.1l-5.8-3.5 6.6-5.2 5.8 3.4z"/><path fill="#6cc60c" d="M383.6 649.1l-5.9-3.6 6.7-4.4 5.8 3.5z"/><path fill="#00c60c" d="M321.7 665.6l-5.9-3.4 6.6-5.7 5.8 3.4z"/><path fill="#00ba0c" d="M284.7 683.3l-5.8-3.5 6.4-6.5 5.9 3.4z"/><path fill="#78c60c" d="M395.8 648.3l-5.8-3.7 6.7-4.2 5.8 3.6z"/><path fill="#12c60c" d="M352.5 656.4l-5.8-3.6 6.6-5 5.9 3.5z"/><path fill="#00c00c" d="M303.1 674l-5.8-3.5 6.5-6 5.9 3.4z"/><path fill="#7ec60c" d="M408.1 647.8l-5.8-3.8 6.7-4.1 5.9 3.7z"/><path fill="#72c60c" d="M482 649.7l-5.7-4.2 6.7-3 5.8 4.1z"/><path fill="#84c60c" d="M420.4 647.5l-5.8-3.9 6.7-3.8 5.9 3.7z"/><path fill="#24c60c" d="M364.8 654.9l-5.9-3.6 6.7-4.8 5.8 3.5z"/><path fill="#00c60c" d="M333.8 663.5l-5.8-3.5 6.6-5.5 5.8 3.5z"/><path fill="#7ec60c" d="M469.7 648.7l-5.8-4.1 6.8-3.1 5.8 4z"/><path fill="#8ac60c" d="M432.8 647.4l-5.9-3.9 6.8-3.7 5.8 3.8z"/><path fill="#84c60c" d="M457.4 648l-5.8-4 6.7-3.3 5.9 3.9z"/><path fill="#8ac60c" d="M445.1 647.6l-5.8-4 6.7-3.5 5.8 3.9z"/><path fill="#00ba0c" d="M278.3 689.9l-5.7-3.5 6.4-6.8 5.8 3.5z"/><path fill="#00c00c" d="M315.2 671.4l-5.8-3.5 6.6-5.9 5.8 3.5z"/><path fill="#00ba0c" d="M296.7 680.3l-5.8-3.6 6.5-6.3 5.8 3.5z"/><path fill="#36c60c" d="M377 653.7l-5.8-3.7 6.7-4.6 5.8 3.6z"/><path fill="#06c60c" d="M346 661.6l-5.8-3.6 6.6-5.3 5.9 3.5z"/><path fill="#48cc0c" d="M389.3 652.7l-5.8-3.7 6.6-4.5 5.9 3.7z"/><path fill="#00c00c" d="M327.4 669.1l-5.8-3.6 6.5-5.7 5.9 3.5z"/><path fill="#5acc0c" d="M401.6 652l-5.9-3.8 6.7-4.3 5.9 3.7z"/><path fill="#0cc60c" d="M358.2 659.9l-5.8-3.6 6.7-5.1 5.8 3.6z"/><path fill="#00ba0c" d="M290.4 686.8l-5.8-3.6 6.5-6.6 5.8 3.5z"/><path fill="#00c00c" d="M308.8 677.5l-5.8-3.6 6.5-6.1 5.9 3.5z"/><path fill="#60cc0c" d="M413.9 651.5l-5.9-3.9 6.8-4.1 5.8 3.8z"/><path fill="#5ac60c" d="M475.4 652.8l-5.8-4.2 6.8-3.2 5.8 4.2z"/><path fill="#66cc0c" d="M426.2 651.3l-5.9-4 6.8-3.9 5.8 3.9zM463.1 652.1l-5.8-4.2 6.8-3.4 5.8 4.1z"/><path fill="#6ccc0c" d="M438.5 651.3l-5.8-4 6.7-3.8 5.8 4z"/><path fill="#66cc0c" d="M450.8 651.6l-5.8-4.1 6.7-3.6 5.8 4z"/><path fill="#12c60c" d="M370.5 658.5l-5.8-3.7 6.6-4.9 5.8 3.7z"/><path fill="#00c60c" d="M339.6 667l-5.9-3.6 6.6-5.5 5.9 3.5z"/><path fill="#00ba0c" d="M284 693.5l-5.8-3.7 6.5-6.8 5.8 3.6z"/><path fill="#00c00c" d="M320.9 675l-5.8-3.7 6.6-5.9 5.8 3.6z"/><path fill="#12c612" d="M382.7 657.4l-5.8-3.8 6.7-4.7 5.8 3.7z"/><path fill="#00ba0c" d="M302.4 683.8l-5.8-3.6 6.5-6.4 5.9 3.6z"/><path fill="#00c60c" d="M351.7 665.2l-5.8-3.7 6.6-5.4 5.9 3.7z"/><path fill="#24cc12" d="M395 656.5l-5.8-3.9 6.7-4.5 5.8 3.8z"/><path fill="#30cc0c" d="M407.3 655.8l-5.8-3.9 6.7-4.4 5.8 3.9z"/><path fill="#00c00c" d="M333.1 672.7l-5.8-3.7 6.6-5.8 5.8 3.7z"/><path fill="#00c60c" d="M364 663.6l-5.9-3.8 6.7-5.1 5.8 3.7z"/><path fill="#36cc0c" d="M419.6 655.4l-5.8-4 6.7-4.2 5.8 4z"/><path fill="#00ba0c" d="M296.1 690.4l-5.8-3.7 6.5-6.7 5.8 3.7z"/><path fill="#00c00c" d="M314.5 681.1l-5.8-3.7 6.6-6.2 5.8 3.7z"/><path fill="#3ccc0c" d="M431.9 655.2l-5.8-4 6.7-4 5.8 4z"/><path fill="#36cc0c" d="M468.8 656.2l-5.8-4.3 6.8-3.4 5.8 4.2z"/><path fill="#3ccc0c" d="M444.2 655.3l-5.8-4.1 6.7-3.8 5.8 4zM456.5 655.6l-5.8-4.2 6.7-3.6 5.8 4.2z"/><path fill="#06c60c" d="M376.2 662.3l-5.8-3.9 6.6-4.9 5.9 3.7z"/><path fill="#00c60c" d="M345.3 670.7l-5.9-3.8 6.7-5.6 5.8 3.8z"/><path fill="#0cc60c" d="M388.4 661.2l-5.8-3.9 6.7-4.8 5.8 3.8z"/><path fill="#00ba0c" d="M289.7 697.2l-5.8-3.8 6.5-6.9 5.8 3.8z"/><path fill="#00c00c" d="M326.6 678.7l-5.8-3.8 6.6-6 5.8 3.7zM308.1 687.5l-5.8-3.8 6.5-6.4 5.9 3.7z"/><path fill="#00c60c" d="M357.5 668.9l-5.9-3.8 6.7-5.4 5.8 3.8z"/><path fill="#0cc60c" d="M400.7 660.3l-5.8-4 6.7-4.6 5.8 4z"/><path fill="#12cc0c" d="M413 659.7l-5.8-4 6.7-4.4 5.8 4z"/><path fill="#00c00c" d="M338.8 676.5l-5.8-3.9 6.6-5.8 5.8 3.8z"/><path fill="#12cc12" d="M425.3 659.4l-5.8-4.1 6.7-4.3 5.8 4.1z"/><path fill="#00c60c" d="M369.7 667.4l-5.8-3.9 6.6-5.2 5.8 3.8z"/><path fill="#12cc12" d="M437.6 659.3l-5.8-4.2 6.7-4 5.8 4.1zM462.2 659.8l-5.8-4.3 6.7-3.7 5.8 4.3zM449.9 659.4l-5.8-4.2 6.7-3.9 5.8 4.2z"/><path fill="#00c00c" d="M320.2 684.9l-5.8-3.9 6.6-6.2 5.8 3.7z"/><path fill="#00ba0c" d="M301.8 694.2l-5.8-3.9 6.5-6.7 5.8 3.8z"/><path fill="#00c60c" d="M381.9 666.1l-5.8-3.9 6.7-5.1 5.8 3.9zM351 674.5l-5.8-3.9 6.6-5.6 5.8 3.8zM394.1 665.1l-5.8-4 6.7-4.9 5.8 4z"/><path fill="#00c00c" d="M332.3 682.5l-5.8-3.9 6.6-6.1 5.8 3.8z"/><path fill="#00ba0c" d="M295.4 701.1l-5.8-3.9 6.5-7 5.8 3.8z"/><path fill="#00c00c" d="M313.8 691.4l-5.8-4 6.5-6.5 5.8 3.8z"/><path fill="#06c60c" d="M406.4 664.3l-5.8-4.1 6.7-4.6 5.8 4z"/><path fill="#00c60c" d="M363.2 672.8l-5.9-4 6.7-5.4 5.8 3.9z"/><path fill="#06c60c" d="M418.7 663.8l-5.8-4.2 6.7-4.5 5.8 4.2z"/><path fill="#0ccc0c" d="M431 663.5l-5.8-4.2 6.7-4.3 5.8 4.2zM443.2 663.5l-5.7-4.3 6.7-4.1 5.8 4.2z"/><path fill="#00c00c" d="M344.5 680.3l-5.8-3.9 6.6-5.9 5.8 3.9z"/><path fill="#00c60c" d="M375.4 671.3l-5.8-4 6.6-5.3 5.8 4z"/><path fill="#0ccc0c" d="M455.5 663.7l-5.7-4.4 6.7-3.9 5.8 4.3z"/><path fill="#00c00c" d="M325.9 688.8l-5.8-4 6.6-6.4 5.8 4z"/><path fill="#00ba0c" d="M307.4 698.1l-5.8-4 6.5-6.8 5.8 3.9z"/><path fill="#00c60c" d="M387.6 670.1l-5.8-4.1 6.7-5.1 5.8 4.1z"/><path fill="#00c00c" d="M356.7 678.4l-5.8-4 6.6-5.7 5.8 4z"/><path fill="#00c60c" d="M399.8 669.2l-5.8-4.2 6.7-4.9 5.8 4.1z"/><path fill="#00c00c" d="M338 686.4l-5.8-4 6.6-6.2 5.8 4z"/><path fill="#00ba0c" d="M301.1 705.1l-5.8-4.1 6.5-7.1 5.8 4z"/><path fill="#00c60c" d="M412.1 668.4l-5.8-4.2 6.7-4.7 5.8 4.2z"/><path fill="#00c00c" d="M319.5 695.3l-5.8-4 6.5-6.6 5.8 3.9z"/><path fill="#00c60c" d="M368.9 676.8l-5.9-4.1 6.7-5.5 5.8 4zM424.4 668l-5.8-4.3 6.7-4.6 5.8 4.3zM436.6 667.8l-5.7-4.4 6.7-4.4 5.8 4.4zM448.9 667.8l-5.8-4.4 6.8-4.2 5.8 4.4zM381.1 675.4l-5.8-4.2 6.6-5.3 5.8 4.1z"/><path fill="#00c00c" d="M350.2 684.3l-5.8-4.1 6.6-5.9 5.8 4zM331.6 692.8l-5.8-4.1 6.6-6.4 5.8 4z"/><path fill="#00ba0c" d="M313.1 702.1l-5.8-4.1 6.5-6.9 5.8 4.1z"/><path fill="#00c60c" d="M393.3 674.2l-5.8-4.2 6.7-5.1 5.8 4.1z"/><path fill="#00c00c" d="M362.3 682.5l-5.7-4.2 6.6-5.7 5.8 4.1z"/><path fill="#00c60c" d="M405.5 673.3l-5.8-4.3 6.7-4.9 5.8 4.2zM417.8 672.7l-5.8-4.4 6.7-4.8 5.8 4.3z"/><path fill="#00c00c" d="M343.7 690.5l-5.8-4.2 6.6-6.2 5.8 4.1z"/><path fill="#00ba0c" d="M306.7 709.2l-5.7-4.2 6.4-7.2 5.8 4.2z"/><path fill="#00c00c" d="M374.5 680.9l-5.8-4.2 6.7-5.6 5.8 4.2z"/><path fill="#00c60c" d="M430 672.3l-5.7-4.4 6.7-4.6 5.8 4.3z"/><path fill="#00c00c" d="M325.2 699.4l-5.8-4.2 6.5-6.7 5.8 4.1z"/><path fill="#00c60c" d="M442.3 672.1l-5.8-4.5 6.8-4.4 5.8 4.5zM386.7 679.6l-5.7-4.3 6.6-5.4 5.8 4.2z"/><path fill="#00c00c" d="M355.9 688.5l-5.8-4.3 6.6-6 5.8 4.2zM337.3 696.9l-5.8-4.2 6.6-6.5 5.7 4.2z"/><path fill="#00c60c" d="M399 678.5l-5.8-4.4 6.7-5.2 5.8 4.3z"/><path fill="#00ba0c" d="M318.8 706.3l-5.8-4.3 6.5-6.9 5.8 4.1z"/><path fill="#00c00c" d="M368 686.7l-5.8-4.3 6.7-5.8 5.8 4.2z"/><path fill="#00c60c" d="M411.2 677.6l-5.8-4.4 6.7-5 5.8 4.4zM423.5 677.1l-5.8-4.5 6.7-4.9 5.8 4.5z"/><path fill="#00c00c" d="M349.4 694.7l-5.8-4.3 6.6-6.3 5.8 4.2z"/><path fill="#00c60c" d="M435.7 676.7l-5.8-4.5 6.8-4.7 5.7 4.5z"/><path fill="#00c00c" d="M380.2 685.2l-5.8-4.4 6.7-5.7 5.8 4.3z"/><path fill="#00ba0c" d="M312.4 713.4l-5.8-4.3 6.5-7.2 5.8 4.2zM330.8 703.6l-5.7-4.3 6.5-6.8 5.8 4.3z"/><path fill="#00c00c" d="M392.4 683.9l-5.8-4.4 6.7-5.5 5.8 4.4zM361.5 692.7l-5.7-4.3 6.6-6.1 5.8 4.3zM404.6 682.9l-5.7-4.5 6.7-5.3 5.7 4.4zM342.9 701.2l-5.7-4.4 6.5-6.5 5.8 4.3z"/><path fill="#00ba0c" d="M324.4 710.6l-5.7-4.4 6.5-7 5.8 4.3z"/><path fill="#00c60c" d="M416.9 682.1l-5.8-4.6 6.7-5.1 5.8 4.5z"/><path fill="#00c00c" d="M373.7 691l-5.8-4.4 6.7-5.9 5.7 4.3z"/><path fill="#00c60c" d="M429.1 681.6l-5.8-4.7 6.8-4.9 5.7 4.6z"/><path fill="#00c00c" d="M355.1 699l-5.8-4.4 6.6-6.4 5.8 4.4zM385.9 689.5l-5.8-4.4 6.7-5.8 5.7 4.5z"/><path fill="#00ba0c" d="M318 717.8l-5.7-4.5 6.5-7.3 5.8 4.4zM336.5 708l-5.8-4.5 6.6-6.8 5.8 4.4z"/><path fill="#00c00c" d="M398.1 688.3l-5.8-4.5 6.7-5.6 5.8 4.5zM367.2 697.1l-5.8-4.5 6.6-6.1 5.8 4.4zM410.3 687.4l-5.8-4.7 6.7-5.3 5.8 4.6z"/><path fill="#00ba0c" d="M348.6 705.6l-5.8-4.5 6.6-6.6 5.8 4.4zM330.1 715l-5.8-4.5 6.6-7.1 5.7 4.4z"/><path fill="#00c00c" d="M422.5 686.7l-5.7-4.7 6.7-5.2 5.7 4.6zM379.4 695.5l-5.8-4.6 6.6-6 5.8 4.5zM360.7 703.5l-5.8-4.6 6.7-6.4 5.7 4.5zM391.5 694.1l-5.7-4.7 6.6-5.8 5.8 4.6z"/><path fill="#00ba0c" d="M323.7 722.3l-5.8-4.6 6.5-7.4 5.8 4.5zM342.1 712.4l-5.7-4.5 6.6-6.9 5.7 4.5z"/><path fill="#00c00c" d="M403.7 692.9l-5.7-4.7 6.7-5.6 5.7 4.6zM372.9 701.7l-5.8-4.7 6.6-6.2 5.8 4.5zM415.9 692l-5.7-4.7 6.7-5.5 5.8 4.7z"/><path fill="#00ba0c" d="M354.2 710.1l-5.7-4.6 6.6-6.7 5.7 4.6zM335.7 719.6l-5.7-4.7 6.5-7.2 5.8 4.6z"/><path fill="#00c00c" d="M385 700.1l-5.8-4.7 6.7-6.1 5.8 4.6zM397.2 698.7l-5.8-4.7 6.7-5.9 5.8 4.7z"/><path fill="#00ba0c" d="M366.4 708.1l-5.8-4.7 6.6-6.5 5.8 4.6zM329.3 726.9l-5.7-4.7 6.5-7.5 5.8 4.7zM347.8 717.1l-5.8-4.8 6.6-6.9 5.8 4.6z"/><path fill="#00c00c" d="M409.4 697.6l-5.8-4.8 6.7-5.7 5.8 4.8z"/><path fill="#00ba0c" d="M378.5 706.3l-5.8-4.8 6.7-6.3 5.7 4.7zM359.9 714.8l-5.8-4.8 6.6-6.7 5.8 4.7zM341.4 724.3l-5.8-4.8 6.6-7.3 5.7 4.7z"/><path fill="#00c00c" d="M390.7 704.8l-5.8-4.9 6.7-6.1 5.7 4.8zM402.8 703.5l-5.7-4.9 6.7-5.9 5.7 4.8z"/><path fill="#00ba0c" d="M372 712.8l-5.7-4.8 6.6-6.6 5.7 4.8zM335 731.7l-5.8-4.9 6.5-7.5 5.8 4.8zM353.4 721.8l-5.7-4.8 6.6-7.1 5.7 4.8zM384.1 711.1l-5.7-4.9 6.6-6.4 5.8 4.8zM365.5 719.7l-5.7-5 6.6-6.8 5.7 4.8zM396.3 709.6l-5.8-4.9 6.7-6.2 5.8 4.9zM347 729.1l-5.7-4.9 6.5-7.4 5.8 4.9zM377.6 717.7l-5.7-5 6.6-6.6 5.8 4.9z"/><path fill="#00b40c" d="M340.6 736.7l-5.8-5.1 6.6-7.6 5.7 5z"/><path fill="#00ba0c" d="M359.1 726.7l-5.8-5 6.6-7.1 5.7 4.9zM389.8 716.1l-5.8-5.1 6.7-6.5 5.7 5zM371.1 724.6l-5.7-5.1 6.6-6.9 5.8 5zM352.6 734.1l-5.7-5.1 6.5-7.4 5.8 5zM383.2 722.7l-5.7-5.1 6.7-6.7 5.7 5zM364.7 731.8l-5.8-5.2 6.6-7.2 5.8 5.1z"/><path fill="#00b40c" d="M346.2 741.7l-5.7-5.1 6.5-7.7 5.7 5z"/><path fill="#00ba0c" d="M376.8 729.7l-5.8-5.2 6.6-7 5.8 5.1z"/><path fill="#00b40c" d="M358.2 739.2l-5.7-5.2 6.6-7.5 5.7 5.1z"/><path fill="#00ba0c" d="M370.3 737l-5.7-5.3 6.6-7.3 5.7 5.2z"/><path fill="#00b40c" d="M351.8 746.9l-5.7-5.3 6.5-7.8 5.7 5.3zM363.8 744.5l-5.7-5.4 6.6-7.6 5.7 5.3zM357.4 752.3l-5.7-5.4 6.5-7.9 5.7 5.4z"/><path d="M357.4 752.2L351.8 746.8L346.2 741.6L340.6 736.5L335 731.6L329.3 726.8L323.7 722.2L318 717.7L312.4 713.3L306.7 709L301.1 704.9L295.4 701L289.7 697.1L284 693.4L278.4 689.8L272.7 686.4L267 683L261.3 679.8L255.6 676.7L249.9 673.7L244.2 670.8L238.5 668.1L232.8 665.4L227 662.9L221.3 660.5L215.6 658.2L209.9 656L204.2 653.9L198.5 651.9L192.8 650L187.1 648.2L181.4 646.5L175.7 644.9L170 643.4L164.4 641.9L158.7 640.6L153 639.4L147.3 638.2L141.7 637.1L136 636.1L130.4 635.2M130.4 635.2L136.5 630.1L142.6 625.2L148.8 620.4L154.9 615.9L161.1 611.5L167.4 607.3L173.6 603.3L179.9 599.5L186.2 595.9L192.5 592.5L198.8 589.3L205.2 586.2L211.5 583.3L217.9 580.6L224.3 578.1L230.7 575.8L237.1 573.6L243.6 571.6L250 569.8L256.4 568.2L262.9 566.7L269.4 565.4L275.8 564.3L282.3 563.3L288.8 562.6L295.3 561.9L301.7 561.5L308.2 561.2L314.7 561.1L321.2 561.1L327.7 561.3L334.2 561.6L340.6 562.1L347.1 562.8L353.6 563.6L360 564.6L366.5 565.7L372.9 567L379.3 568.5L385.7 570M385.7 570L391.6 570L397.5 570.1L403.4 570.2L409.3 570.4L415.2 570.6L421.1 570.9L427 571.3L432.9 571.8L438.8 572.4L444.7 573L450.6 573.7L456.5 574.5L462.4 575.3L468.3 576.3L474.2 577.3L480.1 578.4L486 579.6L491.9 580.8L497.8 582.2L503.6 583.6L509.5 585.1L515.4 586.7L521.3 588.4L527.1 590.1L533 592L538.9 593.9L544.7 596L550.6 598.1L556.4 600.3L562.2 602.5L568 604.9L573.8 607.4L579.6 609.9L585.4 612.6L591.2 615.3L597 618.2L602.7 621.1L608.5 624.1L614.2 627.2L619.9 630.4M619.9 630.4L613.5 629.5L607 628.8L600.6 628.2L594.1 627.8L587.6 627.6L581.1 627.5L574.5 627.6L568 627.9L561.4 628.4L554.8 629L548.3 629.9L541.7 630.9L535.1 632.2L528.5 633.6L521.8 635.2L515.2 637.1L508.6 639.2L502 641.4L495.3 643.9L488.7 646.6L482.1 649.5L475.4 652.7L468.8 656.1L462.2 659.7L455.6 663.6L448.9 667.7L442.3 672L435.7 676.6L429.1 681.4L422.5 686.5L416 691.9L409.4 697.5L402.8 703.4L396.3 709.5L389.8 715.9L383.3 722.6L376.8 729.6L370.3 736.8L363.8 744.4L357.4 752.2" fill="none" stroke="#000" stroke-width="1.20" stroke-opacity="0.60"/></g>
<path d="M124.0 548.0h.1M126.5 582.0h.1M129.0 616.4h.1M131.5 650.4h.1M134.0 685.0h.1M136.5 719.6h.1" stroke="#d22" stroke-width="2.2" stroke-linecap="round"/>
<circle cx="373.0" cy="558.4" r="2.8" fill="#e81010"/>
<circle cx="373.0" cy="576.0" r="2.4" fill="#e81010"/>
<text x="84.0" y="554.9" font-size="20.4">95.0</text>
<text x="85.2" y="587.5" font-size="20.4">90.0</text>
<text x="87.0" y="621.7" font-size="20.4">85.0</text>
<text x="88.6" y="655.8" font-size="20.4">80.0</text>
<text x="90.8" y="690.0" font-size="20.4">75.0</text>
<text x="91.6" y="724.1" font-size="20.4">70.0</text>
<text x="112.4" y="796.9" font-size="20.4">46.0</text>
<text x="164.1" y="820.5" font-size="20.4">39.0</text>
<text x="208.4" y="841.2" font-size="20.4">32.0</text>
<text x="261.4" y="863.1" font-size="20.4">25.0</text>
<text x="311.0" y="881.7" font-size="20.4">18.0</text>
<text x="361.6" y="882.0" font-size="20.4">32.0</text>
<text x="424.5" y="868.4" font-size="20.4">38.0</text>
<text x="485.7" y="851.8" font-size="20.4">44.0</text>
<text x="544.5" y="834.5" font-size="20.4">50.0</text>
<text x="604.4" y="813.8" font-size="20.4">56.0</text>
<text x="71.5" y="767.5" font-size="19.3" transform="rotate(-90.00 71.5 767.5)">Rate of residual filmY1/%</text>
<text x="55.0" y="831.0" font-size="19.3" transform="rotate(20.10 55.0 831.0)">Working angle of picking mechanism<tspan font-style="italic" font-weight="normal">x</tspan><tspan font-size="10" font-weight="normal" dy="3">1</tspan><tspan font-size="11" font-weight="normal" dy="-4">/°</tspan></text>
<text x="381.0" y="947.0" font-size="19.3" transform="rotate(-19.50 381.0 947.0)">Working angle of&#160; clamping conveyor<tspan font-weight="normal">x</tspan><tspan font-size="10" font-weight="normal" dy="3">3</tspan><tspan font-size="11" font-weight="normal" dy="-4">/°</tspan></text>
<text x="365" y="982" font-size="28" text-anchor="middle" font-weight="normal">(<tspan font-weight="bold">b</tspan>)</text>
<path d="M183.3 1246.8L168.4 1028M241.9 1182.5L233.7 1019.5M304.1 1170.3L299 1011M366.2 1158.2L364.3 1002.5M428.4 1146.1L429.6 994M168.4 1028L429.6 994M170.6 1061L429.4 1024.1M172.9 1094.4L429.1 1054.6M175.2 1128L428.9 1085.3M177.5 1161.6L428.6 1115.9M179.7 1194.6L428.4 1146.1M636.9 1259.6L653.6 1037.6M598.4 1194.5L608.8 1028.9M555.9 1182.4L564 1020.2M513.4 1170.3L519.2 1011.4M470.9 1158.2L474.4 1002.7M428.4 1146.1L429.6 994M653.6 1037.6L429.6 994M651.1 1071.1L429.4 1024.1M648.5 1105L429.1 1054.6M646 1139.1L428.9 1085.3M643.4 1173.2L428.6 1115.9M640.9 1206.6L428.4 1146.1" stroke="#747474" stroke-width="1.20" fill="none"/>
<path d="M381 1330L183.3 1246.8L428 1193.7L636.9 1259.6Z" fill="#ffff00" stroke="#8a7a00" stroke-width=".8"/>
<path d="M311.9 1218.9L310.2 1220.4L309.2 1221.6L308.4 1222.7L307.6 1223.8L307 1225.1L306.5 1226.3L306.2 1227.7L306 1229.1L306.1 1230.5L306.4 1232.1L306.7 1233.2L307.2 1234.3L307.8 1235.6L309.1 1237.5L310 1238.6L311.2 1239.9L313.1 1241.5L314.3 1242.5L316.9 1244.4L319.6 1246.1L321.4 1247L324.8 1248.7L328.5 1250.3L332.5 1251.9L336.9 1253.3L341.6 1254.7L344.1 1255.4L349.5 1256.6L353 1257.3L358.4 1258.2L361.7 1258.7L366.3 1259.2L371.8 1259.8L376.5 1260.1L380.8 1260.3L385.4 1260.4L390.2 1260.4L394.1 1260.4L397.9 1260.2L402.4 1260L408.4 1259.5L411.7 1259.1L417.9 1258.3L421.8 1257.7L426.4 1256.8L431.6 1255.6L436.5 1254.4L441.1 1252.9L443.2 1252.2L447.3 1250.6L450.1 1249.4L452.8 1248.1L454.7 1247L457.6 1245.3L459 1244.3L460.4 1243.2L462.2 1241.5L463.7 1240L464.6 1238.8L465.3 1237.6L466 1236.4L466.5 1235.1L466.8 1233.8L466.9 1232.4L466.9 1230.9L466.6 1229.7L466.3 1228.6L465.8 1227.5L465 1226L463.8 1224.5L462.9 1223.5L461.4 1222L459.8 1220.7L458.2 1219.6L455.9 1218.1L452.9 1216.5L451.3 1215.7L447.8 1214.2L444 1212.8L439.9 1211.4L435.4 1210.1L430.6 1208.9L428.1 1208.4L422.6 1207.3L418.5 1206.6L413.7 1205.9L410.4 1205.4L405 1204.8L399.7 1204.4L395.7 1204.1L391.5 1203.9L387 1203.7L382.1 1203.7" stroke="#cc7a00" stroke-width="1.1" stroke-opacity=".75" fill="none"/>
<path d="M265.9 1228.9L266 1230.1L266.3 1231.6L266.7 1233.3L267.2 1234.7L267.7 1235.8L268.2 1236.9L269.4 1238.8L270.3 1240.1L271.1 1241.2L272.8 1243.1L273.9 1244.3L275.3 1245.6L277.1 1247.3L278.7 1248.5L280.9 1250.1L283.6 1252L285.1 1252.9L288.2 1254.7L291.4 1256.5L293.2 1257.4L296.8 1259L300.6 1260.7L304.6 1262.3L308.8 1263.8L312.3 1264.9L315.7 1266L320.5 1267.3L325.7 1268.7L328.3 1269.3L333.9 1270.5L336.8 1271.1L342.4 1272.1L346.1 1272.6L349.3 1273.1L355.1 1273.8L359.8 1274.3L363.6 1274.7L367.5 1275L371.6 1275.3L375.8 1275.5L380.4 1275.6L385 1275.7L390 1275.8L395.4 1275.7L401 1275.5L404.7 1275.3L408.3 1275.1L414.5 1274.7L418.7 1274.3L422.7 1273.8L428.4 1273.1L433.2 1272.4L437.4 1271.7L443.1 1270.7L448.6 1269.5L453.8 1268.3L458.8 1267L463.6 1265.6L468.2 1264.1L472.6 1262.6L474.7 1261.8L478.7 1260.1L482.1 1258.6L484.4 1257.5L487.1 1256.1L489.5 1254.8L491.1 1253.8L494.2 1251.9L495.6 1250.8L496.9 1249.8L498.9 1248.2L500.6 1246.6L501.7 1245.5L502.8 1244.4L503.7 1243.2L504.6 1241.9L505.5 1240.5L506.3 1239.1L506.9 1237.7L507.3 1236.4L507.6 1235.2L507.8 1233.9L507.9 1232.7L507.9 1231.5L507.8 1230.1L507.5 1228.6L507 1227L506.6 1225.9L506.1 1224.9L505.3 1223.7L504.1 1221.9L503.3 1220.9L502.5 1219.9L500.6 1218.1L499.5 1217.1L497.7 1215.7" stroke="#e0c800" stroke-width="1.1" stroke-opacity=".75" fill="none"/>
<path d="M237.8 1235L238.3 1236.1L238.8 1237.3L239.9 1239.2L240.7 1240.5L241.4 1241.6L242.7 1243.4L243.8 1244.8L244.7 1245.8L246.7 1247.9L247.7 1248.9L250 1250.9L251.1 1251.9L253.6 1253.9L254.9 1254.8L257.6 1256.7L259.4 1257.9L262 1259.5L265.2 1261.3L268.5 1263.1L270.2 1264L273.8 1265.7L277.5 1267.4L281.4 1269L285.5 1270.6L289.7 1272.2L294.2 1273.7L296.5 1274.4L301.2 1275.9L306.2 1277.3L308.8 1277.9L314.1 1279.2L318.2 1280.2L322.5 1281.1L326.2 1281.8L331.5 1282.7L334.6 1283.2L339.9 1284L344.6 1284.6L348.1 1285.1L351.7 1285.5L357.1 1286L362.3 1286.4L367.2 1286.7L371.4 1287L375.8 1287.1L380.4 1287.3L385.1 1287.3L389.7 1287.4L393.8 1287.3L397.8 1287.2L401.7 1287.1L407 1286.9L412.9 1286.6L416.5 1286.3L420.5 1286L426.8 1285.4L430.1 1285L436.6 1284.2L439.7 1283.8L445.8 1282.8L450.5 1282L454.6 1281.2L460.2 1280.1L465.6 1278.9L470.8 1277.6L475.8 1276.3L480.7 1274.9L485.4 1273.4L489.9 1271.9L492.2 1271L496.4 1269.5L500.5 1267.8L502.5 1266.9L506.3 1265.2L508.2 1264.3L511.7 1262.4L513.4 1261.5L516.6 1259.6L518.3 1258.6L519.9 1257.5L522.7 1255.6L524.2 1254.5L525.5 1253.5L527.3 1252L529.1 1250.3L530.3 1249.1L531.3 1248L532.3 1246.8L533.3 1245.5L534.4 1244L535.3 1242.6L536.1 1241.2L536.7 1239.8L537.3 1238.5L537.7 1237.2L538 1235.9L538.2 1234.7L538.4 1233.4L538.4 1232.2L538.4 1231.1L538.3 1229.9L538.1 1228.4" stroke="#b0e000" stroke-width="1.1" stroke-opacity=".75" fill="none"/>
<path d="M215.6 1239.8L216.2 1240.9L217.1 1242.2L218.4 1244.2L219.2 1245.2L220.3 1246.6L221.8 1248.4L222.8 1249.5L224.8 1251.5L225.9 1252.5L228.1 1254.5L229.4 1255.6L231.8 1257.6L233.1 1258.5L235.8 1260.5L237.3 1261.5L240.1 1263.3L243.1 1265.2L245.2 1266.4L248 1267.9L251.4 1269.7L254.9 1271.4L258.6 1273.2L262.5 1274.8L266.4 1276.5L270.6 1278.1L274.9 1279.7L279.4 1281.2L284 1282.7L286.4 1283.4L291.3 1284.8L296.4 1286.2L299 1286.9L304.4 1288.2L307.2 1288.8L312.9 1290L315.8 1290.6L321.9 1291.7L325.1 1292.2L328.9 1292.8L334.9 1293.7L338.3 1294.1L341.8 1294.5L346.8 1295.1L352.1 1295.6L356.8 1296L360.8 1296.3L364.9 1296.5L369.1 1296.7L373.5 1296.9L378.1 1297.1L382.8 1297.1L387.7 1297.2L392.8 1297.2L397.6 1297.1L401.5 1297L405.4 1296.8L409.8 1296.6L416.2 1296.3L420.2 1296L423.7 1295.7L430.6 1295L434 1294.7L439.4 1294L443.8 1293.5L449.6 1292.6L453.1 1292.1L459.1 1291.1L463 1290.3L467.8 1289.4L473.3 1288.2L478.7 1287L484 1285.7L489.1 1284.3L494 1282.9L498.8 1281.4L503.5 1279.9L508 1278.3L510.2 1277.5L514.5 1275.8L518.4 1274.2L520.6 1273.3L524.5 1271.5L526.4 1270.6L530.1 1268.8L531.9 1267.8L535.3 1265.9L537 1265L539.1 1263.7L541.8 1262L543.3 1261L545.2 1259.6L547.5 1257.8L548.9 1256.8L550.1 1255.7L551.9 1254.1L553.6 1252.5L554.8 1251.2L555.8 1250.1L556.8 1248.9L557.8 1247.7L558.9 1246.2L559.8 1244.8L560.7 1243.3L561.4 1241.9L562 1240.6L562.5 1239.2L563 1237.9L563.3 1236.7" stroke="#88d800" stroke-width="1.1" stroke-opacity=".75" fill="none"/>
<path d="M305 1298L309.3 1298.8L312.4 1299.4L318.6 1300.5L321.8 1301L325.6 1301.6L331.7 1302.4L335.4 1302.8L339 1303.3L343 1303.7L348.3 1304.2L353.5 1304.6L358.1 1304.9L362.3 1305.2L366.5 1305.4L370.9 1305.6L375.4 1305.7L380.1 1305.8L384.9 1305.9L389.9 1305.9L394.2 1305.9L398.3 1305.8L402.2 1305.7L406.3 1305.5L412.3 1305.3L417.5 1304.9L421.1 1304.7L425.5 1304.4L431.7 1303.8L435.2 1303.5L441 1302.8L445.2 1302.3L450.3 1301.6L454.8 1301L461 1300L464 1299.5L469.9 1298.4L475.7 1297.3L478.6 1296.7L484.1 1295.5L489.6 1294.2L494.9 1292.9L500 1291.5L505 1290.1L509.9 1288.6L514.7 1287.1L519.3 1285.5L521.5 1284.7L526 1283.1L530.3 1281.4L532.4 1280.6L536.5 1278.8L539.7 1277.4L542.3 1276.1L545.8 1274.5L547.9 1273.4L550.8 1271.8L553.2 1270.5L555.1 1269.4L558.2 1267.5L559.8 1266.5L562 1265.1L564.3 1263.4L565.8 1262.4L567.4 1261.1L569.7 1259.3L571.1 1258.1L572.3 1257L573.6 1255.8L575.3 1254.1L576.8 1252.5L577.8 1251.3L578.8 1250.1L579.7 1248.9L580.6 1247.7L581.4 1246.4L582.3 1245L583.1 1243.5M208.9 1257.6L206.7 1255.6L205.6 1254.6L203.6 1252.5L202.6 1251.4L200.8 1249.5L199.8 1248.2L198.9 1247.1L197.4 1245L196.6 1243.9" stroke="#66d000" stroke-width="1.1" stroke-opacity=".75" fill="none"/>
<path d="M336.3 1311.2L341.7 1311.7L346.1 1312.1L350.1 1312.4L354.1 1312.7L358.2 1313L362.4 1313.2L366.7 1313.4L371.1 1313.6L375.7 1313.7L380.4 1313.8L385.3 1313.8L390.3 1313.8L395.5 1313.8L400.8 1313.7L404.8 1313.5L408.7 1313.4L412.6 1313.2L418.8 1312.8L423.7 1312.5L427.3 1312.2L432.5 1311.8L437.8 1311.3L441.2 1310.9L447.9 1310.1L451.2 1309.7L457.7 1308.8M600.7 1248.2L599.8 1249.4L599 1250.6L598 1251.8L596.8 1253.3L595.4 1254.9L593.9 1256.4L592.8 1257.6L591.6 1258.7L590.2 1260L588.1 1261.8L586.5 1263.1L585.1 1264.2L583.3 1265.5L580.8 1267.4L579.3 1268.4L577.4 1269.7L574.6 1271.5L572.9 1272.5L570 1274.2L567.8 1275.4L565.5 1276.7L562.4 1278.3L560.2 1279.4L556.7 1281.1L553.7 1282.5" stroke="#55cc00" stroke-width="1.1" stroke-opacity=".75" fill="none"/>
<path d="M358.3 1320.5L363.1 1320.7L367.7 1320.9L372.2 1321L376.7 1321.1L381.1 1321.2L385.3 1321.2L389.6 1321.2L393.7 1321.2L398.5 1321.1L404.1 1320.9L409.7 1320.7L413.5 1320.5M615.9 1253L615 1254.2L614 1255.4L612.9 1256.5L611.7 1257.9L610 1259.5L608.4 1261.1L607.1 1262.2L605.9 1263.3L604 1264.9L601.9 1266.6L600.4 1267.7L599 1268.8L596.1 1270.8" stroke="#44c400" stroke-width="1.1" stroke-opacity=".75" fill="none"/>
<path d="M376.4 1328.1L378 1328.1L380.7 1328.1L382.8 1328.1L385 1328.1L387.8 1328.1M629.8 1257.4L628.8 1258.5L627.7 1259.7L626 1261.4L624.2 1263.1" stroke="#33bc00" stroke-width="1.1" stroke-opacity=".75" fill="none"/>
<path d="M341.5 1313.4h.1M301.9 1296.7h.1M262.4 1280.1h.1M222.8 1263.4h.1M445.0 1312.4h.1M508.9 1294.8h.1M572.9 1277.2h.1" stroke="#222" stroke-width="2.2" stroke-linecap="round"/>
<g><path fill="#1e2a10" d="M211.9 1097.6L199.6 1107.8L193.5 1113.2L181.4 1124.6L175.4 1130.6L190.4 1128.2L200.5 1127.4L205.6 1127.2L215.8 1127.3L220.9 1127.6L231.1 1128.6L241.4 1130.3L246.6 1131.4L256.9 1134.2L267.3 1137.7L272.5 1139.7L282.9 1144.4L293.3 1149.8L298.5 1152.7L308.9 1159.4L319.3 1166.8L324.5 1170.8L334.9 1179.5L345.2 1189.1L350.4 1194.3L360.7 1205.2L370.9 1217.1L381.1 1230L394.2 1218.9L407.4 1208.8L420.6 1199.7L427.3 1195.6L440.5 1188L453.8 1181.4L460.4 1178.4L473.7 1173.2L487 1168.9L493.7 1167L506.9 1164L520.1 1161.9L526.8 1161.1L539.9 1160.2L553.1 1160.1L559.6 1160.3L572.6 1161.3L585.6 1163L592.1 1164.2L604.9 1167L611.3 1168.7L624.1 1172.5L630.4 1174.6L642.9 1179.4L633 1165.7L622.9 1152.8L612.8 1140.7L597.3 1123.9L586.9 1113.6L576.4 1104L565.8 1095.2L560.5 1091L549.8 1083.2L539 1076.1L528.2 1069.7L517.3 1064L511.8 1061.4L500.9 1056.6L489.9 1052.5L478.9 1049.1L461.4 1044.7L449.5 1042.2L437.5 1040.2L419 1037.8L401.6 1036.3L383.1 1035.8L364.7 1036.2L351.8 1037.2L338.8 1039L325.9 1041.5L313 1044.7L306.6 1046.6L293.8 1050.9L281 1055.9L268.3 1061.8L255.6 1068.3L249.3 1071.9L236.7 1079.7L224.3 1088.2Z"/><path fill="#000" d="M428.2 1040l-5.5-.2 6.6 1.4 5.6 .2zM421.8 1038.9l-5.5-.2 6.6 1.2 5.5 .2zM433.8 1040.4l-5.6-.3 6.6 1.3 5.6 .4zM415.3 1037.9l-5.5-.1 6.7 1 5.5 .2zM427.3 1039.2l-5.5-.2 6.6 1.2 5.6 .3zM439.3 1040.9l-5.6-.4 6.7 1.4 5.5 .5zM408.9 1037.2l-5.5-.1 6.6 .8 5.6 .1zM420.9 1038.3l-5.6-.3 6.7 1 5.5 .3zM432.8 1039.8l-5.5-.5 6.6 1.2 5.6 .5zM444.8 1041.6l-5.6-.6 6.7 1.5 5.5 .6zM402.4 1036.6l-5.5-.1 6.7 .7 5.5 0zM414.4 1037.4l-5.5-.2 6.6 .9 5.6 .2zM426.4 1038.7l-5.6-.4 6.7 1.1 5.5 .4zM438.3 1040.4l-5.5-.6 6.7 1.3 5.5 .6zM450.3 1042.5l-5.5-.8 6.6 1.5 5.6 .8zM396 1036.1l-5.5 0 6.7 .5 5.5 0zM407.9 1036.8l-5.5-.2 6.7 .7 5.5 .2zM419.9 1037.9l-5.5-.4 6.7 .9 5.5 .4zM431.9 1039.4l-5.6-.6 6.7 1.1 5.5 .6zM443.8 1041.2l-5.5-.7 6.7 1.3 5.5 .8zM455.8 1043.5l-5.5-1 6.6 1.5 5.6 1.1zM389.5 1035.8l-5.5 .1 6.7 .2 5.5 .1zM401.4 1036.3l-5.5-.2 6.7 .5 5.5 .2zM413.4 1037.2l-5.5-.4 6.7 .7 5.5 .4zM425.4 1038.5l-5.5-.6 6.7 .9 5.5 .6zM437.4 1040.1l-5.5-.7 6.6 1.1 5.6 .8zM461.3 1044.7l-5.5-1.2 6.7 1.6 5.5 1.1zM449.3 1042.2l-5.5-.9 6.7 1.3 5.5 1zM383 1035.7l-5.5 .1 6.7 .1 5.5 0zM395 1036l-5.5-.1 6.7 .3 5.5 .2zM406.9 1036.7l-5.5-.4 6.7 .6 5.5 .3zM418.9 1037.7l-5.5-.5 6.7 .7 5.5 .6zM430.9 1039.2l-5.5-.7 6.7 .9 5.5 .8zM466.8 1046l-5.5-1.3 6.7 1.5 5.5 1.4zM442.9 1041.1l-5.5-1 6.7 1.2 5.5 1zM454.9 1043.3l-5.6-1.1 6.7 1.4 5.5 1.1zM376.5 1035.8l-5.4 .1 6.7-.1 5.4 0zM388.5 1035.9l-5.5-.1 6.7 .1 5.5 .1zM400.4 1036.3l-5.4-.3 6.7 .3 5.5 .4zM412.4 1037.2l-5.5-.5 6.7 .5 5.5 .6zM424.4 1038.4l-5.5-.7 6.7 .8 5.5 .7zM472.3 1047.4l-5.5-1.4 6.7 1.6 5.5 1.5zM436.4 1040.1l-5.5-.9 6.7 1 5.5 .9zM460.4 1044.6l-5.5-1.3 6.6 1.4 5.6 1.3zM448.4 1042.1l-5.5-1 6.7 1.1 5.5 1.2zM370.1 1036.1l-5.5 .1 6.7-.3 5.5-.1zM382 1035.9l-5.5-.1 6.7-.1 5.5 .2zM394 1036.1l-5.5-.2 6.7 .1 5.5 .3zM405.9 1036.8l-5.5-.5 6.8 .4 5.5 .5zM417.9 1037.8l-5.5-.6 6.7 .5 5.6 .8zM477.8 1049.1l-5.5-1.7 6.7 1.7 5.5 1.6zM429.9 1039.3l-5.5-.9 6.7 .8 5.5 .9zM465.9 1046l-5.5-1.4 6.7 1.4 5.5 1.5zM363.6 1036.5l-5.5 .1 6.7-.5 5.5-.1zM441.9 1041.1l-5.5-1 6.7 1 5.5 1.1zM453.9 1043.4l-5.5-1.3 6.7 1.2 5.5 1.3zM375.5 1036.1l-5.4-.1 6.7-.2 5.4 .1zM387.5 1036.1l-5.5-.2 6.7-.1 5.5 .3zM399.4 1036.6l-5.4-.5 6.7 .2 5.5 .5zM411.4 1037.4l-5.5-.6 6.8 .4 5.5 .6zM357.1 1037.1l-5.4 .1 6.7-.6 5.4-.2zM483.3 1050.9l-5.5-1.9 6.7 1.7 5.5 1.9zM423.4 1038.6l-5.5-.8 6.8 .6 5.5 .9zM471.4 1047.6l-5.5-1.6 6.7 1.4 5.5 1.7zM435.4 1040.3l-5.5-1 6.7 .8 5.5 1zM459.4 1044.8l-5.5-1.4 6.7 1.2 5.5 1.5zM447.4 1042.3l-5.5-1.2 6.7 1 5.5 1.3zM369 1036.5l-5.4 0 6.7-.5 5.5 .1zM381 1036.3l-5.5-.2 6.7-.3 5.5 .3zM393 1036.5l-5.5-.4 6.7 0 5.5 .5zM350.6 1037.8l-5.4 .2 6.7-.8 5.4-.2zM404.9 1037.1l-5.5-.6 6.8 .2 5.5 .7zM488.8 1052.8l-5.5-2 6.7 1.7 5.5 2zM416.9 1038.2l-5.5-.8 6.8 .4 5.5 .8zM476.9 1049.4l-5.5-1.8 6.7 1.4 5.5 1.9zM428.9 1039.6l-5.5-1 6.8 .6 5.5 1.1zM362.6 1037l-5.5 0 6.7-.6 5.5 0zM464.9 1046.3l-5.5-1.6 6.7 1.3 5.5 1.6zM440.9 1041.4l-5.5-1.2 6.7 .9 5.6 1.2zM452.9 1043.7l-5.5-1.4 6.7 1 5.5 1.5zM374.5 1036.6l-5.5-.1 6.7-.5 5.5 .3zM386.5 1036.7l-5.5-.4 6.7-.2 5.5 .4zM344.2 1038.8l-5.5 .2 6.7-1.1 5.5-.1zM398.4 1037.1l-5.5-.6 6.8 0 5.5 .6zM494.3 1054.9l-5.5-2.2 6.7 1.8 5.5 2.2zM356.1 1037.8l-5.5 0 6.7-.8 5.5 0zM410.4 1037.9l-5.5-.8 6.8 .2 5.5 .9zM482.4 1051.3l-5.5-2 6.7 1.5 5.5 2zM422.4 1039.1l-5.5-1 6.8 .5 5.5 1zM470.4 1048l-5.5-1.7 6.7 1.3 5.5 1.8zM434.4 1040.7l-5.5-1.1 6.8 .6 5.5 1.2zM458.4 1045.2l-5.5-1.6 6.7 1.1 5.5 1.6zM446.4 1042.8l-5.5-1.4 6.7 .9 5.6 1.4zM368 1037.2l-5.5-.2 6.7-.6 5.5 .2zM337.7 1039.9l-5.4 .3 6.6-1.3 5.5-.2zM380 1037l-5.5-.4 6.7-.4 5.5 .4zM391.9 1037.1l-5.5-.5 6.8-.2 5.5 .6zM349.6 1038.7l-5.5 0 6.7-1 5.5 0zM499.8 1057.2l-5.5-2.4 6.7 1.8 5.5 2.4zM403.9 1037.8l-5.5-.8 6.8 .1 5.5 .7zM487.9 1053.3l-5.5-2.1 6.7 1.5 5.4 2.2zM415.9 1038.8l-5.5-1 6.8 .3 5.5 1zM475.9 1049.9l-5.5-1.9 6.7 1.3 5.5 2zM361.5 1037.9l-5.4-.2 6.7-.8 5.4 .2zM427.9 1040.2l-5.5-1.2 6.7 .5 5.6 1.2zM463.9 1046.9l-5.5-1.8 6.7 1.1 5.5 1.8zM439.9 1042l-5.5-1.3 6.7 .7 5.6 1.3zM451.9 1044.2l-5.5-1.5 6.7 .9 5.6 1.6zM331.2 1041.2l-5.4 .3 6.7-1.4 5.4-.3zM373.5 1037.4l-5.5-.3 6.7-.6 5.5 .4zM343.1 1039.8l-5.4 .1 6.7-1.3 5.4 0zM385.4 1037.4l-5.5-.5 6.8-.4 5.5 .6zM505.3 1059.6l-5.5-2.5 6.7 1.8 5.4 2.5zM397.4 1037.8l-5.5-.7 6.7-.2 5.6 .8zM493.3 1055.6l-5.4-2.3 6.6 1.5 5.5 2.4zM355 1038.7l-5.4-.1 6.7-1 5.4 .2zM409.4 1038.6l-5.5-.9 6.7 .1 5.6 .9zM324.8 1042.7l-5.4 .3 6.6-1.6 5.4-.3zM481.4 1051.9l-5.5-2.1 6.7 1.4 5.5 2.1zM421.4 1039.8l-5.5-1.1 6.7 .3 5.6 1.1zM469.4 1048.7l-5.5-1.9 6.7 1.1 5.5 2zM433.4 1041.4l-5.5-1.3 6.7 .5 5.6 1.4zM457.4 1045.9l-5.5-1.8 6.7 1 5.5 1.7zM445.4 1043.4l-5.5-1.5 6.7 .7 5.6 1.6zM367 1038.1l-5.5-.3 6.7-.8 5.5 .4zM336.6 1041l-5.4 .1 6.7-1.3 5.4-.1zM378.9 1037.8l-5.5-.4 6.8-.6 5.5 .5zM510.7 1062.2l-5.4-2.7 6.6 1.8 5.5 2.7zM390.9 1038l-5.5-.7 6.7-.3 5.5 .7zM318.3 1044.4l-5.4 .3 6.7-1.8 5.4-.3zM348.5 1039.8l-5.4-.1 6.7-1.2 5.4 .1zM498.8 1058l-5.5-2.5 6.7 1.6 5.5 2.5zM402.9 1038.6l-5.5-.9 6.7-.1 5.5 .9zM486.9 1054.1l-5.5-2.3 6.7 1.4 5.5 2.3zM414.9 1039.6l-5.5-1.1 6.7 .1 5.5 1.1zM360.5 1038.9l-5.5-.2 6.7-1 5.5 .3zM474.9 1050.7l-5.5-2.1 6.7 1.2 5.5 2.1zM426.9 1041l-5.5-1.3 6.7 .3 5.5 1.4zM462.9 1047.6l-5.5-1.8 6.7 .9 5.5 2zM438.9 1042.8l-5.5-1.5 6.7 .6 5.6 1.5zM330.2 1042.5l-5.4 .1 6.6-1.6 5.5-.1zM450.9 1045l-5.5-1.7 6.7 .8 5.6 1.7zM372.4 1038.5l-5.5-.5 6.7-.7 5.5 .5zM311.9 1046.2l-5.4 .4 6.6-2 5.4-.4zM516.2 1065l-5.5-2.9 6.7 1.8 5.4 2.9zM342.1 1041l-5.5 0 6.7-1.4 5.4 .1zM384.4 1038.4l-5.5-.6 6.7-.5 5.5 .6zM504.3 1060.5l-5.5-2.6 6.7 1.6 5.4 2.7zM396.4 1038.8l-5.5-.9 6.7-.3 5.5 .9zM354 1039.9l-5.5-.2 6.7-1.1 5.5 .2zM492.4 1056.5l-5.5-2.5 6.6 1.4 5.5 2.5zM323.7 1044.1l-5.4 .2 6.6-1.8 5.5-.1zM408.4 1039.6l-5.5-1.1 6.7-.1 5.5 1.1zM480.4 1052.8l-5.5-2.2 6.7 1.2 5.5 2.3zM420.4 1040.7l-5.5-1.2 6.7 .1 5.5 1.3zM468.4 1049.6l-5.5-2.1 6.7 1 5.5 2.1zM432.4 1042.3l-5.5-1.4 6.7 .4 5.5 1.4zM456.4 1046.8l-5.5-1.9 6.7 .8 5.5 1.9zM444.4 1044.3l-5.5-1.6 6.7 .6 5.5 1.7zM365.9 1039.2l-5.5-.4 6.7-.9 5.5 .5zM305.5 1048.2l-5.4 .4 6.6-2.1 5.4-.4zM335.6 1042.4l-5.5 0 6.7-1.5 5.5 0zM521.6 1067.9l-5.4-3.1 6.6 1.9 5.5 3.1zM377.9 1039l-5.5-.6 6.7-.7 5.5 .6zM509.7 1063.2l-5.4-2.8 6.6 1.7 5.5 2.8zM389.9 1039.1l-5.5-.8 6.7-.4 5.5 .8zM317.3 1045.9l-5.4 .2 6.6-1.9 5.4-.2zM347.5 1041.1l-5.5-.2 6.7-1.3 5.5 .2zM497.8 1059l-5.5-2.6 6.7 1.4 5.5 2.7zM401.9 1039.7l-5.5-1 6.7-.3 5.5 1.1zM299 1050.5l-5.3 .4 6.6-2.4 5.4-.4zM485.9 1055.1l-5.5-2.4 6.7 1.3 5.5 2.4zM413.9 1040.7l-5.5-1.2 6.7-.1 5.5 1.3zM359.4 1040.2l-5.5-.4 6.7-1.1 5.5 .5zM473.9 1051.7l-5.5-2.2 6.7 1 5.5 2.3zM425.9 1042.1l-5.5-1.5 6.7 .2 5.5 1.5zM329.1 1044l-5.4 0 6.6-1.7 5.5 0zM461.9 1048.7l-5.5-2 6.7 .8 5.5 2zM437.9 1043.8l-5.5-1.6 6.7 .4 5.5 1.7zM449.9 1046.1l-5.5-1.9 6.7 .7 5.5 1.8zM527.1 1071l-5.5-3.2 6.6 1.8 5.5 3.3zM371.4 1039.7l-5.5-.5 6.7-.9 5.5 .6zM310.8 1047.9l-5.4 .3 6.6-2.2 5.5-.2zM515.2 1066.1l-5.5-3 6.7 1.7 5.4 3.1zM341 1042.5l-5.5-.2 6.7-1.5 5.5 .2zM383.3 1039.7l-5.5-.8 6.8-.7 5.5 .9zM292.6 1052.9l-5.3 .4 6.5-2.5 5.4-.5zM503.3 1061.7l-5.5-2.8 6.7 1.5 5.4 2.8zM395.3 1040l-5.5-1 6.7-.4 5.6 1zM352.9 1041.4l-5.5-.4 6.7-1.3 5.5 .4zM322.7 1045.8l-5.5 0 6.7-1.9 5.4 0zM491.3 1057.6l-5.5-2.6 6.7 1.3 5.5 2.6zM407.3 1040.8l-5.5-1.2 6.8-.2 5.5 1.2zM479.4 1054l-5.5-2.4 6.7 1.1 5.5 2.4zM419.4 1041.9l-5.6-1.3 6.8 0 5.5 1.4z"/><path fill="#181800" d="M532.5 1074.2l-5.5-3.4 6.6 2 5.5 3.4z"/><path fill="#000" d="M467.4 1050.8l-5.5-2.2 6.7 .8 5.5 2.3zM431.4 1043.5l-5.6-1.5 6.8 .2 5.5 1.6zM304.4 1050.1l-5.4 .3 6.6-2.4 5.4-.2zM364.9 1040.7l-5.5-.6 6.7-1 5.5 .5zM455.4 1047.9l-5.5-2 6.7 .7 5.5 2zM443.4 1045.5l-5.5-1.8 6.7 .5 5.5 1.8zM334.5 1044l-5.4-.1 6.6-1.7 5.5 .2z"/><path fill="#120600" d="M286.2 1055.5l-5.3 .5 6.5-2.8 5.4-.5z"/><path fill="#121200" d="M520.6 1069.2l-5.4-3.2 6.6 1.7 5.5 3.2z"/><path fill="#000" d="M376.8 1040.4l-5.5-.7 6.7-.9 5.5 .8z"/><path fill="#120c00" d="M508.7 1064.5l-5.5-3 6.7 1.6 5.5 3z"/><path fill="#060000" d="M316.2 1047.7l-5.4 .1 6.6-2.1 5.4 0z"/><path fill="#000" d="M388.8 1040.5l-5.5-.9 6.7-.6 5.5 .9zM346.4 1042.7l-5.5-.3 6.7-1.5 5.5 .4z"/><path fill="#0c0600" d="M496.8 1060.3l-5.5-2.8 6.7 1.3 5.5 2.8z"/><path fill="#000" d="M400.8 1041.1l-5.5-1.2 6.7-.4 5.5 1.2z"/><path fill="#120600" d="M298 1052.5l-5.4 .3 6.6-2.5 5.4-.3z"/><path fill="#242a06" d="M537.9 1077.7l-5.5-3.6 6.7 1.9 5.4 3.7z"/><path fill="#1e0c06" d="M279.9 1058.3l-5.4 .5 6.5-3 5.4-.5z"/><path fill="#060600" d="M484.8 1056.4l-5.5-2.5 6.7 1.1 5.5 2.6z"/><path fill="#000" d="M412.8 1042l-5.5-1.3 6.7-.2 5.5 1.4zM358.3 1041.8l-5.4-.5 6.7-1.3 5.4 .6z"/><path fill="#060000" d="M328 1045.8l-5.4-.1 6.6-1.9 5.5 .1zM472.9 1053l-5.5-2.4 6.7 .9 5.5 2.4z"/><path fill="#000" d="M424.8 1043.4l-5.5-1.6 6.7 .1 5.6 1.6zM460.9 1050l-5.5-2.2 6.7 .7 5.5 2.2zM436.8 1045.2l-5.5-1.8 6.8 .3 5.5 1.8zM448.9 1047.4l-5.6-2 6.8 .5 5.5 2z"/><path fill="#242406" d="M526 1072.4l-5.4-3.4 6.6 1.8 5.5 3.4z"/><path fill="#000" d="M370.3 1041.3l-5.5-.7 6.7-1 5.5 .7z"/><path fill="#180600" d="M309.7 1049.9l-5.4 .1 6.7-2.3 5.4-.1z"/><path fill="#0c0000" d="M339.9 1044.2l-5.4-.2 6.6-1.7 5.5 .3z"/><path fill="#241806" d="M514.2 1067.5l-5.5-3.1 6.6 1.5 5.5 3.2z"/><path fill="#240c06" d="M291.6 1055l-5.4 .4 6.6-2.7 5.3-.4z"/><path fill="#000" d="M382.3 1041.2l-5.5-.9 6.7-.8 5.5 .9z"/><path fill="#301806" d="M273.5 1061.2l-5.4 .6 6.6-3.2 5.3-.5z"/><path fill="#303c06" d="M543.3 1081.3l-5.5-3.8 6.6 2 5.5 3.8z"/><path fill="#241206" d="M502.2 1063.1l-5.4-3 6.6 1.4 5.5 3z"/><path fill="#000" d="M394.3 1041.5l-5.5-1.1 6.7-.6 5.5 1.2z"/><path fill="#0c0000" d="M351.8 1043.1l-5.4-.5 6.6-1.4 5.5 .5z"/><path fill="#180600" d="M321.6 1047.7l-5.5 0 6.7-2.1 5.4 .1z"/><path fill="#1e0c06" d="M490.3 1059l-5.5-2.7 6.7 1.1 5.5 2.8z"/><path fill="#060000" d="M406.3 1042.2l-5.5-1.3 6.7-.3 5.5 1.3z"/><path fill="#180600" d="M478.3 1055.4l-5.5-2.5 6.7 .9 5.5 2.6z"/><path fill="#060000" d="M418.3 1043.4l-5.5-1.5 6.7-.1 5.5 1.5z"/><path fill="#363006" d="M531.4 1075.8l-5.4-3.5 6.6 1.7 5.5 3.6z"/><path fill="#240c06" d="M303.3 1052.2l-5.4 .2 6.6-2.5 5.4-.1z"/><path fill="#180600" d="M466.3 1052.2l-5.5-2.4 6.7 .8 5.6 2.3z"/><path fill="#0c0000" d="M430.3 1045l-5.5-1.7 6.7 0 5.5 1.8z"/><path fill="#120000" d="M363.8 1042.4l-5.5-.7 6.7-1.2 5.5 .7z"/><path fill="#120600" d="M454.3 1049.4l-5.5-2.2 6.7 .5 5.6 2.2z"/><path fill="#120000" d="M442.3 1047l-5.5-2 6.7 .3 5.6 2z"/><path fill="#301206" d="M285.2 1057.8l-5.4 .4 6.5-2.9 5.4-.4z"/><path fill="#3c2406" d="M267.1 1064.4l-5.3 .6 6.5-3.4 5.3-.5z"/><path fill="#1e0600" d="M333.4 1045.9l-5.4-.2 6.6-1.9 5.5 .3z"/><path fill="#362a06" d="M519.6 1070.7l-5.5-3.3 6.7 1.6 5.4 3.4z"/><path fill="#120000" d="M375.7 1042.1l-5.5-.9 6.8-1 5.5 .9z"/><path fill="#304806" d="M548.6 1085.1l-5.4-4 6.6 2 5.4 4z"/><path fill="#2a0606" d="M315.1 1049.8l-5.4 0 6.6-2.3 5.4 .1z"/><path fill="#362406" d="M507.7 1066.1l-5.5-3.1 6.7 1.3 5.4 3.2z"/><path fill="#1e0600" d="M345.3 1044.6l-5.4-.5 6.6-1.6 5.5 .5z"/><path fill="#180000" d="M387.7 1042.2l-5.5-1.1 6.7-.8 5.6 1.1z"/><path fill="#360c06" d="M296.9 1054.8l-5.4 .2 6.6-2.7 5.4-.2z"/><path fill="#301806" d="M495.7 1061.8l-5.4-2.9 6.6 1.2 5.5 2.9z"/><path fill="#180600" d="M399.7 1042.7l-5.5-1.3 6.7-.5 5.6 1.3z"/><path fill="#42300c" d="M260.8 1067.8l-5.3 .6 6.5-3.6 5.3-.5z"/><path fill="#3c1e06" d="M278.8 1060.7l-5.4 .5 6.6-3.2 5.3-.3z"/><path fill="#424206" d="M536.8 1079.4l-5.4-3.7 6.6 1.8 5.4 3.7z"/><path fill="#240600" d="M357.3 1043.6l-5.5-.6 6.7-1.4 5.5 .7z"/><path fill="#301206" d="M483.8 1058l-5.5-2.7 6.7 .9 5.5 2.8z"/><path fill="#1e0600" d="M411.7 1043.6l-5.5-1.5 6.8-.3 5.5 1.5z"/><path fill="#2a0606" d="M327 1047.8l-5.5-.2 6.7-2 5.4 .2z"/><path fill="#2a0c06" d="M471.8 1054.5l-5.5-2.5 6.7 .8 5.5 2.5z"/><path fill="#1e0600" d="M423.8 1045l-5.6-1.7 6.8-.1 5.5 1.7z"/><path fill="#2a0c06" d="M459.8 1051.5l-5.5-2.3 6.7 .6 5.5 2.3z"/><path fill="#240600" d="M435.8 1046.7l-5.5-1.8 6.7 .1 5.5 1.9zM447.8 1048.9l-5.5-2.1 6.7 .4 5.5 2.1z"/><path fill="#423c0c" d="M525 1074.1l-5.5-3.5 6.7 1.6 5.4 3.6z"/><path fill="#240600" d="M369.2 1043.1l-5.5-.8 6.7-1.2 5.5 .8z"/><path fill="#305406" d="M554 1089l-5.4-4.1 6.6 2 5.4 4.2z"/><path fill="#360c06" d="M308.7 1052.1l-5.5 .1 6.7-2.5 5.4 0z"/><path fill="#300606" d="M338.8 1046.3l-5.4-.4 6.6-1.9 5.5 .5z"/><path fill="#4e3c0c" d="M254.5 1071.3l-5.3 .7 6.4-3.8 5.3-.6z"/><path fill="#3c1806" d="M290.5 1057.5l-5.4 .2 6.6-2.9 5.4-.2z"/><path fill="#42300c" d="M513.1 1069.2l-5.5-3.3 6.7 1.4 5.5 3.4z"/><path fill="#48240c" d="M272.4 1063.9l-5.3 .4 6.5-3.3 5.3-.4z"/><path fill="#2a0600" d="M381.2 1043l-5.5-1 6.7-1 5.5 1.1z"/><path fill="#485406" d="M542.2 1083.1l-5.4-3.9 6.6 1.9 5.4 3.9z"/><path fill="#422406" d="M501.2 1064.8l-5.5-3.1 6.7 1.2 5.5 3.1z"/><path fill="#2a0600" d="M393.2 1043.3l-5.5-1.3 6.7-.7 5.5 1.3z"/><path fill="#360c06" d="M320.5 1049.9l-5.5-.2 6.7-2.2 5.4 .2z"/><path fill="#300606" d="M350.7 1045.1l-5.4-.6 6.7-1.6 5.4 .6z"/><path fill="#3c1e06" d="M489.2 1060.7l-5.5-2.9 6.7 1 5.5 3z"/><path fill="#2a0600" d="M405.2 1044l-5.5-1.4 6.7-.5 5.5 1.4z"/><path fill="#421206" d="M302.2 1054.6l-5.4 .1 6.6-2.7 5.4 0z"/><path fill="#54480c" d="M248.2 1075.1l-5.3 .7 6.4-4 5.3-.6z"/><path fill="#3c1206" d="M477.3 1057.1l-5.5-2.7 6.7 .8 5.5 2.7z"/><path fill="#300606" d="M417.2 1045.1l-5.5-1.6 6.7-.3 5.6 1.7z"/><path fill="#4e480c" d="M530.4 1077.6l-5.5-3.6 6.7 1.6 5.4 3.7z"/><path fill="#246006" d="M559.3 1093.1l-5.4-4.3 6.6 2.1 5.4 4.3z"/><path fill="#360606" d="M362.7 1044.3l-5.5-.8 6.7-1.3 5.5 .8z"/><path fill="#481e06" d="M284.1 1060.4l-5.4 .3 6.6-3.1 5.3-.2z"/><path fill="#3c0c06" d="M465.3 1053.9l-5.5-2.5 6.7 .6 5.5 2.5z"/><path fill="#300606" d="M429.2 1046.7l-5.5-1.9 6.7 0 5.6 1.8z"/><path fill="#4e300c" d="M266 1067.2l-5.3 .5 6.5-3.5 5.4-.5z"/><path fill="#360c06" d="M453.3 1051l-5.5-2.2 6.7 .4 5.5 2.2zM441.3 1048.7l-5.6-2.1 6.8 .2 5.5 2z"/><path fill="#3c0c06" d="M332.3 1048.1l-5.4-.3 6.6-2.1 5.5 .4z"/><path fill="#4e3c0c" d="M518.5 1072.6l-5.5-3.5 6.7 1.4 5.5 3.5z"/><path fill="#360606" d="M374.7 1044l-5.5-1 6.7-1.2 5.5 1.1z"/><path fill="#426006" d="M547.6 1087l-5.4-4 6.6 1.8 5.4 4.2z"/><path fill="#420c06" d="M314 1052.2l-5.4-.1 6.6-2.5 5.5 .2z"/><path fill="#54540c" d="M241.9 1079l-5.3 .7 6.4-4.1 5.3-.7z"/><path fill="#3c0c06" d="M344.2 1046.7l-5.4-.5 6.6-1.8 5.5 .6z"/><path fill="#4e300c" d="M506.6 1067.9l-5.5-3.3 6.7 1.3 5.5 3.3z"/><path fill="#360606" d="M386.6 1044.1l-5.5-1.2 6.8-1 5.5 1.3z"/><path fill="#4e1806" d="M295.8 1057.3l-5.4 .1 6.6-2.8 5.4-.1z"/><path fill="#543c0c" d="M259.7 1070.8l-5.3 .5 6.5-3.8 5.3-.4z"/><path fill="#542a0c" d="M277.7 1063.5l-5.4 .3 6.6-3.3 5.3-.2z"/><path fill="#0c6606" d="M564.6 1097.4l-5.3-4.4 6.5 2.1 5.4 4.5z"/><path fill="#4e240c" d="M494.7 1063.6l-5.5-3 6.7 1 5.5 3.1z"/><path fill="#3c0606" d="M398.6 1044.6l-5.5-1.4 6.8-.7 5.5 1.4z"/><path fill="#545a0c" d="M535.7 1081.4l-5.4-3.9 6.6 1.7 5.5 3.9z"/><path fill="#420606" d="M356.2 1045.7l-5.5-.7 6.7-1.6 5.5 .8z"/><path fill="#480c06" d="M325.9 1050.2l-5.5-.4 6.7-2.2 5.4 .4z"/><path fill="#4e1e06" d="M482.7 1059.8l-5.5-2.9 6.7 .9 5.5 2.9z"/><path fill="#3c0606" d="M410.7 1045.5l-5.6-1.6 6.8-.5 5.5 1.6z"/><path fill="#420c06" d="M422.7 1046.8l-5.5-1.8 6.7-.2 5.5 1.8z"/><path fill="#481206" d="M470.7 1056.4l-5.5-2.7 6.7 .6 5.5 2.7z"/><path fill="#5a5a06" d="M235.6 1083.2l-5.2 .7 6.4-4.3 5.2-.7z"/><path fill="#420c06" d="M434.7 1048.6l-5.5-2 6.7-.1 5.5 2.1z"/><path fill="#481206" d="M458.7 1053.3l-5.5-2.4 6.7 .4 5.6 2.5z"/><path fill="#480c06" d="M446.7 1050.7l-5.5-2.2 6.7 .2 5.5 2.3z"/><path fill="#5a4e0c" d="M523.9 1076.1l-5.4-3.7 6.6 1.5 5.4 3.7z"/><path fill="#4e1206" d="M307.6 1054.7l-5.4-.1 6.6-2.7 5.4 .2z"/><path fill="#420606" d="M368.1 1045.2l-5.5-1 6.7-1.3 5.5 1z"/><path fill="#3c6c06" d="M552.9 1091.1l-5.4-4.2 6.6 1.9 5.4 4.3z"/><path fill="#5a480c" d="M253.4 1074.5l-5.3 .5 6.4-3.9 5.4-.5z"/><path fill="#541e06" d="M289.4 1060.2l-5.4 .1 6.6-3 5.4-.1z"/><path fill="#480c06" d="M337.7 1048.6l-5.4-.6 6.6-2 5.5 .6z"/><path fill="#5a300c" d="M271.3 1066.8l-5.3 .4 6.5-3.5 5.3-.3z"/><path fill="#5a420c" d="M512 1071.2l-5.5-3.5 6.7 1.3 5.5 3.5z"/><path fill="#480606" d="M380.1 1045l-5.5-1.1 6.7-1.1 5.5 1.2z"/><path fill="#066c06" d="M569.9 1101.9l-5.3-4.6 6.5 2.1 5.4 4.7z"/><path fill="#4e6606" d="M229.4 1087.6l-5.3 .7 6.4-4.5 5.3-.8z"/><path fill="#5a6606" d="M541.1 1085.2l-5.4-4 6.6 1.7 5.4 4.1z"/><path fill="#541206" d="M319.4 1052.4l-5.5-.3 6.7-2.4 5.4 .3z"/><path fill="#5a300c" d="M500.1 1066.7l-5.5-3.2 6.7 1.1 5.5 3.2z"/><path fill="#480c06" d="M392.1 1045.3l-5.5-1.3 6.7-.9 5.5 1.4z"/><path fill="#4e0c06" d="M349.6 1047.3l-5.4-.7 6.7-1.7 5.4 .7z"/><path fill="#60540c" d="M247.1 1078.4l-5.3 .6 6.4-4.1 5.3-.6z"/><path fill="#4e0c06" d="M404.1 1046l-5.5-1.6 6.7-.6 5.5 1.6z"/><path fill="#5a240c" d="M488.1 1062.7l-5.4-3.1 6.7 .9 5.4 3.1z"/><path fill="#5a1806" d="M301.1 1057.3l-5.4 0 6.6-2.9 5.4 .1z"/><path fill="#603c0c" d="M265 1070.3l-5.4 .4 6.5-3.7 5.4-.3z"/><path fill="#5a2a0c" d="M283 1063.3l-5.4 .2 6.6-3.3 5.3-.1z"/><path fill="#4e0c06" d="M416.1 1047.1l-5.5-1.7 6.7-.5 5.6 1.8z"/><path fill="#2a7206" d="M558.2 1095.4l-5.4-4.4 6.6 1.9 5.4 4.5z"/><path fill="#5a1806" d="M476.2 1059l-5.5-2.8 6.7 .7 5.5 2.8z"/><path fill="#605a0c" d="M529.3 1079.7l-5.5-3.8 6.7 1.5 5.4 3.9z"/><path fill="#4e0c06" d="M361.6 1046.6l-5.5-1 6.7-1.5 5.5 1z"/><path fill="#426c06" d="M223.2 1092.1l-5.3 .8 6.4-4.8 5.2-.7z"/><path fill="#4e0c06" d="M428.1 1048.7l-5.5-2 6.8-.2 5.5 2z"/><path fill="#541206" d="M464.2 1055.8l-5.5-2.6 6.7 .4 5.5 2.7z"/><path fill="#540c06" d="M331.2 1050.6l-5.4-.5 6.6-2.2 5.5 .5zM440.2 1050.6l-5.6-2.2 6.8 0 5.5 2.3z"/><path fill="#541206" d="M452.2 1053l-5.5-2.4 6.7 .2 5.5 2.5z"/><path fill="#007206" d="M575.2 1106.6l-5.3-4.8 6.5 2.1 5.3 4.9z"/><path fill="#664e0c" d="M517.4 1074.7l-5.4-3.7 6.6 1.4 5.5 3.6z"/><path fill="#540c06" d="M373.6 1046.2l-5.5-1.1 6.7-1.3 5.5 1.1z"/><path fill="#60600c" d="M240.8 1082.6l-5.3 .5 6.5-4.3 5.2-.5z"/><path fill="#5a1206" d="M312.9 1054.9l-5.4-.3 6.6-2.6 5.4 .3z"/><path fill="#547206" d="M546.5 1089.3l-5.4-4.2 6.6 1.7 5.4 4.3z"/><path fill="#540c06" d="M343.1 1049.1l-5.4-.6 6.6-2 5.5 .7z"/><path fill="#247206" d="M217 1096.9l-5.2 .8 6.3-5 5.2-.8z"/><path fill="#66480c" d="M258.6 1074.1l-5.3 .3 6.5-3.9 5.3-.3z"/><path fill="#540c06" d="M385.5 1046.2l-5.5-1.3 6.8-1 5.5 1.3z"/><path fill="#663c0c" d="M505.5 1070l-5.5-3.4 6.7 1.1 5.5 3.4z"/><path fill="#601e0c" d="M294.7 1060.2l-5.4-.1 6.6-3 5.4 .1z"/><path fill="#60300c" d="M276.6 1066.6l-5.4 .2 6.6-3.5 5.3-.1z"/><path fill="#0c7806" d="M563.5 1099.9l-5.3-4.7 6.5 2 5.4 4.7z"/><path fill="#540c06" d="M397.5 1046.7l-5.5-1.5 6.8-.9 5.5 1.6z"/><path fill="#66300c" d="M493.6 1065.7l-5.5-3.2 6.7 .9 5.5 3.3z"/><path fill="#66660c" d="M534.6 1083.6l-5.4-4 6.7 1.5 5.4 4.1z"/><path fill="#5a0c06" d="M355.1 1048.1l-5.5-.9 6.7-1.7 5.5 .9z"/><path fill="#601206" d="M324.8 1052.8l-5.5-.5 6.7-2.3 5.4 .4z"/><path fill="#606c06" d="M234.5 1086.9l-5.2 .6 6.4-4.5 5.2-.6z"/><path fill="#007806" d="M580.5 1111.4l-5.3-5 6.5 2.2 5.3 5z"/><path fill="#5a0c06" d="M409.6 1047.6l-5.6-1.7 6.8-.6 5.5 1.7z"/><path fill="#60240c" d="M481.6 1061.9l-5.5-3 6.7 .7 5.5 3z"/><path fill="#0c7206" d="M210.8 1101.8l-5.2 .8 6.3-5.1 5.2-.8z"/><path fill="#5a0c06" d="M421.6 1048.9l-5.5-1.9 6.7-.4 5.5 2z"/><path fill="#601806" d="M469.6 1058.4l-5.5-2.7 6.7 .4 5.5 2.9z"/><path fill="#5a0c06" d="M433.6 1050.7l-5.5-2.2 6.7-.1 5.5 2.1z"/><path fill="#601806" d="M306.5 1057.5l-5.5-.2 6.7-2.8 5.4 .2z"/><path fill="#601206" d="M457.6 1055.4l-5.5-2.5 6.7 .2 5.6 2.6zM445.6 1052.9l-5.5-2.4 6.7 0 5.6 2.4z"/><path fill="#6c5a12" d="M252.3 1078l-5.3 .4 6.5-4.1 5.3-.4zM522.8 1078.3l-5.4-3.8 6.6 1.4 5.4 3.8z"/><path fill="#5a0c06" d="M367 1047.5l-5.5-1 6.7-1.5 5.5 1.1z"/><path fill="#427806" d="M551.8 1093.6l-5.4-4.5 6.6 1.8 5.4 4.5z"/><path fill="#66240c" d="M288.3 1063.3l-5.4-.1 6.6-3.2 5.4 .1z"/><path fill="#663c0c" d="M270.2 1070.1l-5.3 .2 6.5-3.7 5.3-.2z"/><path fill="#601206" d="M336.6 1051.1l-5.4-.6 6.6-2.2 5.5 .7z"/><path fill="#067806" d="M204.6 1107l-5.1 .8 6.3-5.3 5.1-.8z"/><path fill="#4e7206" d="M228.3 1091.4l-5.2 .7 6.3-4.8 5.3-.6z"/><path fill="#600c06" d="M379 1047.4l-5.5-1.3 6.7-1.3 5.5 1.3z"/><path fill="#6c4e12" d="M510.9 1073.4l-5.5-3.6 6.7 1.2 5.5 3.6z"/><path fill="#067806" d="M568.8 1104.5l-5.3-4.8 6.5 2 5.4 4.8z"/><path fill="#007e06" d="M585.7 1116.5l-5.3-5.2 6.5 2.2 5.3 5.2z"/><path fill="#661206" d="M318.3 1055.2l-5.5-.4 6.7-2.6 5.4 .5z"/><path fill="#667806" d="M540 1087.6l-5.4-4.2 6.6 1.6 5.4 4.3z"/><path fill="#600c06" d="M391 1047.6l-5.5-1.5 6.7-1 5.5 1.5zM348.5 1049.9l-5.4-.9 6.6-1.9 5.5 .9z"/><path fill="#6c3c0c" d="M499 1069l-5.5-3.4 6.7 .9 5.5 3.4z"/><path fill="#6c660c" d="M246 1082.1l-5.3 .4 6.5-4.3 5.2-.4z"/><path fill="#007806" d="M198.5 1112.4l-5.1 .8 6.2-5.5 5.2-.9z"/><path fill="#661e0c" d="M300 1060.3l-5.4-.2 6.6-3 5.4 .2z"/><path fill="#600c06" d="M403 1048.3l-5.5-1.7 6.7-.8 5.5 1.7z"/><path fill="#6c4812" d="M263.9 1073.8l-5.4 .2 6.5-3.9 5.4-.2z"/><path fill="#6c300c" d="M487 1064.9l-5.5-3.2 6.8 .8 5.4 3.2z"/><path fill="#3c7806" d="M222.1 1096.2l-5.2 .6 6.3-4.9 5.2-.6z"/><path fill="#6c300c" d="M281.9 1066.5l-5.4 0 6.6-3.4 5.3 0z"/><path fill="#2a7e0c" d="M557.1 1098l-5.4-4.6 6.6 1.8 5.4 4.6z"/><path fill="#660c06" d="M415 1049.4l-5.5-1.9 6.7-.6 5.6 1.9z"/><path fill="#726c0c" d="M528.2 1082.1l-5.5-3.9 6.7 1.3 5.4 4z"/><path fill="#6c240c" d="M475.1 1061.3l-5.5-3 6.7 .5 5.5 3z"/><path fill="#660c06" d="M360.5 1049.1l-5.5-1.1 6.7-1.7 5.5 1.1z"/><path fill="#661206" d="M330.1 1053.3l-5.4-.6 6.6-2.3 5.5 .6zM427 1050.9l-5.5-2.1 6.8-.3 5.5 2.1z"/><path fill="#6c180c" d="M463.1 1058l-5.5-2.7 6.7 .3 5.5 2.8z"/><path fill="#661206" d="M439 1052.9l-5.5-2.3 6.8-.2 5.5 2.4z"/><path fill="#6c1206" d="M451.1 1055.2l-5.5-2.5 6.7 .1 5.5 2.6z"/><path fill="#007806" d="M192.4 1118l-5.1 .8 6.2-5.7 5.2-.9z"/><path fill="#007e06" d="M574.1 1109.3l-5.4-5 6.6 2.1 5.3 5z"/><path fill="#6c6c0c" d="M239.7 1086.4l-5.2 .4 6.4-4.5 5.2-.4z"/><path fill="#007e06" d="M590.9 1121.7l-5.3-5.4 6.6 2.2 5.2 5.4z"/><path fill="#660c06" d="M372.4 1048.7l-5.5-1.3 6.8-1.4 5.5 1.3z"/><path fill="#785a12" d="M516.3 1077l-5.5-3.7 6.7 1.1 5.5 3.8z"/><path fill="#18780c" d="M215.9 1101.1l-5.2 .7 6.3-5.2 5.2-.6z"/><path fill="#6c180c" d="M311.8 1057.8l-5.4-.4 6.6-2.8 5.4 .5z"/><path fill="#5a7e0c" d="M545.3 1091.9l-5.4-4.4 6.7 1.6 5.3 4.4z"/><path fill="#725a12" d="M257.5 1077.6l-5.3 .3 6.5-4.1 5.3-.2z"/><path fill="#6c1206" d="M342 1051.8l-5.4-.8 6.6-2.1 5.5 .9z"/><path fill="#007e06" d="M186.4 1123.8l-5.1 .9 6.2-6 5.1-.9z"/><path fill="#6c240c" d="M293.6 1063.3l-5.4-.1 6.6-3.2 5.4 .2z"/><path fill="#723c12" d="M275.5 1070l-5.4 0 6.6-3.6 5.3 0z"/><path fill="#6c0c06" d="M384.4 1048.7l-5.5-1.4 6.7-1.3 5.6 1.5z"/><path fill="#784812" d="M504.4 1072.4l-5.5-3.6 6.7 1 5.5 3.6z"/><path fill="#0c840c" d="M562.4 1102.6l-5.4-4.8 6.6 1.8 5.4 4.9z"/><path fill="#607806" d="M233.5 1090.9l-5.3 .5 6.4-4.7 5.3-.5z"/><path fill="#067e06" d="M209.7 1106.3l-5.1 .7 6.2-5.4 5.2-.6z"/><path fill="#6c0c06" d="M396.4 1049.2l-5.5-1.7 6.7-1 5.6 1.7z"/><path fill="#783c0c" d="M492.4 1068.1l-5.4-3.3 6.7 .7 5.4 3.4z"/><path fill="#007e06" d="M180.3 1129.8l-5 .9 6.1-6.2 5.1-.9z"/><path fill="#6c1206" d="M323.6 1055.7l-5.4-.6 6.6-2.5 5.5 .6z"/><path fill="#72780c" d="M533.5 1086.1l-5.4-4.1 6.6 1.4 5.5 4.2z"/><path fill="#6c1206" d="M353.9 1050.8l-5.4-1 6.7-1.9 5.4 1.1z"/><path fill="#008406" d="M579.3 1114.3l-5.3-5.1 6.6 2 5.2 5.2z"/><path fill="#007e06" d="M596.1 1127.1l-5.3-5.6 6.6 2.3 5.2 5.6z"/><path fill="#6c1206" d="M408.4 1050l-5.5-1.8 6.8-.8 5.5 1.9z"/><path fill="#722a0c" d="M480.5 1064.2l-5.5-3.1 6.7 .6 5.5 3.1z"/><path fill="#726612" d="M251.2 1081.7l-5.3 .3 6.5-4.3 5.3-.2z"/><path fill="#721206" d="M420.5 1051.4l-5.6-2.1 6.8-.6 5.5 2.1z"/><path fill="#721e0c" d="M305.4 1060.6l-5.5-.4 6.6-2.9 5.5 .4zM468.5 1060.8l-5.5-2.9 6.7 .3 5.5 3z"/><path fill="#721206" d="M432.5 1053.1l-5.5-2.3 6.7-.3 5.5 2.3z"/><path fill="#72180c" d="M456.5 1057.8l-5.5-2.7 6.7 .1 5.5 2.8z"/><path fill="#721206" d="M444.5 1055.2l-5.5-2.5 6.7-.1 5.5 2.6z"/><path fill="#784812" d="M269.1 1073.6l-5.3 .1 6.5-3.8 5.3-.1z"/><path fill="#6c1206" d="M365.9 1050.2l-5.5-1.2 6.7-1.7 5.5 1.3z"/><path fill="#72300c" d="M287.2 1066.6l-5.4-.2 6.6-3.4 5.3 .2z"/><path fill="#007e06" d="M203.6 1111.6l-5.2 .7 6.3-5.5 5.2-.7z"/><path fill="#7e6c12" d="M521.7 1080.8l-5.5-3.9 6.7 1.2 5.4 4z"/><path fill="#48840c" d="M550.6 1096.3l-5.3-4.6 6.6 1.6 5.3 4.6z"/><path fill="#4e7e06" d="M227.2 1095.6l-5.2 .5 6.4-4.9 5.2-.5z"/><path fill="#721206" d="M335.5 1054l-5.4-.8 6.6-2.3 5.5 .8z"/><path fill="#720c06" d="M377.9 1050l-5.5-1.4 6.7-1.4 5.5 1.4z"/><path fill="#7e5a12" d="M509.8 1075.9l-5.5-3.7 6.7 1 5.5 3.8z"/><path fill="#06840c" d="M567.6 1107.4l-5.3-5 6.6 1.9 5.3 5z"/><path fill="#008406" d="M601.3 1132.6l-5.3-5.7 6.5 2.3 5.2 5.8z"/><path fill="#007e06" d="M197.5 1117.2l-5.1 .7 6.2-5.7 5.1-.7z"/><path fill="#72720c" d="M244.9 1086l-5.3 .3 6.5-4.5 5.3-.2z"/><path fill="#72180c" d="M317.2 1058.3l-5.5-.6 6.7-2.7 5.4 .6z"/><path fill="#008406" d="M584.5 1119.5l-5.3-5.3 6.6 2 5.3 5.4z"/><path fill="#72840c" d="M538.8 1090.3l-5.3-4.3 6.6 1.4 5.4 4.4z"/><path fill="#721206" d="M347.4 1052.7l-5.5-1 6.7-2 5.5 1zM389.9 1050.2l-5.5-1.6 6.7-1.2 5.5 1.7z"/><path fill="#307e0c" d="M221 1100.6l-5.2 .5 6.3-5.2 5.3-.4z"/><path fill="#7e4812" d="M497.8 1071.5l-5.4-3.6 6.7 .8 5.4 3.6z"/><path fill="#78240c" d="M298.9 1063.6l-5.4-.3 6.6-3.2 5.4 .4z"/><path fill="#785a12" d="M262.8 1077.5l-5.4 .1 6.5-4.1 5.4 0z"/><path fill="#783c12" d="M280.8 1070l-5.4-.1 6.6-3.6 5.3 .1z"/><path fill="#781206" d="M401.9 1050.9l-5.5-1.9 6.7-.9 5.5 1.8z"/><path fill="#7e360c" d="M485.9 1067.4l-5.5-3.3 6.7 .6 5.5 3.3z"/><path fill="#007e06" d="M191.4 1123l-5.1 .7 6.2-5.9 5.1-.8z"/><path fill="#2a8a0c" d="M555.9 1100.8l-5.3-4.7 6.6 1.7 5.3 4.7z"/><path fill="#781206" d="M359.4 1051.9l-5.5-1.2 6.7-1.8 5.5 1.2zM413.9 1052l-5.5-2.1 6.7-.7 5.5 2.1z"/><path fill="#7e7812" d="M527 1084.8l-5.4-4.1 6.7 1.2 5.4 4.2z"/><path fill="#7e240c" d="M473.9 1063.8l-5.5-3.1 6.8 .3 5.5 3.2z"/><path fill="#78180c" d="M329 1056.3l-5.4-.7 6.6-2.5 5.5 .8z"/><path fill="#727e0c" d="M238.6 1090.5l-5.2 .3 6.4-4.6 5.3-.3z"/><path fill="#781206" d="M425.9 1053.5l-5.5-2.3 6.7-.5 5.5 2.3z"/><path fill="#7e1e0c" d="M461.9 1060.6l-5.5-2.9 6.8 .1 5.5 2.9z"/><path fill="#008406" d="M606.4 1138.4l-5.2-5.9 6.5 2.3 5.2 6z"/><path fill="#0c840c" d="M214.8 1105.7l-5.1 .5 6.3-5.3 5.2-.5z"/><path fill="#78120c" d="M437.9 1055.4l-5.5-2.4 6.8-.3 5.5 2.5z"/><path fill="#7e180c" d="M449.9 1057.8l-5.5-2.7 6.8-.1 5.5 2.7z"/><path fill="#008a06" d="M572.9 1112.4l-5.3-5.2 6.6 1.9 5.3 5.2z"/><path fill="#007e06" d="M185.4 1129l-5.1 .7 6.1-6.1 5.1-.8z"/><path fill="#008406" d="M589.7 1124.9l-5.2-5.6 6.5 2.1 5.2 5.6z"/><path fill="#781e0c" d="M310.7 1061l-5.4-.5 6.6-2.9 5.4 .5z"/><path fill="#781206" d="M371.3 1051.5l-5.5-1.4 6.7-1.6 5.5 1.4z"/><path fill="#846612" d="M515.1 1079.7l-5.4-3.9 6.7 1 5.4 4z"/><path fill="#7e6612" d="M256.4 1081.5l-5.3 .2 6.5-4.3 5.3-.1z"/><path fill="#7e300c" d="M292.5 1066.8l-5.4-.3 6.6-3.4 5.4 .3z"/><path fill="#60840c" d="M544.2 1094.7l-5.4-4.5 6.6 1.4 5.4 4.6z"/><path fill="#7e4812" d="M274.4 1073.6l-5.4-.1 6.6-3.8 5.3 .1z"/><path fill="#781206" d="M340.9 1054.8l-5.5-.9 6.7-2.3 5.5 1z"/><path fill="#068406" d="M208.7 1111l-5.2 .6 6.3-5.5 5.2-.6z"/><path fill="#781206" d="M383.3 1051.5l-5.5-1.6 6.7-1.4 5.5 1.6z"/><path fill="#5a7e0c" d="M232.4 1095.2l-5.2 .4 6.3-4.9 5.3-.3z"/><path fill="#845412" d="M503.2 1075l-5.4-3.7 6.7 .8 5.4 3.8z"/><path fill="#008a06" d="M611.5 1144.4l-5.2-6.2 6.5 2.4 5.2 6.1z"/><path fill="#0c8a0c" d="M561.2 1105.6l-5.3-4.9 6.6 1.7 5.3 4.9z"/><path fill="#7e1206" d="M395.3 1051.9l-5.5-1.8 6.7-1.2 5.5 1.9z"/><path fill="#7e180c" d="M322.5 1058.9l-5.4-.7 6.6-2.7 5.5 .7z"/><path fill="#844212" d="M491.3 1070.8l-5.5-3.5 6.7 .6 5.5 3.5z"/><path fill="#7e1206" d="M352.8 1053.8l-5.5-1.2 6.7-2 5.5 1.2z"/><path fill="#7e840c" d="M532.4 1089l-5.4-4.3 6.6 1.2 5.4 4.4z"/><path fill="#008a06" d="M594.9 1130.5l-5.2-5.8 6.5 2.1 5.2 5.8zM578.1 1117.5l-5.3-5.3 6.6 1.9 5.3 5.4z"/><path fill="#787212" d="M250.1 1085.8l-5.3 .1 6.5-4.4 5.3-.1z"/><path fill="#008406" d="M202.6 1116.6l-5.2 .6 6.2-5.8 5.2-.5z"/><path fill="#7e1206" d="M407.3 1052.8l-5.5-2 6.7-1 5.6 2.1z"/><path fill="#84300c" d="M479.3 1066.9l-5.4-3.3 6.7 .4 5.5 3.3z"/><path fill="#7e240c" d="M304.2 1064l-5.4-.5 6.6-3.1 5.5 .5z"/><path fill="#7e5a12" d="M268 1077.5l-5.3-.1 6.5-4 5.3 .1z"/><path fill="#42840c" d="M226.2 1100.1l-5.3 .4 6.4-5.1 5.2-.3z"/><path fill="#7e1206" d="M419.3 1054l-5.5-2.2 6.8-.7 5.5 2.3z"/><path fill="#7e3c12" d="M286.1 1070.2l-5.4-.3 6.5-3.6 5.4 .3z"/><path fill="#84240c" d="M467.4 1063.5l-5.5-3.1 6.7 .2 5.5 3.1z"/><path fill="#7e180c" d="M431.3 1055.8l-5.5-2.5 6.8-.4 5.5 2.4z"/><path fill="#7e1206" d="M364.8 1053.1l-5.5-1.3 6.7-1.8 5.5 1.3z"/><path fill="#841e0c" d="M455.4 1060.5l-5.5-2.9 6.7 0 5.5 2.9z"/><path fill="#84180c" d="M443.4 1057.9l-5.5-2.6 6.7-.3 5.5 2.7z"/><path fill="#847212" d="M520.5 1083.7l-5.4-4.1 6.7 1 5.4 4.2z"/><path fill="#488a0c" d="M549.5 1099.3l-5.4-4.8 6.6 1.5 5.4 4.8z"/><path fill="#7e180c" d="M334.4 1057.2l-5.5-1 6.7-2.4 5.5 .9z"/><path fill="#008a06" d="M616.6 1150.5l-5.2-6.3 6.5 2.4 5.1 6.3z"/><path fill="#008406" d="M196.4 1122.4l-5.1 .6 6.2-6 5.2-.6z"/><path fill="#787e0c" d="M243.8 1090.3l-5.2 .1 6.4-4.6 5.3-.2z"/><path fill="#7e1206" d="M376.7 1052.9l-5.5-1.5 6.8-1.6 5.5 1.6z"/><path fill="#06900c" d="M566.5 1110.6l-5.4-5.2 6.6 1.8 5.3 5.1z"/><path fill="#008a06" d="M600 1136.2l-5.2-5.9 6.5 2.1 5.2 6z"/><path fill="#8a6612" d="M508.6 1078.8l-5.4-3.9 6.7 .8 5.4 3.9z"/><path fill="#188a0c" d="M220 1105.3l-5.2 .3 6.3-5.3 5.2-.3z"/><path fill="#841e0c" d="M316 1061.6l-5.4-.7 6.6-2.9 5.5 .7z"/><path fill="#008a06" d="M583.3 1122.9l-5.2-5.6 6.5 2 5.3 5.5z"/><path fill="#84120c" d="M346.3 1055.9l-5.5-1.2 6.7-2.2 5.5 1.1z"/><path fill="#008406" d="M190.4 1128.4l-5.1 .6 6.2-6.2 5.1-.6z"/><path fill="#846612" d="M261.7 1081.5l-5.3 0 6.4-4.3 5.4 .1z"/><path fill="#728a0c" d="M537.7 1093.3l-5.4-4.5 6.6 1.3 5.4 4.5z"/><path fill="#841206" d="M388.7 1053.1l-5.5-1.7 6.8-1.4 5.5 1.8z"/><path fill="#84300c" d="M297.8 1067.2l-5.4-.5 6.6-3.3 5.4 .5z"/><path fill="#8a4e12" d="M496.7 1074.3l-5.5-3.7 6.7 .6 5.5 3.8z"/><path fill="#844812" d="M279.7 1073.8l-5.4-.3 6.5-3.7 5.4 .2z"/><path fill="#008a06" d="M621.6 1156.9l-5.1-6.6 6.5 2.4 5.1 6.6z"/><path fill="#841206" d="M400.7 1053.7l-5.5-1.9 6.8-1.1 5.5 2z"/><path fill="#8a3c12" d="M484.7 1070.2l-5.4-3.4 6.7 .4 5.5 3.5z"/><path fill="#6c840c" d="M237.6 1095l-5.3 .2 6.4-4.9 5.3-.2z"/><path fill="#068a0c" d="M213.8 1110.6l-5.2 .4 6.3-5.5 5.2-.4z"/><path fill="#24900c" d="M554.7 1104l-5.3-4.9 6.6 1.5 5.4 5z"/><path fill="#841206" d="M358.2 1055l-5.5-1.3 6.7-2 5.5 1.3z"/><path fill="#84180c" d="M327.9 1059.7l-5.5-.9 6.7-2.7 5.4 .9z"/><path fill="#84120c" d="M412.7 1054.8l-5.5-2.2 6.8-.9 5.5 2.3z"/><path fill="#847e12" d="M525.8 1087.8l-5.4-4.3 6.7 1.1 5.4 4.3z"/><path fill="#8a300c" d="M472.8 1066.6l-5.5-3.3 6.7 .3 5.5 3.2z"/><path fill="#008a06" d="M605.2 1142.1l-5.2-6.1 6.5 2.2 5.1 6.1z"/><path fill="#8a180c" d="M424.8 1056.3l-5.5-2.4 6.7-.6 5.5 2.4z"/><path fill="#8a240c" d="M460.8 1063.4l-5.5-3.1 6.7 0 5.5 3.1z"/><path fill="#009006" d="M571.7 1115.7l-5.3-5.3 6.6 1.7 5.3 5.4z"/><path fill="#8a180c" d="M436.8 1058.2l-5.5-2.6 6.7-.4 5.5 2.6z"/><path fill="#8a1e0c" d="M448.8 1060.6l-5.5-2.8 6.7-.2 5.5 2.8z"/><path fill="#008a06" d="M588.5 1128.4l-5.2-5.7 6.5 2 5.2 5.7z"/><path fill="#847212" d="M255.3 1085.7l-5.3 0 6.5-4.4 5.3 0z"/><path fill="#84240c" d="M309.6 1064.6l-5.4-.7 6.6-3.1 5.4 .7z"/><path fill="#008a06" d="M626.7 1163.4l-5.1-6.7 6.4 2.4 5.1 6.7z"/><path fill="#841206" d="M370.2 1054.5l-5.5-1.5 6.7-1.8 5.5 1.6z"/><path fill="#008a06" d="M207.6 1116.1l-5.1 .4 6.2-5.7 5.2-.4z"/><path fill="#907218" d="M514 1082.7l-5.5-4.1 6.7 .9 5.5 4.1z"/><path fill="#845a12" d="M273.3 1077.6l-5.4-.2 6.6-4 5.3 .2z"/><path fill="#843c12" d="M291.4 1070.5l-5.4-.4 6.6-3.5 5.3 .4z"/><path fill="#4e8a0c" d="M231.3 1099.9l-5.2 .2 6.3-5.1 5.3-.2z"/><path fill="#8a180c" d="M339.8 1058.1l-5.5-1 6.7-2.5 5.5 1.1z"/><path fill="#60900c" d="M543 1097.8l-5.4-4.7 6.7 1.4 5.3 4.7z"/><path fill="#8a1206" d="M382.2 1054.5l-5.5-1.7 6.7-1.6 5.5 1.8z"/><path fill="#906012" d="M502.1 1078l-5.5-3.9 6.7 .7 5.5 3.9z"/><path fill="#009006" d="M610.2 1148.3l-5.1-6.3 6.5 2.2 5.1 6.3z"/><path fill="#0c900c" d="M560 1108.9l-5.3-5.1 6.6 1.6 5.3 5.1z"/><path fill="#008a06" d="M201.5 1121.9l-5.1 .4 6.2-5.9 5.2-.4z"/><path fill="#009006" d="M631.7 1170.2l-5.1-7 6.4 2.4 5.1 7z"/><path fill="#8a1e0c" d="M321.4 1062.4l-5.4-.9 6.6-2.8 5.4 .8z"/><path fill="#7e7e0c" d="M249 1090.2l-5.2 0 6.4-4.6 5.3 0z"/><path fill="#8a120c" d="M394.2 1054.9l-5.5-1.9 6.7-1.3 5.5 1.9z"/><path fill="#8a180c" d="M351.7 1057l-5.5-1.2 6.7-2.3 5.5 1.4z"/><path fill="#009006" d="M593.7 1134.1l-5.3-5.9 6.6 2 5.2 6z"/><path fill="#904e12" d="M490.1 1073.7l-5.4-3.6 6.7 .4 5.5 3.7z"/><path fill="#009006" d="M576.9 1121l-5.3-5.5 6.6 1.8 5.3 5.5z"/><path fill="#848a0c" d="M531.2 1092.1l-5.4-4.5 6.6 1.1 5.4 4.6z"/><path fill="#2a8a0c" d="M225.1 1105l-5.2 .2 6.3-5.3 5.3-.2z"/><path fill="#8a300c" d="M303.1 1067.7l-5.4-.6 6.6-3.3 5.4 .6z"/><path fill="#8a6612" d="M266.9 1081.6l-5.3-.2 6.5-4.2 5.3 .3z"/><path fill="#8a120c" d="M406.2 1055.8l-5.5-2.2 6.7-1.1 5.5 2.2z"/><path fill="#903c12" d="M478.2 1069.9l-5.5-3.5 6.7 .3 5.5 3.4z"/><path fill="#8a4812" d="M285 1074.1l-5.4-.4 6.5-3.7 5.4 .4z"/><path fill="#008a06" d="M195.4 1127.9l-5.1 .4 6.2-6.2 5.1-.4z"/><path fill="#8a180c" d="M418.2 1057l-5.5-2.3 6.7-.9 5.5 2.4z"/><path fill="#902a0c" d="M466.2 1066.4l-5.5-3.2 6.8 .1 5.4 3.2z"/><path fill="#8a180c" d="M363.6 1056.4l-5.5-1.5 6.8-2 5.4 1.5z"/><path fill="#009006" d="M615.3 1154.6l-5.1-6.5 6.5 2.2 5.1 6.5z"/><path fill="#90180c" d="M430.2 1058.7l-5.5-2.5 6.7-.7 5.5 2.6z"/><path fill="#009006" d="M636.6 1177.1l-5-7.1 6.4 2.4 5 7.1z"/><path fill="#90240c" d="M454.2 1063.4l-5.5-3 6.8-.1 5.4 3z"/><path fill="#907e12" d="M519.3 1086.8l-5.4-4.3 6.7 .9 5.4 4.3z"/><path fill="#901e0c" d="M442.2 1060.9l-5.5-2.8 6.7-.4 5.5 2.8z"/><path fill="#8a180c" d="M333.3 1060.6l-5.5-1 6.7-2.7 5.4 1.1z"/><path fill="#42960c" d="M548.3 1102.6l-5.4-4.9 6.6 1.3 5.4 4.9z"/><path fill="#788a0c" d="M242.7 1094.9l-5.2 0 6.4-4.9 5.3 0z"/><path fill="#0c900c" d="M218.9 1110.3l-5.2 .2 6.3-5.5 5.2-.2z"/><path fill="#009006" d="M598.8 1140.1l-5.2-6.1 6.5 2 5.2 6.1z"/><path fill="#06960c" d="M565.2 1114l-5.3-5.3 6.6 1.6 5.3 5.3z"/><path fill="#90180c" d="M375.6 1056.1l-5.5-1.7 6.7-1.7 5.5 1.7z"/><path fill="#8a240c" d="M314.9 1065.3l-5.4-.8 6.6-3.1 5.5 .8z"/><path fill="#966c18" d="M507.4 1081.9l-5.4-4.1 6.7 .7 5.4 4.1z"/><path fill="#009006" d="M582.1 1126.5l-5.3-5.7 6.6 1.8 5.2 5.8z"/><path fill="#8a7212" d="M260.6 1085.8l-5.3-.1 6.4-4.4 5.4 .2z"/><path fill="#90180c" d="M345.2 1059.3l-5.5-1.3 6.7-2.4 5.4 1.3z"/><path fill="#8a3c12" d="M296.7 1071.1l-5.4-.6 6.6-3.6 5.4 .7z"/><path fill="#8a5412" d="M278.6 1077.9l-5.4-.4 6.5-3.9 5.4 .4z"/><path fill="#72960c" d="M536.5 1096.6l-5.4-4.7 6.7 1.2 5.3 4.7z"/><path fill="#009006" d="M620.4 1161.1l-5.1-6.7 6.4 2.3 5.1 6.7z"/><path fill="#90180c" d="M387.6 1056.3l-5.5-1.9 6.7-1.5 5.5 1.9z"/><path fill="#00900c" d="M212.7 1115.8l-5.1 .3 6.2-5.7 5.2-.3z"/><path fill="#965a12" d="M495.5 1077.4l-5.4-3.8 6.7 .5 5.4 3.8z"/><path fill="#60900c" d="M236.5 1099.7l-5.3 .1 6.4-5.1 5.3 0z"/><path fill="#90180c" d="M399.6 1056.9l-5.5-2.1 6.7-1.3 5.5 2.2z"/><path fill="#964812" d="M483.6 1073.3l-5.5-3.6 6.7 .3 5.5 3.6z"/><path fill="#1e960c" d="M553.5 1107.5l-5.3-5.1 6.6 1.4 5.3 5.1z"/><path fill="#901e0c" d="M326.8 1063.3l-5.5-1 6.7-2.9 5.4 1.1z"/><path fill="#90180c" d="M357.1 1058.4l-5.5-1.5 6.7-2.1 5.5 1.4z"/><path fill="#009006" d="M603.9 1146.2l-5.2-6.3 6.5 2 5.2 6.3z"/><path fill="#8a8a12" d="M524.6 1091.1l-5.3-4.5 6.6 1 5.4 4.4z"/><path fill="#90180c" d="M411.6 1058l-5.5-2.4 6.7-1 5.5 2.3z"/><path fill="#963612" d="M471.6 1069.7l-5.5-3.4 6.8 .1 5.4 3.4z"/><path fill="#847e12" d="M254.3 1090.3l-5.3-.2 6.4-4.6 5.3 .2z"/><path fill="#009006" d="M206.6 1121.6l-5.2 .2 6.3-5.9 5.2-.3z"/><path fill="#00960c" d="M570.5 1119.3l-5.3-5.4 6.6 1.6 5.2 5.5z"/><path fill="#009006" d="M587.2 1132.3l-5.2-5.9 6.6 1.8 5.2 5.9z"/><path fill="#96180c" d="M423.6 1059.4l-5.5-2.5 6.7-.8 5.5 2.5z"/><path fill="#009006" d="M625.4 1167.8l-5.1-6.9 6.4 2.3 5.1 6.9z"/><path fill="#962a0c" d="M459.6 1066.5l-5.5-3.2 6.8-.2 5.5 3.3z"/><path fill="#902a0c" d="M308.4 1068.4l-5.4-.8 6.6-3.3 5.5 .9z"/><path fill="#961e0c" d="M435.6 1061.4l-5.5-2.8 6.8-.6 5.5 2.8z"/><path fill="#96240c" d="M447.6 1063.7l-5.5-3 6.8-.3 5.5 3z"/><path fill="#3c900c" d="M230.2 1104.8l-5.2 .1 6.4-5.3 5.2 0z"/><path fill="#906612" d="M272.2 1081.9l-5.4-.4 6.5-4.1 5.4 .4z"/><path fill="#904812" d="M290.2 1074.6l-5.3-.6 6.5-3.7 5.4 .6z"/><path fill="#90180c" d="M369 1057.9l-5.5-1.7 6.8-1.9 5.5 1.7z"/><path fill="#967e18" d="M512.8 1085.9l-5.4-4.2 6.7 .7 5.4 4.3z"/><path fill="#901e0c" d="M338.6 1061.7l-5.4-1.2 6.6-2.6 5.5 1.3z"/><path fill="#5a960c" d="M541.8 1101.3l-5.4-4.9 6.7 1.2 5.3 4.9z"/><path fill="#009006" d="M200.5 1127.5l-5.2 .3 6.3-6.1 5.1-.3zM609 1152.5l-5.2-6.5 6.5 2.1 5.1 6.5z"/><path fill="#96180c" d="M381 1057.9l-5.5-1.9 6.7-1.7 5.5 1.9z"/><path fill="#009006" d="M630.3 1174.8l-5-7.1 6.4 2.2 5.1 7.1z"/><path fill="#848a0c" d="M247.9 1094.9l-5.2-.1 6.4-4.8 5.3 .1z"/><path fill="#966c18" d="M500.9 1081.2l-5.5-4 6.8 .6 5.4 4z"/><path fill="#12900c" d="M224 1110.1l-5.2 .1 6.3-5.5 5.3 0z"/><path fill="#0c960c" d="M558.8 1112.5l-5.3-5.2 6.6 1.4 5.3 5.3z"/><path fill="#90240c" d="M320.3 1066.2l-5.5-1 6.7-3 5.4 1z"/><path fill="#009006" d="M592.4 1138.2l-5.2-6.1 6.5 1.8 5.2 6.1z"/><path fill="#96180c" d="M350.5 1060.6l-5.4-1.4 6.7-2.4 5.4 1.5zM393 1058.2l-5.5-2 6.7-1.5 5.5 2.1z"/><path fill="#009606" d="M575.7 1124.8l-5.3-5.6 6.6 1.6 5.2 5.7z"/><path fill="#907218" d="M265.8 1086.1l-5.3-.3 6.5-4.4 5.3 .3z"/><path fill="#8a960c" d="M530 1095.5l-5.4-4.6 6.7 1 5.3 4.6z"/><path fill="#9c5412" d="M488.9 1077l-5.4-3.8 6.7 .3 5.5 3.8z"/><path fill="#903c12" d="M302 1071.7l-5.4-.7 6.6-3.5 5.4 .8z"/><path fill="#905412" d="M283.8 1078.4l-5.3-.6 6.5-3.9 5.4 .6z"/><path fill="#96180c" d="M405 1059.1l-5.5-2.3 6.7-1.3 5.5 2.4z"/><path fill="#9c4212" d="M477 1073.1l-5.5-3.6 6.8 .1 5.4 3.6z"/><path fill="#009606" d="M614 1159l-5.1-6.7 6.5 2.1 5.1 6.7z"/><path fill="#96180c" d="M417 1060.3l-5.5-2.5 6.8-1 5.5 2.5z"/><path fill="#06900c" d="M217.8 1115.6l-5.2 .1 6.3-5.7 5.3 0z"/><path fill="#6c900c" d="M241.7 1099.8l-5.3-.1 6.4-5.1 5.3 .2z"/><path fill="#9c3012" d="M465 1069.7l-5.5-3.4 6.8-.1 5.5 3.4z"/><path fill="#96180c" d="M362.5 1059.9l-5.5-1.6 6.7-2.2 5.5 1.7z"/><path fill="#961e0c" d="M332.1 1064.4l-5.4-1.2 6.6-2.8 5.5 1.2z"/><path fill="#9c1e0c" d="M429 1062l-5.5-2.7 6.8-.8 5.5 2.8z"/><path fill="#3c9c0c" d="M547 1106.2l-5.3-5.1 6.6 1.2 5.4 5.1z"/><path fill="#9c2a0c" d="M453 1066.7l-5.5-3.1 6.8-.4 5.5 3.2z"/><path fill="#908a12" d="M518.1 1090.2l-5.4-4.4 6.7 .7 5.4 4.5z"/><path fill="#9c240c" d="M441 1064.1l-5.5-2.9 6.8-.5 5.5 2.9z"/><path fill="#009606" d="M597.5 1144.3l-5.2-6.3 6.6 1.8 5.1 6.3z"/><path fill="#8a8412" d="M259.5 1090.5l-5.3-.3 6.4-4.6 5.4 .3z"/><path fill="#009c0c" d="M564 1117.8l-5.3-5.4 6.6 1.4 5.3 5.5z"/><path fill="#96300c" d="M313.8 1069.3l-5.4-1 6.6-3.2 5.4 .9z"/><path fill="#96180c" d="M374.4 1059.6l-5.4-1.8 6.7-1.9 5.5 1.8z"/><path fill="#009606" d="M580.8 1130.5l-5.2-5.8 6.6 1.6 5.2 5.9zM211.7 1121.4l-5.2 .1 6.3-5.9 5.2-.1z"/><path fill="#9c7818" d="M506.2 1085.3l-5.4-4.2 6.7 .5 5.4 4.3z"/><path fill="#906618" d="M277.4 1082.3l-5.3-.5 6.5-4.1 5.4 .5z"/><path fill="#964812" d="M295.6 1075.3l-5.4-.8 6.5-3.7 5.4 .8z"/><path fill="#009606" d="M619 1165.7l-5.1-6.9 6.5 2.1 5.1 6.9z"/><path fill="#961e0c" d="M344 1063l-5.5-1.4 6.7-2.5 5.5 1.4z"/><path fill="#4e960c" d="M235.4 1104.8l-5.2 0 6.3-5.3 5.3 .1z"/><path fill="#729c0c" d="M535.3 1100.2l-5.4-4.8 6.7 1 5.3 4.8z"/><path fill="#9c180c" d="M386.4 1059.8l-5.5-2.1 6.8-1.6 5.5 2z"/><path fill="#9c6618" d="M494.3 1080.8l-5.4-4 6.7 .4 5.4 4z"/><path fill="#009006" d="M205.5 1127.3l-5.1 .2 6.2-6.2 5.2-.1z"/><path fill="#9c180c" d="M398.4 1060.4l-5.5-2.3 6.8-1.4 5.5 2.3z"/><path fill="#009606" d="M602.6 1150.5l-5.2-6.4 6.6 1.9 5.1 6.5z"/><path fill="#962a0c" d="M325.6 1067.2l-5.4-1.1 6.6-3 5.5 1.2z"/><path fill="#129c0c" d="M552.3 1111.2l-5.3-5.2 6.6 1.2 5.3 5.3z"/><path fill="#8a900c" d="M253.2 1095.1l-5.3-.3 6.4-4.8 5.3 .3z"/><path fill="#9c5412" d="M482.4 1076.7l-5.5-3.7 6.8 .1 5.4 3.8z"/><path fill="#9c1e0c" d="M355.9 1062.1l-5.4-1.6 6.7-2.3 5.4 1.6z"/><path fill="#009606" d="M624 1172.6l-5-7.1 6.4 2.1 5.1 7.1z"/><path fill="#90960c" d="M523.4 1094.6l-5.4-4.6 6.7 .8 5.4 4.7z"/><path fill="#9c180c" d="M410.4 1061.4l-5.5-2.5 6.8-1.2 5.5 2.5z"/><path fill="#1e960c" d="M229.2 1110.1l-5.3 0 6.4-5.5 5.2 .1z"/><path fill="#009606" d="M586 1136.4l-5.2-6.1 6.5 1.7 5.2 6.1z"/><path fill="#009c0c" d="M569.2 1123.3l-5.3-5.7 6.6 1.5 5.3 5.7z"/><path fill="#9c4212" d="M470.4 1073.1l-5.5-3.6 6.8 0 5.4 3.5z"/><path fill="#963c12" d="M307.3 1072.6l-5.4-1 6.6-3.4 5.4 .9z"/><path fill="#967218" d="M271.1 1086.5l-5.4-.5 6.5-4.3 5.4 .5z"/><path fill="#9c1e0c" d="M422.4 1062.9l-5.5-2.7 6.8-1 5.5 2.7z"/><path fill="#9c3012" d="M458.4 1069.9l-5.4-3.3 6.7-.4 5.5 3.4z"/><path fill="#965412" d="M289.1 1079l-5.3-.7 6.5-3.9 5.4 .7z"/><path fill="#9c1e0c" d="M434.4 1064.8l-5.5-2.9 6.8-.8 5.5 2.9z"/><path fill="#9c2a0c" d="M446.4 1067.1l-5.5-3.1 6.8-.5 5.5 3.1z"/><path fill="#9c180c" d="M367.9 1061.6l-5.5-1.8 6.7-2.1 5.5 1.8z"/><path fill="#9c8418" d="M511.6 1089.5l-5.4-4.4 6.7 .6 5.4 4.4z"/><path fill="#9c240c" d="M337.5 1065.6l-5.5-1.3 6.7-2.8 5.5 1.4z"/><path fill="#54a20c" d="M540.5 1105l-5.3-5 6.6 1.1 5.4 5z"/><path fill="#009606" d="M607.6 1157l-5.1-6.6 6.5 1.9 5.1 6.7z"/><path fill="#78960c" d="M246.9 1100l-5.3-.3 6.4-5 5.3 .3z"/><path fill="#06960c" d="M223 1115.6l-5.2 0 6.3-5.7 5.2 .1z"/><path fill="#9c180c" d="M379.8 1061.5l-5.4-2 6.7-1.9 5.5 2.1z"/><path fill="#a27218" d="M499.7 1084.8l-5.5-4.2 6.8 .4 5.4 4.2z"/><path fill="#9c300c" d="M319.1 1070.3l-5.4-1.1 6.6-3.2 5.5 1.1z"/><path fill="#069c0c" d="M557.5 1116.5l-5.3-5.4 6.6 1.2 5.3 5.5z"/><path fill="#009606" d="M591.1 1142.5l-5.2-6.3 6.6 1.7 5.1 6.3z"/><path fill="#908412" d="M264.7 1090.9l-5.3-.5 6.5-4.5 5.3 .5z"/><path fill="#009c06" d="M574.4 1129l-5.3-5.9 6.6 1.5 5.3 5.9z"/><path fill="#9c1e0c" d="M349.4 1064.5l-5.5-1.6 6.7-2.5 5.5 1.6z"/><path fill="#9c180c" d="M391.8 1061.9l-5.5-2.2 6.8-1.7 5.5 2.3z"/><path fill="#9c4812" d="M300.9 1076.1l-5.4-.9 6.6-3.7 5.4 .9z"/><path fill="#966618" d="M282.7 1082.9l-5.3-.7 6.5-4.1 5.4 .7z"/><path fill="#849c0c" d="M528.7 1099.3l-5.3-4.8 6.6 .8 5.4 4.8z"/><path fill="#a26018" d="M487.7 1080.5l-5.4-3.9 6.7 .1 5.5 4z"/><path fill="#00960c" d="M216.8 1121.3l-5.2 0 6.3-5.9 5.2 .1z"/><path fill="#5a960c" d="M240.6 1105l-5.3-.2 6.4-5.3 5.3 .3z"/><path fill="#009606" d="M612.7 1163.7l-5.1-6.9 6.5 2 5.1 6.9z"/><path fill="#a21e0c" d="M403.8 1062.7l-5.5-2.4 6.8-1.5 5.5 2.5z"/><path fill="#a24e12" d="M475.8 1076.7l-5.5-3.8 6.8 0 5.4 3.7z"/><path fill="#a21e0c" d="M415.8 1063.9l-5.5-2.6 6.8-1.2 5.5 2.7z"/><path fill="#9c1e0c" d="M361.3 1063.7l-5.5-1.7 6.7-2.3 5.5 1.8z"/><path fill="#9c2a0c" d="M331 1068.5l-5.5-1.4 6.7-2.9 5.4 1.3z"/><path fill="#a23c12" d="M463.8 1073.2l-5.5-3.5 6.8-.2 5.5 3.5z"/><path fill="#2aa20c" d="M545.8 1110.1l-5.3-5.2 6.6 1 5.3 5.3z"/><path fill="#a2240c" d="M427.8 1065.6l-5.5-2.9 6.8-.9 5.5 2.9z"/><path fill="#969012" d="M516.9 1093.9l-5.4-4.6 6.7 .7 5.4 4.6z"/><path fill="#a23012" d="M451.8 1070.3l-5.4-3.3 6.7-.5 5.5 3.3z"/><path fill="#a22a0c" d="M439.8 1067.7l-5.5-3.1 6.8-.7 5.5 3.1z"/><path fill="#009606" d="M210.6 1127.3l-5.1 0 6.2-6.2 5.2 .1zM596.2 1148.8l-5.2-6.5 6.6 1.7 5.1 6.5z"/><path fill="#909012" d="M258.4 1095.5l-5.3-.4 6.4-4.8 5.4 .4z"/><path fill="#9c3c12" d="M312.6 1073.6l-5.4-1.1 6.6-3.5 5.5 1.2z"/><path fill="#009c0c" d="M562.7 1121.9l-5.2-5.6 6.6 1.3 5.2 5.6z"/><path fill="#009c06" d="M579.5 1134.8l-5.2-6 6.6 1.5 5.2 6.1z"/><path fill="#309c0c" d="M234.3 1110.3l-5.2-.2 6.4-5.5 5.2 .2z"/><path fill="#a21e0c" d="M373.3 1063.4l-5.5-1.9 6.7-2.1 5.5 2z"/><path fill="#967218" d="M276.3 1087.1l-5.3-.7 6.5-4.3 5.4 .7z"/><path fill="#009606" d="M617.7 1170.6l-5.1-7.1 6.5 2 5 7.1z"/><path fill="#9c5412" d="M294.4 1079.8l-5.4-.9 6.6-3.9 5.4 .9z"/><path fill="#a28418" d="M505 1089l-5.4-4.4 6.7 .4 5.4 4.4z"/><path fill="#a2240c" d="M342.8 1067.1l-5.4-1.6 6.7-2.7 5.4 1.5z"/><path fill="#66a20c" d="M534 1104.1l-5.3-5 6.6 .9 5.4 5z"/><path fill="#a21e0c" d="M385.2 1063.6l-5.4-2.2 6.7-1.8 5.5 2.2z"/><path fill="#a27218" d="M493.1 1084.5l-5.4-4.1 6.7 .2 5.4 4.1z"/><path fill="#84960c" d="M252.1 1100.3l-5.3-.4 6.4-5 5.3 .4z"/><path fill="#009c06" d="M601.3 1155.2l-5.2-6.6 6.6 1.7 5.1 6.7z"/><path fill="#0c9c0c" d="M228.1 1115.8l-5.2-.2 6.3-5.7 5.3 .2z"/><path fill="#9c300c" d="M324.5 1071.5l-5.5-1.3 6.7-3.2 5.4 1.3z"/><path fill="#a21e0c" d="M397.2 1064.2l-5.5-2.4 6.8-1.7 5.5 2.5z"/><path fill="#0ca20c" d="M551 1115.3l-5.3-5.4 6.7 1.1 5.3 5.4z"/><path fill="#a21e0c" d="M354.8 1066.1l-5.5-1.7 6.7-2.5 5.5 1.7z"/><path fill="#a86018" d="M481.2 1080.4l-5.5-3.9 6.7 0 5.5 3.9z"/><path fill="#009c06" d="M584.7 1140.9l-5.2-6.3 6.5 1.6 5.2 6.2z"/><path fill="#968418" d="M270 1091.5l-5.4-.7 6.5-4.5 5.4 .6z"/><path fill="#909c0c" d="M522.2 1098.5l-5.4-4.7 6.7 .6 5.4 4.8z"/><path fill="#009c0c" d="M567.9 1127.6l-5.2-5.8 6.6 1.3 5.2 5.8z"/><path fill="#9c4812" d="M306.2 1077l-5.4-1 6.6-3.7 5.4 1.1z"/><path fill="#a81e0c" d="M409.2 1065.2l-5.5-2.6 6.8-1.4 5.5 2.6z"/><path fill="#9c6618" d="M288 1083.7l-5.4-.9 6.6-4 5.4 .8z"/><path fill="#a84e12" d="M469.2 1076.8l-5.5-3.7 6.8-.2 5.4 3.7z"/><path fill="#a8240c" d="M421.2 1066.6l-5.5-2.8 6.8-1.2 5.5 2.9z"/><path fill="#a83c12" d="M457.2 1073.6l-5.5-3.5 6.8-.4 5.5 3.5z"/><path fill="#a82a0c" d="M433.2 1068.5l-5.5-3 6.8-1 5.5 3.1z"/><path fill="#a83012" d="M445.2 1070.8l-5.4-3.2 6.7-.7 5.5 3.3z"/><path fill="#009c0c" d="M221.9 1121.5l-5.2-.2 6.3-5.9 5.2 .2z"/><path fill="#a21e0c" d="M366.7 1065.6l-5.5-2 6.7-2.2 5.5 1.9z"/><path fill="#669c0c" d="M245.8 1105.4l-5.3-.5 6.4-5.2 5.3 .5z"/><path fill="#a22a0c" d="M336.3 1069.9l-5.4-1.5 6.6-3 5.5 1.5z"/><path fill="#009c06" d="M606.3 1161.9l-5.1-6.9 6.5 1.8 5.1 6.9z"/><path fill="#9c9012" d="M510.3 1093.4l-5.4-4.6 6.7 .5 5.4 4.5z"/><path fill="#48a20c" d="M539.3 1109.1l-5.4-5.2 6.7 .9 5.3 5.2z"/><path fill="#a81e0c" d="M378.7 1065.5l-5.5-2.2 6.7-2 5.5 2.2z"/><path fill="#909012" d="M263.6 1096l-5.3-.6 6.5-4.7 5.3 .6z"/><path fill="#a23c12" d="M318 1074.7l-5.4-1.2 6.6-3.4 5.4 1.3z"/><path fill="#009c06" d="M589.8 1147.1l-5.2-6.4 6.6 1.6 5.1 6.4z"/><path fill="#00a20c" d="M556.2 1120.7l-5.2-5.6 6.6 1.2 5.3 5.6z"/><path fill="#009c0c" d="M215.7 1127.4l-5.2-.2 6.3-6.1 5.2 .2z"/><path fill="#a28418" d="M498.4 1088.7l-5.4-4.4 6.7 .3 5.5 4.3z"/><path fill="#009c0c" d="M573.1 1133.4l-5.3-6 6.6 1.3 5.3 6.1z"/><path fill="#9c7818" d="M281.6 1087.8l-5.4-.8 6.6-4.3 5.3 .8z"/><path fill="#a25a18" d="M299.7 1080.7l-5.4-1 6.6-3.9 5.4 1.1z"/><path fill="#a2240c" d="M348.2 1068.7l-5.4-1.7 6.6-2.8 5.5 1.8z"/><path fill="#3c9c0c" d="M239.5 1110.6l-5.3-.4 6.4-5.4 5.3 .4z"/><path fill="#a81e0c" d="M390.6 1065.8l-5.4-2.3 6.7-1.8 5.5 2.3z"/><path fill="#009c06" d="M611.3 1168.8l-5.1-7.1 6.5 1.8 5.1 7.1z"/><path fill="#78a20c" d="M527.5 1103.3l-5.4-4.9 6.7 .6 5.4 5z"/><path fill="#a86c18" d="M486.5 1084.4l-5.4-4.1 6.7 0 5.4 4.1z"/><path fill="#a81e0c" d="M402.6 1066.6l-5.5-2.6 6.8-1.5 5.5 2.6z"/><path fill="#a85a18" d="M474.6 1080.5l-5.5-3.9 6.8-.2 5.4 4z"/><path fill="#a23012" d="M329.8 1072.9l-5.4-1.5 6.6-3.2 5.5 1.5z"/><path fill="#a8240c" d="M360.1 1067.9l-5.4-1.9 6.7-2.5 5.5 2z"/><path fill="#8a9c0c" d="M257.3 1100.8l-5.3-.6 6.4-4.9 5.3 .6z"/><path fill="#a8240c" d="M414.6 1067.8l-5.5-2.8 6.8-1.3 5.5 2.8z"/><path fill="#18a80c" d="M544.5 1114.3l-5.3-5.4 6.7 .9 5.3 5.5z"/><path fill="#a84812" d="M462.6 1077.1l-5.5-3.6 6.8-.5 5.4 3.7z"/><path fill="#009c06" d="M594.8 1153.6l-5.1-6.6 6.5 1.5 5.2 6.7z"/><path fill="#969c12" d="M515.6 1098l-5.4-4.8 6.8 .5 5.3 4.8z"/><path fill="#0c9c0c" d="M233.3 1116.1l-5.3-.4 6.4-5.7 5.2 .4z"/><path fill="#a82a0c" d="M426.6 1069.5l-5.5-3 6.8-1.1 5.5 3z"/><path fill="#a83612" d="M450.6 1074.1l-5.5-3.4 6.8-.7 5.5 3.5z"/><path fill="#a83012" d="M438.6 1071.6l-5.5-3.2 6.8-.9 5.5 3.2z"/><path fill="#a24812" d="M311.5 1078.2l-5.4-1.2 6.6-3.7 5.4 1.3z"/><path fill="#9c8418" d="M275.2 1092.2l-5.3-.8 6.5-4.5 5.3 .8z"/><path fill="#00a20c" d="M561.4 1126.4l-5.2-5.8 6.6 1.1 5.2 5.8z"/><path fill="#009c06" d="M578.2 1139.5l-5.2-6.3 6.6 1.4 5.2 6.2z"/><path fill="#a26618" d="M293.3 1084.6l-5.4-1 6.6-4.1 5.4 1.1z"/><path fill="#a8240c" d="M372.1 1067.6l-5.5-2.1 6.7-2.3 5.5 2.2z"/><path fill="#a29018" d="M503.8 1093l-5.4-4.5 6.7 .3 5.4 4.5z"/><path fill="#a82a0c" d="M341.7 1071.4l-5.5-1.6 6.7-3 5.5 1.7z"/><path fill="#5aa80c" d="M532.7 1108.3l-5.3-5.1 6.7 .7 5.3 5.1z"/><path fill="#6ca20c" d="M251 1105.9l-5.3-.6 6.4-5.2 5.3 .6z"/><path fill="#069c0c" d="M227 1121.8l-5.2-.4 6.3-5.9 5.3 .4z"/><path fill="#a8240c" d="M384 1067.7l-5.4-2.3 6.7-2 5.5 2.3z"/><path fill="#009c06" d="M599.9 1160.3l-5.1-6.9 6.5 1.6 5.1 6.9z"/><path fill="#a87e18" d="M491.8 1088.5l-5.4-4.3 6.8 .1 5.4 4.3z"/><path fill="#a23c12" d="M323.3 1076.1l-5.4-1.5 6.6-3.3 5.5 1.4z"/><path fill="#06a80c" d="M549.7 1119.7l-5.3-5.6 6.7 1 5.3 5.6z"/><path fill="#969012" d="M268.8 1096.7l-5.3-.7 6.5-4.8 5.3 .8z"/><path fill="#a8240c" d="M396 1068.2l-5.4-2.5 6.7-1.8 5.5 2.6z"/><path fill="#a82a0c" d="M353.6 1070.4l-5.5-1.8 6.7-2.7 5.5 1.9z"/><path fill="#009c06" d="M583.3 1145.7l-5.2-6.4 6.6 1.4 5.2 6.4z"/><path fill="#ae6c18" d="M479.9 1084.5l-5.4-4.1 6.7-.2 5.5 4.1z"/><path fill="#a25a18" d="M305 1081.9l-5.4-1.3 6.6-3.8 5.4 1.3z"/><path fill="#00a20c" d="M566.6 1132.2l-5.2-6 6.6 1.1 5.2 6.1z"/><path fill="#a27818" d="M286.9 1088.7l-5.4-1 6.6-4.2 5.3 1z"/><path fill="#009c0c" d="M220.8 1127.7l-5.2-.4 6.3-6.1 5.3 .4z"/><path fill="#8aa80c" d="M520.9 1102.7l-5.3-4.9 6.7 .5 5.3 5z"/><path fill="#ae240c" d="M408 1069.2l-5.5-2.7 6.8-1.6 5.5 2.8z"/><path fill="#48a20c" d="M244.7 1111.1l-5.3-.6 6.4-5.4 5.3 .6z"/><path fill="#ae5a18" d="M468 1080.8l-5.5-3.8 6.8-.4 5.4 3.9z"/><path fill="#ae2a12" d="M420 1070.7l-5.5-3 6.8-1.3 5.5 3z"/><path fill="#009c06" d="M604.9 1167.1l-5.1-7 6.6 1.6 5 7z"/><path fill="#ae4812" d="M456 1077.6l-5.5-3.6 6.8-.6 5.4 3.6z"/><path fill="#ae3012" d="M432 1072.6l-5.5-3.2 6.8-1.1 5.5 3.2z"/><path fill="#ae3612" d="M444 1074.9l-5.5-3.4 6.8-.9 5.5 3.5z"/><path fill="#a8240c" d="M365.5 1069.9l-5.4-2.1 6.7-2.5 5.4 2.2z"/><path fill="#a83612" d="M335.2 1074.4l-5.5-1.6 6.7-3.2 5.4 1.7z"/><path fill="#9c9c12" d="M509.1 1097.6l-5.4-4.7 6.7 .3 5.4 4.7z"/><path fill="#30a80c" d="M538 1113.5l-5.3-5.4 6.6 .8 5.3 5.4z"/><path fill="#909c0c" d="M262.5 1101.5l-5.3-.7 6.5-5 5.3 .8z"/><path fill="#009c06" d="M588.4 1152.1l-5.1-6.6 6.5 1.4 5.2 6.7z"/><path fill="#a84e12" d="M316.8 1079.5l-5.4-1.4 6.6-3.6 5.5 1.5z"/><path fill="#ae240c" d="M377.5 1069.8l-5.5-2.3 6.7-2.3 5.5 2.4z"/><path fill="#18a20c" d="M238.4 1116.5l-5.2-.5 6.3-5.6 5.3 .5z"/><path fill="#00a80c" d="M554.9 1125.3l-5.2-5.8 6.6 1 5.3 5.8z"/><path fill="#a28a18" d="M280.5 1093.1l-5.4-1 6.5-4.5 5.4 1z"/><path fill="#00a20c" d="M571.7 1138.2l-5.2-6.2 6.6 1.2 5.2 6.2z"/><path fill="#a26618" d="M298.6 1085.7l-5.4-1.2 6.6-4 5.4 1.2z"/><path fill="#a89018" d="M497.2 1092.9l-5.4-4.5 6.7 0 5.4 4.6z"/><path fill="#a83012" d="M347 1073.2l-5.4-1.9 6.7-2.9 5.4 1.9z"/><path fill="#ae240c" d="M389.4 1070.1l-5.4-2.5 6.7-2 5.5 2.5z"/><path fill="#6ca80c" d="M526.2 1107.7l-5.4-5.1 6.7 .5 5.4 5.1z"/><path fill="#ae7e18" d="M485.3 1088.6l-5.5-4.3 6.8-.1 5.4 4.3z"/><path fill="#72a20c" d="M256.2 1106.5l-5.3-.7 6.4-5.2 5.3 .8z"/><path fill="#ae2a0c" d="M401.4 1070.9l-5.5-2.8 6.8-1.7 5.5 2.7z"/><path fill="#06a20c" d="M232.2 1122.2l-5.3-.5 6.4-5.9 5.2 .6z"/><path fill="#a84212" d="M328.6 1077.6l-5.4-1.6 6.7-3.4 5.4 1.7z"/><path fill="#ae6c18" d="M473.3 1084.7l-5.4-4 6.7-.4 5.5 4.1z"/><path fill="#00a206" d="M593.5 1158.8l-5.2-6.9 6.6 1.5 5.1 6.8z"/><path fill="#ae2a12" d="M359 1072.4l-5.5-2.1 6.7-2.6 5.5 2.1z"/><path fill="#0ca80c" d="M543.2 1118.9l-5.3-5.6 6.7 .8 5.3 5.6z"/><path fill="#ae2a12" d="M413.4 1072.1l-5.5-3 6.8-1.5 5.5 3z"/><path fill="#ae5a18" d="M461.4 1081.3l-5.5-3.8 6.8-.6 5.4 3.8z"/><path fill="#9c9012" d="M274.1 1097.6l-5.3-.9 6.5-4.8 5.3 1z"/><path fill="#9ca80c" d="M514.3 1102.3l-5.3-4.9 6.7 .3 5.4 5z"/><path fill="#ae3012" d="M425.4 1073.7l-5.5-3.2 6.8-1.2 5.5 3.2z"/><path fill="#a85a18" d="M310.3 1083.2l-5.4-1.4 6.7-3.8 5.4 1.4z"/><path fill="#ae4812" d="M449.4 1078.3l-5.5-3.6 6.8-.8 5.4 3.6z"/><path fill="#00a206" d="M576.9 1144.4l-5.2-6.4 6.6 1.2 5.2 6.4z"/><path fill="#ae3612" d="M437.4 1075.8l-5.5-3.4 6.8-1 5.5 3.4z"/><path fill="#00a80c" d="M560.1 1131.1l-5.3-6 6.7 1 5.2 6z"/><path fill="#a27818" d="M292.1 1089.8l-5.3-1.1 6.5-4.3 5.4 1.2z"/><path fill="#00a20c" d="M226 1128.1l-5.2-.5 6.3-6.1 5.2 .6z"/><path fill="#ae2a12" d="M370.9 1072l-5.5-2.2 6.7-2.4 5.5 2.3z"/><path fill="#54a80c" d="M249.9 1111.7l-5.3-.7 6.4-5.4 5.3 .8z"/><path fill="#ae3612" d="M340.5 1076.1l-5.4-1.8 6.6-3.1 5.5 1.9z"/><path fill="#a29c12" d="M502.5 1097.4l-5.4-4.7 6.7 .1 5.4 4.7z"/><path fill="#00a206" d="M598.5 1165.6l-5.1-7 6.5 1.4 5.1 7.1z"/><path fill="#48ae0c" d="M531.4 1112.9l-5.3-5.4 6.7 .6 5.3 5.3z"/><path fill="#ae2a12" d="M382.8 1072.1l-5.4-2.5 6.7-2.1 5.5 2.5z"/><path fill="#96a20c" d="M267.7 1102.4l-5.3-1 6.5-4.9 5.3 .9z"/><path fill="#a84e12" d="M322.1 1081l-5.4-1.6 6.7-3.5 5.4 1.6z"/><path fill="#ae8a18" d="M490.6 1092.9l-5.4-4.5 6.7-.1 5.4 4.5z"/><path fill="#00a80c" d="M548.4 1124.5l-5.3-5.8 6.7 .8 5.3 5.8z"/><path fill="#00a206" d="M581.9 1150.8l-5.1-6.6 6.6 1.3 5.1 6.6z"/><path fill="#ae3612" d="M352.4 1075.1l-5.4-2 6.6-2.9 5.5 2.1z"/><path fill="#a28a18" d="M285.7 1094.1l-5.3-1.1 6.5-4.5 5.4 1.2z"/><path fill="#a86c18" d="M303.9 1087l-5.4-1.4 6.6-4 5.4 1.4z"/><path fill="#ae2a12" d="M394.8 1072.7l-5.5-2.7 6.8-2 5.5 2.7z"/><path fill="#1ea80c" d="M243.6 1117.2l-5.3-.7 6.4-5.7 5.3 .8z"/><path fill="#00a80c" d="M565.2 1137.1l-5.2-6.2 6.7 1 5.2 6.2z"/><path fill="#ae7818" d="M478.7 1088.8l-5.5-4.2 6.8-.4 5.4 4.3z"/><path fill="#7eae0c" d="M519.6 1107.3l-5.3-5.1 6.7 .3 5.3 5.1z"/><path fill="#b43012" d="M406.8 1073.6l-5.5-2.9 6.8-1.7 5.5 3z"/><path fill="#b46618" d="M466.7 1085.2l-5.4-4 6.7-.6 5.5 4z"/><path fill="#b43612" d="M418.8 1075.1l-5.5-3.2 6.8-1.5 5.5 3.2z"/><path fill="#b45418" d="M454.7 1082l-5.4-3.8 6.8-.8 5.4 3.8z"/><path fill="#ae3012" d="M364.3 1074.5l-5.4-2.2 6.7-2.6 5.4 2.2z"/><path fill="#ae4212" d="M334 1079.3l-5.4-1.8 6.6-3.3 5.5 1.8z"/><path fill="#b43c12" d="M430.8 1076.9l-5.5-3.3 6.8-1.3 5.4 3.4z"/><path fill="#b44812" d="M442.8 1079.2l-5.5-3.5 6.8-1.1 5.4 3.6z"/><path fill="#7ea20c" d="M261.4 1107.3l-5.3-.9 6.4-5.1 5.4 .9z"/><path fill="#12ae0c" d="M536.7 1118.2l-5.3-5.5 6.6 .6 5.3 5.5z"/><path fill="#06a80c" d="M237.3 1122.8l-5.2-.6 6.4-5.9 5.2 .7z"/><path fill="#9ca812" d="M507.8 1102.1l-5.4-4.9 6.7 .2 5.4 4.9z"/><path fill="#00a206" d="M587 1157.5l-5.1-6.8 6.6 1.2 5.1 6.8z"/><path fill="#a86018" d="M315.7 1084.6l-5.4-1.5 6.6-3.8 5.4 1.6z"/><path fill="#9c9612" d="M279.3 1098.6l-5.3-1.1 6.5-4.7 5.4 1.2z"/><path fill="#00a80c" d="M553.6 1130.2l-5.3-5.9 6.7 .8 5.2 6z"/><path fill="#ae3012" d="M376.3 1074.4l-5.5-2.5 6.7-2.4 5.5 2.5z"/><path fill="#a87818" d="M297.4 1091.1l-5.3-1.4 6.5-4.2 5.4 1.4z"/><path fill="#00a20c" d="M570.4 1143.3l-5.2-6.4 6.6 1.1 5.2 6.4z"/><path fill="#a89c18" d="M495.9 1097.4l-5.4-4.7 6.7-.1 5.4 4.7z"/><path fill="#ae3c12" d="M345.9 1078l-5.5-2 6.7-3 5.5 2z"/><path fill="#00a20c" d="M231.1 1128.7l-5.2-.6 6.3-6.1 5.3 .7z"/><path fill="#5aa80c" d="M255.1 1112.5l-5.3-.8 6.4-5.4 5.3 .9z"/><path fill="#b43012" d="M388.2 1074.7l-5.4-2.7 6.7-2.1 5.5 2.7z"/><path fill="#5aae0c" d="M524.9 1112.4l-5.4-5.3 6.7 .4 5.4 5.3z"/><path fill="#ae8a18" d="M484 1093.1l-5.4-4.4 6.7-.4 5.4 4.5z"/><path fill="#00a206" d="M592.1 1164.3l-5.2-7 6.6 1.2 5.1 7.1z"/><path fill="#ae5418" d="M327.5 1082.7l-5.4-1.8 6.6-3.5 5.4 1.8z"/><path fill="#b43012" d="M400.2 1075.4l-5.5-2.9 6.8-1.9 5.5 2.9z"/><path fill="#96a20c" d="M273 1103.4l-5.4-1.1 6.5-4.9 5.4 1.1z"/><path fill="#ae3612" d="M357.8 1077.2l-5.5-2.2 6.7-2.8 5.5 2.2z"/><path fill="#b47818" d="M472 1089.2l-5.4-4.2 6.8-.5 5.4 4.2z"/><path fill="#06ae0c" d="M541.9 1123.8l-5.3-5.8 6.7 .6 5.2 5.8z"/><path fill="#b43612" d="M412.2 1076.6l-5.5-3.1 6.8-1.7 5.4 3.2z"/><path fill="#a86c18" d="M309.2 1088.5l-5.4-1.6 6.6-4 5.4 1.6z"/><path fill="#00a206" d="M575.5 1149.7l-5.2-6.6 6.6 1.1 5.2 6.6z"/><path fill="#a88a18" d="M291 1095.4l-5.4-1.4 6.6-4.4 5.4 1.3z"/><path fill="#8aae0c" d="M513 1107l-5.3-5.1 6.7 .2 5.4 5.1z"/><path fill="#b46618" d="M460.1 1085.8l-5.4-4 6.7-.7 5.5 4z"/><path fill="#00a80c" d="M558.7 1136.2l-5.2-6.1 6.7 .8 5.2 6.2z"/><path fill="#b43c12" d="M424.2 1078.3l-5.5-3.4 6.8-1.4 5.4 3.3z"/><path fill="#24a80c" d="M248.8 1118l-5.3-.9 6.4-5.6 5.3 .9z"/><path fill="#b45418" d="M448.1 1082.9l-5.4-3.8 6.7-1 5.5 3.8z"/><path fill="#b44812" d="M436.1 1080.3l-5.4-3.5 6.8-1.2 5.4 3.5z"/><path fill="#b43612" d="M369.7 1076.8l-5.5-2.4 6.8-2.6 5.4 2.5z"/><path fill="#ae4812" d="M339.3 1081.2l-5.4-2 6.7-3.3 5.4 2z"/><path fill="#a2a812" d="M501.2 1102.1l-5.4-4.9 6.7 0 5.4 4.8z"/><path fill="#2aae0c" d="M530.1 1117.7l-5.3-5.5 6.7 .4 5.3 5.6z"/><path fill="#7ea80c" d="M266.6 1108.3l-5.3-1 6.5-5.2 5.3 1.1z"/><path fill="#b43612" d="M381.6 1076.9l-5.4-2.6 6.7-2.4 5.5 2.7z"/><path fill="#ae6018" d="M321 1086.3l-5.4-1.8 6.6-3.7 5.4 1.7z"/><path fill="#0ca80c" d="M242.5 1123.6l-5.3-.8 6.4-5.9 5.3 .9z"/><path fill="#00a206" d="M580.5 1156.3l-5.1-6.8 6.6 1.1 5.1 6.8z"/><path fill="#a29612" d="M284.6 1099.9l-5.4-1.3 6.6-4.7 5.3 1.3z"/><path fill="#ae9618" d="M489.3 1097.6l-5.4-4.7 6.7-.2 5.4 4.6z"/><path fill="#00ae0c" d="M547.1 1129.5l-5.3-5.9 6.7 .6 5.2 6z"/><path fill="#a87e18" d="M302.7 1092.5l-5.4-1.5 6.6-4.2 5.4 1.5z"/><path fill="#b44212" d="M351.2 1080.1l-5.4-2.2 6.7-3 5.4 2.2z"/><path fill="#00a80c" d="M563.9 1142.4l-5.2-6.4 6.6 .9 5.2 6.4z"/><path fill="#b43612" d="M393.6 1077.4l-5.5-2.8 6.8-2.2 5.4 2.9z"/><path fill="#b48a18" d="M477.4 1093.5l-5.4-4.4 6.7-.5 5.4 4.4z"/><path fill="#66b40c" d="M518.3 1112.1l-5.3-5.2 6.7 .1 5.3 5.3z"/><path fill="#b43c12" d="M405.6 1078.4l-5.5-3.1 6.8-1.9 5.4 3.1z"/><path fill="#60a80c" d="M260.3 1113.5l-5.3-1 6.4-5.4 5.3 1.1z"/><path fill="#00a80c" d="M236.3 1129.5l-5.3-.8 6.4-6.1 5.2 .9z"/><path fill="#b47818" d="M465.4 1089.9l-5.4-4.2 6.8-.8 5.4 4.3z"/><path fill="#ae5a18" d="M332.8 1084.5l-5.4-1.9 6.6-3.5 5.5 1.9z"/><path fill="#b44212" d="M417.5 1079.8l-5.4-3.3 6.8-1.7 5.4 3.4z"/><path fill="#b43c12" d="M363.1 1079.5l-5.4-2.4 6.7-2.8 5.4 2.4z"/><path fill="#ba6618" d="M453.5 1086.7l-5.5-4 6.8-.9 5.4 3.9z"/><path fill="#ba4e12" d="M429.5 1081.6l-5.4-3.5 6.7-1.4 5.5 3.5z"/><path fill="#ba5a18" d="M441.5 1083.9l-5.4-3.7 6.7-1.2 5.5 3.8z"/><path fill="#00a20c" d="M585.6 1163.2l-5.1-7 6.6 1 5.1 7.1z"/><path fill="#0cae0c" d="M535.3 1123.3l-5.3-5.7 6.7 .4 5.3 5.7z"/><path fill="#96ae0c" d="M506.5 1107l-5.4-5.1 6.7 0 5.4 5.1z"/><path fill="#9ca20c" d="M278.2 1104.6l-5.3-1.3 6.5-4.9 5.3 1.3z"/><path fill="#ae7218" d="M314.5 1090.1l-5.4-1.7 6.6-4 5.4 1.7z"/><path fill="#a89018" d="M296.3 1096.8l-5.4-1.5 6.6-4.5 5.4 1.5z"/><path fill="#00a806" d="M569 1148.8l-5.2-6.6 6.6 .9 5.2 6.6z"/><path fill="#00ae0c" d="M552.2 1135.5l-5.2-6.1 6.6 .6 5.3 6.2z"/><path fill="#b43c12" d="M375 1079.3l-5.4-2.6 6.7-2.5 5.5 2.6z"/><path fill="#2aae0c" d="M254 1118.9l-5.3-1 6.4-5.6 5.3 1.1z"/><path fill="#b44e12" d="M344.7 1083.2l-5.5-2.1 6.7-3.3 5.5 2.2z"/><path fill="#a8a812" d="M494.6 1102.2l-5.4-4.8 6.8-.2 5.3 4.8z"/><path fill="#3cb40c" d="M523.5 1117.5l-5.3-5.5 6.7 .2 5.3 5.5z"/><path fill="#b43c12" d="M387 1079.6l-5.5-2.8 6.8-2.3 5.4 2.8z"/><path fill="#ae9618" d="M482.7 1097.9l-5.4-4.6 6.7-.4 5.4 4.6z"/><path fill="#84a80c" d="M271.8 1109.5l-5.3-1.2 6.5-5.2 5.3 1.3z"/><path fill="#ae6618" d="M326.3 1088.1l-5.4-1.9 6.6-3.8 5.4 2z"/><path fill="#ba4212" d="M399 1080.3l-5.5-3 6.8-2.1 5.4 3.1z"/><path fill="#b44812" d="M356.6 1082.4l-5.5-2.4 6.7-3 5.5 2.4z"/><path fill="#00ae0c" d="M540.5 1129l-5.3-5.9 6.7 .4 5.3 6z"/><path fill="#0ca80c" d="M247.7 1124.6l-5.3-1 6.4-5.9 5.3 1.1z"/><path fill="#a29c12" d="M289.9 1101.2l-5.4-1.4 6.6-4.7 5.3 1.5z"/><path fill="#ae8418" d="M308 1094.1l-5.4-1.7 6.6-4.2 5.4 1.7z"/><path fill="#00a80c" d="M574.1 1155.4l-5.2-6.8 6.6 .9 5.2 6.8z"/><path fill="#b48a18" d="M470.8 1094.1l-5.5-4.4 6.8-.7 5.4 4.4z"/><path fill="#ba4812" d="M410.9 1081.5l-5.4-3.3 6.7-1.8 5.5 3.3z"/><path fill="#00a80c" d="M557.4 1141.7l-5.3-6.4 6.7 .7 5.2 6.4z"/><path fill="#72b40c" d="M511.7 1112.1l-5.3-5.3 6.7 0 5.3 5.3z"/><path fill="#ba7818" d="M458.8 1090.7l-5.4-4.2 6.8-.9 5.4 4.2z"/><path fill="#ba4e18" d="M422.9 1083.1l-5.4-3.5 6.7-1.6 5.5 3.5z"/><path fill="#ba6c18" d="M446.9 1087.7l-5.5-3.9 6.8-1.2 5.4 4z"/><path fill="#ba5a18" d="M434.9 1085.2l-5.5-3.7 6.8-1.4 5.5 3.7z"/><path fill="#b44812" d="M368.5 1082l-5.5-2.6 6.7-2.8 5.5 2.6z"/><path fill="#b46018" d="M338.1 1086.6l-5.4-2.2 6.7-3.5 5.4 2.2z"/><path fill="#60ae0c" d="M265.5 1114.7l-5.3-1.2 6.4-5.4 5.4 1.3z"/><path fill="#00a80c" d="M241.4 1130.4l-5.2-1 6.3-6 5.3 1z"/><path fill="#a2b40c" d="M499.9 1107.1l-5.4-5 6.7-.3 5.4 5.1z"/><path fill="#12b40c" d="M528.8 1123l-5.3-5.7 6.7 .2 5.3 5.7z"/><path fill="#ae7818" d="M319.8 1091.9l-5.4-1.9 6.6-4 5.4 2z"/><path fill="#00a80c" d="M579.1 1162.2l-5.1-7 6.6 .9 5.1 7z"/><path fill="#9ca812" d="M283.5 1105.9l-5.4-1.4 6.5-4.9 5.4 1.5z"/><path fill="#ba4812" d="M380.4 1082l-5.4-2.8 6.7-2.5 5.4 2.8z"/><path fill="#ae9018" d="M301.6 1098.3l-5.4-1.6 6.6-4.4 5.4 1.7z"/><path fill="#00ae0c" d="M545.7 1135l-5.3-6.2 6.7 .5 5.2 6.1z"/><path fill="#aea212" d="M488 1102.6l-5.4-4.8 6.8-.5 5.3 4.9z"/><path fill="#00a80c" d="M562.5 1148l-5.2-6.5 6.6 .7 5.2 6.5z"/><path fill="#b45a18" d="M350 1085.5l-5.4-2.4 6.7-3.2 5.4 2.4z"/><path fill="#ba4812" d="M392.4 1082.5l-5.5-3 6.8-2.3 5.4 3z"/><path fill="#30ae0c" d="M259.2 1120.1l-5.3-1.2 6.4-5.6 5.3 1.2z"/><path fill="#4eb40c" d="M517 1117.4l-5.4-5.5 6.8 0 5.3 5.5z"/><path fill="#b49c18" d="M476.1 1098.5l-5.4-4.6 6.7-.6 5.4 4.6z"/><path fill="#ba4e12" d="M404.3 1083.4l-5.4-3.2 6.7-2.1 5.5 3.3z"/><path fill="#b46c18" d="M331.6 1090.1l-5.4-2.1 6.7-3.7 5.4 2.1z"/><path fill="#ba8a18" d="M464.1 1094.9l-5.4-4.4 6.8-.9 5.4 4.4z"/><path fill="#b45418" d="M361.9 1084.8l-5.4-2.5 6.7-3 5.4 2.6z"/><path fill="#ba5418" d="M416.3 1084.8l-5.5-3.4 6.8-1.9 5.5 3.5z"/><path fill="#84ae0c" d="M277.1 1110.9l-5.4-1.5 6.5-5.1 5.4 1.5z"/><path fill="#ba7818" d="M452.2 1091.7l-5.4-4.1 6.7-1.2 5.5 4.2z"/><path fill="#ba6018" d="M428.3 1086.7l-5.5-3.7 6.8-1.6 5.4 3.7z"/><path fill="#06b40c" d="M533.9 1128.7l-5.2-5.9 6.7 .3 5.2 5.9z"/><path fill="#ba6c18" d="M440.2 1089l-5.4-3.9 6.8-1.4 5.4 3.9z"/><path fill="#ae8418" d="M313.3 1095.9l-5.4-1.9 6.6-4.2 5.4 1.9z"/><path fill="#a89c12" d="M295.1 1102.8l-5.3-1.6 6.5-4.7 5.4 1.7z"/><path fill="#7eb40c" d="M505.1 1112.2l-5.3-5.3 6.7-.2 5.4 5.3z"/><path fill="#00a80c" d="M567.6 1154.6l-5.2-6.7 6.6 .7 5.2 6.7z"/><path fill="#0cae0c" d="M252.9 1125.7l-5.3-1.2 6.4-5.8 5.3 1.2z"/><path fill="#00ae0c" d="M550.8 1141.1l-5.2-6.3 6.7 .5 5.2 6.3z"/><path fill="#ba4e18" d="M373.8 1084.6l-5.4-2.7 6.7-2.8 5.5 2.8z"/><path fill="#b46618" d="M343.5 1088.8l-5.5-2.3 6.7-3.5 5.4 2.3z"/><path fill="#a2b40c" d="M493.3 1107.4l-5.4-5 6.7-.4 5.4 5z"/><path fill="#18b40c" d="M522.2 1122.9l-5.3-5.7 6.7 0 5.3 5.7z"/><path fill="#60ae0c" d="M270.7 1116l-5.3-1.4 6.5-5.3 5.3 1.4z"/><path fill="#ba5418" d="M385.8 1084.9l-5.5-3 6.8-2.5 5.4 3z"/><path fill="#00ae0c" d="M246.6 1131.6l-5.3-1.2 6.4-6.1 5.3 1.2z"/><path fill="#b47e18" d="M325.1 1093.9l-5.4-2.1 6.6-3.9 5.5 2.1z"/><path fill="#aea818" d="M481.4 1103.1l-5.4-4.7 6.7-.7 5.4 4.8z"/><path fill="#a2a812" d="M288.7 1107.5l-5.3-1.6 6.5-4.9 5.4 1.7z"/><path fill="#00a80c" d="M572.6 1161.4l-5.1-7 6.6 .8 5.1 6.9z"/><path fill="#ae9618" d="M306.8 1100.1l-5.3-1.9 6.6-4.3 5.4 1.8z"/><path fill="#ba5418" d="M397.7 1085.6l-5.4-3.2 6.7-2.3 5.5 3.2z"/><path fill="#00b40c" d="M539.1 1134.6l-5.2-6.1 6.7 .3 5.2 6.1z"/><path fill="#ba6018" d="M355.3 1087.9l-5.4-2.5 6.7-3.3 5.4 2.6z"/><path fill="#00ae0c" d="M555.9 1147.5l-5.2-6.6 6.7 .5 5.2 6.6z"/><path fill="#ba9c1e" d="M469.4 1099.3l-5.3-4.6 6.7-.8 5.4 4.5z"/><path fill="#ba5a18" d="M409.7 1086.7l-5.5-3.4 6.8-2 5.4 3.4z"/><path fill="#5aba0c" d="M510.4 1117.4l-5.4-5.4 6.8-.2 5.3 5.5z"/><path fill="#ba8a1e" d="M457.5 1095.9l-5.4-4.3 6.8-1.1 5.4 4.3z"/><path fill="#ba6618" d="M421.6 1088.4l-5.4-3.7 6.8-1.8 5.4 3.7z"/><path fill="#30ae0c" d="M264.4 1121.4l-5.3-1.4 6.4-5.5 5.3 1.4z"/><path fill="#ba7e18" d="M445.6 1092.9l-5.5-4.1 6.8-1.3 5.4 4.1z"/><path fill="#ba7218" d="M433.6 1090.4l-5.4-3.9 6.7-1.5 5.5 3.9z"/><path fill="#b47218" d="M336.9 1092.3l-5.4-2.3 6.7-3.7 5.4 2.3z"/><path fill="#ba5a18" d="M367.2 1087.5l-5.4-2.8 6.7-3 5.5 2.8z"/><path fill="#8ab40c" d="M498.5 1112.5l-5.3-5.2 6.7-.4 5.4 5.2z"/><path fill="#06b40c" d="M527.4 1128.6l-5.3-5.9 6.7 0 5.3 5.9z"/><path fill="#84ae0c" d="M282.3 1112.4l-5.3-1.6 6.5-5.1 5.3 1.6z"/><path fill="#b48a18" d="M318.6 1097.8l-5.4-2 6.6-4.2 5.4 2.1z"/><path fill="#a8a212" d="M300.4 1104.5l-5.4-1.8 6.6-4.6 5.4 1.9z"/><path fill="#ba5a18" d="M379.2 1087.5l-5.5-3 6.8-2.7 5.4 3z"/><path fill="#00ae0c" d="M544.3 1140.7l-5.3-6.3 6.7 .3 5.3 6.4z"/><path fill="#00a80c" d="M561 1154l-5.1-6.7 6.6 .5 5.2 6.8z"/><path fill="#0cae0c" d="M258 1127l-5.2-1.4 6.4-5.7 5.3 1.3z"/><path fill="#a8b412" d="M486.6 1108l-5.3-5 6.7-.6 5.4 5z"/><path fill="#ba6c18" d="M348.8 1091.2l-5.4-2.5 6.7-3.5 5.4 2.6z"/><path fill="#ba6018" d="M391.1 1087.9l-5.4-3.1 6.7-2.5 5.5 3.2z"/><path fill="#24ba0c" d="M515.6 1122.9l-5.3-5.6 6.7-.2 5.3 5.7z"/><path fill="#b4a818" d="M474.7 1103.9l-5.3-4.8 6.7-.8 5.4 4.8z"/><path fill="#60b40c" d="M275.9 1117.5l-5.3-1.6 6.5-5.3 5.3 1.6z"/><path fill="#ba6018" d="M403.1 1088.9l-5.5-3.4 6.8-2.3 5.4 3.4z"/><path fill="#b48418" d="M330.4 1096l-5.4-2.2 6.7-3.9 5.4 2.3z"/><path fill="#ba9c1e" d="M462.8 1100.3l-5.4-4.6 6.8-1 5.4 4.5z"/><path fill="#ba6c18" d="M360.7 1090.5l-5.5-2.7 6.8-3.2 5.4 2.7z"/><path fill="#00ae0c" d="M251.7 1132.9l-5.2-1.4 6.4-6 5.3 1.4z"/><path fill="#c06c18" d="M415 1090.2l-5.4-3.6 6.7-2 5.5 3.7z"/><path fill="#a2ae0c" d="M294 1109.2l-5.4-1.8 6.6-4.8 5.3 1.8z"/><path fill="#ae9c18" d="M312.1 1102l-5.3-2 6.6-4.4 5.4 2.1z"/><path fill="#00b40c" d="M532.6 1134.5l-5.3-6.1 6.7 .1 5.3 6.1z"/><path fill="#ba8a1e" d="M450.9 1097.1l-5.4-4.3 6.7-1.3 5.5 4.3z"/><path fill="#c07218" d="M427 1092.1l-5.5-3.9 6.8-1.8 5.5 3.9z"/><path fill="#00a80c" d="M566.1 1160.8l-5.1-6.9 6.6 .5 5.2 7z"/><path fill="#c07e18" d="M438.9 1094.3l-5.4-4 6.8-1.6 5.4 4.1z"/><path fill="#66ba0c" d="M503.8 1117.7l-5.4-5.4 6.8-.4 5.3 5.5z"/><path fill="#00ae0c" d="M549.4 1147.1l-5.2-6.5 6.7 .3 5.2 6.5z"/><path fill="#ba6618" d="M372.6 1090.3l-5.4-3 6.7-2.9 5.4 3z"/><path fill="#ba7e18" d="M342.2 1094.7l-5.4-2.5 6.7-3.7 5.4 2.5z"/><path fill="#30b40c" d="M269.6 1122.9l-5.3-1.6 6.4-5.5 5.4 1.6z"/><path fill="#90ba0c" d="M491.9 1113l-5.3-5.2 6.7-.6 5.4 5.2z"/><path fill="#0cba0c" d="M520.8 1128.6l-5.3-5.8 6.7-.2 5.3 5.9z"/><path fill="#ba6618" d="M384.5 1090.5l-5.4-3.1 6.7-2.7 5.5 3.1z"/><path fill="#b4901e" d="M323.9 1100l-5.4-2.3 6.7-4.1 5.4 2.3z"/><path fill="#84b40c" d="M287.6 1114.1l-5.4-1.8 6.5-5 5.4 1.8z"/><path fill="#a8a812" d="M305.7 1106.5l-5.4-2 6.6-4.6 5.4 2z"/><path fill="#a8b412" d="M480 1108.7l-5.3-5 6.7-.8 5.4 5z"/><path fill="#00b40c" d="M537.7 1140.6l-5.2-6.3 6.7 .1 5.2 6.3z"/><path fill="#ba7818" d="M354.1 1093.8l-5.4-2.7 6.7-3.4 5.4 2.7z"/><path fill="#00ae0c" d="M554.5 1153.6l-5.2-6.7 6.7 .3 5.2 6.8z"/><path fill="#c06c18" d="M396.5 1091.2l-5.5-3.4 6.8-2.4 5.4 3.4z"/><path fill="#0cb40c" d="M263.2 1128.5l-5.3-1.6 6.5-5.7 5.3 1.5z"/><path fill="#b4a818" d="M468.1 1104.8l-5.4-4.7 6.8-1 5.4 4.7z"/><path fill="#30ba0c" d="M509 1123.2l-5.3-5.6 6.7-.4 5.3 5.7z"/><path fill="#c07218" d="M408.4 1092.3l-5.4-3.6 6.7-2.2 5.5 3.6z"/><path fill="#ba9c1e" d="M456.2 1101.4l-5.4-4.5 6.8-1.3 5.4 4.6z"/><path fill="#c07818" d="M420.4 1093.9l-5.5-3.8 6.8-2 5.4 3.9z"/><path fill="#c0901e" d="M444.3 1098.5l-5.5-4.3 6.8-1.5 5.4 4.3z"/><path fill="#b48a18" d="M335.7 1098.4l-5.4-2.5 6.7-3.8 5.4 2.4z"/><path fill="#c0841e" d="M432.3 1096l-5.4-4.1 6.8-1.7 5.4 4.1z"/><path fill="#ba7218" d="M366 1093.3l-5.4-2.9 6.7-3.2 5.4 3z"/><path fill="#60b40c" d="M281.2 1119.2l-5.4-1.7 6.5-5.3 5.4 1.8z"/><path fill="#00b40c" d="M526 1134.5l-5.3-6.1 6.7-.1 5.3 6.1z"/><path fill="#ae9c18" d="M317.4 1104.2l-5.4-2.3 6.7-4.3 5.3 2.3z"/><path fill="#6cba0c" d="M497.2 1118.2l-5.4-5.4 6.8-.5 5.3 5.4z"/><path fill="#a2b40c" d="M299.2 1111.1l-5.3-2 6.5-4.8 5.4 2z"/><path fill="#00b40c" d="M256.9 1134.3l-5.3-1.5 6.5-6 5.3 1.5z"/><path fill="#00ae0c" d="M559.6 1160.4l-5.2-6.9 6.7 .3 5.1 7zM542.8 1146.9l-5.2-6.5 6.7 .1 5.2 6.5z"/><path fill="#ba7218" d="M377.9 1093.3l-5.4-3.1 6.7-3 5.5 3.2z"/><path fill="#ba8418" d="M347.6 1097.2l-5.4-2.6 6.6-3.7 5.5 2.7z"/><path fill="#96ba0c" d="M485.3 1113.7l-5.4-5.2 6.8-.8 5.4 5.2z"/><path fill="#c07218" d="M389.8 1093.7l-5.4-3.3 6.8-2.7 5.4 3.4z"/><path fill="#30b40c" d="M274.8 1124.6l-5.3-1.8 6.5-5.5 5.3 1.8z"/><path fill="#0cba0c" d="M514.2 1128.8l-5.3-5.8 6.7-.3 5.3 5.8z"/><path fill="#aeb412" d="M473.4 1109.6l-5.4-4.9 6.8-1 5.4 4.9z"/><path fill="#b49c1e" d="M329.2 1102.3l-5.4-2.4 6.7-4.1 5.4 2.5z"/><path fill="#c07818" d="M401.8 1094.6l-5.4-3.5 6.7-2.5 5.4 3.6z"/><path fill="#84b40c" d="M292.8 1116l-5.3-2 6.5-5 5.4 2z"/><path fill="#a8a812" d="M310.9 1108.6l-5.3-2.2 6.6-4.6 5.4 2.2z"/><path fill="#ba7e18" d="M359.4 1096.5l-5.4-2.9 6.7-3.3 5.5 2.9z"/><path fill="#b4a818" d="M461.5 1106l-5.4-4.7 6.8-1.3 5.4 4.7z"/><path fill="#00b40c" d="M531.1 1140.6l-5.2-6.3 6.7-.1 5.2 6.3z"/><path fill="#c07e1e" d="M413.7 1096l-5.4-3.8 6.8-2.2 5.4 3.8z"/><path fill="#baa21e" d="M449.6 1102.8l-5.4-4.5 6.7-1.5 5.4 4.5z"/><path fill="#00ae0c" d="M548 1153.4l-5.2-6.7 6.7 .2 5.1 6.7z"/><path fill="#c08a1e" d="M425.7 1097.8l-5.4-4 6.7-2 5.5 4.1z"/><path fill="#3cba0c" d="M502.4 1123.6l-5.3-5.5 6.7-.6 5.3 5.6z"/><path fill="#c0961e" d="M437.6 1100.1l-5.4-4.3 6.8-1.7 5.4 4.3z"/><path fill="#0cb40c" d="M268.4 1130.2l-5.3-1.8 6.5-5.7 5.3 1.7z"/><path fill="#ba7e18" d="M371.3 1096.3l-5.4-3.1 6.7-3.2 5.5 3.2z"/><path fill="#ba901e" d="M341 1100.9l-5.4-2.6 6.7-3.9 5.4 2.7z"/><path fill="#72c00c" d="M490.5 1118.9l-5.3-5.4 6.8-.7 5.3 5.3z"/><path fill="#60ba0c" d="M286.4 1121.1l-5.3-2 6.5-5.2 5.3 2z"/><path fill="#00ba0c" d="M519.4 1134.7l-5.3-6 6.7-.3 5.3 6z"/><path fill="#aea218" d="M322.7 1106.5l-5.4-2.4 6.7-4.3 5.3 2.4z"/><path fill="#c07e18" d="M383.2 1096.5l-5.4-3.3 6.8-2.9 5.4 3.3z"/><path fill="#9cb40c" d="M304.5 1113.2l-5.4-2.2 6.6-4.8 5.4 2.2z"/><path fill="#00b40c" d="M262.1 1136l-5.3-1.7 6.5-6 5.3 1.7zM536.3 1146.9l-5.2-6.5 6.7-.1 5.2 6.5z"/><path fill="#96ba0c" d="M478.7 1114.6l-5.4-5.1 6.8-1 5.3 5.1z"/><path fill="#00ae0c" d="M553 1160.2l-5.1-7 6.7 .2 5.1 6.9z"/><path fill="#ba8a1e" d="M352.9 1100l-5.4-2.9 6.7-3.6 5.4 2.9z"/><path fill="#c0841e" d="M395.2 1097.2l-5.4-3.6 6.7-2.6 5.4 3.5z"/><path fill="#aeb412" d="M466.8 1110.7l-5.4-4.9 6.8-1.2 5.3 4.9z"/><path fill="#12ba0c" d="M507.6 1129.3l-5.3-5.8 6.7-.5 5.3 5.8z"/><path fill="#c0841e" d="M407.1 1098.3l-5.4-3.8 6.8-2.4 5.4 3.8z"/><path fill="#2aba0c" d="M280 1126.4l-5.3-1.9 6.5-5.5 5.3 2z"/><path fill="#b4ae18" d="M454.9 1107.3l-5.4-4.6 6.7-1.5 5.4 4.7z"/><path fill="#b4a218" d="M334.5 1104.8l-5.4-2.6 6.7-4 5.4 2.6z"/><path fill="#c0901e" d="M419.1 1099.9l-5.5-4 6.8-2.2 5.4 4z"/><path fill="#c0a21e" d="M442.9 1104.4l-5.4-4.5 6.8-1.7 5.4 4.5z"/><path fill="#ba8a1e" d="M364.8 1099.5l-5.5-3.1 6.8-3.3 5.4 3.1z"/><path fill="#c09c1e" d="M431 1101.9l-5.4-4.2 6.8-2 5.4 4.3z"/><path fill="#7eba0c" d="M298 1118.1l-5.3-2.2 6.6-5 5.3 2.2z"/><path fill="#a8ae12" d="M316.2 1110.9l-5.4-2.4 6.7-4.6 5.3 2.4z"/><path fill="#00ba0c" d="M524.5 1140.8l-5.2-6.3 6.7-.2 5.3 6.2z"/><path fill="#42c00c" d="M495.8 1124.3l-5.3-5.6 6.7-.7 5.3 5.6z"/><path fill="#00b40c" d="M541.4 1153.4l-5.2-6.7 6.7 0 5.2 6.7z"/><path fill="#c08a1e" d="M376.7 1099.5l-5.5-3.3 6.8-3.1 5.4 3.3z"/><path fill="#ba9c1e" d="M346.3 1103.7l-5.4-2.9 6.7-3.8 5.4 2.9z"/><path fill="#0cb40c" d="M273.6 1132l-5.3-1.9 6.5-5.8 5.3 2z"/><path fill="#72c00c" d="M483.9 1119.8l-5.3-5.4 6.7-.9 5.4 5.3z"/><path fill="#c08a1e" d="M388.6 1099.9l-5.4-3.5 6.7-2.9 5.4 3.5z"/><path fill="#06ba0c" d="M512.8 1135.1l-5.3-6 6.8-.5 5.2 6z"/><path fill="#aea812" d="M328 1109l-5.4-2.6 6.7-4.3 5.3 2.6z"/><path fill="#5aba0c" d="M291.6 1123.2l-5.3-2.2 6.5-5.2 5.4 2.1z"/><path fill="#96c00c" d="M472 1115.7l-5.3-5.1 6.8-1.2 5.3 5.1z"/><path fill="#96ba0c" d="M309.8 1115.5l-5.4-2.4 6.6-4.8 5.4 2.4z"/><path fill="#c0901e" d="M400.5 1100.8l-5.4-3.8 6.7-2.6 5.5 3.8z"/><path fill="#ba961e" d="M358.2 1102.9l-5.4-3 6.7-3.6 5.4 3.1z"/><path fill="#00b40c" d="M529.7 1147.1l-5.2-6.5 6.7-.3 5.2 6.5z"/><path fill="#aeba12" d="M460.1 1112.1l-5.3-4.9 6.7-1.5 5.4 5z"/><path fill="#00ae0c" d="M546.5 1160.1l-5.2-6.9 6.7 0 5.2 6.9z"/><path fill="#00b40c" d="M267.3 1137.8l-5.3-1.9 6.5-6 5.3 2z"/><path fill="#c0961e" d="M412.4 1102.1l-5.4-4 6.8-2.3 5.4 4z"/><path fill="#b4ae18" d="M448.2 1108.9l-5.4-4.7 6.8-1.6 5.4 4.6z"/><path fill="#12c00c" d="M501 1129.9l-5.3-5.8 6.7-.7 5.3 5.8z"/><path fill="#c0a21e" d="M424.4 1103.9l-5.4-4.2 6.7-2.1 5.4 4.2z"/><path fill="#baa818" d="M436.3 1106.2l-5.4-4.4 6.8-2 5.4 4.5z"/><path fill="#b4a818" d="M339.8 1107.6l-5.4-2.9 6.7-4 5.4 2.8z"/><path fill="#c0961e" d="M370.1 1102.7l-5.4-3.3 6.7-3.4 5.4 3.3z"/><path fill="#1eba0c" d="M285.2 1128.5l-5.3-2.1 6.5-5.5 5.4 2.1z"/><path fill="#48c00c" d="M489.1 1125.2l-5.3-5.6 6.8-.9 5.3 5.5z"/><path fill="#00ba0c" d="M518 1141.2l-5.3-6.2 6.7-.5 5.3 6.2z"/><path fill="#a8b412" d="M321.5 1113.4l-5.4-2.6 6.6-4.5 5.4 2.6z"/><path fill="#78ba0c" d="M303.3 1120.3l-5.3-2.3 6.5-5 5.4 2.4z"/><path fill="#c0961e" d="M382 1102.8l-5.4-3.5 6.7-3 5.4 3.5z"/><path fill="#00b40c" d="M534.8 1153.6l-5.2-6.7 6.7-.2 5.2 6.6z"/><path fill="#72c00c" d="M477.3 1120.9l-5.3-5.4 6.7-1.1 5.4 5.3z"/><path fill="#baa218" d="M351.6 1106.6l-5.4-3 6.7-3.9 5.4 3.1z"/><path fill="#c09c1e" d="M393.9 1103.5l-5.4-3.7 6.7-2.9 5.4 3.8z"/><path fill="#0cba0c" d="M278.8 1134.1l-5.3-2.2 6.5-5.7 5.4 2.1z"/><path fill="#06ba0c" d="M506.2 1135.8l-5.3-6 6.7-.7 5.3 6z"/><path fill="#96c00c" d="M465.4 1117l-5.3-5.1 6.7-1.4 5.4 5.1z"/><path fill="#c09c1e" d="M405.8 1104.6l-5.4-4 6.8-2.6 5.4 4z"/><path fill="#aeae12" d="M333.3 1111.7l-5.4-2.8 6.6-4.3 5.4 2.8z"/><path fill="#aeba12" d="M453.5 1113.6l-5.4-4.9 6.8-1.6 5.4 4.9z"/><path fill="#4eba0c" d="M296.9 1125.4l-5.4-2.3 6.6-5.3 5.3 2.4z"/><path fill="#c0a81e" d="M417.7 1106.2l-5.4-4.2 6.8-2.4 5.4 4.2z"/><path fill="#baa21e" d="M363.5 1106.1l-5.4-3.3 6.7-3.5 5.4 3.2z"/><path fill="#90ba0c" d="M315 1118l-5.3-2.6 6.6-4.8 5.3 2.6z"/><path fill="#bab412" d="M441.6 1110.7l-5.4-4.7 6.8-1.8 5.4 4.6z"/><path fill="#baae18" d="M429.7 1108.2l-5.4-4.4 6.7-2.1 5.4 4.4z"/><path fill="#00ba0c" d="M523.1 1147.5l-5.2-6.5 6.7-.4 5.2 6.4z"/><path fill="#12c00c" d="M494.4 1130.8l-5.3-5.8 6.7-.9 5.3 5.8z"/><path fill="#00b40c" d="M539.9 1160.3l-5.2-6.9 6.7-.2 5.2 6.9zM272.5 1139.9l-5.3-2.2 6.5-5.9 5.3 2.1z"/><path fill="#c0a21e" d="M375.4 1106l-5.4-3.5 6.7-3.3 5.4 3.5z"/><path fill="#b4ae18" d="M345.1 1110.5l-5.4-3 6.7-4.1 5.4 3.1z"/><path fill="#48c00c" d="M482.5 1126.2l-5.3-5.5 6.8-1.2 5.3 5.6z"/><path fill="#18ba0c" d="M290.5 1130.7l-5.4-2.3 6.6-5.5 5.3 2.4z"/><path fill="#00ba0c" d="M511.3 1141.8l-5.2-6.2 6.7-.7 5.3 6.2z"/><path fill="#c0a21e" d="M387.3 1106.4l-5.4-3.7 6.7-3 5.4 3.7z"/><path fill="#a2ba0c" d="M326.8 1116l-5.4-2.7 6.6-4.5 5.4 2.8z"/><path fill="#6cba0c" d="M308.6 1122.8l-5.4-2.6 6.6-4.9 5.4 2.5z"/><path fill="#72c00c" d="M470.7 1122.2l-5.4-5.3 6.8-1.4 5.3 5.3z"/><path fill="#00b40c" d="M528.2 1154l-5.2-6.7 6.7-.5 5.2 6.7z"/><path fill="#c0a81e" d="M399.2 1107.3l-5.4-3.9 6.7-2.9 5.5 4z"/><path fill="#b4a818" d="M356.9 1109.7l-5.4-3.2 6.7-3.8 5.4 3.2z"/><path fill="#96c00c" d="M458.8 1118.5l-5.4-5 6.8-1.7 5.3 5.1z"/><path fill="#baa818" d="M411.1 1108.6l-5.4-4.1 6.8-2.6 5.4 4.2z"/><path fill="#06c00c" d="M499.6 1136.6l-5.3-6 6.7-.9 5.3 6z"/><path fill="#aec012" d="M446.9 1115.4l-5.4-4.9 6.8-1.8 5.3 4.8z"/><path fill="#baae18" d="M423 1110.4l-5.4-4.4 6.8-2.3 5.4 4.4z"/><path fill="#b4ba12" d="M435 1112.6l-5.4-4.6 6.7-2.1 5.4 4.7z"/><path fill="#06ba0c" d="M284.1 1136.3l-5.3-2.3 6.5-5.7 5.3 2.3z"/><path fill="#aeba12" d="M338.6 1114.6l-5.4-3 6.6-4.3 5.4 3z"/><path fill="#baa818" d="M368.8 1109.4l-5.4-3.4 6.7-3.6 5.4 3.5z"/><path fill="#42c00c" d="M302.1 1127.9l-5.3-2.6 6.5-5.2 5.4 2.6z"/><path fill="#84c00c" d="M320.3 1120.6l-5.4-2.7 6.6-4.8 5.4 2.8z"/><path fill="#00ba0c" d="M516.5 1148.1l-5.2-6.5 6.7-.6 5.2 6.4z"/><path fill="#12c00c" d="M487.7 1131.8l-5.3-5.7 6.8-1.2 5.3 5.8z"/><path fill="#00b40c" d="M533.3 1160.7l-5.2-6.9 6.8-.5 5.1 6.9z"/><path fill="#baa818" d="M380.7 1109.6l-5.4-3.7 6.7-3.3 5.4 3.7z"/><path fill="#b4b412" d="M350.4 1113.6l-5.4-3.2 6.7-4 5.4 3.2z"/><path fill="#00ba0c" d="M277.7 1142.1l-5.3-2.3 6.5-6 5.3 2.3z"/><path fill="#48c60c" d="M475.9 1127.5l-5.3-5.5 6.7-1.4 5.4 5.6z"/><path fill="#baae18" d="M392.6 1110.2l-5.4-3.9 6.7-3 5.4 3.9z"/><path fill="#00c00c" d="M504.7 1142.6l-5.2-6.2 6.7-.9 5.3 6.2z"/><path fill="#72c60c" d="M464 1123.7l-5.3-5.3 6.8-1.6 5.3 5.3z"/><path fill="#96c00c" d="M332 1118.9l-5.3-3 6.6-4.4 5.4 2.9z"/><path fill="#12ba0c" d="M295.7 1133.2l-5.3-2.6 6.5-5.4 5.3 2.5z"/><path fill="#baae18" d="M404.5 1111.3l-5.4-4.1 6.8-2.8 5.4 4.1z"/><path fill="#60c00c" d="M313.8 1125.4l-5.3-2.7 6.6-5 5.3 2.8z"/><path fill="#90c60c" d="M452.1 1120.3l-5.3-5.1 6.8-1.8 5.3 5z"/><path fill="#b4b412" d="M362.2 1113l-5.4-3.4 6.7-3.8 5.4 3.5z"/><path fill="#bab412" d="M416.4 1112.8l-5.4-4.3 6.8-2.6 5.4 4.4z"/><path fill="#00ba0c" d="M521.6 1154.5l-5.2-6.6 6.7-.7 5.3 6.7z"/><path fill="#aec60c" d="M440.2 1117.3l-5.3-4.8 6.7-2.1 5.4 4.9z"/><path fill="#b4c012" d="M428.3 1114.8l-5.4-4.5 6.8-2.4 5.4 4.7z"/><path fill="#06c00c" d="M492.9 1137.6l-5.3-5.9 6.8-1.2 5.3 6z"/><path fill="#b4b412" d="M374.1 1112.9l-5.4-3.6 6.7-3.5 5.4 3.7z"/><path fill="#a8c00c" d="M343.8 1117.7l-5.3-3.2 6.6-4.3 5.4 3.2z"/><path fill="#06ba0c" d="M289.3 1138.7l-5.3-2.5 6.5-5.7 5.3 2.5z"/><path fill="#12c00c" d="M481.1 1133.1l-5.3-5.7 6.8-1.4 5.3 5.7z"/><path fill="#78c00c" d="M325.5 1123.5l-5.3-3 6.6-4.7 5.4 3z"/><path fill="#00ba0c" d="M509.9 1148.9l-5.3-6.5 6.8-.8 5.2 6.4z"/><path fill="#30c00c" d="M307.3 1130.5l-5.3-2.7 6.6-5.2 5.3 2.7z"/><path fill="#b4b412" d="M386 1113.3l-5.4-3.9 6.7-3.2 5.4 3.9z"/><path fill="#00b40c" d="M526.7 1161.2l-5.2-6.8 6.8-.7 5.2 6.9z"/><path fill="#42c60c" d="M469.3 1129l-5.4-5.5 6.8-1.6 5.3 5.5z"/><path fill="#aec012" d="M355.7 1116.9l-5.4-3.4 6.7-4 5.4 3.4z"/><path fill="#b4ba12" d="M397.9 1114.2l-5.4-4.1 6.7-3.1 5.4 4.2z"/><path fill="#6cc60c" d="M457.4 1125.4l-5.4-5.3 6.8-1.8 5.4 5.3z"/><path fill="#00ba0c" d="M282.9 1144.5l-5.3-2.5 6.5-6 5.3 2.5z"/><path fill="#b4ba12" d="M409.8 1115.5l-5.4-4.3 6.8-2.8 5.3 4.3z"/><path fill="#00c00c" d="M498.1 1143.6l-5.3-6.1 6.8-1.1 5.3 6.1z"/><path fill="#8ac60c" d="M445.5 1122.2l-5.4-5 6.8-2.1 5.4 5.1z"/><path fill="#b4c012" d="M421.7 1117.3l-5.4-4.6 6.8-2.5 5.4 4.5z"/><path fill="#a2c60c" d="M433.6 1119.5l-5.4-4.8 6.8-2.3 5.4 4.8z"/><path fill="#8ac00c" d="M337.3 1122l-5.4-3.2 6.7-4.5 5.4 3.2z"/><path fill="#0cc00c" d="M300.9 1135.8l-5.3-2.7 6.5-5.5 5.4 2.7z"/><path fill="#b4ba12" d="M367.5 1116.5l-5.4-3.6 6.7-3.7 5.4 3.6z"/><path fill="#54c00c" d="M319.1 1128.3l-5.4-3 6.6-4.9 5.4 2.9z"/><path fill="#00ba0c" d="M515 1155.3l-5.2-6.6 6.7-.9 5.3 6.7z"/><path fill="#06c00c" d="M486.3 1138.9l-5.3-6 6.8-1.3 5.3 5.9z"/><path fill="#b4c012" d="M379.4 1116.7l-5.4-3.9 6.7-3.5 5.4 3.9z"/><path fill="#96c00c" d="M349.1 1120.9l-5.4-3.3 6.7-4.3 5.4 3.4z"/><path fill="#12c60c" d="M474.5 1134.5l-5.3-5.7 6.7-1.5 5.3 5.7z"/><path fill="#00ba0c" d="M294.5 1141.3l-5.3-2.7 6.5-5.7 5.3 2.7z"/><path fill="#b4c012" d="M391.3 1117.3l-5.4-4.1 6.7-3.2 5.4 4.1z"/><path fill="#00ba0c" d="M503.3 1149.9l-5.3-6.4 6.8-1.1 5.2 6.4z"/><path fill="#6cc00c" d="M330.8 1126.5l-5.4-3.1 6.7-4.7 5.4 3.2z"/><path fill="#1ec00c" d="M312.6 1133.3l-5.3-2.9 6.5-5.2 5.4 2.9z"/><path fill="#3cc60c" d="M462.6 1130.7l-5.3-5.5 6.8-1.8 5.3 5.5z"/><path fill="#b4c612" d="M403.2 1118.4l-5.4-4.4 6.7-3 5.4 4.4z"/><path fill="#a2c00c" d="M361 1120.4l-5.4-3.6 6.7-4 5.4 3.6z"/><path fill="#00b40c" d="M520.1 1162l-5.2-6.9 6.8-.8 5.2 6.9z"/><path fill="#66c60c" d="M450.7 1127.3l-5.3-5.2 6.8-2.1 5.3 5.3z"/><path fill="#a8c60c" d="M415.1 1119.9l-5.4-4.5 6.8-2.8 5.3 4.6z"/><path fill="#7ec60c" d="M438.9 1124.4l-5.4-5 6.8-2.3 5.3 5z"/><path fill="#96c60c" d="M427 1121.9l-5.4-4.8 6.8-2.5 5.3 4.8z"/><path fill="#00c00c" d="M491.5 1144.9l-5.3-6.2 6.8-1.3 5.2 6.2z"/><path fill="#00ba0c" d="M288.1 1147.1l-5.3-2.7 6.5-5.9 5.3 2.7z"/><path fill="#78c00c" d="M342.6 1125.3l-5.4-3.4 6.7-4.5 5.4 3.4z"/><path fill="#a2c00c" d="M372.8 1120.3l-5.4-3.9 6.7-3.7 5.4 3.9z"/><path fill="#0cc00c" d="M306.1 1138.6l-5.3-2.9 6.6-5.4 5.3 2.9z"/><path fill="#3cc00c" d="M324.3 1131.3l-5.3-3.1 6.6-5 5.3 3.2z"/><path fill="#06c00c" d="M479.7 1140.3l-5.3-5.9 6.8-1.6 5.2 6z"/><path fill="#00ba0c" d="M508.4 1156.3l-5.2-6.6 6.7-1.1 5.2 6.6z"/><path fill="#a2c60c" d="M384.7 1120.6l-5.4-4 6.7-3.5 5.4 4.1z"/><path fill="#12c60c" d="M467.8 1136.2l-5.3-5.7 6.8-1.7 5.3 5.7z"/><path fill="#84c60c" d="M354.4 1124.4l-5.4-3.6 6.7-4.2 5.4 3.7z"/><path fill="#a2c60c" d="M396.5 1121.5l-5.3-4.3 6.7-3.3 5.4 4.4z"/><path fill="#30c60c" d="M456 1132.6l-5.4-5.5 6.8-2 5.4 5.5z"/><path fill="#00c00c" d="M496.6 1151.1l-5.2-6.4 6.8-1.3 5.2 6.4z"/><path fill="#96c60c" d="M408.4 1122.7l-5.3-4.5 6.7-3 5.4 4.6z"/><path fill="#00c00c" d="M299.7 1144.1l-5.3-2.9 6.5-5.7 5.4 3z"/><path fill="#54c60c" d="M336.1 1129.8l-5.4-3.4 6.7-4.7 5.3 3.4z"/><path fill="#5acc0c" d="M444.1 1129.4l-5.3-5.2 6.7-2.2 5.4 5.2z"/><path fill="#8ac60c" d="M420.3 1124.5l-5.3-4.7 6.7-2.8 5.4 4.8z"/><path fill="#72cc0c" d="M432.2 1126.7l-5.3-4.9 6.7-2.5 5.4 5z"/><path fill="#12c00c" d="M317.8 1136.4l-5.3-3.2 6.6-5.2 5.3 3.2z"/><path fill="#8ac60c" d="M366.2 1124.1l-5.3-3.8 6.7-4 5.3 3.9z"/><path fill="#00ba0c" d="M513.5 1163l-5.2-6.9 6.8-1 5.2 6.8z"/><path fill="#00c00c" d="M484.8 1146.3l-5.2-6.2 6.7-1.5 5.3 6.2z"/><path fill="#8ac60c" d="M378.1 1124.2l-5.4-4.1 6.7-3.7 5.4 4.1z"/><path fill="#66c60c" d="M347.8 1128.7l-5.3-3.6 6.7-4.4 5.3 3.6z"/><path fill="#00ba0c" d="M293.3 1149.9l-5.3-2.9 6.5-5.9 5.3 2.9z"/><path fill="#06c60c" d="M473 1142l-5.3-5.9 6.8-1.8 5.3 5.9z"/><path fill="#24c60c" d="M329.6 1134.6l-5.4-3.4 6.6-4.9 5.4 3.4z"/><path fill="#00ba0c" d="M501.8 1157.5l-5.2-6.6 6.7-1.3 5.2 6.6z"/><path fill="#06c00c" d="M311.4 1141.6l-5.4-3.1 6.6-5.4 5.4 3.1z"/><path fill="#8ac60c" d="M389.9 1124.8l-5.3-4.3 6.7-3.4 5.4 4.2z"/><path fill="#0cc60c" d="M461.2 1138.1l-5.3-5.7 6.8-1.9 5.3 5.6z"/><path fill="#84c60c" d="M401.8 1125.8l-5.3-4.5 6.7-3.2 5.4 4.5z"/><path fill="#6cc60c" d="M359.7 1128.1l-5.4-3.8 6.7-4.2 5.4 3.9z"/><path fill="#24c60c" d="M449.3 1134.7l-5.3-5.4 6.8-2.2 5.3 5.4z"/><path fill="#78cc0c" d="M413.7 1127.3l-5.4-4.7 6.8-2.9 5.4 4.7z"/><path fill="#48cc0c" d="M437.5 1131.8l-5.4-5.2 6.8-2.5 5.3 5.2z"/><path fill="#66cc0c" d="M425.6 1129.3l-5.4-4.9 6.8-2.7 5.4 4.9z"/><path fill="#00c00c" d="M490 1152.5l-5.2-6.4 6.7-1.5 5.3 6.4z"/><path fill="#3cc60c" d="M341.3 1133.3l-5.3-3.6 6.6-4.7 5.4 3.6z"/><path fill="#72c60c" d="M371.5 1128l-5.4-4 6.7-4 5.4 4.1z"/><path fill="#00c00c" d="M304.9 1147.1l-5.3-3.1 6.6-5.6 5.3 3.1z"/><path fill="#0cc00c" d="M323.1 1139.6l-5.4-3.3 6.6-5.2 5.4 3.3z"/><path fill="#00ba0c" d="M506.9 1164.2l-5.2-6.9 6.7-1.2 5.2 6.8z"/><path fill="#00c00c" d="M478.2 1147.9l-5.3-6.1 6.8-1.7 5.3 6.1z"/><path fill="#72c60c" d="M383.3 1128.3l-5.3-4.2 6.7-3.7 5.4 4.3z"/><path fill="#48c60c" d="M353.1 1132.4l-5.4-3.8 6.7-4.4 5.4 3.8z"/><path fill="#00c60c" d="M466.4 1143.8l-5.3-5.8 6.8-2 5.3 5.9z"/><path fill="#6ccc0c" d="M395.2 1129.1l-5.4-4.5 6.8-3.4 5.4 4.5z"/><path fill="#00ba0c" d="M298.5 1152.9l-5.3-3.1 6.5-5.9 5.4 3.1zM495.1 1158.9l-5.2-6.6 6.8-1.5 5.2 6.6z"/><path fill="#0cc60c" d="M454.5 1140.2l-5.3-5.6 6.8-2.2 5.3 5.6z"/><path fill="#12c60c" d="M334.8 1138l-5.3-3.5 6.6-4.9 5.4 3.5z"/><path fill="#66cc0c" d="M407.1 1130.4l-5.4-4.7 6.8-3.2 5.3 4.7z"/><path fill="#00c00c" d="M316.6 1144.8l-5.3-3.3 6.6-5.4 5.3 3.3z"/><path fill="#12cc12" d="M442.7 1137.1l-5.3-5.5 6.7-2.4 5.4 5.4z"/><path fill="#4ecc0c" d="M418.9 1132.2l-5.3-5 6.8-2.9 5.3 4.9z"/><path fill="#36cc0c" d="M430.8 1134.4l-5.3-5.2 6.8-2.7 5.3 5.2z"/><path fill="#54c60c" d="M364.9 1132l-5.3-4 6.7-4.2 5.3 4.1z"/><path fill="#00c00c" d="M483.4 1154.1l-5.3-6.3 6.8-1.7 5.2 6.3z"/><path fill="#54cc0c" d="M376.8 1132.1l-5.4-4.2 6.7-3.9 5.4 4.2z"/><path fill="#18c60c" d="M346.6 1136.9l-5.4-3.8 6.7-4.6 5.3 3.8z"/><path fill="#00c00c" d="M310.1 1150.3l-5.3-3.3 6.6-5.6 5.3 3.3z"/><path fill="#00c60c" d="M471.6 1149.8l-5.3-6.1 6.8-2 5.2 6.2z"/><path fill="#06c60c" d="M328.3 1143l-5.3-3.5 6.6-5.2 5.3 3.6z"/><path fill="#00ba0c" d="M500.3 1165.5l-5.2-6.8 6.7-1.4 5.2 6.8z"/><path fill="#4ecc0c" d="M388.6 1132.7l-5.4-4.5 6.8-3.7 5.3 4.5z"/><path fill="#00c60c" d="M459.7 1145.9l-5.2-5.8 6.7-2.2 5.3 5.9z"/><path fill="#2ac60c" d="M358.4 1136.3l-5.4-4 6.7-4.4 5.4 4z"/><path fill="#48cc0c" d="M400.5 1133.7l-5.4-4.7 6.8-3.4 5.3 4.7z"/><path fill="#06c60c" d="M447.9 1142.6l-5.3-5.7 6.8-2.4 5.3 5.6z"/><path fill="#36cc0c" d="M412.3 1135.2l-5.3-4.9 6.7-3.2 5.4 5z"/><path fill="#12cc0c" d="M436 1139.6l-5.3-5.4 6.8-2.6 5.3 5.4z"/><path fill="#00c00c" d="M488.5 1160.5l-5.2-6.5 6.7-1.8 5.3 6.6z"/><path fill="#1ecc12" d="M424.2 1137.2l-5.3-5.2 6.7-2.9 5.4 5.2z"/><path fill="#00c00c" d="M303.7 1156.1l-5.3-3.3 6.6-5.9 5.3 3.3z"/><path fill="#0cc60c" d="M340 1141.7l-5.3-3.8 6.7-4.9 5.3 3.8z"/><path fill="#00c00c" d="M321.8 1148.3l-5.3-3.6 6.6-5.4 5.3 3.6z"/><path fill="#30cc0c" d="M370.2 1136.1l-5.4-4.2 6.7-4.1 5.4 4.2z"/><path fill="#00c00c" d="M476.7 1156l-5.2-6.4 6.8-1.9 5.2 6.3z"/><path fill="#2acc0c" d="M382 1136.4l-5.3-4.4 6.7-3.9 5.3 4.5z"/><path fill="#0cc60c" d="M351.8 1140.8l-5.3-4 6.6-4.6 5.4 4z"/><path fill="#00c60c" d="M464.9 1151.9l-5.2-6.1 6.7-2.2 5.3 6.1z"/><path fill="#24cc12" d="M393.8 1137.2l-5.3-4.7 6.7-3.6 5.4 4.7z"/><path fill="#00c60c" d="M333.5 1146.6l-5.3-3.7 6.6-5.1 5.4 3.7z"/><path fill="#00ba0c" d="M493.6 1167.2l-5.2-6.8 6.8-1.7 5.2 6.8z"/><path fill="#00c00c" d="M315.4 1153.7l-5.4-3.5 6.6-5.6 5.4 3.5z"/><path fill="#00c60c" d="M453.1 1148.3l-5.3-5.9 6.8-2.4 5.3 5.9z"/><path fill="#18cc12" d="M405.7 1138.5l-5.3-4.9 6.7-3.4 5.4 4.9z"/><path fill="#06c60c" d="M441.3 1145.1l-5.3-5.6 6.7-2.7 5.3 5.7z"/><path fill="#12c60c" d="M363.6 1140.4l-5.3-4.2 6.7-4.4 5.3 4.2z"/><path fill="#12cc0c" d="M417.6 1140.2l-5.4-5.1 6.8-3.2 5.3 5.2z"/><path fill="#0ccc0c" d="M429.4 1142.4l-5.3-5.4 6.8-2.9 5.3 5.4z"/><path fill="#00c00c" d="M481.9 1162.4l-5.3-6.6 6.8-1.9 5.2 6.6z"/><path fill="#06c60c" d="M345.3 1145.5l-5.4-3.9 6.7-4.9 5.3 4z"/><path fill="#12cc0c" d="M375.4 1140.4l-5.3-4.4 6.7-4.1 5.3 4.4z"/><path fill="#00c00c" d="M308.9 1159.5l-5.3-3.5 6.6-5.9 5.3 3.5zM327 1151.9l-5.3-3.7 6.6-5.4 5.4 3.7zM470.1 1158l-5.3-6.3 6.8-2.1 5.3 6.3z"/><path fill="#12cc0c" d="M387.2 1141l-5.3-4.7 6.7-3.9 5.4 4.7z"/><path fill="#00c60c" d="M458.3 1154.2l-5.3-6.1 6.8-2.4 5.3 6.1z"/><path fill="#06c60c" d="M357 1144.9l-5.3-4.2 6.7-4.7 5.3 4.2z"/><path fill="#0ccc0c" d="M399.1 1142l-5.4-4.9 6.8-3.6 5.3 4.9z"/><path fill="#00c60c" d="M446.5 1150.8l-5.3-5.8 6.7-2.7 5.3 5.9z"/><path fill="#0ccc0c" d="M410.9 1143.5l-5.3-5.2 6.8-3.3 5.3 5.1z"/><path fill="#00ba0c" d="M487 1169l-5.2-6.8 6.8-1.9 5.2 6.8z"/><path fill="#00cc0c" d="M434.6 1147.9l-5.3-5.6 6.8-2.9 5.3 5.6z"/><path fill="#00c60c" d="M338.8 1150.5l-5.4-4 6.7-5.1 5.3 4z"/><path fill="#06cc0c" d="M422.8 1145.4l-5.3-5.3 6.7-3.2 5.3 5.4z"/><path fill="#00c00c" d="M320.6 1157.4l-5.3-3.8 6.6-5.6 5.3 3.7z"/><path fill="#0cc60c" d="M368.8 1144.7l-5.3-4.4 6.7-4.4 5.4 4.4z"/><path fill="#00c00c" d="M475.2 1164.4l-5.2-6.5 6.8-2.2 5.2 6.6z"/><path fill="#06cc0c" d="M380.7 1145l-5.4-4.7 6.7-4.1 5.4 4.7z"/><path fill="#00c60c" d="M350.5 1149.6l-5.3-4.2 6.6-4.9 5.4 4.2z"/><path fill="#00c00c" d="M463.4 1160.3l-5.2-6.3 6.8-2.4 5.2 6.4zM314.1 1163.1l-5.3-3.7 6.6-5.9 5.3 3.7zM332.3 1155.7l-5.4-3.9 6.7-5.4 5.3 4z"/><path fill="#06cc0c" d="M392.5 1145.7l-5.4-4.9 6.8-3.8 5.3 4.9z"/><path fill="#00c60c" d="M451.6 1156.7l-5.2-6.1 6.7-2.6 5.3 6.1z"/><path fill="#06cc0c" d="M404.3 1147l-5.3-5.1 6.7-3.7 5.4 5.2z"/><path fill="#00c60c" d="M362.3 1149.1l-5.4-4.4 6.7-4.6 5.4 4.5zM439.8 1153.6l-5.3-5.9 6.8-2.8 5.3 5.8z"/><path fill="#00cc0c" d="M416.1 1148.7l-5.3-5.4 6.8-3.3 5.3 5.3zM428 1150.9l-5.3-5.6 6.8-3.1 5.3 5.6z"/><path fill="#00c00c" d="M480.4 1171l-5.3-6.7 6.8-2.2 5.2 6.8z"/><path fill="#00c60c" d="M344 1154.6l-5.3-4.2 6.6-5.1 5.3 4.2zM374.1 1149.2l-5.4-4.6 6.8-4.4 5.3 4.6z"/><path fill="#00c00c" d="M325.8 1161.2l-5.3-3.9 6.6-5.7 5.3 4zM468.6 1166.7l-5.3-6.5 6.8-2.4 5.3 6.5z"/><path fill="#00cc0c" d="M385.9 1149.7l-5.3-4.9 6.7-4.1 5.3 4.9z"/><path fill="#00c60c" d="M355.7 1153.9l-5.3-4.4 6.7-4.9 5.3 4.4z"/><path fill="#00c00c" d="M456.8 1162.8l-5.3-6.2 6.8-2.7 5.3 6.3z"/><path fill="#00cc0c" d="M397.7 1150.7l-5.3-5.1 6.7-3.8 5.4 5.1z"/><path fill="#00c60c" d="M445 1159.5l-5.3-6.1 6.8-2.8 5.3 6z"/><path fill="#00c00c" d="M337.5 1159.8l-5.3-4.2 6.6-5.3 5.3 4.1zM319.3 1166.9l-5.3-3.9 6.6-5.9 5.3 3.9z"/><path fill="#00cc0c" d="M409.5 1152.2l-5.3-5.4 6.8-3.6 5.3 5.4z"/><path fill="#00c60c" d="M433.2 1156.6l-5.3-5.9 6.8-3.1 5.3 5.9zM421.4 1154.1l-5.3-5.5 6.7-3.4 5.3 5.6zM367.5 1153.7l-5.3-4.7 6.7-4.6 5.3 4.7z"/><path fill="#00c00c" d="M473.7 1173.3l-5.2-6.8 6.8-2.3 5.2 6.8z"/><path fill="#00c60c" d="M349.2 1158.8l-5.3-4.4 6.6-5.1 5.4 4.4zM379.3 1153.9l-5.3-4.8 6.7-4.4 5.3 4.9z"/><path fill="#00c00c" d="M331 1165.2l-5.3-4.1 6.6-5.6 5.3 4.1zM461.9 1169.2l-5.2-6.5 6.8-2.6 5.2 6.5z"/><path fill="#00c60c" d="M391.1 1154.7l-5.3-5.1 6.7-4.1 5.3 5.1zM450.2 1165.6l-5.3-6.3 6.8-2.8 5.2 6.3zM402.9 1155.9l-5.3-5.3 6.8-3.9 5.3 5.4zM360.9 1158.4l-5.3-4.7 6.7-4.8 5.3 4.6zM438.4 1162.4l-5.3-6 6.8-3.1 5.2 6.1zM414.7 1157.6l-5.3-5.6 6.8-3.5 5.3 5.5zM426.5 1159.8l-5.2-5.8 6.7-3.3 5.3 5.8z"/><path fill="#00c00c" d="M342.7 1164l-5.3-4.3 6.6-5.4 5.3 4.4zM324.5 1170.9l-5.3-4.1 6.6-5.9 5.3 4.2z"/><path fill="#00c60c" d="M372.7 1158.4l-5.3-4.9 6.7-4.5 5.3 4.8z"/><path fill="#00c00c" d="M467.1 1175.8l-5.3-6.7 6.8-2.6 5.2 6.7z"/><path fill="#00c60c" d="M384.5 1158.9l-5.3-5.1 6.7-4.3 5.3 5.1zM354.4 1163.3l-5.3-4.6 6.7-5.1 5.3 4.6z"/><path fill="#00c00c" d="M455.3 1171.9l-5.2-6.5 6.7-2.8 5.3 6.5z"/><path fill="#00c60c" d="M396.3 1159.8l-5.3-5.3 6.7-4 5.3 5.3z"/><path fill="#00c00c" d="M336.2 1169.5l-5.3-4.4 6.6-5.6 5.3 4.4zM443.5 1168.6l-5.2-6.3 6.7-3.1 5.3 6.3z"/><path fill="#00c60c" d="M408.1 1161.3l-5.3-5.5 6.8-3.9 5.3 5.6zM431.7 1165.7l-5.3-6.1 6.8-3.3 5.3 6.1zM419.9 1163.2l-5.3-5.7 6.8-3.6 5.3 5.8zM366.2 1163.1l-5.4-4.9 6.7-4.8 5.4 4.9z"/><path fill="#00c00c" d="M347.9 1168.5l-5.3-4.6 6.6-5.3 5.3 4.6z"/><path fill="#00c60c" d="M377.9 1163.3l-5.3-5 6.7-4.6 5.3 5.1z"/><path fill="#00c00c" d="M329.7 1175.2l-5.3-4.4 6.6-5.8 5.3 4.3zM460.4 1178.5l-5.2-6.7 6.8-2.8 5.2 6.7z"/><path fill="#00c60c" d="M389.7 1164l-5.3-5.3 6.7-4.3 5.3 5.3z"/><path fill="#00c00c" d="M448.7 1174.9l-5.3-6.5 6.8-3 5.2 6.5z"/><path fill="#00c60c" d="M359.6 1168l-5.3-4.8 6.7-5.1 5.3 4.9zM401.5 1165.2l-5.3-5.5 6.7-4 5.3 5.5z"/><path fill="#00c00c" d="M436.9 1171.8l-5.3-6.3 6.8-3.3 5.2 6.3z"/><path fill="#00c60c" d="M413.3 1166.9l-5.3-5.7 6.8-3.8 5.2 5.7z"/><path fill="#00c00c" d="M425.1 1169.1l-5.3-6 6.8-3.6 5.3 6.1zM341.4 1174l-5.3-4.6 6.6-5.6 5.3 4.6z"/><path fill="#00c60c" d="M371.3 1168l-5.3-5 6.7-4.9 5.4 5.1zM383.1 1168.5l-5.3-5.3 6.7-4.6 5.3 5.3z"/><path fill="#00c00c" d="M353.1 1173.2l-5.3-4.8 6.6-5.3 5.3 4.8zM453.8 1181.5l-5.2-6.7 6.7-3.1 5.3 6.7zM334.9 1179.7l-5.3-4.6 6.6-5.9 5.3 4.6z"/><path fill="#00c60c" d="M394.9 1169.4l-5.3-5.5 6.7-4.3 5.3 5.5z"/><path fill="#00c00c" d="M442 1178.1l-5.2-6.5 6.8-3.3 5.2 6.5zM406.7 1170.9l-5.3-5.8 6.7-4 5.3 5.7zM430.2 1175.2l-5.2-6.2 6.8-3.6 5.2 6.3zM418.5 1172.8l-5.3-6 6.7-3.8 5.3 6zM364.8 1172.9l-5.3-5 6.7-5.1 5.3 5.1zM346.5 1178.6l-5.2-4.8 6.6-5.5 5.3 4.8zM376.5 1173.2l-5.3-5.3 6.8-4.8 5.2 5.3zM388.3 1173.9l-5.3-5.6 6.7-4.5 5.3 5.5zM358.2 1178.1l-5.2-5 6.6-5.3 5.3 5zM447.1 1184.7l-5.2-6.7 6.8-3.3 5.2 6.7zM400.1 1175.1l-5.3-5.8 6.7-4.3 5.3 5.8zM435.4 1181.5l-5.3-6.4 6.8-3.6 5.2 6.5zM340 1184.3l-5.2-4.8 6.6-5.8 5.3 4.8zM411.8 1176.7l-5.2-6 6.7-4 5.3 6zM423.6 1178.9l-5.2-6.2 6.7-3.8 5.3 6.2zM370 1178.1l-5.3-5.3 6.7-5 5.3 5.2zM351.7 1183.6l-5.3-5.1 6.7-5.5 5.3 5zM381.7 1178.5l-5.3-5.5 6.7-4.8 5.3 5.6zM393.5 1179.5l-5.3-5.8 6.7-4.5 5.3 5.7zM440.5 1188.1l-5.2-6.7 6.8-3.5 5.2 6.7zM405.2 1180.9l-5.2-6 6.7-4.3 5.3 6zM363.4 1183.3l-5.3-5.3 6.7-5.3 5.3 5.3zM428.7 1185.2l-5.2-6.4 6.8-3.8 5.2 6.5zM417 1182.8l-5.3-6.2 6.8-4 5.2 6.2zM345.2 1189.3l-5.3-5.1 6.7-5.8 5.2 5zM375.1 1183.5l-5.2-5.5 6.7-5.1 5.2 5.5zM386.9 1184.1l-5.3-5.7 6.7-4.8 5.3 5.8zM356.9 1188.7l-5.3-5.3 6.7-5.5 5.3 5.2zM398.6 1185.3l-5.2-6 6.7-4.5 5.3 6zM433.9 1191.8l-5.3-6.7 6.8-3.8 5.2 6.7zM410.4 1187l-5.3-6.2 6.8-4.3 5.2 6.2zM422.1 1189.1l-5.2-6.4 6.7-4 5.3 6.4zM368.6 1188.6l-5.3-5.5 6.7-5.2 5.3 5.4zM350.4 1194.4l-5.3-5.3 6.6-5.8 5.3 5.3zM380.3 1189.1l-5.3-5.8 6.7-5 5.3 5.7zM392 1190l-5.2-6 6.7-4.8 5.3 6zM362 1194.1l-5.2-5.5 6.6-5.6 5.3 5.5zM403.8 1191.4l-5.3-6.2 6.8-4.5 5.2 6.2zM427.2 1195.7l-5.2-6.7 6.8-4 5.2 6.7zM415.5 1193.3l-5.2-6.5 6.7-4.2 5.3 6.4zM373.7 1194.2l-5.2-5.7 6.7-5.3 5.2 5.8zM385.4 1194.9l-5.2-6 6.7-5 5.3 6z"/><path fill="#00ba0c" d="M355.5 1199.8l-5.3-5.5 6.7-5.8 5.3 5.4z"/><path fill="#00c00c" d="M397.2 1196.1l-5.3-6.2 6.8-4.8 5.2 6.2zM408.9 1197.7l-5.2-6.4 6.7-4.6 5.2 6.5z"/><path fill="#00ba0c" d="M420.6 1199.8l-5.2-6.6 6.8-4.3 5.2 6.7zM367.2 1199.7l-5.3-5.7 6.7-5.6 5.3 5.7zM378.9 1200.1l-5.3-6 6.7-5.3 5.3 6zM390.6 1201l-5.3-6.2 6.8-5 5.2 6.2zM360.6 1205.4l-5.2-5.8 6.7-5.8 5.2 5.8zM402.3 1202.4l-5.2-6.5 6.7-4.7 5.2 6.4zM414 1204.3l-5.2-6.7 6.7-4.5 5.2 6.6zM372.3 1205.5l-5.2-6 6.7-5.5 5.2 6zM384 1206.1l-5.2-6.2 6.7-5.2 5.2 6.2zM395.7 1207.3l-5.2-6.5 6.7-5 5.2 6.5zM407.4 1208.9l-5.2-6.7 6.7-4.7 5.2 6.7zM365.8 1211.2l-5.3-6 6.7-5.8 5.2 6zM377.4 1211.6l-5.2-6.2 6.7-5.6 5.2 6.2zM389.1 1212.4l-5.2-6.4 6.7-5.3 5.2 6.5zM400.8 1213.8l-5.2-6.7 6.7-5 5.2 6.7zM370.9 1217.3l-5.2-6.2 6.6-5.8 5.3 6.2zM382.5 1217.9l-5.2-6.5 6.7-5.5 5.2 6.4zM394.2 1219l-5.2-6.7 6.7-5.3 5.2 6.7zM376 1223.6l-5.2-6.5 6.7-5.8 5.2 6.5zM387.6 1224.4l-5.2-6.7 6.7-5.5 5.2 6.7zM381.1 1230.1l-5.2-6.7 6.7-5.8 5.2 6.7z"/><path d="M381.1 1230L376 1223.4L370.9 1217.1L365.8 1211.1L360.7 1205.2L355.5 1199.6L350.4 1194.3L345.2 1189.1L340 1184.2L334.9 1179.5L329.7 1175.1L324.5 1170.8L319.3 1166.8L314.1 1163L308.9 1159.4L303.7 1155.9L298.5 1152.7L293.3 1149.8L288.1 1147L282.9 1144.4L277.7 1141.9L272.5 1139.7L267.3 1137.7L262.1 1135.9L256.9 1134.2L251.8 1132.7L246.6 1131.4L241.4 1130.3L236.3 1129.4L231.1 1128.6L226 1128L220.9 1127.6L215.8 1127.3L210.7 1127.2L205.6 1127.2L200.5 1127.4L195.4 1127.8L190.4 1128.2L185.4 1128.9L180.4 1129.7L175.4 1130.6M175.4 1130.6L181.4 1124.6L187.4 1118.8L193.5 1113.2L199.6 1107.8L205.7 1102.6L211.9 1097.6L218.1 1092.8L224.3 1088.2L230.5 1083.9L236.7 1079.7L243 1075.7L249.3 1071.9L255.6 1068.3L261.9 1064.9L268.3 1061.8L274.6 1058.7L281 1055.9L287.4 1053.3L293.8 1050.9L300.2 1048.6L306.6 1046.6L313 1044.7L319.5 1043L325.9 1041.5L332.4 1040.1L338.8 1039L345.3 1038L351.8 1037.2L358.2 1036.6L364.7 1036.2L371.2 1035.9L377.7 1035.8L384.1 1035.9L390.6 1036.1L397 1036.5L403.5 1037.1L409.9 1037.8L416.4 1038.8L422.8 1039.8L429.2 1041.1M429.2 1041.1L434.7 1041.4L440.3 1041.8L445.8 1042.4L451.3 1043.1L456.8 1044L462.4 1045L467.9 1046.2L473.4 1047.6L478.9 1049.1L484.4 1050.7L489.9 1052.5L495.4 1054.5L500.9 1056.6L506.4 1058.9L511.8 1061.4L517.3 1064L522.7 1066.8L528.2 1069.7L533.6 1072.9L539 1076.1L544.4 1079.6L549.8 1083.2L555.1 1087L560.5 1091L565.8 1095.2L571.1 1099.5L576.4 1104L581.6 1108.7L586.9 1113.6L592.1 1118.6L597.3 1123.9L602.5 1129.3L607.6 1134.9L612.8 1140.7L617.9 1146.7L622.9 1152.8L628 1159.2L633 1165.7L638 1172.5L642.9 1179.4M642.9 1179.4L636.7 1177L630.4 1174.6L624.1 1172.5L617.7 1170.5L611.3 1168.7L604.9 1167L598.5 1165.5L592.1 1164.2L585.6 1163L579.1 1162.1L572.6 1161.3L566.1 1160.7L559.6 1160.3L553.1 1160.1L546.5 1160L539.9 1160.2L533.3 1160.5L526.8 1161.1L520.1 1161.9L513.5 1162.9L506.9 1164L500.3 1165.4L493.7 1167L487 1168.9L480.4 1170.9L473.7 1173.2L467.1 1175.7L460.4 1178.4L453.8 1181.4L447.2 1184.6L440.5 1188L433.9 1191.7L427.3 1195.6L420.6 1199.7L414 1204.1L407.4 1208.8L400.8 1213.7L394.2 1218.9L387.6 1224.3L381.1 1230" fill="none" stroke="#000" stroke-width="1.20" stroke-opacity="0.60"/></g>
<path d="M168.4 1028.0h.1M170.6 1061.0h.1M172.9 1094.4h.1M175.2 1128.0h.1M177.5 1161.6h.1M179.7 1194.6h.1" stroke="#d22" stroke-width="2.2" stroke-linecap="round"/>
<text x="124.8" y="1031.7" font-size="22.0">95.0</text>
<text x="125.5" y="1064.4" font-size="22.0">90.0</text>
<text x="125.5" y="1096.2" font-size="22.0">85.0</text>
<text x="125.2" y="1128.8" font-size="22.0">80.0</text>
<text x="128.6" y="1163.0" font-size="22.0">75.0</text>
<text x="131.6" y="1197.9" font-size="22.0">70.0</text>
<text x="141.5" y="1264.2" font-size="22.0">73.0</text>
<text x="181.0" y="1286.3" font-size="22.0">63.8</text>
<text x="218.3" y="1302.0" font-size="22.0">54.6</text>
<text x="256.7" y="1316.5" font-size="22.0">45.4</text>
<text x="295.6" y="1331.8" font-size="22.0">36.2</text>
<text x="338.2" y="1348.4" font-size="22.0">37.0</text>
<text x="390.0" y="1350.9" font-size="22.0">32.0</text>
<text x="446.2" y="1339.3" font-size="22.0">38.0</text>
<text x="508.0" y="1323.8" font-size="22.0">44.0</text>
<text x="561.0" y="1306.2" font-size="22.0">50.0</text>
<text x="636.0" y="1287.7" font-size="22.0">56.0</text>
<text x="115.7" y="1247.5" font-size="22.0" transform="rotate(-90.00 115.7 1247.5)">Rate of residual filmY1/%</text>
<text x="18.0" y="1278.0" font-size="22.0" transform="rotate(24.40 18.0 1278.0)">Depth of be in the field of picking</text>
<text x="73.0" y="1333.0" font-size="22.0" transform="rotate(24.40 73.0 1333.0)">mechanism <tspan font-style="italic" font-weight="normal">x</tspan><tspan font-size="11" font-weight="normal" dy="3">2</tspan><tspan font-weight="normal" dy="-3">/mm</tspan></text>
<text x="349.0" y="1430.0" font-size="22.0" transform="rotate(-14.60 349.0 1430.0)">Working angle of clamping conveyor<tspan font-weight="normal">x</tspan><tspan font-size="11" font-weight="normal" dy="3">3</tspan><tspan font-size="12" font-weight="normal" dy="-4">/°</tspan></text>
<text x="365" y="1466" font-size="28" text-anchor="middle" font-weight="normal">(<tspan font-weight="bold">c</tspan>)</text>
</svg></body></html>
